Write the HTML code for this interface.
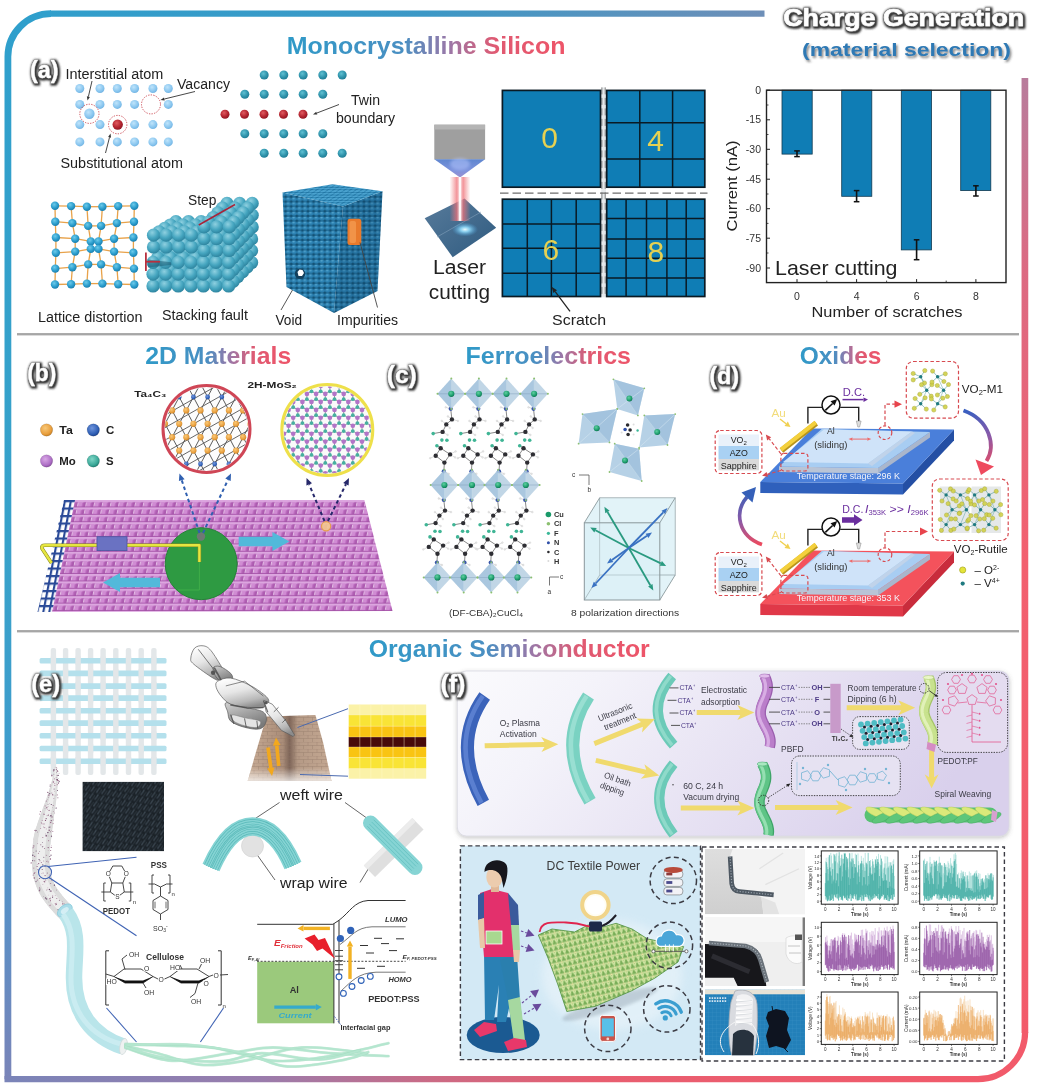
<!DOCTYPE html>
<html><head><meta charset="utf-8"><title>Charge Generation (material selection)</title>
<style>html,body{margin:0;padding:0;background:#fff}svg{display:block;filter:blur(0.7px)}text{font-family:"Liberation Sans",sans-serif}</style>
</head><body>
<svg width="1040" height="1087" viewBox="0 0 1040 1087">
<rect width="1040" height="1087" fill="#fff"/>
<!-- s_defs -->
<defs>
<filter id="lblsh" x="-30%" y="-30%" width="170%" height="170%"><feMorphology in="SourceAlpha" operator="dilate" radius="0.5" result="d"/><feGaussianBlur in="d" stdDeviation="1.2" result="b"/><feOffset in="b" dx="1.1" dy="0.9" result="o"/><feComponentTransfer in="o" result="o2"><feFuncA type="linear" slope="1.15"/></feComponentTransfer><feFlood flood-color="#3c3c3c"/><feComposite in2="o2" operator="in" result="sh"/><feMerge><feMergeNode in="sh"/><feMergeNode in="SourceGraphic"/></feMerge></filter>
<filter id="txtsh" x="-10%" y="-30%" width="130%" height="180%"><feDropShadow dx="1.5" dy="2" stdDeviation="1.2" flood-color="#333" flood-opacity="0.6"/></filter>
<filter id="soft"><feGaussianBlur stdDeviation="0.6"/></filter>
<filter id="soft2"><feGaussianBlur stdDeviation="1.5"/></filter>
<filter id="soft4"><feGaussianBlur stdDeviation="4"/></filter>
<filter id="boxsh" x="-5%" y="-5%" width="110%" height="115%"><feDropShadow dx="0" dy="1.5" stdDeviation="2" flood-color="#555" flood-opacity="0.35"/></filter>
<linearGradient id="gTitle" x1="0" y1="0" x2="1" y2="0"><stop offset="0" stop-color="#2f9ac8"/><stop offset="0.42" stop-color="#4a8fc2"/><stop offset="0.58" stop-color="#9a78a8"/><stop offset="0.75" stop-color="#e05a72"/><stop offset="1" stop-color="#ee5468"/></linearGradient>
<linearGradient id="gTop" gradientUnits="userSpaceOnUse" x1="8" y1="0" x2="765" y2="0"><stop offset="0" stop-color="#2f9fcc"/><stop offset="0.55" stop-color="#3c98c6"/><stop offset="1" stop-color="#6e8fb8"/></linearGradient>
<linearGradient id="gLeft" gradientUnits="userSpaceOnUse" x1="0" y1="13" x2="0" y2="1080"><stop offset="0" stop-color="#2f9fcc"/><stop offset="0.5" stop-color="#38a2ca"/><stop offset="0.7" stop-color="#3f9ccc"/><stop offset="0.85" stop-color="#5b8fc5"/><stop offset="1" stop-color="#7a84b8"/></linearGradient>
<linearGradient id="gBot" gradientUnits="userSpaceOnUse" x1="8" y1="0" x2="1026" y2="0"><stop offset="0" stop-color="#7a84b8"/><stop offset="0.25" stop-color="#9a7cac"/><stop offset="0.42" stop-color="#cc6a84"/><stop offset="0.58" stop-color="#e85e70"/><stop offset="1" stop-color="#f25a6a"/></linearGradient>
<linearGradient id="gRight" gradientUnits="userSpaceOnUse" x1="0" y1="78" x2="0" y2="1040"><stop offset="0" stop-color="#b87c9c"/><stop offset="0.2" stop-color="#dc6a82"/><stop offset="0.5" stop-color="#f2606f"/><stop offset="1" stop-color="#f25a6a"/></linearGradient>
<radialGradient id="gAtomLB" cx="0.4" cy="0.35" r="0.7"><stop offset="0" stop-color="#bfe4fb"/><stop offset="0.7" stop-color="#86c4ee"/><stop offset="1" stop-color="#6fb0e0"/></radialGradient>
<radialGradient id="gAtomTeal" cx="0.4" cy="0.35" r="0.7"><stop offset="0" stop-color="#5fc0d2"/><stop offset="0.6" stop-color="#2f93ab"/><stop offset="1" stop-color="#1f7a92"/></radialGradient>
<radialGradient id="gAtomRed" cx="0.4" cy="0.35" r="0.7"><stop offset="0" stop-color="#e05a60"/><stop offset="0.6" stop-color="#b42530"/><stop offset="1" stop-color="#8a1420"/></radialGradient>
<radialGradient id="gAtomB" cx="0.4" cy="0.35" r="0.7"><stop offset="0" stop-color="#6ccaea"/><stop offset="0.6" stop-color="#2a9ccc"/><stop offset="1" stop-color="#1a7aa8"/></radialGradient>
<radialGradient id="gAtomS" cx="0.4" cy="0.3" r="0.75"><stop offset="0" stop-color="#8ed0e0"/><stop offset="0.55" stop-color="#46a6c0"/><stop offset="1" stop-color="#2a7f9a"/></radialGradient>
</defs>
<!-- s_frame -->
<path d="M764.5,13.6 H50" fill="none" stroke="url(#gTop)" stroke-width="6.3" />
<path d="M51,13.6 A43.1,43.1 0 0 0 7.9,56.7 V1079.2" fill="none" stroke="url(#gLeft)" stroke-width="6.8" stroke-linejoin="round"/>
<path d="M4.5,1079.2 H978 A47.1,47.1 0 0 0 1025.1,1032.1" fill="none" stroke="url(#gBot)" stroke-width="6.2" />
<path d="M1024.9,78 V1033" fill="none" stroke="url(#gRight)" stroke-width="6.7" />
<line x1="17.0" y1="334.8" x2="1019.0" y2="334.8" stroke="#c4c4c4" stroke-width="2.4" opacity="0.6"/>
<line x1="17.0" y1="333.9" x2="1019.0" y2="333.9" stroke="#959595" stroke-width="1.5" />
<line x1="17.0" y1="631.8" x2="1019.0" y2="631.8" stroke="#c4c4c4" stroke-width="2.4" opacity="0.6"/>
<line x1="17.0" y1="630.9" x2="1019.0" y2="630.9" stroke="#959595" stroke-width="1.5" />
<text x="783.3" y="25.6" font-size="23.5" font-weight="bold" fill="#707070" textLength="240.8" lengthAdjust="spacingAndGlyphs" stroke="#707070" stroke-width="1.5" stroke-linejoin="round" filter="url(#lblsh)">Charge Generation</text>
<text x="783.3" y="25.6" font-size="23.5" font-weight="bold" fill="#fff" textLength="240.8" lengthAdjust="spacingAndGlyphs" stroke="#fff" stroke-width="0.6">Charge Generation</text>
<text x="802.0" y="56.4" font-size="19" font-weight="bold" fill="#2e79b4" textLength="209.0" lengthAdjust="spacingAndGlyphs" filter="url(#txtsh)">(material selection)</text>
<text x="286.7" y="54.0" font-size="24" font-weight="bold" fill="url(#gTitle)" textLength="278.7" lengthAdjust="spacingAndGlyphs">Monocrystalline Silicon</text>
<text x="145.2" y="363.6" font-size="24" font-weight="bold" fill="url(#gTitle)" textLength="146.0" lengthAdjust="spacingAndGlyphs">2D Materials</text>
<text x="465.5" y="363.6" font-size="24" font-weight="bold" fill="url(#gTitle)" textLength="165.5" lengthAdjust="spacingAndGlyphs">Ferroelectrics</text>
<text x="799.7" y="363.6" font-size="24" font-weight="bold" fill="url(#gTitle)" textLength="81.7" lengthAdjust="spacingAndGlyphs">Oxides</text>
<text x="368.7" y="656.6" font-size="23.5" font-weight="bold" fill="url(#gTitle)" textLength="281.0" lengthAdjust="spacingAndGlyphs">Organic Semiconductor</text>
<!-- s_a -->
<text x="30.0" y="78.0" font-size="23.5" font-weight="bold" fill="#777" textLength="28.5" lengthAdjust="spacingAndGlyphs" stroke="#777" stroke-width="1.1" stroke-linejoin="round" filter="url(#lblsh)">(a)</text><text x="30.0" y="78.0" font-size="23.5" font-weight="bold" fill="#fff" textLength="28.5" lengthAdjust="spacingAndGlyphs" stroke="#fff" stroke-width="0.3">(a)</text>
<circle cx="79.8" cy="88.5" r="4.5" fill="url(#gAtomLB)" />
<circle cx="100.0" cy="88.5" r="4.5" fill="url(#gAtomLB)" />
<circle cx="117.3" cy="88.5" r="4.5" fill="url(#gAtomLB)" />
<circle cx="134.6" cy="88.5" r="4.5" fill="url(#gAtomLB)" />
<circle cx="152.9" cy="88.5" r="4.5" fill="url(#gAtomLB)" />
<circle cx="168.3" cy="88.5" r="4.5" fill="url(#gAtomLB)" />
<circle cx="79.8" cy="104.4" r="4.5" fill="url(#gAtomLB)" />
<circle cx="100.0" cy="104.4" r="4.5" fill="url(#gAtomLB)" />
<circle cx="117.3" cy="104.4" r="4.5" fill="url(#gAtomLB)" />
<circle cx="134.6" cy="104.4" r="4.5" fill="url(#gAtomLB)" />
<circle cx="168.3" cy="104.4" r="4.5" fill="url(#gAtomLB)" />
<circle cx="79.8" cy="124.6" r="4.5" fill="url(#gAtomLB)" />
<circle cx="100.0" cy="124.6" r="4.5" fill="url(#gAtomLB)" />
<circle cx="134.6" cy="124.6" r="4.5" fill="url(#gAtomLB)" />
<circle cx="152.9" cy="124.6" r="4.5" fill="url(#gAtomLB)" />
<circle cx="168.3" cy="124.6" r="4.5" fill="url(#gAtomLB)" />
<circle cx="79.8" cy="141.9" r="4.5" fill="url(#gAtomLB)" />
<circle cx="100.0" cy="141.9" r="4.5" fill="url(#gAtomLB)" />
<circle cx="117.3" cy="141.9" r="4.5" fill="url(#gAtomLB)" />
<circle cx="134.6" cy="141.9" r="4.5" fill="url(#gAtomLB)" />
<circle cx="152.9" cy="141.9" r="4.5" fill="url(#gAtomLB)" />
<circle cx="168.3" cy="141.9" r="4.5" fill="url(#gAtomLB)" />
<circle cx="89.4" cy="113.8" r="5.2" fill="url(#gAtomLB)" />
<circle cx="89.4" cy="113.8" r="9.6" fill="none" stroke="#c8404a" stroke-width="0.9" stroke-dasharray="1.3 1.3"/>
<circle cx="151.0" cy="104.4" r="9.5" fill="none" stroke="#c8404a" stroke-width="0.9" stroke-dasharray="1.3 1.3"/>
<circle cx="117.7" cy="124.6" r="5.2" fill="url(#gAtomRed)" />
<circle cx="117.7" cy="124.6" r="9.2" fill="none" stroke="#c8404a" stroke-width="0.9" stroke-dasharray="1.3 1.3"/>
<text x="65.4" y="79.0" font-size="14" fill="#222" textLength="98.0" lengthAdjust="spacingAndGlyphs">Interstitial atom</text>
<text x="177.0" y="88.8" font-size="14" fill="#222" textLength="53.0" lengthAdjust="spacingAndGlyphs">Vacancy</text>
<text x="60.5" y="167.5" font-size="14" fill="#222" textLength="122.5" lengthAdjust="spacingAndGlyphs">Substitutional atom</text>
<line x1="92.0" y1="81.0" x2="88.4" y2="96.6" stroke="#333" stroke-width="0.9" /><polygon points="87.5,100.5 86.9,96.3 89.9,96.9" fill="#333"/>
<line x1="195.0" y1="91.5" x2="164.4" y2="99.0" stroke="#333" stroke-width="0.9" /><polygon points="160.5,100.0 164.0,97.6 164.7,100.5" fill="#333"/>
<line x1="105.5" y1="153.0" x2="109.5" y2="137.4" stroke="#333" stroke-width="0.9" /><polygon points="110.5,133.5 111.0,137.7 108.1,137.0" fill="#333"/>
<circle cx="264.2" cy="75.0" r="4.5" fill="url(#gAtomTeal)" />
<circle cx="283.8" cy="75.0" r="4.5" fill="url(#gAtomTeal)" />
<circle cx="303.2" cy="75.0" r="4.5" fill="url(#gAtomTeal)" />
<circle cx="322.8" cy="75.0" r="4.5" fill="url(#gAtomTeal)" />
<circle cx="342.2" cy="75.0" r="4.5" fill="url(#gAtomTeal)" />
<circle cx="244.8" cy="94.2" r="4.5" fill="url(#gAtomTeal)" />
<circle cx="264.2" cy="94.2" r="4.5" fill="url(#gAtomTeal)" />
<circle cx="283.8" cy="94.2" r="4.5" fill="url(#gAtomTeal)" />
<circle cx="303.2" cy="94.2" r="4.5" fill="url(#gAtomTeal)" />
<circle cx="322.8" cy="94.2" r="4.5" fill="url(#gAtomTeal)" />
<circle cx="225.0" cy="114.2" r="4.5" fill="url(#gAtomRed)" />
<circle cx="244.5" cy="114.2" r="4.5" fill="url(#gAtomRed)" />
<circle cx="264.0" cy="114.2" r="4.5" fill="url(#gAtomRed)" />
<circle cx="283.5" cy="114.2" r="4.5" fill="url(#gAtomRed)" />
<circle cx="303.0" cy="114.2" r="4.5" fill="url(#gAtomRed)" />
<circle cx="244.8" cy="133.8" r="4.5" fill="url(#gAtomTeal)" />
<circle cx="264.2" cy="133.8" r="4.5" fill="url(#gAtomTeal)" />
<circle cx="283.8" cy="133.8" r="4.5" fill="url(#gAtomTeal)" />
<circle cx="303.2" cy="133.8" r="4.5" fill="url(#gAtomTeal)" />
<circle cx="322.8" cy="133.8" r="4.5" fill="url(#gAtomTeal)" />
<circle cx="264.2" cy="153.2" r="4.5" fill="url(#gAtomTeal)" />
<circle cx="283.8" cy="153.2" r="4.5" fill="url(#gAtomTeal)" />
<circle cx="303.2" cy="153.2" r="4.5" fill="url(#gAtomTeal)" />
<circle cx="322.8" cy="153.2" r="4.5" fill="url(#gAtomTeal)" />
<circle cx="342.2" cy="153.2" r="4.5" fill="url(#gAtomTeal)" />
<text x="351.0" y="104.6" font-size="14" fill="#222" textLength="29.0" lengthAdjust="spacingAndGlyphs">Twin</text>
<text x="336.0" y="122.6" font-size="14" fill="#222" textLength="59.0" lengthAdjust="spacingAndGlyphs">boundary</text>
<line x1="339.0" y1="104.5" x2="316.7" y2="113.1" stroke="#333" stroke-width="0.9" /><polygon points="313.0,114.5 316.2,111.7 317.3,114.5" fill="#333"/>
<line x1="55.0" y1="205.8" x2="71.1" y2="206.1" stroke="#e8a24a" stroke-width="1.3" />
<line x1="55.0" y1="205.8" x2="55.3" y2="221.7" stroke="#e8a24a" stroke-width="1.3" />
<line x1="71.1" y1="206.1" x2="86.9" y2="206.7" stroke="#e8a24a" stroke-width="1.3" />
<line x1="71.1" y1="206.1" x2="72.4" y2="223.1" stroke="#e8a24a" stroke-width="1.3" />
<line x1="86.9" y1="206.7" x2="102.4" y2="206.7" stroke="#e8a24a" stroke-width="1.3" />
<line x1="86.9" y1="206.7" x2="88.2" y2="225.9" stroke="#e8a24a" stroke-width="1.3" />
<line x1="102.4" y1="206.7" x2="118.2" y2="206.1" stroke="#e8a24a" stroke-width="1.3" />
<line x1="102.4" y1="206.7" x2="101.1" y2="225.9" stroke="#e8a24a" stroke-width="1.3" />
<line x1="118.2" y1="206.1" x2="134.3" y2="205.8" stroke="#e8a24a" stroke-width="1.3" />
<line x1="118.2" y1="206.1" x2="116.9" y2="223.1" stroke="#e8a24a" stroke-width="1.3" />
<line x1="134.3" y1="205.8" x2="134.0" y2="221.7" stroke="#e8a24a" stroke-width="1.3" />
<line x1="55.3" y1="221.7" x2="72.4" y2="223.1" stroke="#e8a24a" stroke-width="1.3" />
<line x1="55.3" y1="221.7" x2="55.9" y2="237.5" stroke="#e8a24a" stroke-width="1.3" />
<line x1="72.4" y1="223.1" x2="88.2" y2="225.9" stroke="#e8a24a" stroke-width="1.3" />
<line x1="72.4" y1="223.1" x2="75.2" y2="238.7" stroke="#e8a24a" stroke-width="1.3" />
<line x1="88.2" y1="225.9" x2="101.1" y2="225.9" stroke="#e8a24a" stroke-width="1.3" />
<line x1="88.2" y1="225.9" x2="90.8" y2="241.4" stroke="#e8a24a" stroke-width="1.3" />
<line x1="101.1" y1="225.9" x2="116.9" y2="223.1" stroke="#e8a24a" stroke-width="1.3" />
<line x1="101.1" y1="225.9" x2="98.5" y2="241.4" stroke="#e8a24a" stroke-width="1.3" />
<line x1="116.9" y1="223.1" x2="134.0" y2="221.7" stroke="#e8a24a" stroke-width="1.3" />
<line x1="116.9" y1="223.1" x2="114.1" y2="238.7" stroke="#e8a24a" stroke-width="1.3" />
<line x1="134.0" y1="221.7" x2="133.4" y2="237.5" stroke="#e8a24a" stroke-width="1.3" />
<line x1="55.9" y1="237.5" x2="75.2" y2="238.7" stroke="#e8a24a" stroke-width="1.3" />
<line x1="55.9" y1="237.5" x2="55.9" y2="252.8" stroke="#e8a24a" stroke-width="1.3" />
<line x1="75.2" y1="238.7" x2="90.8" y2="241.4" stroke="#e8a24a" stroke-width="1.3" />
<line x1="75.2" y1="238.7" x2="75.2" y2="251.6" stroke="#e8a24a" stroke-width="1.3" />
<line x1="90.8" y1="241.4" x2="98.5" y2="241.4" stroke="#e8a24a" stroke-width="1.3" />
<line x1="90.8" y1="241.4" x2="90.8" y2="248.9" stroke="#e8a24a" stroke-width="1.3" />
<line x1="98.5" y1="241.4" x2="114.1" y2="238.7" stroke="#e8a24a" stroke-width="1.3" />
<line x1="98.5" y1="241.4" x2="98.5" y2="248.9" stroke="#e8a24a" stroke-width="1.3" />
<line x1="114.1" y1="238.7" x2="133.4" y2="237.5" stroke="#e8a24a" stroke-width="1.3" />
<line x1="114.1" y1="238.7" x2="114.1" y2="251.6" stroke="#e8a24a" stroke-width="1.3" />
<line x1="133.4" y1="237.5" x2="133.4" y2="252.8" stroke="#e8a24a" stroke-width="1.3" />
<line x1="55.9" y1="252.8" x2="75.2" y2="251.6" stroke="#e8a24a" stroke-width="1.3" />
<line x1="55.9" y1="252.8" x2="55.3" y2="268.6" stroke="#e8a24a" stroke-width="1.3" />
<line x1="75.2" y1="251.6" x2="90.8" y2="248.9" stroke="#e8a24a" stroke-width="1.3" />
<line x1="75.2" y1="251.6" x2="72.4" y2="267.2" stroke="#e8a24a" stroke-width="1.3" />
<line x1="90.8" y1="248.9" x2="98.5" y2="248.9" stroke="#e8a24a" stroke-width="1.3" />
<line x1="90.8" y1="248.9" x2="88.2" y2="264.4" stroke="#e8a24a" stroke-width="1.3" />
<line x1="98.5" y1="248.9" x2="114.1" y2="251.6" stroke="#e8a24a" stroke-width="1.3" />
<line x1="98.5" y1="248.9" x2="101.1" y2="264.4" stroke="#e8a24a" stroke-width="1.3" />
<line x1="114.1" y1="251.6" x2="133.4" y2="252.8" stroke="#e8a24a" stroke-width="1.3" />
<line x1="114.1" y1="251.6" x2="116.9" y2="267.2" stroke="#e8a24a" stroke-width="1.3" />
<line x1="133.4" y1="252.8" x2="134.0" y2="268.6" stroke="#e8a24a" stroke-width="1.3" />
<line x1="55.3" y1="268.6" x2="72.4" y2="267.2" stroke="#e8a24a" stroke-width="1.3" />
<line x1="55.3" y1="268.6" x2="55.0" y2="284.5" stroke="#e8a24a" stroke-width="1.3" />
<line x1="72.4" y1="267.2" x2="88.2" y2="264.4" stroke="#e8a24a" stroke-width="1.3" />
<line x1="72.4" y1="267.2" x2="71.1" y2="284.2" stroke="#e8a24a" stroke-width="1.3" />
<line x1="88.2" y1="264.4" x2="101.1" y2="264.4" stroke="#e8a24a" stroke-width="1.3" />
<line x1="88.2" y1="264.4" x2="86.9" y2="283.6" stroke="#e8a24a" stroke-width="1.3" />
<line x1="101.1" y1="264.4" x2="116.9" y2="267.2" stroke="#e8a24a" stroke-width="1.3" />
<line x1="101.1" y1="264.4" x2="102.4" y2="283.6" stroke="#e8a24a" stroke-width="1.3" />
<line x1="116.9" y1="267.2" x2="134.0" y2="268.6" stroke="#e8a24a" stroke-width="1.3" />
<line x1="116.9" y1="267.2" x2="118.2" y2="284.2" stroke="#e8a24a" stroke-width="1.3" />
<line x1="134.0" y1="268.6" x2="134.3" y2="284.5" stroke="#e8a24a" stroke-width="1.3" />
<line x1="55.0" y1="284.5" x2="71.1" y2="284.2" stroke="#e8a24a" stroke-width="1.3" />
<line x1="71.1" y1="284.2" x2="86.9" y2="283.6" stroke="#e8a24a" stroke-width="1.3" />
<line x1="86.9" y1="283.6" x2="102.4" y2="283.6" stroke="#e8a24a" stroke-width="1.3" />
<line x1="102.4" y1="283.6" x2="118.2" y2="284.2" stroke="#e8a24a" stroke-width="1.3" />
<line x1="118.2" y1="284.2" x2="134.3" y2="284.5" stroke="#e8a24a" stroke-width="1.3" />
<circle cx="55.0" cy="205.8" r="4.2" fill="url(#gAtomB)" />
<circle cx="71.1" cy="206.1" r="4.2" fill="url(#gAtomB)" />
<circle cx="86.9" cy="206.7" r="4.2" fill="url(#gAtomB)" />
<circle cx="102.4" cy="206.7" r="4.2" fill="url(#gAtomB)" />
<circle cx="118.2" cy="206.1" r="4.2" fill="url(#gAtomB)" />
<circle cx="134.3" cy="205.8" r="4.2" fill="url(#gAtomB)" />
<circle cx="55.3" cy="221.7" r="4.2" fill="url(#gAtomB)" />
<circle cx="72.4" cy="223.1" r="4.2" fill="url(#gAtomB)" />
<circle cx="88.2" cy="225.9" r="4.2" fill="url(#gAtomB)" />
<circle cx="101.1" cy="225.9" r="4.2" fill="url(#gAtomB)" />
<circle cx="116.9" cy="223.1" r="4.2" fill="url(#gAtomB)" />
<circle cx="134.0" cy="221.7" r="4.2" fill="url(#gAtomB)" />
<circle cx="55.9" cy="237.5" r="4.2" fill="url(#gAtomB)" />
<circle cx="75.2" cy="238.7" r="4.2" fill="url(#gAtomB)" />
<circle cx="90.8" cy="241.4" r="4.2" fill="url(#gAtomB)" />
<circle cx="98.5" cy="241.4" r="4.2" fill="url(#gAtomB)" />
<circle cx="114.1" cy="238.7" r="4.2" fill="url(#gAtomB)" />
<circle cx="133.4" cy="237.5" r="4.2" fill="url(#gAtomB)" />
<circle cx="55.9" cy="252.8" r="4.2" fill="url(#gAtomB)" />
<circle cx="75.2" cy="251.6" r="4.2" fill="url(#gAtomB)" />
<circle cx="90.8" cy="248.9" r="4.2" fill="url(#gAtomB)" />
<circle cx="98.5" cy="248.9" r="4.2" fill="url(#gAtomB)" />
<circle cx="114.1" cy="251.6" r="4.2" fill="url(#gAtomB)" />
<circle cx="133.4" cy="252.8" r="4.2" fill="url(#gAtomB)" />
<circle cx="55.3" cy="268.6" r="4.2" fill="url(#gAtomB)" />
<circle cx="72.4" cy="267.2" r="4.2" fill="url(#gAtomB)" />
<circle cx="88.2" cy="264.4" r="4.2" fill="url(#gAtomB)" />
<circle cx="101.1" cy="264.4" r="4.2" fill="url(#gAtomB)" />
<circle cx="116.9" cy="267.2" r="4.2" fill="url(#gAtomB)" />
<circle cx="134.0" cy="268.6" r="4.2" fill="url(#gAtomB)" />
<circle cx="55.0" cy="284.5" r="4.2" fill="url(#gAtomB)" />
<circle cx="71.1" cy="284.2" r="4.2" fill="url(#gAtomB)" />
<circle cx="86.9" cy="283.6" r="4.2" fill="url(#gAtomB)" />
<circle cx="102.4" cy="283.6" r="4.2" fill="url(#gAtomB)" />
<circle cx="118.2" cy="284.2" r="4.2" fill="url(#gAtomB)" />
<circle cx="134.3" cy="284.5" r="4.2" fill="url(#gAtomB)" />
<text x="38.0" y="322.0" font-size="14" fill="#222" textLength="104.5" lengthAdjust="spacingAndGlyphs">Lattice distortion</text>
<g><circle cx="176.0" cy="262.5" r="6.6" fill="url(#gAtomS)" /><circle cx="188.6" cy="262.5" r="6.6" fill="url(#gAtomS)" /><circle cx="201.2" cy="262.5" r="6.6" fill="url(#gAtomS)" /><circle cx="213.8" cy="262.5" r="6.6" fill="url(#gAtomS)" /><circle cx="226.4" cy="262.5" r="6.6" fill="url(#gAtomS)" /><circle cx="239.0" cy="262.5" r="6.6" fill="url(#gAtomS)" /><circle cx="251.6" cy="262.5" r="6.6" fill="url(#gAtomS)" /><circle cx="176.0" cy="250.7" r="6.6" fill="url(#gAtomS)" /><circle cx="188.6" cy="250.7" r="6.6" fill="url(#gAtomS)" /><circle cx="201.2" cy="250.7" r="6.6" fill="url(#gAtomS)" /><circle cx="213.8" cy="250.7" r="6.6" fill="url(#gAtomS)" /><circle cx="226.4" cy="250.7" r="6.6" fill="url(#gAtomS)" /><circle cx="239.0" cy="250.7" r="6.6" fill="url(#gAtomS)" /><circle cx="251.6" cy="250.7" r="6.6" fill="url(#gAtomS)" /><circle cx="176.0" cy="238.9" r="6.6" fill="url(#gAtomS)" /><circle cx="188.6" cy="238.9" r="6.6" fill="url(#gAtomS)" /><circle cx="201.2" cy="238.9" r="6.6" fill="url(#gAtomS)" /><circle cx="213.8" cy="238.9" r="6.6" fill="url(#gAtomS)" /><circle cx="226.4" cy="238.9" r="6.6" fill="url(#gAtomS)" /><circle cx="239.0" cy="238.9" r="6.6" fill="url(#gAtomS)" /><circle cx="251.6" cy="238.9" r="6.6" fill="url(#gAtomS)" /><circle cx="171.4" cy="267.2" r="6.6" fill="url(#gAtomS)" /><circle cx="184.0" cy="267.2" r="6.6" fill="url(#gAtomS)" /><circle cx="196.6" cy="267.2" r="6.6" fill="url(#gAtomS)" /><circle cx="209.2" cy="267.2" r="6.6" fill="url(#gAtomS)" /><circle cx="221.8" cy="267.2" r="6.6" fill="url(#gAtomS)" /><circle cx="234.4" cy="267.2" r="6.6" fill="url(#gAtomS)" /><circle cx="247.0" cy="267.2" r="6.6" fill="url(#gAtomS)" /><circle cx="171.4" cy="255.4" r="6.6" fill="url(#gAtomS)" /><circle cx="184.0" cy="255.4" r="6.6" fill="url(#gAtomS)" /><circle cx="196.6" cy="255.4" r="6.6" fill="url(#gAtomS)" /><circle cx="209.2" cy="255.4" r="6.6" fill="url(#gAtomS)" /><circle cx="221.8" cy="255.4" r="6.6" fill="url(#gAtomS)" /><circle cx="234.4" cy="255.4" r="6.6" fill="url(#gAtomS)" /><circle cx="247.0" cy="255.4" r="6.6" fill="url(#gAtomS)" /><circle cx="171.4" cy="243.6" r="6.6" fill="url(#gAtomS)" /><circle cx="184.0" cy="243.6" r="6.6" fill="url(#gAtomS)" /><circle cx="196.6" cy="243.6" r="6.6" fill="url(#gAtomS)" /><circle cx="209.2" cy="243.6" r="6.6" fill="url(#gAtomS)" /><circle cx="221.8" cy="243.6" r="6.6" fill="url(#gAtomS)" /><circle cx="234.4" cy="243.6" r="6.6" fill="url(#gAtomS)" /><circle cx="247.0" cy="243.6" r="6.6" fill="url(#gAtomS)" /><circle cx="166.8" cy="271.9" r="6.6" fill="url(#gAtomS)" /><circle cx="179.4" cy="271.9" r="6.6" fill="url(#gAtomS)" /><circle cx="192.0" cy="271.9" r="6.6" fill="url(#gAtomS)" /><circle cx="204.6" cy="271.9" r="6.6" fill="url(#gAtomS)" /><circle cx="217.2" cy="271.9" r="6.6" fill="url(#gAtomS)" /><circle cx="229.8" cy="271.9" r="6.6" fill="url(#gAtomS)" /><circle cx="242.4" cy="271.9" r="6.6" fill="url(#gAtomS)" /><circle cx="166.8" cy="260.1" r="6.6" fill="url(#gAtomS)" /><circle cx="179.4" cy="260.1" r="6.6" fill="url(#gAtomS)" /><circle cx="192.0" cy="260.1" r="6.6" fill="url(#gAtomS)" /><circle cx="204.6" cy="260.1" r="6.6" fill="url(#gAtomS)" /><circle cx="217.2" cy="260.1" r="6.6" fill="url(#gAtomS)" /><circle cx="229.8" cy="260.1" r="6.6" fill="url(#gAtomS)" /><circle cx="242.4" cy="260.1" r="6.6" fill="url(#gAtomS)" /><circle cx="166.8" cy="248.3" r="6.6" fill="url(#gAtomS)" /><circle cx="179.4" cy="248.3" r="6.6" fill="url(#gAtomS)" /><circle cx="192.0" cy="248.3" r="6.6" fill="url(#gAtomS)" /><circle cx="204.6" cy="248.3" r="6.6" fill="url(#gAtomS)" /><circle cx="217.2" cy="248.3" r="6.6" fill="url(#gAtomS)" /><circle cx="229.8" cy="248.3" r="6.6" fill="url(#gAtomS)" /><circle cx="242.4" cy="248.3" r="6.6" fill="url(#gAtomS)" /><circle cx="162.2" cy="276.6" r="6.6" fill="url(#gAtomS)" /><circle cx="174.8" cy="276.6" r="6.6" fill="url(#gAtomS)" /><circle cx="187.4" cy="276.6" r="6.6" fill="url(#gAtomS)" /><circle cx="200.0" cy="276.6" r="6.6" fill="url(#gAtomS)" /><circle cx="212.6" cy="276.6" r="6.6" fill="url(#gAtomS)" /><circle cx="225.2" cy="276.6" r="6.6" fill="url(#gAtomS)" /><circle cx="237.8" cy="276.6" r="6.6" fill="url(#gAtomS)" /><circle cx="162.2" cy="264.8" r="6.6" fill="url(#gAtomS)" /><circle cx="174.8" cy="264.8" r="6.6" fill="url(#gAtomS)" /><circle cx="187.4" cy="264.8" r="6.6" fill="url(#gAtomS)" /><circle cx="200.0" cy="264.8" r="6.6" fill="url(#gAtomS)" /><circle cx="212.6" cy="264.8" r="6.6" fill="url(#gAtomS)" /><circle cx="225.2" cy="264.8" r="6.6" fill="url(#gAtomS)" /><circle cx="237.8" cy="264.8" r="6.6" fill="url(#gAtomS)" /><circle cx="162.2" cy="253.0" r="6.6" fill="url(#gAtomS)" /><circle cx="174.8" cy="253.0" r="6.6" fill="url(#gAtomS)" /><circle cx="187.4" cy="253.0" r="6.6" fill="url(#gAtomS)" /><circle cx="200.0" cy="253.0" r="6.6" fill="url(#gAtomS)" /><circle cx="212.6" cy="253.0" r="6.6" fill="url(#gAtomS)" /><circle cx="225.2" cy="253.0" r="6.6" fill="url(#gAtomS)" /><circle cx="237.8" cy="253.0" r="6.6" fill="url(#gAtomS)" /><circle cx="157.6" cy="281.3" r="6.6" fill="url(#gAtomS)" /><circle cx="170.2" cy="281.3" r="6.6" fill="url(#gAtomS)" /><circle cx="182.8" cy="281.3" r="6.6" fill="url(#gAtomS)" /><circle cx="195.4" cy="281.3" r="6.6" fill="url(#gAtomS)" /><circle cx="208.0" cy="281.3" r="6.6" fill="url(#gAtomS)" /><circle cx="220.6" cy="281.3" r="6.6" fill="url(#gAtomS)" /><circle cx="233.2" cy="281.3" r="6.6" fill="url(#gAtomS)" /><circle cx="157.6" cy="269.5" r="6.6" fill="url(#gAtomS)" /><circle cx="170.2" cy="269.5" r="6.6" fill="url(#gAtomS)" /><circle cx="182.8" cy="269.5" r="6.6" fill="url(#gAtomS)" /><circle cx="195.4" cy="269.5" r="6.6" fill="url(#gAtomS)" /><circle cx="208.0" cy="269.5" r="6.6" fill="url(#gAtomS)" /><circle cx="220.6" cy="269.5" r="6.6" fill="url(#gAtomS)" /><circle cx="233.2" cy="269.5" r="6.6" fill="url(#gAtomS)" /><circle cx="157.6" cy="257.7" r="6.6" fill="url(#gAtomS)" /><circle cx="170.2" cy="257.7" r="6.6" fill="url(#gAtomS)" /><circle cx="182.8" cy="257.7" r="6.6" fill="url(#gAtomS)" /><circle cx="195.4" cy="257.7" r="6.6" fill="url(#gAtomS)" /><circle cx="208.0" cy="257.7" r="6.6" fill="url(#gAtomS)" /><circle cx="220.6" cy="257.7" r="6.6" fill="url(#gAtomS)" /><circle cx="233.2" cy="257.7" r="6.6" fill="url(#gAtomS)" /><circle cx="153.0" cy="286.0" r="6.6" fill="url(#gAtomS)" /><circle cx="165.6" cy="286.0" r="6.6" fill="url(#gAtomS)" /><circle cx="178.2" cy="286.0" r="6.6" fill="url(#gAtomS)" /><circle cx="190.8" cy="286.0" r="6.6" fill="url(#gAtomS)" /><circle cx="203.4" cy="286.0" r="6.6" fill="url(#gAtomS)" /><circle cx="216.0" cy="286.0" r="6.6" fill="url(#gAtomS)" /><circle cx="228.6" cy="286.0" r="6.6" fill="url(#gAtomS)" /><circle cx="153.0" cy="274.2" r="6.6" fill="url(#gAtomS)" /><circle cx="165.6" cy="274.2" r="6.6" fill="url(#gAtomS)" /><circle cx="178.2" cy="274.2" r="6.6" fill="url(#gAtomS)" /><circle cx="190.8" cy="274.2" r="6.6" fill="url(#gAtomS)" /><circle cx="203.4" cy="274.2" r="6.6" fill="url(#gAtomS)" /><circle cx="216.0" cy="274.2" r="6.6" fill="url(#gAtomS)" /><circle cx="228.6" cy="274.2" r="6.6" fill="url(#gAtomS)" /><circle cx="153.0" cy="262.4" r="6.6" fill="url(#gAtomS)" /><circle cx="165.6" cy="262.4" r="6.6" fill="url(#gAtomS)" /><circle cx="178.2" cy="262.4" r="6.6" fill="url(#gAtomS)" /><circle cx="190.8" cy="262.4" r="6.6" fill="url(#gAtomS)" /><circle cx="203.4" cy="262.4" r="6.6" fill="url(#gAtomS)" /><circle cx="216.0" cy="262.4" r="6.6" fill="url(#gAtomS)" /><circle cx="228.6" cy="262.4" r="6.6" fill="url(#gAtomS)" /><circle cx="175.9" cy="233.4" r="6.6" fill="url(#gAtomS)" /><circle cx="188.5" cy="233.4" r="6.6" fill="url(#gAtomS)" /><circle cx="201.1" cy="233.4" r="6.6" fill="url(#gAtomS)" /><circle cx="213.7" cy="233.4" r="6.6" fill="url(#gAtomS)" /><circle cx="175.9" cy="221.6" r="6.6" fill="url(#gAtomS)" /><circle cx="188.5" cy="221.6" r="6.6" fill="url(#gAtomS)" /><circle cx="201.1" cy="221.6" r="6.6" fill="url(#gAtomS)" /><circle cx="213.7" cy="221.6" r="6.6" fill="url(#gAtomS)" /><circle cx="170.3" cy="236.8" r="6.6" fill="url(#gAtomS)" /><circle cx="182.9" cy="236.8" r="6.6" fill="url(#gAtomS)" /><circle cx="195.5" cy="236.8" r="6.6" fill="url(#gAtomS)" /><circle cx="208.1" cy="236.8" r="6.6" fill="url(#gAtomS)" /><circle cx="170.3" cy="225.0" r="6.6" fill="url(#gAtomS)" /><circle cx="182.9" cy="225.0" r="6.6" fill="url(#gAtomS)" /><circle cx="195.5" cy="225.0" r="6.6" fill="url(#gAtomS)" /><circle cx="208.1" cy="225.0" r="6.6" fill="url(#gAtomS)" /><circle cx="164.7" cy="240.2" r="6.6" fill="url(#gAtomS)" /><circle cx="177.3" cy="240.2" r="6.6" fill="url(#gAtomS)" /><circle cx="189.9" cy="240.2" r="6.6" fill="url(#gAtomS)" /><circle cx="202.5" cy="240.2" r="6.6" fill="url(#gAtomS)" /><circle cx="164.7" cy="228.4" r="6.6" fill="url(#gAtomS)" /><circle cx="177.3" cy="228.4" r="6.6" fill="url(#gAtomS)" /><circle cx="189.9" cy="228.4" r="6.6" fill="url(#gAtomS)" /><circle cx="202.5" cy="228.4" r="6.6" fill="url(#gAtomS)" /><circle cx="159.1" cy="243.6" r="6.6" fill="url(#gAtomS)" /><circle cx="171.7" cy="243.6" r="6.6" fill="url(#gAtomS)" /><circle cx="184.3" cy="243.6" r="6.6" fill="url(#gAtomS)" /><circle cx="196.9" cy="243.6" r="6.6" fill="url(#gAtomS)" /><circle cx="159.1" cy="231.8" r="6.6" fill="url(#gAtomS)" /><circle cx="171.7" cy="231.8" r="6.6" fill="url(#gAtomS)" /><circle cx="184.3" cy="231.8" r="6.6" fill="url(#gAtomS)" /><circle cx="196.9" cy="231.8" r="6.6" fill="url(#gAtomS)" /><circle cx="153.5" cy="247.0" r="6.6" fill="url(#gAtomS)" /><circle cx="166.1" cy="247.0" r="6.6" fill="url(#gAtomS)" /><circle cx="178.7" cy="247.0" r="6.6" fill="url(#gAtomS)" /><circle cx="191.3" cy="247.0" r="6.6" fill="url(#gAtomS)" /><circle cx="153.5" cy="235.2" r="6.6" fill="url(#gAtomS)" /><circle cx="166.1" cy="235.2" r="6.6" fill="url(#gAtomS)" /><circle cx="178.7" cy="235.2" r="6.6" fill="url(#gAtomS)" /><circle cx="191.3" cy="235.2" r="6.6" fill="url(#gAtomS)" /><circle cx="227.0" cy="227.0" r="6.6" fill="url(#gAtomS)" /><circle cx="239.6" cy="227.0" r="6.6" fill="url(#gAtomS)" /><circle cx="252.2" cy="227.0" r="6.6" fill="url(#gAtomS)" /><circle cx="227.0" cy="215.2" r="6.6" fill="url(#gAtomS)" /><circle cx="239.6" cy="215.2" r="6.6" fill="url(#gAtomS)" /><circle cx="252.2" cy="215.2" r="6.6" fill="url(#gAtomS)" /><circle cx="227.0" cy="203.4" r="6.6" fill="url(#gAtomS)" /><circle cx="239.6" cy="203.4" r="6.6" fill="url(#gAtomS)" /><circle cx="252.2" cy="203.4" r="6.6" fill="url(#gAtomS)" /><circle cx="222.4" cy="231.7" r="6.6" fill="url(#gAtomS)" /><circle cx="235.0" cy="231.7" r="6.6" fill="url(#gAtomS)" /><circle cx="247.6" cy="231.7" r="6.6" fill="url(#gAtomS)" /><circle cx="222.4" cy="219.9" r="6.6" fill="url(#gAtomS)" /><circle cx="235.0" cy="219.9" r="6.6" fill="url(#gAtomS)" /><circle cx="247.6" cy="219.9" r="6.6" fill="url(#gAtomS)" /><circle cx="222.4" cy="208.1" r="6.6" fill="url(#gAtomS)" /><circle cx="235.0" cy="208.1" r="6.6" fill="url(#gAtomS)" /><circle cx="247.6" cy="208.1" r="6.6" fill="url(#gAtomS)" /><circle cx="217.8" cy="236.4" r="6.6" fill="url(#gAtomS)" /><circle cx="230.4" cy="236.4" r="6.6" fill="url(#gAtomS)" /><circle cx="243.0" cy="236.4" r="6.6" fill="url(#gAtomS)" /><circle cx="217.8" cy="224.6" r="6.6" fill="url(#gAtomS)" /><circle cx="230.4" cy="224.6" r="6.6" fill="url(#gAtomS)" /><circle cx="243.0" cy="224.6" r="6.6" fill="url(#gAtomS)" /><circle cx="217.8" cy="212.8" r="6.6" fill="url(#gAtomS)" /><circle cx="230.4" cy="212.8" r="6.6" fill="url(#gAtomS)" /><circle cx="243.0" cy="212.8" r="6.6" fill="url(#gAtomS)" /><circle cx="213.2" cy="241.1" r="6.6" fill="url(#gAtomS)" /><circle cx="225.8" cy="241.1" r="6.6" fill="url(#gAtomS)" /><circle cx="238.4" cy="241.1" r="6.6" fill="url(#gAtomS)" /><circle cx="213.2" cy="229.3" r="6.6" fill="url(#gAtomS)" /><circle cx="225.8" cy="229.3" r="6.6" fill="url(#gAtomS)" /><circle cx="238.4" cy="229.3" r="6.6" fill="url(#gAtomS)" /><circle cx="213.2" cy="217.5" r="6.6" fill="url(#gAtomS)" /><circle cx="225.8" cy="217.5" r="6.6" fill="url(#gAtomS)" /><circle cx="238.4" cy="217.5" r="6.6" fill="url(#gAtomS)" /><circle cx="208.6" cy="245.8" r="6.6" fill="url(#gAtomS)" /><circle cx="221.2" cy="245.8" r="6.6" fill="url(#gAtomS)" /><circle cx="233.8" cy="245.8" r="6.6" fill="url(#gAtomS)" /><circle cx="208.6" cy="234.0" r="6.6" fill="url(#gAtomS)" /><circle cx="221.2" cy="234.0" r="6.6" fill="url(#gAtomS)" /><circle cx="233.8" cy="234.0" r="6.6" fill="url(#gAtomS)" /><circle cx="208.6" cy="222.2" r="6.6" fill="url(#gAtomS)" /><circle cx="221.2" cy="222.2" r="6.6" fill="url(#gAtomS)" /><circle cx="233.8" cy="222.2" r="6.6" fill="url(#gAtomS)" /><circle cx="204.0" cy="250.5" r="6.6" fill="url(#gAtomS)" /><circle cx="216.6" cy="250.5" r="6.6" fill="url(#gAtomS)" /><circle cx="229.2" cy="250.5" r="6.6" fill="url(#gAtomS)" /><circle cx="204.0" cy="238.7" r="6.6" fill="url(#gAtomS)" /><circle cx="216.6" cy="238.7" r="6.6" fill="url(#gAtomS)" /><circle cx="229.2" cy="238.7" r="6.6" fill="url(#gAtomS)" /><circle cx="204.0" cy="226.9" r="6.6" fill="url(#gAtomS)" /><circle cx="216.6" cy="226.9" r="6.6" fill="url(#gAtomS)" /><circle cx="229.2" cy="226.9" r="6.6" fill="url(#gAtomS)" /></g>
<polygon points="148.0,259.5 171.0,262.3 171.0,265.0 148.0,267.5" fill="#174f66" opacity="0.45" filter="url(#soft)"/>
<line x1="198.8" y1="225.0" x2="235.0" y2="204.5" stroke="#a8243a" stroke-width="1.6" />
<line x1="145.9" y1="252.5" x2="145.9" y2="271.0" stroke="#b8303e" stroke-width="1.8" />
<line x1="146.0" y1="261.7" x2="160.0" y2="261.7" stroke="#b8303e" stroke-width="1.8" />
<text x="188.0" y="205.2" font-size="14" fill="#222" textLength="28.3" lengthAdjust="spacingAndGlyphs">Step</text>
<text x="162.0" y="320.4" font-size="14" fill="#222" textLength="86.0" lengthAdjust="spacingAndGlyphs">Stacking fault</text>
<pattern id="pSph" width="5.6" height="4.8" patternUnits="userSpaceOnUse"><rect width="5.6" height="4.8" fill="#124e70"/><ellipse cx="2.8" cy="2.4" rx="2.7" ry="2.1" fill="#2d83b4"/><ellipse cx="2.4" cy="1.7" rx="1.3" ry="0.8" fill="#58a8d0"/></pattern>
<pattern id="pSphT" width="5.6" height="2.6" patternUnits="userSpaceOnUse" patternTransform="skewX(-55)"><rect width="5.6" height="2.6" fill="#2277a6"/><ellipse cx="2.8" cy="1.3" rx="2.6" ry="1.1" fill="#4aa2cf"/></pattern>
<polygon points="282.5,192.5 343.0,206.5 334.0,313.0 286.5,287.0" fill="url(#pSph)" />
<polygon points="343.0,206.5 382.5,191.3 377.5,291.0 334.0,313.0" fill="url(#pSph)" />
<polygon points="343.0,206.5 382.5,191.3 377.5,291.0 334.0,313.0" fill="#0c3f63" opacity="0.22"/>
<polygon points="282.5,192.5 332.5,184.3 382.5,191.3 343.0,206.5" fill="url(#pSphT)" />
<rect x="347.5" y="218.8" width="13.8" height="26.2" fill="#e87a2c" rx="2.5"/>
<rect x="349.5" y="221.0" width="6.5" height="22.0" fill="#f39a50" rx="2" opacity="0.8"/>
<circle cx="300.0" cy="273.8" r="5.2" fill="#123f5c" />
<path d="M297.5,272 l2,-2.5 l3,0.5 l1.5,3 l-2,3 l-3.5,0 z" fill="#fff" />
<line x1="292.5" y1="290.0" x2="281.0" y2="310.0" stroke="#444" stroke-width="0.9" />
<line x1="360.0" y1="242.5" x2="377.5" y2="307.5" stroke="#444" stroke-width="0.9" />
<text x="275.5" y="325.0" font-size="14" fill="#222" textLength="26.5" lengthAdjust="spacingAndGlyphs">Void</text>
<text x="337.0" y="325.0" font-size="14" fill="#222" textLength="61.0" lengthAdjust="spacingAndGlyphs">Impurities</text>
<linearGradient id="gCone" x1="0" y1="0" x2="0" y2="1"><stop offset="0" stop-color="#5f86cf"/><stop offset="0.6" stop-color="#7e94dd"/><stop offset="1" stop-color="#9a8fd0"/></linearGradient>
<linearGradient id="gWafer" x1="0" y1="0" x2="1" y2="1"><stop offset="0" stop-color="#587b9b"/><stop offset="1" stop-color="#2f5b80"/></linearGradient>
<radialGradient id="gGlow"><stop offset="0" stop-color="#e8fbff"/><stop offset="0.35" stop-color="#8fd8f8" stop-opacity="0.9"/><stop offset="1" stop-color="#4aa0d8" stop-opacity="0"/></radialGradient>
<linearGradient id="gBeam" x1="0" y1="0" x2="1" y2="0"><stop offset="0" stop-color="#f08080" stop-opacity="0"/><stop offset="0.35" stop-color="#ee7078" stop-opacity="0.75"/><stop offset="0.5" stop-color="#fff"/><stop offset="0.65" stop-color="#ee7078" stop-opacity="0.75"/><stop offset="1" stop-color="#f08080" stop-opacity="0"/></linearGradient>
<polygon points="424.7,218.2 464.5,198.4 496.2,227.8 452.7,257.3" fill="url(#gWafer)" />
<line x1="437.0" y1="237.0" x2="481.0" y2="212.0" stroke="#7f9db8" stroke-width="0.8" opacity="0.8"/>
<ellipse cx="465" cy="229.5" rx="13" ry="7" fill="url(#gGlow)"/>
<rect x="434.3" y="124.7" width="50.8" height="34.8" fill="#9f9f9f" />
<rect x="434.3" y="124.7" width="50.8" height="4.8" fill="#b4b4b4" />
<polygon points="434.3,159.3 485.1,159.3 460.0,177.5" fill="url(#gCone)" />
<ellipse cx="460" cy="164" rx="10" ry="6" fill="#b8c8ff" opacity="0.5" filter="url(#soft2)"/>
<rect x="449.5" y="177.0" width="21.0" height="44.0" fill="url(#gBeam)" />
<line x1="460.0" y1="177.0" x2="460.0" y2="220.5" stroke="#fff" stroke-width="1.3" />
<text x="433.0" y="273.8" font-size="20" fill="#222" textLength="53.0" lengthAdjust="spacingAndGlyphs">Laser</text>
<text x="428.8" y="298.8" font-size="20" fill="#222" textLength="61.2" lengthAdjust="spacingAndGlyphs">cutting</text>
<rect x="601.2" y="87.4" width="4.8" height="209.9" fill="#e6e9eb" />
<line x1="601.9" y1="87.4" x2="601.9" y2="297.3" stroke="#7a7a7a" stroke-width="0.9" stroke-dasharray="7 3.5"/>
<line x1="605.2" y1="87.4" x2="605.2" y2="297.3" stroke="#7a7a7a" stroke-width="0.9" stroke-dasharray="7 3.5"/>
<line x1="500.0" y1="193.2" x2="707.5" y2="193.2" stroke="#6e6e6e" stroke-width="1.3" stroke-dasharray="8.5 4"/>
<rect x="502.4" y="90.4" width="98.1" height="96.8" fill="#0f7db5" stroke="#0a1a24" stroke-width="1.7" />
<rect x="606.7" y="90.4" width="98.1" height="96.8" fill="#0f7db5" stroke="#0a1a24" stroke-width="1.7" />
<rect x="502.4" y="199.2" width="98.1" height="97.3" fill="#0f7db5" stroke="#0a1a24" stroke-width="1.7" />
<rect x="606.7" y="199.2" width="98.1" height="97.3" fill="#0f7db5" stroke="#0a1a24" stroke-width="1.7" />
<line x1="639.8" y1="90.4" x2="639.8" y2="187.2" stroke="#0a1a24" stroke-width="1.5" />
<line x1="672.6" y1="90.4" x2="672.6" y2="187.2" stroke="#0a1a24" stroke-width="1.5" />
<line x1="606.7" y1="122.7" x2="704.8" y2="122.7" stroke="#0a1a24" stroke-width="1.5" />
<line x1="606.7" y1="158.9" x2="704.8" y2="158.9" stroke="#0a1a24" stroke-width="1.5" />
<line x1="527.3" y1="199.2" x2="527.3" y2="296.5" stroke="#0a1a24" stroke-width="1.5" />
<line x1="551.4" y1="199.2" x2="551.4" y2="296.5" stroke="#0a1a24" stroke-width="1.5" />
<line x1="576.2" y1="199.2" x2="576.2" y2="296.5" stroke="#0a1a24" stroke-width="1.5" />
<line x1="502.4" y1="224.0" x2="600.5" y2="224.0" stroke="#0a1a24" stroke-width="1.5" />
<line x1="502.4" y1="248.3" x2="600.5" y2="248.3" stroke="#0a1a24" stroke-width="1.5" />
<line x1="502.4" y1="273.2" x2="600.5" y2="273.2" stroke="#0a1a24" stroke-width="1.5" />
<line x1="626.1" y1="199.2" x2="626.1" y2="296.5" stroke="#0a1a24" stroke-width="1.5" />
<line x1="646.5" y1="199.2" x2="646.5" y2="296.5" stroke="#0a1a24" stroke-width="1.5" />
<line x1="666.9" y1="199.2" x2="666.9" y2="296.5" stroke="#0a1a24" stroke-width="1.5" />
<line x1="686.2" y1="199.2" x2="686.2" y2="296.5" stroke="#0a1a24" stroke-width="1.5" />
<line x1="606.7" y1="218.5" x2="704.8" y2="218.5" stroke="#0a1a24" stroke-width="1.5" />
<line x1="606.7" y1="238.9" x2="704.8" y2="238.9" stroke="#0a1a24" stroke-width="1.5" />
<line x1="606.7" y1="258.3" x2="704.8" y2="258.3" stroke="#0a1a24" stroke-width="1.5" />
<line x1="606.7" y1="278.1" x2="704.8" y2="278.1" stroke="#0a1a24" stroke-width="1.5" />
<text x="549.6" y="148.2" font-size="30" fill="#e6d152" text-anchor="middle">0</text>
<text x="655.7" y="151.4" font-size="30" fill="#e6d152" text-anchor="middle">4</text>
<text x="550.9" y="259.9" font-size="30" fill="#e6d152" text-anchor="middle">6</text>
<text x="655.9" y="261.9" font-size="30" fill="#e6d152" text-anchor="middle">8</text>
<line x1="570.0" y1="311.4" x2="555.2" y2="291.6" stroke="#222" stroke-width="1.2" /><polygon points="551.6,286.8 557.0,290.3 553.4,293.0" fill="#222"/>
<text x="552.1" y="325.3" font-size="15" fill="#222" textLength="54.0" lengthAdjust="spacingAndGlyphs">Scratch</text>
<rect x="782.0" y="90.2" width="30.2" height="63.9" fill="#0f7db5" stroke="#123a50" stroke-width="0.8" />
<line x1="797.0" y1="150.9" x2="797.0" y2="156.6" stroke="#111" stroke-width="1.6" />
<line x1="794.2" y1="150.9" x2="799.8" y2="150.9" stroke="#111" stroke-width="1.5" />
<line x1="794.2" y1="156.6" x2="799.8" y2="156.6" stroke="#111" stroke-width="1.5" />
<rect x="841.7" y="90.2" width="30.1" height="106.1" fill="#0f7db5" stroke="#123a50" stroke-width="0.8" />
<line x1="856.6" y1="190.6" x2="856.6" y2="201.7" stroke="#111" stroke-width="1.6" />
<line x1="853.8" y1="190.6" x2="859.4" y2="190.6" stroke="#111" stroke-width="1.5" />
<line x1="853.8" y1="201.7" x2="859.4" y2="201.7" stroke="#111" stroke-width="1.5" />
<rect x="901.3" y="90.2" width="30.2" height="159.7" fill="#0f7db5" stroke="#123a50" stroke-width="0.8" />
<line x1="916.6" y1="239.8" x2="916.6" y2="259.7" stroke="#111" stroke-width="1.6" />
<line x1="913.8" y1="239.8" x2="919.4" y2="239.8" stroke="#111" stroke-width="1.5" />
<line x1="913.8" y1="259.7" x2="919.4" y2="259.7" stroke="#111" stroke-width="1.5" />
<rect x="960.7" y="90.2" width="30.1" height="100.4" fill="#0f7db5" stroke="#123a50" stroke-width="0.8" />
<line x1="975.9" y1="185.8" x2="975.9" y2="196.0" stroke="#111" stroke-width="1.6" />
<line x1="973.1" y1="185.8" x2="978.7" y2="185.8" stroke="#111" stroke-width="1.5" />
<line x1="973.1" y1="196.0" x2="978.7" y2="196.0" stroke="#111" stroke-width="1.5" />
<rect x="766.5" y="90.2" width="239.5" height="192.4" fill="none" stroke="#222" stroke-width="1.4" />
<line x1="766.5" y1="90.2" x2="770.0" y2="90.2" stroke="#222" stroke-width="1" />
<text x="761.0" y="93.8" font-size="10.5" fill="#333" text-anchor="end">0</text>
<line x1="766.5" y1="119.8" x2="770.0" y2="119.8" stroke="#222" stroke-width="1" />
<text x="761.0" y="123.4" font-size="10.5" fill="#333" text-anchor="end">-15</text>
<line x1="766.5" y1="149.3" x2="770.0" y2="149.3" stroke="#222" stroke-width="1" />
<text x="761.0" y="152.9" font-size="10.5" fill="#333" text-anchor="end">-30</text>
<line x1="766.5" y1="179.2" x2="770.0" y2="179.2" stroke="#222" stroke-width="1" />
<text x="761.0" y="182.8" font-size="10.5" fill="#333" text-anchor="end">-45</text>
<line x1="766.5" y1="208.7" x2="770.0" y2="208.7" stroke="#222" stroke-width="1" />
<text x="761.0" y="212.3" font-size="10.5" fill="#333" text-anchor="end">-60</text>
<line x1="766.5" y1="238.2" x2="770.0" y2="238.2" stroke="#222" stroke-width="1" />
<text x="761.0" y="241.8" font-size="10.5" fill="#333" text-anchor="end">-75</text>
<line x1="766.5" y1="268.0" x2="770.0" y2="268.0" stroke="#222" stroke-width="1" />
<text x="761.0" y="271.6" font-size="10.5" fill="#333" text-anchor="end">-90</text>
<line x1="766.5" y1="105.0" x2="768.5" y2="105.0" stroke="#222" stroke-width="0.8" />
<line x1="766.5" y1="134.5" x2="768.5" y2="134.5" stroke="#222" stroke-width="0.8" />
<line x1="766.5" y1="164.2" x2="768.5" y2="164.2" stroke="#222" stroke-width="0.8" />
<line x1="766.5" y1="194.0" x2="768.5" y2="194.0" stroke="#222" stroke-width="0.8" />
<line x1="766.5" y1="223.4" x2="768.5" y2="223.4" stroke="#222" stroke-width="0.8" />
<line x1="766.5" y1="253.0" x2="768.5" y2="253.0" stroke="#222" stroke-width="0.8" />
<line x1="797.0" y1="282.6" x2="797.0" y2="279.1" stroke="#222" stroke-width="1" />
<text x="797.0" y="299.6" font-size="10.5" fill="#333" text-anchor="middle">0</text>
<line x1="856.6" y1="282.6" x2="856.6" y2="279.1" stroke="#222" stroke-width="1" />
<text x="856.6" y="299.6" font-size="10.5" fill="#333" text-anchor="middle">4</text>
<line x1="916.6" y1="282.6" x2="916.6" y2="279.1" stroke="#222" stroke-width="1" />
<text x="916.6" y="299.6" font-size="10.5" fill="#333" text-anchor="middle">6</text>
<line x1="975.9" y1="282.6" x2="975.9" y2="279.1" stroke="#222" stroke-width="1" />
<text x="975.9" y="299.6" font-size="10.5" fill="#333" text-anchor="middle">8</text>
<line x1="826.8" y1="282.6" x2="826.8" y2="280.6" stroke="#222" stroke-width="0.8" />
<line x1="886.6" y1="282.6" x2="886.6" y2="280.6" stroke="#222" stroke-width="0.8" />
<line x1="946.2" y1="282.6" x2="946.2" y2="280.6" stroke="#222" stroke-width="0.8" />
<text x="811.5" y="317.0" font-size="15" fill="#222" textLength="151.0" lengthAdjust="spacingAndGlyphs">Number of scratches</text>
<text transform="translate(736.5,231.5) rotate(-90)" font-size="15" fill="#222" textLength="91" lengthAdjust="spacingAndGlyphs">Current (nA)</text>
<text x="775.0" y="274.8" font-size="21" fill="#222" textLength="122.5" lengthAdjust="spacingAndGlyphs">Laser cutting</text>
<!-- s_b -->
<text x="27.3" y="381.0" font-size="23.5" font-weight="bold" fill="#777" textLength="29.0" lengthAdjust="spacingAndGlyphs" stroke="#777" stroke-width="1.1" stroke-linejoin="round" filter="url(#lblsh)">(b)</text><text x="27.3" y="381.0" font-size="23.5" font-weight="bold" fill="#fff" textLength="29.0" lengthAdjust="spacingAndGlyphs" stroke="#fff" stroke-width="0.3">(b)</text>
<radialGradient id="gTa" cx="0.4" cy="0.35" r="0.7"><stop offset="0" stop-color="#f8c878"/><stop offset="0.7" stop-color="#e89e3c"/><stop offset="1" stop-color="#c07a20"/></radialGradient>
<radialGradient id="gC" cx="0.4" cy="0.35" r="0.7"><stop offset="0" stop-color="#6f94dc"/><stop offset="0.7" stop-color="#2f5fb5"/><stop offset="1" stop-color="#1c3f88"/></radialGradient>
<radialGradient id="gMo" cx="0.4" cy="0.35" r="0.7"><stop offset="0" stop-color="#d9a8e6"/><stop offset="0.7" stop-color="#ae6fc6"/><stop offset="1" stop-color="#84489c"/></radialGradient>
<radialGradient id="gS" cx="0.4" cy="0.35" r="0.7"><stop offset="0" stop-color="#7fd6c6"/><stop offset="0.7" stop-color="#3aa898"/><stop offset="1" stop-color="#1e7a6c"/></radialGradient>
<circle cx="46.5" cy="430.0" r="6.2" fill="url(#gTa)" stroke="#00000033" stroke-width="0.5"/>
<text x="59.3" y="434.4" font-size="11.5" font-weight="bold" fill="#222" textLength="13.5" lengthAdjust="spacingAndGlyphs">Ta</text>
<circle cx="93.3" cy="430.0" r="6.2" fill="url(#gC)" stroke="#00000033" stroke-width="0.5"/>
<text x="106.1" y="434.4" font-size="11.5" font-weight="bold" fill="#222" textLength="8.3" lengthAdjust="spacingAndGlyphs">C</text>
<circle cx="46.5" cy="461.0" r="6.2" fill="url(#gMo)" stroke="#00000033" stroke-width="0.5"/>
<text x="59.3" y="465.4" font-size="11.5" font-weight="bold" fill="#222" textLength="16.5" lengthAdjust="spacingAndGlyphs">Mo</text>
<circle cx="93.3" cy="461.0" r="6.2" fill="url(#gS)" stroke="#00000033" stroke-width="0.5"/>
<text x="106.1" y="465.4" font-size="11.5" font-weight="bold" fill="#222" textLength="7.6" lengthAdjust="spacingAndGlyphs">S</text>
<pattern id="pMoS" width="8.2" height="7.4" patternUnits="userSpaceOnUse" patternTransform="translate(70,500) skewX(-11)"><rect width="8.2" height="7.4" fill="#c272c5"/><rect x="0" y="0" width="8.2" height="2.4" fill="#dca6df"/><rect x="1.6" y="2.4" width="3" height="4" fill="#d08cd3"/><rect x="5.8" y="2.2" width="2.4" height="5.2" fill="#ad5cb0"/><rect x="0" y="6.7" width="8.2" height="0.7" fill="#a352a6"/><rect x="0.2" y="2.8" width="1" height="3.4" fill="#ecd2ee"/></pattern>
<pattern id="pTaC" width="6" height="7.5" patternUnits="userSpaceOnUse" patternTransform="translate(70,500) skewX(-11)"><rect width="6" height="7.5" fill="#fff"/><rect x="0" y="0" width="6" height="2.2" fill="#2a4a98"/><rect x="0" y="0" width="2.2" height="7.5" fill="#2a4a98"/></pattern>
<polygon points="73.0,500.0 364.4,500.0 392.5,611.0 50.5,612.0" fill="url(#pMoS)" />
<polygon points="64.0,500.0 75.0,500.0 52.0,612.0 37.5,612.0" fill="url(#pTaC)" />
<circle cx="201.2" cy="563.7" r="36.0" fill="#2e9a42" />
<circle cx="201.2" cy="563.7" r="36.0" fill="none" stroke="#258238" stroke-width="1"/>
<path d="M199.4,562 V590 H178" fill="none" stroke="#3fae48" stroke-width="1" />
<path d="M51.5,563 L42,548.5 Q41,545.2 45,545.2 H199.4 V562" fill="none" stroke="#8a8a20" stroke-width="3.6" stroke-linejoin="round"/>
<path d="M51.5,563 L42,548.5 Q41,545.2 45,545.2 H199.4 V562" fill="none" stroke="#e6e640" stroke-width="2.4" stroke-linejoin="round"/>
<rect x="97.0" y="536.7" width="30.0" height="13.9" fill="#6a72c2" stroke="#4c54a0" stroke-width="0.8" />
<polygon points="238.7,536.8 272.4,536.8 272.4,532.0 289.4,541.5 272.4,551.0 272.4,546.2 238.7,546.2" fill="#52b9da" />
<polygon points="160.0,577.8 120.0,577.8 120.0,573.0 103.0,582.5 120.0,592.0 120.0,587.2 160.0,587.2" fill="#52b9da" />
<circle cx="206.5" cy="429.0" r="43.5" fill="#fdfdfd" stroke="#cf4656" stroke-width="3"/>
<circle cx="327.3" cy="430.0" r="45.5" fill="#fafafa" stroke="#eee04a" stroke-width="3"/>
<clipPath id="cpR"><circle cx="206.5" cy="429" r="41.6"/></clipPath><clipPath id="cpY"><circle cx="327.3" cy="430" r="43.6"/></clipPath>
<g clip-path="url(#cpR)"><line x1="129.5" y1="383.6" x2="136.6" y2="397.0" stroke="#4a4a4a" stroke-width="0.9" /><line x1="129.5" y1="383.6" x2="122.4" y2="397.0" stroke="#4a4a4a" stroke-width="0.9" /><line x1="143.7" y1="383.6" x2="150.8" y2="397.0" stroke="#4a4a4a" stroke-width="0.9" /><line x1="143.7" y1="383.6" x2="136.6" y2="397.0" stroke="#4a4a4a" stroke-width="0.9" /><line x1="157.9" y1="383.6" x2="165.0" y2="397.0" stroke="#4a4a4a" stroke-width="0.9" /><line x1="157.9" y1="383.6" x2="150.8" y2="397.0" stroke="#4a4a4a" stroke-width="0.9" /><line x1="172.1" y1="383.6" x2="179.2" y2="397.0" stroke="#4a4a4a" stroke-width="0.9" /><line x1="172.1" y1="383.6" x2="165.0" y2="397.0" stroke="#4a4a4a" stroke-width="0.9" /><line x1="186.3" y1="383.6" x2="193.4" y2="397.0" stroke="#4a4a4a" stroke-width="0.9" /><line x1="186.3" y1="383.6" x2="179.2" y2="397.0" stroke="#4a4a4a" stroke-width="0.9" /><line x1="200.5" y1="383.6" x2="207.6" y2="397.0" stroke="#4a4a4a" stroke-width="0.9" /><line x1="200.5" y1="383.6" x2="193.4" y2="397.0" stroke="#4a4a4a" stroke-width="0.9" /><line x1="214.7" y1="383.6" x2="221.8" y2="397.0" stroke="#4a4a4a" stroke-width="0.9" /><line x1="214.7" y1="383.6" x2="207.6" y2="397.0" stroke="#4a4a4a" stroke-width="0.9" /><line x1="228.9" y1="383.6" x2="236.0" y2="397.0" stroke="#4a4a4a" stroke-width="0.9" /><line x1="228.9" y1="383.6" x2="221.8" y2="397.0" stroke="#4a4a4a" stroke-width="0.9" /><line x1="243.1" y1="383.6" x2="250.2" y2="397.0" stroke="#4a4a4a" stroke-width="0.9" /><line x1="243.1" y1="383.6" x2="236.0" y2="397.0" stroke="#4a4a4a" stroke-width="0.9" /><line x1="257.3" y1="383.6" x2="264.4" y2="397.0" stroke="#4a4a4a" stroke-width="0.9" /><line x1="257.3" y1="383.6" x2="250.2" y2="397.0" stroke="#4a4a4a" stroke-width="0.9" /><line x1="271.5" y1="383.6" x2="278.6" y2="397.0" stroke="#4a4a4a" stroke-width="0.9" /><line x1="271.5" y1="383.6" x2="264.4" y2="397.0" stroke="#4a4a4a" stroke-width="0.9" /><line x1="285.7" y1="383.6" x2="292.8" y2="397.0" stroke="#4a4a4a" stroke-width="0.9" /><line x1="285.7" y1="383.6" x2="278.6" y2="397.0" stroke="#4a4a4a" stroke-width="0.9" /><line x1="122.4" y1="397.0" x2="129.5" y2="410.4" stroke="#4a4a4a" stroke-width="0.9" /><line x1="122.4" y1="397.0" x2="115.3" y2="410.4" stroke="#4a4a4a" stroke-width="0.9" /><line x1="136.6" y1="397.0" x2="143.7" y2="410.4" stroke="#4a4a4a" stroke-width="0.9" /><line x1="136.6" y1="397.0" x2="129.5" y2="410.4" stroke="#4a4a4a" stroke-width="0.9" /><line x1="150.8" y1="397.0" x2="157.9" y2="410.4" stroke="#4a4a4a" stroke-width="0.9" /><line x1="150.8" y1="397.0" x2="143.7" y2="410.4" stroke="#4a4a4a" stroke-width="0.9" /><line x1="165.0" y1="397.0" x2="172.1" y2="410.4" stroke="#4a4a4a" stroke-width="0.9" /><line x1="165.0" y1="397.0" x2="157.9" y2="410.4" stroke="#4a4a4a" stroke-width="0.9" /><line x1="179.2" y1="397.0" x2="186.3" y2="410.4" stroke="#4a4a4a" stroke-width="0.9" /><line x1="179.2" y1="397.0" x2="172.1" y2="410.4" stroke="#4a4a4a" stroke-width="0.9" /><line x1="193.4" y1="397.0" x2="200.5" y2="410.4" stroke="#4a4a4a" stroke-width="0.9" /><line x1="193.4" y1="397.0" x2="186.3" y2="410.4" stroke="#4a4a4a" stroke-width="0.9" /><line x1="207.6" y1="397.0" x2="214.7" y2="410.4" stroke="#4a4a4a" stroke-width="0.9" /><line x1="207.6" y1="397.0" x2="200.5" y2="410.4" stroke="#4a4a4a" stroke-width="0.9" /><line x1="221.8" y1="397.0" x2="228.9" y2="410.4" stroke="#4a4a4a" stroke-width="0.9" /><line x1="221.8" y1="397.0" x2="214.7" y2="410.4" stroke="#4a4a4a" stroke-width="0.9" /><line x1="236.0" y1="397.0" x2="243.1" y2="410.4" stroke="#4a4a4a" stroke-width="0.9" /><line x1="236.0" y1="397.0" x2="228.9" y2="410.4" stroke="#4a4a4a" stroke-width="0.9" /><line x1="250.2" y1="397.0" x2="257.3" y2="410.4" stroke="#4a4a4a" stroke-width="0.9" /><line x1="250.2" y1="397.0" x2="243.1" y2="410.4" stroke="#4a4a4a" stroke-width="0.9" /><line x1="264.4" y1="397.0" x2="271.5" y2="410.4" stroke="#4a4a4a" stroke-width="0.9" /><line x1="264.4" y1="397.0" x2="257.3" y2="410.4" stroke="#4a4a4a" stroke-width="0.9" /><line x1="278.6" y1="397.0" x2="285.7" y2="410.4" stroke="#4a4a4a" stroke-width="0.9" /><line x1="278.6" y1="397.0" x2="271.5" y2="410.4" stroke="#4a4a4a" stroke-width="0.9" /><line x1="129.5" y1="410.4" x2="136.6" y2="423.8" stroke="#4a4a4a" stroke-width="0.9" /><line x1="129.5" y1="410.4" x2="122.4" y2="423.8" stroke="#4a4a4a" stroke-width="0.9" /><line x1="143.7" y1="410.4" x2="150.8" y2="423.8" stroke="#4a4a4a" stroke-width="0.9" /><line x1="143.7" y1="410.4" x2="136.6" y2="423.8" stroke="#4a4a4a" stroke-width="0.9" /><line x1="157.9" y1="410.4" x2="165.0" y2="423.8" stroke="#4a4a4a" stroke-width="0.9" /><line x1="157.9" y1="410.4" x2="150.8" y2="423.8" stroke="#4a4a4a" stroke-width="0.9" /><line x1="172.1" y1="410.4" x2="179.2" y2="423.8" stroke="#4a4a4a" stroke-width="0.9" /><line x1="172.1" y1="410.4" x2="165.0" y2="423.8" stroke="#4a4a4a" stroke-width="0.9" /><line x1="186.3" y1="410.4" x2="193.4" y2="423.8" stroke="#4a4a4a" stroke-width="0.9" /><line x1="186.3" y1="410.4" x2="179.2" y2="423.8" stroke="#4a4a4a" stroke-width="0.9" /><line x1="200.5" y1="410.4" x2="207.6" y2="423.8" stroke="#4a4a4a" stroke-width="0.9" /><line x1="200.5" y1="410.4" x2="193.4" y2="423.8" stroke="#4a4a4a" stroke-width="0.9" /><line x1="214.7" y1="410.4" x2="221.8" y2="423.8" stroke="#4a4a4a" stroke-width="0.9" /><line x1="214.7" y1="410.4" x2="207.6" y2="423.8" stroke="#4a4a4a" stroke-width="0.9" /><line x1="228.9" y1="410.4" x2="236.0" y2="423.8" stroke="#4a4a4a" stroke-width="0.9" /><line x1="228.9" y1="410.4" x2="221.8" y2="423.8" stroke="#4a4a4a" stroke-width="0.9" /><line x1="243.1" y1="410.4" x2="250.2" y2="423.8" stroke="#4a4a4a" stroke-width="0.9" /><line x1="243.1" y1="410.4" x2="236.0" y2="423.8" stroke="#4a4a4a" stroke-width="0.9" /><line x1="257.3" y1="410.4" x2="264.4" y2="423.8" stroke="#4a4a4a" stroke-width="0.9" /><line x1="257.3" y1="410.4" x2="250.2" y2="423.8" stroke="#4a4a4a" stroke-width="0.9" /><line x1="271.5" y1="410.4" x2="278.6" y2="423.8" stroke="#4a4a4a" stroke-width="0.9" /><line x1="271.5" y1="410.4" x2="264.4" y2="423.8" stroke="#4a4a4a" stroke-width="0.9" /><line x1="285.7" y1="410.4" x2="292.8" y2="423.8" stroke="#4a4a4a" stroke-width="0.9" /><line x1="285.7" y1="410.4" x2="278.6" y2="423.8" stroke="#4a4a4a" stroke-width="0.9" /><line x1="122.4" y1="423.8" x2="129.5" y2="437.2" stroke="#4a4a4a" stroke-width="0.9" /><line x1="122.4" y1="423.8" x2="115.3" y2="437.2" stroke="#4a4a4a" stroke-width="0.9" /><line x1="136.6" y1="423.8" x2="143.7" y2="437.2" stroke="#4a4a4a" stroke-width="0.9" /><line x1="136.6" y1="423.8" x2="129.5" y2="437.2" stroke="#4a4a4a" stroke-width="0.9" /><line x1="150.8" y1="423.8" x2="157.9" y2="437.2" stroke="#4a4a4a" stroke-width="0.9" /><line x1="150.8" y1="423.8" x2="143.7" y2="437.2" stroke="#4a4a4a" stroke-width="0.9" /><line x1="165.0" y1="423.8" x2="172.1" y2="437.2" stroke="#4a4a4a" stroke-width="0.9" /><line x1="165.0" y1="423.8" x2="157.9" y2="437.2" stroke="#4a4a4a" stroke-width="0.9" /><line x1="179.2" y1="423.8" x2="186.3" y2="437.2" stroke="#4a4a4a" stroke-width="0.9" /><line x1="179.2" y1="423.8" x2="172.1" y2="437.2" stroke="#4a4a4a" stroke-width="0.9" /><line x1="193.4" y1="423.8" x2="200.5" y2="437.2" stroke="#4a4a4a" stroke-width="0.9" /><line x1="193.4" y1="423.8" x2="186.3" y2="437.2" stroke="#4a4a4a" stroke-width="0.9" /><line x1="207.6" y1="423.8" x2="214.7" y2="437.2" stroke="#4a4a4a" stroke-width="0.9" /><line x1="207.6" y1="423.8" x2="200.5" y2="437.2" stroke="#4a4a4a" stroke-width="0.9" /><line x1="221.8" y1="423.8" x2="228.9" y2="437.2" stroke="#4a4a4a" stroke-width="0.9" /><line x1="221.8" y1="423.8" x2="214.7" y2="437.2" stroke="#4a4a4a" stroke-width="0.9" /><line x1="236.0" y1="423.8" x2="243.1" y2="437.2" stroke="#4a4a4a" stroke-width="0.9" /><line x1="236.0" y1="423.8" x2="228.9" y2="437.2" stroke="#4a4a4a" stroke-width="0.9" /><line x1="250.2" y1="423.8" x2="257.3" y2="437.2" stroke="#4a4a4a" stroke-width="0.9" /><line x1="250.2" y1="423.8" x2="243.1" y2="437.2" stroke="#4a4a4a" stroke-width="0.9" /><line x1="264.4" y1="423.8" x2="271.5" y2="437.2" stroke="#4a4a4a" stroke-width="0.9" /><line x1="264.4" y1="423.8" x2="257.3" y2="437.2" stroke="#4a4a4a" stroke-width="0.9" /><line x1="278.6" y1="423.8" x2="285.7" y2="437.2" stroke="#4a4a4a" stroke-width="0.9" /><line x1="278.6" y1="423.8" x2="271.5" y2="437.2" stroke="#4a4a4a" stroke-width="0.9" /><line x1="129.5" y1="437.2" x2="136.6" y2="450.6" stroke="#4a4a4a" stroke-width="0.9" /><line x1="129.5" y1="437.2" x2="122.4" y2="450.6" stroke="#4a4a4a" stroke-width="0.9" /><line x1="143.7" y1="437.2" x2="150.8" y2="450.6" stroke="#4a4a4a" stroke-width="0.9" /><line x1="143.7" y1="437.2" x2="136.6" y2="450.6" stroke="#4a4a4a" stroke-width="0.9" /><line x1="157.9" y1="437.2" x2="165.0" y2="450.6" stroke="#4a4a4a" stroke-width="0.9" /><line x1="157.9" y1="437.2" x2="150.8" y2="450.6" stroke="#4a4a4a" stroke-width="0.9" /><line x1="172.1" y1="437.2" x2="179.2" y2="450.6" stroke="#4a4a4a" stroke-width="0.9" /><line x1="172.1" y1="437.2" x2="165.0" y2="450.6" stroke="#4a4a4a" stroke-width="0.9" /><line x1="186.3" y1="437.2" x2="193.4" y2="450.6" stroke="#4a4a4a" stroke-width="0.9" /><line x1="186.3" y1="437.2" x2="179.2" y2="450.6" stroke="#4a4a4a" stroke-width="0.9" /><line x1="200.5" y1="437.2" x2="207.6" y2="450.6" stroke="#4a4a4a" stroke-width="0.9" /><line x1="200.5" y1="437.2" x2="193.4" y2="450.6" stroke="#4a4a4a" stroke-width="0.9" /><line x1="214.7" y1="437.2" x2="221.8" y2="450.6" stroke="#4a4a4a" stroke-width="0.9" /><line x1="214.7" y1="437.2" x2="207.6" y2="450.6" stroke="#4a4a4a" stroke-width="0.9" /><line x1="228.9" y1="437.2" x2="236.0" y2="450.6" stroke="#4a4a4a" stroke-width="0.9" /><line x1="228.9" y1="437.2" x2="221.8" y2="450.6" stroke="#4a4a4a" stroke-width="0.9" /><line x1="243.1" y1="437.2" x2="250.2" y2="450.6" stroke="#4a4a4a" stroke-width="0.9" /><line x1="243.1" y1="437.2" x2="236.0" y2="450.6" stroke="#4a4a4a" stroke-width="0.9" /><line x1="257.3" y1="437.2" x2="264.4" y2="450.6" stroke="#4a4a4a" stroke-width="0.9" /><line x1="257.3" y1="437.2" x2="250.2" y2="450.6" stroke="#4a4a4a" stroke-width="0.9" /><line x1="271.5" y1="437.2" x2="278.6" y2="450.6" stroke="#4a4a4a" stroke-width="0.9" /><line x1="271.5" y1="437.2" x2="264.4" y2="450.6" stroke="#4a4a4a" stroke-width="0.9" /><line x1="285.7" y1="437.2" x2="292.8" y2="450.6" stroke="#4a4a4a" stroke-width="0.9" /><line x1="285.7" y1="437.2" x2="278.6" y2="450.6" stroke="#4a4a4a" stroke-width="0.9" /><line x1="122.4" y1="450.6" x2="129.5" y2="464.0" stroke="#4a4a4a" stroke-width="0.9" /><line x1="122.4" y1="450.6" x2="115.3" y2="464.0" stroke="#4a4a4a" stroke-width="0.9" /><line x1="136.6" y1="450.6" x2="143.7" y2="464.0" stroke="#4a4a4a" stroke-width="0.9" /><line x1="136.6" y1="450.6" x2="129.5" y2="464.0" stroke="#4a4a4a" stroke-width="0.9" /><line x1="150.8" y1="450.6" x2="157.9" y2="464.0" stroke="#4a4a4a" stroke-width="0.9" /><line x1="150.8" y1="450.6" x2="143.7" y2="464.0" stroke="#4a4a4a" stroke-width="0.9" /><line x1="165.0" y1="450.6" x2="172.1" y2="464.0" stroke="#4a4a4a" stroke-width="0.9" /><line x1="165.0" y1="450.6" x2="157.9" y2="464.0" stroke="#4a4a4a" stroke-width="0.9" /><line x1="179.2" y1="450.6" x2="186.3" y2="464.0" stroke="#4a4a4a" stroke-width="0.9" /><line x1="179.2" y1="450.6" x2="172.1" y2="464.0" stroke="#4a4a4a" stroke-width="0.9" /><line x1="193.4" y1="450.6" x2="200.5" y2="464.0" stroke="#4a4a4a" stroke-width="0.9" /><line x1="193.4" y1="450.6" x2="186.3" y2="464.0" stroke="#4a4a4a" stroke-width="0.9" /><line x1="207.6" y1="450.6" x2="214.7" y2="464.0" stroke="#4a4a4a" stroke-width="0.9" /><line x1="207.6" y1="450.6" x2="200.5" y2="464.0" stroke="#4a4a4a" stroke-width="0.9" /><line x1="221.8" y1="450.6" x2="228.9" y2="464.0" stroke="#4a4a4a" stroke-width="0.9" /><line x1="221.8" y1="450.6" x2="214.7" y2="464.0" stroke="#4a4a4a" stroke-width="0.9" /><line x1="236.0" y1="450.6" x2="243.1" y2="464.0" stroke="#4a4a4a" stroke-width="0.9" /><line x1="236.0" y1="450.6" x2="228.9" y2="464.0" stroke="#4a4a4a" stroke-width="0.9" /><line x1="250.2" y1="450.6" x2="257.3" y2="464.0" stroke="#4a4a4a" stroke-width="0.9" /><line x1="250.2" y1="450.6" x2="243.1" y2="464.0" stroke="#4a4a4a" stroke-width="0.9" /><line x1="264.4" y1="450.6" x2="271.5" y2="464.0" stroke="#4a4a4a" stroke-width="0.9" /><line x1="264.4" y1="450.6" x2="257.3" y2="464.0" stroke="#4a4a4a" stroke-width="0.9" /><line x1="278.6" y1="450.6" x2="285.7" y2="464.0" stroke="#4a4a4a" stroke-width="0.9" /><line x1="278.6" y1="450.6" x2="271.5" y2="464.0" stroke="#4a4a4a" stroke-width="0.9" /><line x1="129.5" y1="464.0" x2="136.6" y2="477.4" stroke="#4a4a4a" stroke-width="0.9" /><line x1="129.5" y1="464.0" x2="122.4" y2="477.4" stroke="#4a4a4a" stroke-width="0.9" /><line x1="143.7" y1="464.0" x2="150.8" y2="477.4" stroke="#4a4a4a" stroke-width="0.9" /><line x1="143.7" y1="464.0" x2="136.6" y2="477.4" stroke="#4a4a4a" stroke-width="0.9" /><line x1="157.9" y1="464.0" x2="165.0" y2="477.4" stroke="#4a4a4a" stroke-width="0.9" /><line x1="157.9" y1="464.0" x2="150.8" y2="477.4" stroke="#4a4a4a" stroke-width="0.9" /><line x1="172.1" y1="464.0" x2="179.2" y2="477.4" stroke="#4a4a4a" stroke-width="0.9" /><line x1="172.1" y1="464.0" x2="165.0" y2="477.4" stroke="#4a4a4a" stroke-width="0.9" /><line x1="186.3" y1="464.0" x2="193.4" y2="477.4" stroke="#4a4a4a" stroke-width="0.9" /><line x1="186.3" y1="464.0" x2="179.2" y2="477.4" stroke="#4a4a4a" stroke-width="0.9" /><line x1="200.5" y1="464.0" x2="207.6" y2="477.4" stroke="#4a4a4a" stroke-width="0.9" /><line x1="200.5" y1="464.0" x2="193.4" y2="477.4" stroke="#4a4a4a" stroke-width="0.9" /><line x1="214.7" y1="464.0" x2="221.8" y2="477.4" stroke="#4a4a4a" stroke-width="0.9" /><line x1="214.7" y1="464.0" x2="207.6" y2="477.4" stroke="#4a4a4a" stroke-width="0.9" /><line x1="228.9" y1="464.0" x2="236.0" y2="477.4" stroke="#4a4a4a" stroke-width="0.9" /><line x1="228.9" y1="464.0" x2="221.8" y2="477.4" stroke="#4a4a4a" stroke-width="0.9" /><line x1="243.1" y1="464.0" x2="250.2" y2="477.4" stroke="#4a4a4a" stroke-width="0.9" /><line x1="243.1" y1="464.0" x2="236.0" y2="477.4" stroke="#4a4a4a" stroke-width="0.9" /><line x1="257.3" y1="464.0" x2="264.4" y2="477.4" stroke="#4a4a4a" stroke-width="0.9" /><line x1="257.3" y1="464.0" x2="250.2" y2="477.4" stroke="#4a4a4a" stroke-width="0.9" /><line x1="271.5" y1="464.0" x2="278.6" y2="477.4" stroke="#4a4a4a" stroke-width="0.9" /><line x1="271.5" y1="464.0" x2="264.4" y2="477.4" stroke="#4a4a4a" stroke-width="0.9" /><line x1="285.7" y1="464.0" x2="292.8" y2="477.4" stroke="#4a4a4a" stroke-width="0.9" /><line x1="285.7" y1="464.0" x2="278.6" y2="477.4" stroke="#4a4a4a" stroke-width="0.9" /><line x1="160.0" y1="393.0" x2="255.0" y2="339.0" stroke="#555" stroke-width="0.9" /><line x1="160.0" y1="405.5" x2="255.0" y2="351.5" stroke="#555" stroke-width="0.9" /><line x1="160.0" y1="418.0" x2="255.0" y2="364.0" stroke="#555" stroke-width="0.9" /><line x1="160.0" y1="430.5" x2="255.0" y2="376.5" stroke="#555" stroke-width="0.9" /><line x1="160.0" y1="443.0" x2="255.0" y2="389.0" stroke="#555" stroke-width="0.9" /><line x1="160.0" y1="455.5" x2="255.0" y2="401.5" stroke="#555" stroke-width="0.9" /><line x1="160.0" y1="468.0" x2="255.0" y2="414.0" stroke="#555" stroke-width="0.9" /><line x1="160.0" y1="480.5" x2="255.0" y2="426.5" stroke="#555" stroke-width="0.9" /><line x1="160.0" y1="493.0" x2="255.0" y2="439.0" stroke="#555" stroke-width="0.9" /><line x1="160.0" y1="505.5" x2="255.0" y2="451.5" stroke="#555" stroke-width="0.9" /><line x1="160.0" y1="518.0" x2="255.0" y2="464.0" stroke="#555" stroke-width="0.9" /><circle cx="122.4" cy="397.0" r="2.4" fill="url(#gC)" /><circle cx="136.6" cy="397.0" r="2.4" fill="url(#gC)" /><circle cx="150.8" cy="397.0" r="2.4" fill="url(#gC)" /><circle cx="165.0" cy="397.0" r="2.4" fill="url(#gC)" /><circle cx="179.2" cy="397.0" r="2.4" fill="url(#gC)" /><circle cx="193.4" cy="397.0" r="2.4" fill="url(#gC)" /><circle cx="207.6" cy="397.0" r="2.4" fill="url(#gC)" /><circle cx="221.8" cy="397.0" r="2.4" fill="url(#gC)" /><circle cx="236.0" cy="397.0" r="2.4" fill="url(#gC)" /><circle cx="250.2" cy="397.0" r="2.4" fill="url(#gC)" /><circle cx="264.4" cy="397.0" r="2.4" fill="url(#gC)" /><circle cx="278.6" cy="397.0" r="2.4" fill="url(#gC)" /><circle cx="129.5" cy="410.4" r="3.1" fill="url(#gTa)" /><circle cx="143.7" cy="410.4" r="3.1" fill="url(#gTa)" /><circle cx="157.9" cy="410.4" r="3.1" fill="url(#gTa)" /><circle cx="172.1" cy="410.4" r="3.1" fill="url(#gTa)" /><circle cx="186.3" cy="410.4" r="3.1" fill="url(#gTa)" /><circle cx="200.5" cy="410.4" r="3.1" fill="url(#gTa)" /><circle cx="214.7" cy="410.4" r="3.1" fill="url(#gTa)" /><circle cx="228.9" cy="410.4" r="3.1" fill="url(#gTa)" /><circle cx="243.1" cy="410.4" r="3.1" fill="url(#gTa)" /><circle cx="257.3" cy="410.4" r="3.1" fill="url(#gTa)" /><circle cx="271.5" cy="410.4" r="3.1" fill="url(#gTa)" /><circle cx="285.7" cy="410.4" r="3.1" fill="url(#gTa)" /><circle cx="122.4" cy="423.8" r="3.1" fill="url(#gTa)" /><circle cx="136.6" cy="423.8" r="3.1" fill="url(#gTa)" /><circle cx="150.8" cy="423.8" r="3.1" fill="url(#gTa)" /><circle cx="165.0" cy="423.8" r="3.1" fill="url(#gTa)" /><circle cx="179.2" cy="423.8" r="3.1" fill="url(#gTa)" /><circle cx="193.4" cy="423.8" r="3.1" fill="url(#gTa)" /><circle cx="207.6" cy="423.8" r="3.1" fill="url(#gTa)" /><circle cx="221.8" cy="423.8" r="3.1" fill="url(#gTa)" /><circle cx="236.0" cy="423.8" r="3.1" fill="url(#gTa)" /><circle cx="250.2" cy="423.8" r="3.1" fill="url(#gTa)" /><circle cx="264.4" cy="423.8" r="3.1" fill="url(#gTa)" /><circle cx="278.6" cy="423.8" r="3.1" fill="url(#gTa)" /><circle cx="129.5" cy="437.2" r="3.1" fill="url(#gTa)" /><circle cx="143.7" cy="437.2" r="3.1" fill="url(#gTa)" /><circle cx="157.9" cy="437.2" r="3.1" fill="url(#gTa)" /><circle cx="172.1" cy="437.2" r="3.1" fill="url(#gTa)" /><circle cx="186.3" cy="437.2" r="3.1" fill="url(#gTa)" /><circle cx="200.5" cy="437.2" r="3.1" fill="url(#gTa)" /><circle cx="214.7" cy="437.2" r="3.1" fill="url(#gTa)" /><circle cx="228.9" cy="437.2" r="3.1" fill="url(#gTa)" /><circle cx="243.1" cy="437.2" r="3.1" fill="url(#gTa)" /><circle cx="257.3" cy="437.2" r="3.1" fill="url(#gTa)" /><circle cx="271.5" cy="437.2" r="3.1" fill="url(#gTa)" /><circle cx="285.7" cy="437.2" r="3.1" fill="url(#gTa)" /><circle cx="122.4" cy="450.6" r="3.1" fill="url(#gTa)" /><circle cx="136.6" cy="450.6" r="3.1" fill="url(#gTa)" /><circle cx="150.8" cy="450.6" r="3.1" fill="url(#gTa)" /><circle cx="165.0" cy="450.6" r="3.1" fill="url(#gTa)" /><circle cx="179.2" cy="450.6" r="3.1" fill="url(#gTa)" /><circle cx="193.4" cy="450.6" r="3.1" fill="url(#gTa)" /><circle cx="207.6" cy="450.6" r="3.1" fill="url(#gTa)" /><circle cx="221.8" cy="450.6" r="3.1" fill="url(#gTa)" /><circle cx="236.0" cy="450.6" r="3.1" fill="url(#gTa)" /><circle cx="250.2" cy="450.6" r="3.1" fill="url(#gTa)" /><circle cx="264.4" cy="450.6" r="3.1" fill="url(#gTa)" /><circle cx="278.6" cy="450.6" r="3.1" fill="url(#gTa)" /><circle cx="129.5" cy="464.0" r="2.4" fill="url(#gC)" /><circle cx="143.7" cy="464.0" r="2.4" fill="url(#gC)" /><circle cx="157.9" cy="464.0" r="2.4" fill="url(#gC)" /><circle cx="172.1" cy="464.0" r="2.4" fill="url(#gC)" /><circle cx="186.3" cy="464.0" r="2.4" fill="url(#gC)" /><circle cx="200.5" cy="464.0" r="2.4" fill="url(#gC)" /><circle cx="214.7" cy="464.0" r="2.4" fill="url(#gC)" /><circle cx="228.9" cy="464.0" r="2.4" fill="url(#gC)" /><circle cx="243.1" cy="464.0" r="2.4" fill="url(#gC)" /><circle cx="257.3" cy="464.0" r="2.4" fill="url(#gC)" /><circle cx="271.5" cy="464.0" r="2.4" fill="url(#gC)" /><circle cx="285.7" cy="464.0" r="2.4" fill="url(#gC)" /></g>
<g clip-path="url(#cpY)"><line x1="279.4" y1="378.1" x2="279.4" y2="383.4" stroke="#6a6a7a" stroke-width="0.7" /><line x1="279.4" y1="378.1" x2="274.8" y2="375.4" stroke="#6a6a7a" stroke-width="0.7" /><line x1="279.4" y1="378.1" x2="284.0" y2="375.4" stroke="#6a6a7a" stroke-width="0.7" /><line x1="288.6" y1="378.1" x2="288.6" y2="383.4" stroke="#6a6a7a" stroke-width="0.7" /><line x1="288.6" y1="378.1" x2="284.0" y2="375.4" stroke="#6a6a7a" stroke-width="0.7" /><line x1="288.6" y1="378.1" x2="293.2" y2="375.4" stroke="#6a6a7a" stroke-width="0.7" /><line x1="297.8" y1="378.1" x2="297.8" y2="383.4" stroke="#6a6a7a" stroke-width="0.7" /><line x1="297.8" y1="378.1" x2="293.2" y2="375.4" stroke="#6a6a7a" stroke-width="0.7" /><line x1="297.8" y1="378.1" x2="302.4" y2="375.4" stroke="#6a6a7a" stroke-width="0.7" /><line x1="306.9" y1="378.1" x2="306.9" y2="383.4" stroke="#6a6a7a" stroke-width="0.7" /><line x1="306.9" y1="378.1" x2="302.4" y2="375.4" stroke="#6a6a7a" stroke-width="0.7" /><line x1="306.9" y1="378.1" x2="311.5" y2="375.4" stroke="#6a6a7a" stroke-width="0.7" /><line x1="316.1" y1="378.1" x2="316.1" y2="383.4" stroke="#6a6a7a" stroke-width="0.7" /><line x1="316.1" y1="378.1" x2="311.5" y2="375.4" stroke="#6a6a7a" stroke-width="0.7" /><line x1="316.1" y1="378.1" x2="320.7" y2="375.4" stroke="#6a6a7a" stroke-width="0.7" /><line x1="325.3" y1="378.1" x2="325.3" y2="383.4" stroke="#6a6a7a" stroke-width="0.7" /><line x1="325.3" y1="378.1" x2="320.7" y2="375.4" stroke="#6a6a7a" stroke-width="0.7" /><line x1="325.3" y1="378.1" x2="329.9" y2="375.4" stroke="#6a6a7a" stroke-width="0.7" /><line x1="334.5" y1="378.1" x2="334.5" y2="383.4" stroke="#6a6a7a" stroke-width="0.7" /><line x1="334.5" y1="378.1" x2="329.9" y2="375.4" stroke="#6a6a7a" stroke-width="0.7" /><line x1="334.5" y1="378.1" x2="339.1" y2="375.4" stroke="#6a6a7a" stroke-width="0.7" /><line x1="343.7" y1="378.1" x2="343.7" y2="383.4" stroke="#6a6a7a" stroke-width="0.7" /><line x1="343.7" y1="378.1" x2="339.1" y2="375.4" stroke="#6a6a7a" stroke-width="0.7" /><line x1="343.7" y1="378.1" x2="348.3" y2="375.4" stroke="#6a6a7a" stroke-width="0.7" /><line x1="352.8" y1="378.1" x2="352.8" y2="383.4" stroke="#6a6a7a" stroke-width="0.7" /><line x1="352.8" y1="378.1" x2="348.3" y2="375.4" stroke="#6a6a7a" stroke-width="0.7" /><line x1="352.8" y1="378.1" x2="357.4" y2="375.4" stroke="#6a6a7a" stroke-width="0.7" /><line x1="362.0" y1="378.1" x2="362.0" y2="383.4" stroke="#6a6a7a" stroke-width="0.7" /><line x1="362.0" y1="378.1" x2="357.4" y2="375.4" stroke="#6a6a7a" stroke-width="0.7" /><line x1="362.0" y1="378.1" x2="366.6" y2="375.4" stroke="#6a6a7a" stroke-width="0.7" /><line x1="371.2" y1="378.1" x2="371.2" y2="383.4" stroke="#6a6a7a" stroke-width="0.7" /><line x1="371.2" y1="378.1" x2="366.6" y2="375.4" stroke="#6a6a7a" stroke-width="0.7" /><line x1="371.2" y1="378.1" x2="375.8" y2="375.4" stroke="#6a6a7a" stroke-width="0.7" /><line x1="380.4" y1="378.1" x2="380.4" y2="383.4" stroke="#6a6a7a" stroke-width="0.7" /><line x1="380.4" y1="378.1" x2="375.8" y2="375.4" stroke="#6a6a7a" stroke-width="0.7" /><line x1="380.4" y1="378.1" x2="385.0" y2="375.4" stroke="#6a6a7a" stroke-width="0.7" /><line x1="389.6" y1="378.1" x2="389.6" y2="383.4" stroke="#6a6a7a" stroke-width="0.7" /><line x1="389.6" y1="378.1" x2="385.0" y2="375.4" stroke="#6a6a7a" stroke-width="0.7" /><line x1="389.6" y1="378.1" x2="394.2" y2="375.4" stroke="#6a6a7a" stroke-width="0.7" /><line x1="274.8" y1="386.0" x2="274.8" y2="391.3" stroke="#6a6a7a" stroke-width="0.7" /><line x1="274.8" y1="386.0" x2="270.2" y2="383.4" stroke="#6a6a7a" stroke-width="0.7" /><line x1="274.8" y1="386.0" x2="279.4" y2="383.4" stroke="#6a6a7a" stroke-width="0.7" /><line x1="284.0" y1="386.0" x2="284.0" y2="391.3" stroke="#6a6a7a" stroke-width="0.7" /><line x1="284.0" y1="386.0" x2="279.4" y2="383.4" stroke="#6a6a7a" stroke-width="0.7" /><line x1="284.0" y1="386.0" x2="288.6" y2="383.4" stroke="#6a6a7a" stroke-width="0.7" /><line x1="293.2" y1="386.0" x2="293.2" y2="391.3" stroke="#6a6a7a" stroke-width="0.7" /><line x1="293.2" y1="386.0" x2="288.6" y2="383.4" stroke="#6a6a7a" stroke-width="0.7" /><line x1="293.2" y1="386.0" x2="297.8" y2="383.4" stroke="#6a6a7a" stroke-width="0.7" /><line x1="302.4" y1="386.0" x2="302.4" y2="391.3" stroke="#6a6a7a" stroke-width="0.7" /><line x1="302.4" y1="386.0" x2="297.8" y2="383.4" stroke="#6a6a7a" stroke-width="0.7" /><line x1="302.4" y1="386.0" x2="306.9" y2="383.4" stroke="#6a6a7a" stroke-width="0.7" /><line x1="311.5" y1="386.0" x2="311.5" y2="391.3" stroke="#6a6a7a" stroke-width="0.7" /><line x1="311.5" y1="386.0" x2="306.9" y2="383.4" stroke="#6a6a7a" stroke-width="0.7" /><line x1="311.5" y1="386.0" x2="316.1" y2="383.4" stroke="#6a6a7a" stroke-width="0.7" /><line x1="320.7" y1="386.0" x2="320.7" y2="391.3" stroke="#6a6a7a" stroke-width="0.7" /><line x1="320.7" y1="386.0" x2="316.1" y2="383.4" stroke="#6a6a7a" stroke-width="0.7" /><line x1="320.7" y1="386.0" x2="325.3" y2="383.4" stroke="#6a6a7a" stroke-width="0.7" /><line x1="329.9" y1="386.0" x2="329.9" y2="391.3" stroke="#6a6a7a" stroke-width="0.7" /><line x1="329.9" y1="386.0" x2="325.3" y2="383.4" stroke="#6a6a7a" stroke-width="0.7" /><line x1="329.9" y1="386.0" x2="334.5" y2="383.4" stroke="#6a6a7a" stroke-width="0.7" /><line x1="339.1" y1="386.0" x2="339.1" y2="391.3" stroke="#6a6a7a" stroke-width="0.7" /><line x1="339.1" y1="386.0" x2="334.5" y2="383.4" stroke="#6a6a7a" stroke-width="0.7" /><line x1="339.1" y1="386.0" x2="343.7" y2="383.4" stroke="#6a6a7a" stroke-width="0.7" /><line x1="348.3" y1="386.0" x2="348.3" y2="391.3" stroke="#6a6a7a" stroke-width="0.7" /><line x1="348.3" y1="386.0" x2="343.7" y2="383.4" stroke="#6a6a7a" stroke-width="0.7" /><line x1="348.3" y1="386.0" x2="352.8" y2="383.4" stroke="#6a6a7a" stroke-width="0.7" /><line x1="357.4" y1="386.0" x2="357.4" y2="391.3" stroke="#6a6a7a" stroke-width="0.7" /><line x1="357.4" y1="386.0" x2="352.8" y2="383.4" stroke="#6a6a7a" stroke-width="0.7" /><line x1="357.4" y1="386.0" x2="362.0" y2="383.4" stroke="#6a6a7a" stroke-width="0.7" /><line x1="366.6" y1="386.0" x2="366.6" y2="391.3" stroke="#6a6a7a" stroke-width="0.7" /><line x1="366.6" y1="386.0" x2="362.0" y2="383.4" stroke="#6a6a7a" stroke-width="0.7" /><line x1="366.6" y1="386.0" x2="371.2" y2="383.4" stroke="#6a6a7a" stroke-width="0.7" /><line x1="375.8" y1="386.0" x2="375.8" y2="391.3" stroke="#6a6a7a" stroke-width="0.7" /><line x1="375.8" y1="386.0" x2="371.2" y2="383.4" stroke="#6a6a7a" stroke-width="0.7" /><line x1="375.8" y1="386.0" x2="380.4" y2="383.4" stroke="#6a6a7a" stroke-width="0.7" /><line x1="385.0" y1="386.0" x2="385.0" y2="391.3" stroke="#6a6a7a" stroke-width="0.7" /><line x1="385.0" y1="386.0" x2="380.4" y2="383.4" stroke="#6a6a7a" stroke-width="0.7" /><line x1="385.0" y1="386.0" x2="389.6" y2="383.4" stroke="#6a6a7a" stroke-width="0.7" /><line x1="279.4" y1="393.9" x2="279.4" y2="399.2" stroke="#6a6a7a" stroke-width="0.7" /><line x1="279.4" y1="393.9" x2="274.8" y2="391.3" stroke="#6a6a7a" stroke-width="0.7" /><line x1="279.4" y1="393.9" x2="284.0" y2="391.3" stroke="#6a6a7a" stroke-width="0.7" /><line x1="288.6" y1="393.9" x2="288.6" y2="399.2" stroke="#6a6a7a" stroke-width="0.7" /><line x1="288.6" y1="393.9" x2="284.0" y2="391.3" stroke="#6a6a7a" stroke-width="0.7" /><line x1="288.6" y1="393.9" x2="293.2" y2="391.3" stroke="#6a6a7a" stroke-width="0.7" /><line x1="297.8" y1="393.9" x2="297.8" y2="399.2" stroke="#6a6a7a" stroke-width="0.7" /><line x1="297.8" y1="393.9" x2="293.2" y2="391.3" stroke="#6a6a7a" stroke-width="0.7" /><line x1="297.8" y1="393.9" x2="302.4" y2="391.3" stroke="#6a6a7a" stroke-width="0.7" /><line x1="306.9" y1="393.9" x2="306.9" y2="399.2" stroke="#6a6a7a" stroke-width="0.7" /><line x1="306.9" y1="393.9" x2="302.4" y2="391.3" stroke="#6a6a7a" stroke-width="0.7" /><line x1="306.9" y1="393.9" x2="311.5" y2="391.3" stroke="#6a6a7a" stroke-width="0.7" /><line x1="316.1" y1="393.9" x2="316.1" y2="399.2" stroke="#6a6a7a" stroke-width="0.7" /><line x1="316.1" y1="393.9" x2="311.5" y2="391.3" stroke="#6a6a7a" stroke-width="0.7" /><line x1="316.1" y1="393.9" x2="320.7" y2="391.3" stroke="#6a6a7a" stroke-width="0.7" /><line x1="325.3" y1="393.9" x2="325.3" y2="399.2" stroke="#6a6a7a" stroke-width="0.7" /><line x1="325.3" y1="393.9" x2="320.7" y2="391.3" stroke="#6a6a7a" stroke-width="0.7" /><line x1="325.3" y1="393.9" x2="329.9" y2="391.3" stroke="#6a6a7a" stroke-width="0.7" /><line x1="334.5" y1="393.9" x2="334.5" y2="399.2" stroke="#6a6a7a" stroke-width="0.7" /><line x1="334.5" y1="393.9" x2="329.9" y2="391.3" stroke="#6a6a7a" stroke-width="0.7" /><line x1="334.5" y1="393.9" x2="339.1" y2="391.3" stroke="#6a6a7a" stroke-width="0.7" /><line x1="343.7" y1="393.9" x2="343.7" y2="399.2" stroke="#6a6a7a" stroke-width="0.7" /><line x1="343.7" y1="393.9" x2="339.1" y2="391.3" stroke="#6a6a7a" stroke-width="0.7" /><line x1="343.7" y1="393.9" x2="348.3" y2="391.3" stroke="#6a6a7a" stroke-width="0.7" /><line x1="352.8" y1="393.9" x2="352.8" y2="399.2" stroke="#6a6a7a" stroke-width="0.7" /><line x1="352.8" y1="393.9" x2="348.3" y2="391.3" stroke="#6a6a7a" stroke-width="0.7" /><line x1="352.8" y1="393.9" x2="357.4" y2="391.3" stroke="#6a6a7a" stroke-width="0.7" /><line x1="362.0" y1="393.9" x2="362.0" y2="399.2" stroke="#6a6a7a" stroke-width="0.7" /><line x1="362.0" y1="393.9" x2="357.4" y2="391.3" stroke="#6a6a7a" stroke-width="0.7" /><line x1="362.0" y1="393.9" x2="366.6" y2="391.3" stroke="#6a6a7a" stroke-width="0.7" /><line x1="371.2" y1="393.9" x2="371.2" y2="399.2" stroke="#6a6a7a" stroke-width="0.7" /><line x1="371.2" y1="393.9" x2="366.6" y2="391.3" stroke="#6a6a7a" stroke-width="0.7" /><line x1="371.2" y1="393.9" x2="375.8" y2="391.3" stroke="#6a6a7a" stroke-width="0.7" /><line x1="380.4" y1="393.9" x2="380.4" y2="399.2" stroke="#6a6a7a" stroke-width="0.7" /><line x1="380.4" y1="393.9" x2="375.8" y2="391.3" stroke="#6a6a7a" stroke-width="0.7" /><line x1="380.4" y1="393.9" x2="385.0" y2="391.3" stroke="#6a6a7a" stroke-width="0.7" /><line x1="389.6" y1="393.9" x2="389.6" y2="399.2" stroke="#6a6a7a" stroke-width="0.7" /><line x1="389.6" y1="393.9" x2="385.0" y2="391.3" stroke="#6a6a7a" stroke-width="0.7" /><line x1="389.6" y1="393.9" x2="394.2" y2="391.3" stroke="#6a6a7a" stroke-width="0.7" /><line x1="274.8" y1="401.9" x2="274.8" y2="407.2" stroke="#6a6a7a" stroke-width="0.7" /><line x1="274.8" y1="401.9" x2="270.2" y2="399.2" stroke="#6a6a7a" stroke-width="0.7" /><line x1="274.8" y1="401.9" x2="279.4" y2="399.2" stroke="#6a6a7a" stroke-width="0.7" /><line x1="284.0" y1="401.9" x2="284.0" y2="407.2" stroke="#6a6a7a" stroke-width="0.7" /><line x1="284.0" y1="401.9" x2="279.4" y2="399.2" stroke="#6a6a7a" stroke-width="0.7" /><line x1="284.0" y1="401.9" x2="288.6" y2="399.2" stroke="#6a6a7a" stroke-width="0.7" /><line x1="293.2" y1="401.9" x2="293.2" y2="407.2" stroke="#6a6a7a" stroke-width="0.7" /><line x1="293.2" y1="401.9" x2="288.6" y2="399.2" stroke="#6a6a7a" stroke-width="0.7" /><line x1="293.2" y1="401.9" x2="297.8" y2="399.2" stroke="#6a6a7a" stroke-width="0.7" /><line x1="302.4" y1="401.9" x2="302.4" y2="407.2" stroke="#6a6a7a" stroke-width="0.7" /><line x1="302.4" y1="401.9" x2="297.8" y2="399.2" stroke="#6a6a7a" stroke-width="0.7" /><line x1="302.4" y1="401.9" x2="306.9" y2="399.2" stroke="#6a6a7a" stroke-width="0.7" /><line x1="311.5" y1="401.9" x2="311.5" y2="407.2" stroke="#6a6a7a" stroke-width="0.7" /><line x1="311.5" y1="401.9" x2="306.9" y2="399.2" stroke="#6a6a7a" stroke-width="0.7" /><line x1="311.5" y1="401.9" x2="316.1" y2="399.2" stroke="#6a6a7a" stroke-width="0.7" /><line x1="320.7" y1="401.9" x2="320.7" y2="407.2" stroke="#6a6a7a" stroke-width="0.7" /><line x1="320.7" y1="401.9" x2="316.1" y2="399.2" stroke="#6a6a7a" stroke-width="0.7" /><line x1="320.7" y1="401.9" x2="325.3" y2="399.2" stroke="#6a6a7a" stroke-width="0.7" /><line x1="329.9" y1="401.9" x2="329.9" y2="407.2" stroke="#6a6a7a" stroke-width="0.7" /><line x1="329.9" y1="401.9" x2="325.3" y2="399.2" stroke="#6a6a7a" stroke-width="0.7" /><line x1="329.9" y1="401.9" x2="334.5" y2="399.2" stroke="#6a6a7a" stroke-width="0.7" /><line x1="339.1" y1="401.9" x2="339.1" y2="407.2" stroke="#6a6a7a" stroke-width="0.7" /><line x1="339.1" y1="401.9" x2="334.5" y2="399.2" stroke="#6a6a7a" stroke-width="0.7" /><line x1="339.1" y1="401.9" x2="343.7" y2="399.2" stroke="#6a6a7a" stroke-width="0.7" /><line x1="348.3" y1="401.9" x2="348.3" y2="407.2" stroke="#6a6a7a" stroke-width="0.7" /><line x1="348.3" y1="401.9" x2="343.7" y2="399.2" stroke="#6a6a7a" stroke-width="0.7" /><line x1="348.3" y1="401.9" x2="352.8" y2="399.2" stroke="#6a6a7a" stroke-width="0.7" /><line x1="357.4" y1="401.9" x2="357.4" y2="407.2" stroke="#6a6a7a" stroke-width="0.7" /><line x1="357.4" y1="401.9" x2="352.8" y2="399.2" stroke="#6a6a7a" stroke-width="0.7" /><line x1="357.4" y1="401.9" x2="362.0" y2="399.2" stroke="#6a6a7a" stroke-width="0.7" /><line x1="366.6" y1="401.9" x2="366.6" y2="407.2" stroke="#6a6a7a" stroke-width="0.7" /><line x1="366.6" y1="401.9" x2="362.0" y2="399.2" stroke="#6a6a7a" stroke-width="0.7" /><line x1="366.6" y1="401.9" x2="371.2" y2="399.2" stroke="#6a6a7a" stroke-width="0.7" /><line x1="375.8" y1="401.9" x2="375.8" y2="407.2" stroke="#6a6a7a" stroke-width="0.7" /><line x1="375.8" y1="401.9" x2="371.2" y2="399.2" stroke="#6a6a7a" stroke-width="0.7" /><line x1="375.8" y1="401.9" x2="380.4" y2="399.2" stroke="#6a6a7a" stroke-width="0.7" /><line x1="385.0" y1="401.9" x2="385.0" y2="407.2" stroke="#6a6a7a" stroke-width="0.7" /><line x1="385.0" y1="401.9" x2="380.4" y2="399.2" stroke="#6a6a7a" stroke-width="0.7" /><line x1="385.0" y1="401.9" x2="389.6" y2="399.2" stroke="#6a6a7a" stroke-width="0.7" /><line x1="279.4" y1="409.9" x2="279.4" y2="415.2" stroke="#6a6a7a" stroke-width="0.7" /><line x1="279.4" y1="409.9" x2="274.8" y2="407.2" stroke="#6a6a7a" stroke-width="0.7" /><line x1="279.4" y1="409.9" x2="284.0" y2="407.2" stroke="#6a6a7a" stroke-width="0.7" /><line x1="288.6" y1="409.9" x2="288.6" y2="415.2" stroke="#6a6a7a" stroke-width="0.7" /><line x1="288.6" y1="409.9" x2="284.0" y2="407.2" stroke="#6a6a7a" stroke-width="0.7" /><line x1="288.6" y1="409.9" x2="293.2" y2="407.2" stroke="#6a6a7a" stroke-width="0.7" /><line x1="297.8" y1="409.9" x2="297.8" y2="415.2" stroke="#6a6a7a" stroke-width="0.7" /><line x1="297.8" y1="409.9" x2="293.2" y2="407.2" stroke="#6a6a7a" stroke-width="0.7" /><line x1="297.8" y1="409.9" x2="302.4" y2="407.2" stroke="#6a6a7a" stroke-width="0.7" /><line x1="306.9" y1="409.9" x2="306.9" y2="415.2" stroke="#6a6a7a" stroke-width="0.7" /><line x1="306.9" y1="409.9" x2="302.4" y2="407.2" stroke="#6a6a7a" stroke-width="0.7" /><line x1="306.9" y1="409.9" x2="311.5" y2="407.2" stroke="#6a6a7a" stroke-width="0.7" /><line x1="316.1" y1="409.9" x2="316.1" y2="415.2" stroke="#6a6a7a" stroke-width="0.7" /><line x1="316.1" y1="409.9" x2="311.5" y2="407.2" stroke="#6a6a7a" stroke-width="0.7" /><line x1="316.1" y1="409.9" x2="320.7" y2="407.2" stroke="#6a6a7a" stroke-width="0.7" /><line x1="325.3" y1="409.9" x2="325.3" y2="415.2" stroke="#6a6a7a" stroke-width="0.7" /><line x1="325.3" y1="409.9" x2="320.7" y2="407.2" stroke="#6a6a7a" stroke-width="0.7" /><line x1="325.3" y1="409.9" x2="329.9" y2="407.2" stroke="#6a6a7a" stroke-width="0.7" /><line x1="334.5" y1="409.9" x2="334.5" y2="415.2" stroke="#6a6a7a" stroke-width="0.7" /><line x1="334.5" y1="409.9" x2="329.9" y2="407.2" stroke="#6a6a7a" stroke-width="0.7" /><line x1="334.5" y1="409.9" x2="339.1" y2="407.2" stroke="#6a6a7a" stroke-width="0.7" /><line x1="343.7" y1="409.9" x2="343.7" y2="415.2" stroke="#6a6a7a" stroke-width="0.7" /><line x1="343.7" y1="409.9" x2="339.1" y2="407.2" stroke="#6a6a7a" stroke-width="0.7" /><line x1="343.7" y1="409.9" x2="348.3" y2="407.2" stroke="#6a6a7a" stroke-width="0.7" /><line x1="352.8" y1="409.9" x2="352.8" y2="415.2" stroke="#6a6a7a" stroke-width="0.7" /><line x1="352.8" y1="409.9" x2="348.3" y2="407.2" stroke="#6a6a7a" stroke-width="0.7" /><line x1="352.8" y1="409.9" x2="357.4" y2="407.2" stroke="#6a6a7a" stroke-width="0.7" /><line x1="362.0" y1="409.9" x2="362.0" y2="415.2" stroke="#6a6a7a" stroke-width="0.7" /><line x1="362.0" y1="409.9" x2="357.4" y2="407.2" stroke="#6a6a7a" stroke-width="0.7" /><line x1="362.0" y1="409.9" x2="366.6" y2="407.2" stroke="#6a6a7a" stroke-width="0.7" /><line x1="371.2" y1="409.9" x2="371.2" y2="415.2" stroke="#6a6a7a" stroke-width="0.7" /><line x1="371.2" y1="409.9" x2="366.6" y2="407.2" stroke="#6a6a7a" stroke-width="0.7" /><line x1="371.2" y1="409.9" x2="375.8" y2="407.2" stroke="#6a6a7a" stroke-width="0.7" /><line x1="380.4" y1="409.9" x2="380.4" y2="415.2" stroke="#6a6a7a" stroke-width="0.7" /><line x1="380.4" y1="409.9" x2="375.8" y2="407.2" stroke="#6a6a7a" stroke-width="0.7" /><line x1="380.4" y1="409.9" x2="385.0" y2="407.2" stroke="#6a6a7a" stroke-width="0.7" /><line x1="389.6" y1="409.9" x2="389.6" y2="415.2" stroke="#6a6a7a" stroke-width="0.7" /><line x1="389.6" y1="409.9" x2="385.0" y2="407.2" stroke="#6a6a7a" stroke-width="0.7" /><line x1="389.6" y1="409.9" x2="394.2" y2="407.2" stroke="#6a6a7a" stroke-width="0.7" /><line x1="274.8" y1="417.8" x2="274.8" y2="423.1" stroke="#6a6a7a" stroke-width="0.7" /><line x1="274.8" y1="417.8" x2="270.2" y2="415.2" stroke="#6a6a7a" stroke-width="0.7" /><line x1="274.8" y1="417.8" x2="279.4" y2="415.2" stroke="#6a6a7a" stroke-width="0.7" /><line x1="284.0" y1="417.8" x2="284.0" y2="423.1" stroke="#6a6a7a" stroke-width="0.7" /><line x1="284.0" y1="417.8" x2="279.4" y2="415.2" stroke="#6a6a7a" stroke-width="0.7" /><line x1="284.0" y1="417.8" x2="288.6" y2="415.2" stroke="#6a6a7a" stroke-width="0.7" /><line x1="293.2" y1="417.8" x2="293.2" y2="423.1" stroke="#6a6a7a" stroke-width="0.7" /><line x1="293.2" y1="417.8" x2="288.6" y2="415.2" stroke="#6a6a7a" stroke-width="0.7" /><line x1="293.2" y1="417.8" x2="297.8" y2="415.2" stroke="#6a6a7a" stroke-width="0.7" /><line x1="302.4" y1="417.8" x2="302.4" y2="423.1" stroke="#6a6a7a" stroke-width="0.7" /><line x1="302.4" y1="417.8" x2="297.8" y2="415.2" stroke="#6a6a7a" stroke-width="0.7" /><line x1="302.4" y1="417.8" x2="306.9" y2="415.2" stroke="#6a6a7a" stroke-width="0.7" /><line x1="311.5" y1="417.8" x2="311.5" y2="423.1" stroke="#6a6a7a" stroke-width="0.7" /><line x1="311.5" y1="417.8" x2="306.9" y2="415.2" stroke="#6a6a7a" stroke-width="0.7" /><line x1="311.5" y1="417.8" x2="316.1" y2="415.2" stroke="#6a6a7a" stroke-width="0.7" /><line x1="320.7" y1="417.8" x2="320.7" y2="423.1" stroke="#6a6a7a" stroke-width="0.7" /><line x1="320.7" y1="417.8" x2="316.1" y2="415.2" stroke="#6a6a7a" stroke-width="0.7" /><line x1="320.7" y1="417.8" x2="325.3" y2="415.2" stroke="#6a6a7a" stroke-width="0.7" /><line x1="329.9" y1="417.8" x2="329.9" y2="423.1" stroke="#6a6a7a" stroke-width="0.7" /><line x1="329.9" y1="417.8" x2="325.3" y2="415.2" stroke="#6a6a7a" stroke-width="0.7" /><line x1="329.9" y1="417.8" x2="334.5" y2="415.2" stroke="#6a6a7a" stroke-width="0.7" /><line x1="339.1" y1="417.8" x2="339.1" y2="423.1" stroke="#6a6a7a" stroke-width="0.7" /><line x1="339.1" y1="417.8" x2="334.5" y2="415.2" stroke="#6a6a7a" stroke-width="0.7" /><line x1="339.1" y1="417.8" x2="343.7" y2="415.2" stroke="#6a6a7a" stroke-width="0.7" /><line x1="348.3" y1="417.8" x2="348.3" y2="423.1" stroke="#6a6a7a" stroke-width="0.7" /><line x1="348.3" y1="417.8" x2="343.7" y2="415.2" stroke="#6a6a7a" stroke-width="0.7" /><line x1="348.3" y1="417.8" x2="352.8" y2="415.2" stroke="#6a6a7a" stroke-width="0.7" /><line x1="357.4" y1="417.8" x2="357.4" y2="423.1" stroke="#6a6a7a" stroke-width="0.7" /><line x1="357.4" y1="417.8" x2="352.8" y2="415.2" stroke="#6a6a7a" stroke-width="0.7" /><line x1="357.4" y1="417.8" x2="362.0" y2="415.2" stroke="#6a6a7a" stroke-width="0.7" /><line x1="366.6" y1="417.8" x2="366.6" y2="423.1" stroke="#6a6a7a" stroke-width="0.7" /><line x1="366.6" y1="417.8" x2="362.0" y2="415.2" stroke="#6a6a7a" stroke-width="0.7" /><line x1="366.6" y1="417.8" x2="371.2" y2="415.2" stroke="#6a6a7a" stroke-width="0.7" /><line x1="375.8" y1="417.8" x2="375.8" y2="423.1" stroke="#6a6a7a" stroke-width="0.7" /><line x1="375.8" y1="417.8" x2="371.2" y2="415.2" stroke="#6a6a7a" stroke-width="0.7" /><line x1="375.8" y1="417.8" x2="380.4" y2="415.2" stroke="#6a6a7a" stroke-width="0.7" /><line x1="385.0" y1="417.8" x2="385.0" y2="423.1" stroke="#6a6a7a" stroke-width="0.7" /><line x1="385.0" y1="417.8" x2="380.4" y2="415.2" stroke="#6a6a7a" stroke-width="0.7" /><line x1="385.0" y1="417.8" x2="389.6" y2="415.2" stroke="#6a6a7a" stroke-width="0.7" /><line x1="279.4" y1="425.8" x2="279.4" y2="431.1" stroke="#6a6a7a" stroke-width="0.7" /><line x1="279.4" y1="425.8" x2="274.8" y2="423.1" stroke="#6a6a7a" stroke-width="0.7" /><line x1="279.4" y1="425.8" x2="284.0" y2="423.1" stroke="#6a6a7a" stroke-width="0.7" /><line x1="288.6" y1="425.8" x2="288.6" y2="431.1" stroke="#6a6a7a" stroke-width="0.7" /><line x1="288.6" y1="425.8" x2="284.0" y2="423.1" stroke="#6a6a7a" stroke-width="0.7" /><line x1="288.6" y1="425.8" x2="293.2" y2="423.1" stroke="#6a6a7a" stroke-width="0.7" /><line x1="297.8" y1="425.8" x2="297.8" y2="431.1" stroke="#6a6a7a" stroke-width="0.7" /><line x1="297.8" y1="425.8" x2="293.2" y2="423.1" stroke="#6a6a7a" stroke-width="0.7" /><line x1="297.8" y1="425.8" x2="302.4" y2="423.1" stroke="#6a6a7a" stroke-width="0.7" /><line x1="306.9" y1="425.8" x2="306.9" y2="431.1" stroke="#6a6a7a" stroke-width="0.7" /><line x1="306.9" y1="425.8" x2="302.4" y2="423.1" stroke="#6a6a7a" stroke-width="0.7" /><line x1="306.9" y1="425.8" x2="311.5" y2="423.1" stroke="#6a6a7a" stroke-width="0.7" /><line x1="316.1" y1="425.8" x2="316.1" y2="431.1" stroke="#6a6a7a" stroke-width="0.7" /><line x1="316.1" y1="425.8" x2="311.5" y2="423.1" stroke="#6a6a7a" stroke-width="0.7" /><line x1="316.1" y1="425.8" x2="320.7" y2="423.1" stroke="#6a6a7a" stroke-width="0.7" /><line x1="325.3" y1="425.8" x2="325.3" y2="431.1" stroke="#6a6a7a" stroke-width="0.7" /><line x1="325.3" y1="425.8" x2="320.7" y2="423.1" stroke="#6a6a7a" stroke-width="0.7" /><line x1="325.3" y1="425.8" x2="329.9" y2="423.1" stroke="#6a6a7a" stroke-width="0.7" /><line x1="334.5" y1="425.8" x2="334.5" y2="431.1" stroke="#6a6a7a" stroke-width="0.7" /><line x1="334.5" y1="425.8" x2="329.9" y2="423.1" stroke="#6a6a7a" stroke-width="0.7" /><line x1="334.5" y1="425.8" x2="339.1" y2="423.1" stroke="#6a6a7a" stroke-width="0.7" /><line x1="343.7" y1="425.8" x2="343.7" y2="431.1" stroke="#6a6a7a" stroke-width="0.7" /><line x1="343.7" y1="425.8" x2="339.1" y2="423.1" stroke="#6a6a7a" stroke-width="0.7" /><line x1="343.7" y1="425.8" x2="348.3" y2="423.1" stroke="#6a6a7a" stroke-width="0.7" /><line x1="352.8" y1="425.8" x2="352.8" y2="431.1" stroke="#6a6a7a" stroke-width="0.7" /><line x1="352.8" y1="425.8" x2="348.3" y2="423.1" stroke="#6a6a7a" stroke-width="0.7" /><line x1="352.8" y1="425.8" x2="357.4" y2="423.1" stroke="#6a6a7a" stroke-width="0.7" /><line x1="362.0" y1="425.8" x2="362.0" y2="431.1" stroke="#6a6a7a" stroke-width="0.7" /><line x1="362.0" y1="425.8" x2="357.4" y2="423.1" stroke="#6a6a7a" stroke-width="0.7" /><line x1="362.0" y1="425.8" x2="366.6" y2="423.1" stroke="#6a6a7a" stroke-width="0.7" /><line x1="371.2" y1="425.8" x2="371.2" y2="431.1" stroke="#6a6a7a" stroke-width="0.7" /><line x1="371.2" y1="425.8" x2="366.6" y2="423.1" stroke="#6a6a7a" stroke-width="0.7" /><line x1="371.2" y1="425.8" x2="375.8" y2="423.1" stroke="#6a6a7a" stroke-width="0.7" /><line x1="380.4" y1="425.8" x2="380.4" y2="431.1" stroke="#6a6a7a" stroke-width="0.7" /><line x1="380.4" y1="425.8" x2="375.8" y2="423.1" stroke="#6a6a7a" stroke-width="0.7" /><line x1="380.4" y1="425.8" x2="385.0" y2="423.1" stroke="#6a6a7a" stroke-width="0.7" /><line x1="389.6" y1="425.8" x2="389.6" y2="431.1" stroke="#6a6a7a" stroke-width="0.7" /><line x1="389.6" y1="425.8" x2="385.0" y2="423.1" stroke="#6a6a7a" stroke-width="0.7" /><line x1="389.6" y1="425.8" x2="394.2" y2="423.1" stroke="#6a6a7a" stroke-width="0.7" /><line x1="274.8" y1="433.7" x2="274.8" y2="439.0" stroke="#6a6a7a" stroke-width="0.7" /><line x1="274.8" y1="433.7" x2="270.2" y2="431.1" stroke="#6a6a7a" stroke-width="0.7" /><line x1="274.8" y1="433.7" x2="279.4" y2="431.1" stroke="#6a6a7a" stroke-width="0.7" /><line x1="284.0" y1="433.7" x2="284.0" y2="439.0" stroke="#6a6a7a" stroke-width="0.7" /><line x1="284.0" y1="433.7" x2="279.4" y2="431.1" stroke="#6a6a7a" stroke-width="0.7" /><line x1="284.0" y1="433.7" x2="288.6" y2="431.1" stroke="#6a6a7a" stroke-width="0.7" /><line x1="293.2" y1="433.7" x2="293.2" y2="439.0" stroke="#6a6a7a" stroke-width="0.7" /><line x1="293.2" y1="433.7" x2="288.6" y2="431.1" stroke="#6a6a7a" stroke-width="0.7" /><line x1="293.2" y1="433.7" x2="297.8" y2="431.1" stroke="#6a6a7a" stroke-width="0.7" /><line x1="302.4" y1="433.7" x2="302.4" y2="439.0" stroke="#6a6a7a" stroke-width="0.7" /><line x1="302.4" y1="433.7" x2="297.8" y2="431.1" stroke="#6a6a7a" stroke-width="0.7" /><line x1="302.4" y1="433.7" x2="306.9" y2="431.1" stroke="#6a6a7a" stroke-width="0.7" /><line x1="311.5" y1="433.7" x2="311.5" y2="439.0" stroke="#6a6a7a" stroke-width="0.7" /><line x1="311.5" y1="433.7" x2="306.9" y2="431.1" stroke="#6a6a7a" stroke-width="0.7" /><line x1="311.5" y1="433.7" x2="316.1" y2="431.1" stroke="#6a6a7a" stroke-width="0.7" /><line x1="320.7" y1="433.7" x2="320.7" y2="439.0" stroke="#6a6a7a" stroke-width="0.7" /><line x1="320.7" y1="433.7" x2="316.1" y2="431.1" stroke="#6a6a7a" stroke-width="0.7" /><line x1="320.7" y1="433.7" x2="325.3" y2="431.1" stroke="#6a6a7a" stroke-width="0.7" /><line x1="329.9" y1="433.7" x2="329.9" y2="439.0" stroke="#6a6a7a" stroke-width="0.7" /><line x1="329.9" y1="433.7" x2="325.3" y2="431.1" stroke="#6a6a7a" stroke-width="0.7" /><line x1="329.9" y1="433.7" x2="334.5" y2="431.1" stroke="#6a6a7a" stroke-width="0.7" /><line x1="339.1" y1="433.7" x2="339.1" y2="439.0" stroke="#6a6a7a" stroke-width="0.7" /><line x1="339.1" y1="433.7" x2="334.5" y2="431.1" stroke="#6a6a7a" stroke-width="0.7" /><line x1="339.1" y1="433.7" x2="343.7" y2="431.1" stroke="#6a6a7a" stroke-width="0.7" /><line x1="348.3" y1="433.7" x2="348.3" y2="439.0" stroke="#6a6a7a" stroke-width="0.7" /><line x1="348.3" y1="433.7" x2="343.7" y2="431.1" stroke="#6a6a7a" stroke-width="0.7" /><line x1="348.3" y1="433.7" x2="352.8" y2="431.1" stroke="#6a6a7a" stroke-width="0.7" /><line x1="357.4" y1="433.7" x2="357.4" y2="439.0" stroke="#6a6a7a" stroke-width="0.7" /><line x1="357.4" y1="433.7" x2="352.8" y2="431.1" stroke="#6a6a7a" stroke-width="0.7" /><line x1="357.4" y1="433.7" x2="362.0" y2="431.1" stroke="#6a6a7a" stroke-width="0.7" /><line x1="366.6" y1="433.7" x2="366.6" y2="439.0" stroke="#6a6a7a" stroke-width="0.7" /><line x1="366.6" y1="433.7" x2="362.0" y2="431.1" stroke="#6a6a7a" stroke-width="0.7" /><line x1="366.6" y1="433.7" x2="371.2" y2="431.1" stroke="#6a6a7a" stroke-width="0.7" /><line x1="375.8" y1="433.7" x2="375.8" y2="439.0" stroke="#6a6a7a" stroke-width="0.7" /><line x1="375.8" y1="433.7" x2="371.2" y2="431.1" stroke="#6a6a7a" stroke-width="0.7" /><line x1="375.8" y1="433.7" x2="380.4" y2="431.1" stroke="#6a6a7a" stroke-width="0.7" /><line x1="385.0" y1="433.7" x2="385.0" y2="439.0" stroke="#6a6a7a" stroke-width="0.7" /><line x1="385.0" y1="433.7" x2="380.4" y2="431.1" stroke="#6a6a7a" stroke-width="0.7" /><line x1="385.0" y1="433.7" x2="389.6" y2="431.1" stroke="#6a6a7a" stroke-width="0.7" /><line x1="279.4" y1="441.6" x2="279.4" y2="446.9" stroke="#6a6a7a" stroke-width="0.7" /><line x1="279.4" y1="441.6" x2="274.8" y2="439.0" stroke="#6a6a7a" stroke-width="0.7" /><line x1="279.4" y1="441.6" x2="284.0" y2="439.0" stroke="#6a6a7a" stroke-width="0.7" /><line x1="288.6" y1="441.6" x2="288.6" y2="446.9" stroke="#6a6a7a" stroke-width="0.7" /><line x1="288.6" y1="441.6" x2="284.0" y2="439.0" stroke="#6a6a7a" stroke-width="0.7" /><line x1="288.6" y1="441.6" x2="293.2" y2="439.0" stroke="#6a6a7a" stroke-width="0.7" /><line x1="297.8" y1="441.6" x2="297.8" y2="446.9" stroke="#6a6a7a" stroke-width="0.7" /><line x1="297.8" y1="441.6" x2="293.2" y2="439.0" stroke="#6a6a7a" stroke-width="0.7" /><line x1="297.8" y1="441.6" x2="302.4" y2="439.0" stroke="#6a6a7a" stroke-width="0.7" /><line x1="306.9" y1="441.6" x2="306.9" y2="446.9" stroke="#6a6a7a" stroke-width="0.7" /><line x1="306.9" y1="441.6" x2="302.4" y2="439.0" stroke="#6a6a7a" stroke-width="0.7" /><line x1="306.9" y1="441.6" x2="311.5" y2="439.0" stroke="#6a6a7a" stroke-width="0.7" /><line x1="316.1" y1="441.6" x2="316.1" y2="446.9" stroke="#6a6a7a" stroke-width="0.7" /><line x1="316.1" y1="441.6" x2="311.5" y2="439.0" stroke="#6a6a7a" stroke-width="0.7" /><line x1="316.1" y1="441.6" x2="320.7" y2="439.0" stroke="#6a6a7a" stroke-width="0.7" /><line x1="325.3" y1="441.6" x2="325.3" y2="446.9" stroke="#6a6a7a" stroke-width="0.7" /><line x1="325.3" y1="441.6" x2="320.7" y2="439.0" stroke="#6a6a7a" stroke-width="0.7" /><line x1="325.3" y1="441.6" x2="329.9" y2="439.0" stroke="#6a6a7a" stroke-width="0.7" /><line x1="334.5" y1="441.6" x2="334.5" y2="446.9" stroke="#6a6a7a" stroke-width="0.7" /><line x1="334.5" y1="441.6" x2="329.9" y2="439.0" stroke="#6a6a7a" stroke-width="0.7" /><line x1="334.5" y1="441.6" x2="339.1" y2="439.0" stroke="#6a6a7a" stroke-width="0.7" /><line x1="343.7" y1="441.6" x2="343.7" y2="446.9" stroke="#6a6a7a" stroke-width="0.7" /><line x1="343.7" y1="441.6" x2="339.1" y2="439.0" stroke="#6a6a7a" stroke-width="0.7" /><line x1="343.7" y1="441.6" x2="348.3" y2="439.0" stroke="#6a6a7a" stroke-width="0.7" /><line x1="352.8" y1="441.6" x2="352.8" y2="446.9" stroke="#6a6a7a" stroke-width="0.7" /><line x1="352.8" y1="441.6" x2="348.3" y2="439.0" stroke="#6a6a7a" stroke-width="0.7" /><line x1="352.8" y1="441.6" x2="357.4" y2="439.0" stroke="#6a6a7a" stroke-width="0.7" /><line x1="362.0" y1="441.6" x2="362.0" y2="446.9" stroke="#6a6a7a" stroke-width="0.7" /><line x1="362.0" y1="441.6" x2="357.4" y2="439.0" stroke="#6a6a7a" stroke-width="0.7" /><line x1="362.0" y1="441.6" x2="366.6" y2="439.0" stroke="#6a6a7a" stroke-width="0.7" /><line x1="371.2" y1="441.6" x2="371.2" y2="446.9" stroke="#6a6a7a" stroke-width="0.7" /><line x1="371.2" y1="441.6" x2="366.6" y2="439.0" stroke="#6a6a7a" stroke-width="0.7" /><line x1="371.2" y1="441.6" x2="375.8" y2="439.0" stroke="#6a6a7a" stroke-width="0.7" /><line x1="380.4" y1="441.6" x2="380.4" y2="446.9" stroke="#6a6a7a" stroke-width="0.7" /><line x1="380.4" y1="441.6" x2="375.8" y2="439.0" stroke="#6a6a7a" stroke-width="0.7" /><line x1="380.4" y1="441.6" x2="385.0" y2="439.0" stroke="#6a6a7a" stroke-width="0.7" /><line x1="389.6" y1="441.6" x2="389.6" y2="446.9" stroke="#6a6a7a" stroke-width="0.7" /><line x1="389.6" y1="441.6" x2="385.0" y2="439.0" stroke="#6a6a7a" stroke-width="0.7" /><line x1="389.6" y1="441.6" x2="394.2" y2="439.0" stroke="#6a6a7a" stroke-width="0.7" /><line x1="274.8" y1="449.6" x2="274.8" y2="454.9" stroke="#6a6a7a" stroke-width="0.7" /><line x1="274.8" y1="449.6" x2="270.2" y2="447.0" stroke="#6a6a7a" stroke-width="0.7" /><line x1="274.8" y1="449.6" x2="279.4" y2="447.0" stroke="#6a6a7a" stroke-width="0.7" /><line x1="284.0" y1="449.6" x2="284.0" y2="454.9" stroke="#6a6a7a" stroke-width="0.7" /><line x1="284.0" y1="449.6" x2="279.4" y2="447.0" stroke="#6a6a7a" stroke-width="0.7" /><line x1="284.0" y1="449.6" x2="288.6" y2="447.0" stroke="#6a6a7a" stroke-width="0.7" /><line x1="293.2" y1="449.6" x2="293.2" y2="454.9" stroke="#6a6a7a" stroke-width="0.7" /><line x1="293.2" y1="449.6" x2="288.6" y2="447.0" stroke="#6a6a7a" stroke-width="0.7" /><line x1="293.2" y1="449.6" x2="297.8" y2="447.0" stroke="#6a6a7a" stroke-width="0.7" /><line x1="302.4" y1="449.6" x2="302.4" y2="454.9" stroke="#6a6a7a" stroke-width="0.7" /><line x1="302.4" y1="449.6" x2="297.8" y2="447.0" stroke="#6a6a7a" stroke-width="0.7" /><line x1="302.4" y1="449.6" x2="306.9" y2="447.0" stroke="#6a6a7a" stroke-width="0.7" /><line x1="311.5" y1="449.6" x2="311.5" y2="454.9" stroke="#6a6a7a" stroke-width="0.7" /><line x1="311.5" y1="449.6" x2="306.9" y2="447.0" stroke="#6a6a7a" stroke-width="0.7" /><line x1="311.5" y1="449.6" x2="316.1" y2="447.0" stroke="#6a6a7a" stroke-width="0.7" /><line x1="320.7" y1="449.6" x2="320.7" y2="454.9" stroke="#6a6a7a" stroke-width="0.7" /><line x1="320.7" y1="449.6" x2="316.1" y2="447.0" stroke="#6a6a7a" stroke-width="0.7" /><line x1="320.7" y1="449.6" x2="325.3" y2="447.0" stroke="#6a6a7a" stroke-width="0.7" /><line x1="329.9" y1="449.6" x2="329.9" y2="454.9" stroke="#6a6a7a" stroke-width="0.7" /><line x1="329.9" y1="449.6" x2="325.3" y2="447.0" stroke="#6a6a7a" stroke-width="0.7" /><line x1="329.9" y1="449.6" x2="334.5" y2="447.0" stroke="#6a6a7a" stroke-width="0.7" /><line x1="339.1" y1="449.6" x2="339.1" y2="454.9" stroke="#6a6a7a" stroke-width="0.7" /><line x1="339.1" y1="449.6" x2="334.5" y2="447.0" stroke="#6a6a7a" stroke-width="0.7" /><line x1="339.1" y1="449.6" x2="343.7" y2="447.0" stroke="#6a6a7a" stroke-width="0.7" /><line x1="348.3" y1="449.6" x2="348.3" y2="454.9" stroke="#6a6a7a" stroke-width="0.7" /><line x1="348.3" y1="449.6" x2="343.7" y2="447.0" stroke="#6a6a7a" stroke-width="0.7" /><line x1="348.3" y1="449.6" x2="352.8" y2="447.0" stroke="#6a6a7a" stroke-width="0.7" /><line x1="357.4" y1="449.6" x2="357.4" y2="454.9" stroke="#6a6a7a" stroke-width="0.7" /><line x1="357.4" y1="449.6" x2="352.8" y2="447.0" stroke="#6a6a7a" stroke-width="0.7" /><line x1="357.4" y1="449.6" x2="362.0" y2="447.0" stroke="#6a6a7a" stroke-width="0.7" /><line x1="366.6" y1="449.6" x2="366.6" y2="454.9" stroke="#6a6a7a" stroke-width="0.7" /><line x1="366.6" y1="449.6" x2="362.0" y2="447.0" stroke="#6a6a7a" stroke-width="0.7" /><line x1="366.6" y1="449.6" x2="371.2" y2="447.0" stroke="#6a6a7a" stroke-width="0.7" /><line x1="375.8" y1="449.6" x2="375.8" y2="454.9" stroke="#6a6a7a" stroke-width="0.7" /><line x1="375.8" y1="449.6" x2="371.2" y2="447.0" stroke="#6a6a7a" stroke-width="0.7" /><line x1="375.8" y1="449.6" x2="380.4" y2="447.0" stroke="#6a6a7a" stroke-width="0.7" /><line x1="385.0" y1="449.6" x2="385.0" y2="454.9" stroke="#6a6a7a" stroke-width="0.7" /><line x1="385.0" y1="449.6" x2="380.4" y2="447.0" stroke="#6a6a7a" stroke-width="0.7" /><line x1="385.0" y1="449.6" x2="389.6" y2="447.0" stroke="#6a6a7a" stroke-width="0.7" /><line x1="279.4" y1="457.6" x2="279.4" y2="462.9" stroke="#6a6a7a" stroke-width="0.7" /><line x1="279.4" y1="457.6" x2="274.8" y2="454.9" stroke="#6a6a7a" stroke-width="0.7" /><line x1="279.4" y1="457.6" x2="284.0" y2="454.9" stroke="#6a6a7a" stroke-width="0.7" /><line x1="288.6" y1="457.6" x2="288.6" y2="462.9" stroke="#6a6a7a" stroke-width="0.7" /><line x1="288.6" y1="457.6" x2="284.0" y2="454.9" stroke="#6a6a7a" stroke-width="0.7" /><line x1="288.6" y1="457.6" x2="293.2" y2="454.9" stroke="#6a6a7a" stroke-width="0.7" /><line x1="297.8" y1="457.6" x2="297.8" y2="462.9" stroke="#6a6a7a" stroke-width="0.7" /><line x1="297.8" y1="457.6" x2="293.2" y2="454.9" stroke="#6a6a7a" stroke-width="0.7" /><line x1="297.8" y1="457.6" x2="302.4" y2="454.9" stroke="#6a6a7a" stroke-width="0.7" /><line x1="306.9" y1="457.6" x2="306.9" y2="462.9" stroke="#6a6a7a" stroke-width="0.7" /><line x1="306.9" y1="457.6" x2="302.4" y2="454.9" stroke="#6a6a7a" stroke-width="0.7" /><line x1="306.9" y1="457.6" x2="311.5" y2="454.9" stroke="#6a6a7a" stroke-width="0.7" /><line x1="316.1" y1="457.6" x2="316.1" y2="462.9" stroke="#6a6a7a" stroke-width="0.7" /><line x1="316.1" y1="457.6" x2="311.5" y2="454.9" stroke="#6a6a7a" stroke-width="0.7" /><line x1="316.1" y1="457.6" x2="320.7" y2="454.9" stroke="#6a6a7a" stroke-width="0.7" /><line x1="325.3" y1="457.6" x2="325.3" y2="462.9" stroke="#6a6a7a" stroke-width="0.7" /><line x1="325.3" y1="457.6" x2="320.7" y2="454.9" stroke="#6a6a7a" stroke-width="0.7" /><line x1="325.3" y1="457.6" x2="329.9" y2="454.9" stroke="#6a6a7a" stroke-width="0.7" /><line x1="334.5" y1="457.6" x2="334.5" y2="462.9" stroke="#6a6a7a" stroke-width="0.7" /><line x1="334.5" y1="457.6" x2="329.9" y2="454.9" stroke="#6a6a7a" stroke-width="0.7" /><line x1="334.5" y1="457.6" x2="339.1" y2="454.9" stroke="#6a6a7a" stroke-width="0.7" /><line x1="343.7" y1="457.6" x2="343.7" y2="462.9" stroke="#6a6a7a" stroke-width="0.7" /><line x1="343.7" y1="457.6" x2="339.1" y2="454.9" stroke="#6a6a7a" stroke-width="0.7" /><line x1="343.7" y1="457.6" x2="348.3" y2="454.9" stroke="#6a6a7a" stroke-width="0.7" /><line x1="352.8" y1="457.6" x2="352.8" y2="462.9" stroke="#6a6a7a" stroke-width="0.7" /><line x1="352.8" y1="457.6" x2="348.3" y2="454.9" stroke="#6a6a7a" stroke-width="0.7" /><line x1="352.8" y1="457.6" x2="357.4" y2="454.9" stroke="#6a6a7a" stroke-width="0.7" /><line x1="362.0" y1="457.6" x2="362.0" y2="462.9" stroke="#6a6a7a" stroke-width="0.7" /><line x1="362.0" y1="457.6" x2="357.4" y2="454.9" stroke="#6a6a7a" stroke-width="0.7" /><line x1="362.0" y1="457.6" x2="366.6" y2="454.9" stroke="#6a6a7a" stroke-width="0.7" /><line x1="371.2" y1="457.6" x2="371.2" y2="462.9" stroke="#6a6a7a" stroke-width="0.7" /><line x1="371.2" y1="457.6" x2="366.6" y2="454.9" stroke="#6a6a7a" stroke-width="0.7" /><line x1="371.2" y1="457.6" x2="375.8" y2="454.9" stroke="#6a6a7a" stroke-width="0.7" /><line x1="380.4" y1="457.6" x2="380.4" y2="462.9" stroke="#6a6a7a" stroke-width="0.7" /><line x1="380.4" y1="457.6" x2="375.8" y2="454.9" stroke="#6a6a7a" stroke-width="0.7" /><line x1="380.4" y1="457.6" x2="385.0" y2="454.9" stroke="#6a6a7a" stroke-width="0.7" /><line x1="389.6" y1="457.6" x2="389.6" y2="462.9" stroke="#6a6a7a" stroke-width="0.7" /><line x1="389.6" y1="457.6" x2="385.0" y2="454.9" stroke="#6a6a7a" stroke-width="0.7" /><line x1="389.6" y1="457.6" x2="394.2" y2="454.9" stroke="#6a6a7a" stroke-width="0.7" /><line x1="274.8" y1="465.5" x2="274.8" y2="470.8" stroke="#6a6a7a" stroke-width="0.7" /><line x1="274.8" y1="465.5" x2="270.2" y2="462.9" stroke="#6a6a7a" stroke-width="0.7" /><line x1="274.8" y1="465.5" x2="279.4" y2="462.9" stroke="#6a6a7a" stroke-width="0.7" /><line x1="284.0" y1="465.5" x2="284.0" y2="470.8" stroke="#6a6a7a" stroke-width="0.7" /><line x1="284.0" y1="465.5" x2="279.4" y2="462.9" stroke="#6a6a7a" stroke-width="0.7" /><line x1="284.0" y1="465.5" x2="288.6" y2="462.9" stroke="#6a6a7a" stroke-width="0.7" /><line x1="293.2" y1="465.5" x2="293.2" y2="470.8" stroke="#6a6a7a" stroke-width="0.7" /><line x1="293.2" y1="465.5" x2="288.6" y2="462.9" stroke="#6a6a7a" stroke-width="0.7" /><line x1="293.2" y1="465.5" x2="297.8" y2="462.9" stroke="#6a6a7a" stroke-width="0.7" /><line x1="302.4" y1="465.5" x2="302.4" y2="470.8" stroke="#6a6a7a" stroke-width="0.7" /><line x1="302.4" y1="465.5" x2="297.8" y2="462.9" stroke="#6a6a7a" stroke-width="0.7" /><line x1="302.4" y1="465.5" x2="306.9" y2="462.9" stroke="#6a6a7a" stroke-width="0.7" /><line x1="311.5" y1="465.5" x2="311.5" y2="470.8" stroke="#6a6a7a" stroke-width="0.7" /><line x1="311.5" y1="465.5" x2="306.9" y2="462.9" stroke="#6a6a7a" stroke-width="0.7" /><line x1="311.5" y1="465.5" x2="316.1" y2="462.9" stroke="#6a6a7a" stroke-width="0.7" /><line x1="320.7" y1="465.5" x2="320.7" y2="470.8" stroke="#6a6a7a" stroke-width="0.7" /><line x1="320.7" y1="465.5" x2="316.1" y2="462.9" stroke="#6a6a7a" stroke-width="0.7" /><line x1="320.7" y1="465.5" x2="325.3" y2="462.9" stroke="#6a6a7a" stroke-width="0.7" /><line x1="329.9" y1="465.5" x2="329.9" y2="470.8" stroke="#6a6a7a" stroke-width="0.7" /><line x1="329.9" y1="465.5" x2="325.3" y2="462.9" stroke="#6a6a7a" stroke-width="0.7" /><line x1="329.9" y1="465.5" x2="334.5" y2="462.9" stroke="#6a6a7a" stroke-width="0.7" /><line x1="339.1" y1="465.5" x2="339.1" y2="470.8" stroke="#6a6a7a" stroke-width="0.7" /><line x1="339.1" y1="465.5" x2="334.5" y2="462.9" stroke="#6a6a7a" stroke-width="0.7" /><line x1="339.1" y1="465.5" x2="343.7" y2="462.9" stroke="#6a6a7a" stroke-width="0.7" /><line x1="348.3" y1="465.5" x2="348.3" y2="470.8" stroke="#6a6a7a" stroke-width="0.7" /><line x1="348.3" y1="465.5" x2="343.7" y2="462.9" stroke="#6a6a7a" stroke-width="0.7" /><line x1="348.3" y1="465.5" x2="352.8" y2="462.9" stroke="#6a6a7a" stroke-width="0.7" /><line x1="357.4" y1="465.5" x2="357.4" y2="470.8" stroke="#6a6a7a" stroke-width="0.7" /><line x1="357.4" y1="465.5" x2="352.8" y2="462.9" stroke="#6a6a7a" stroke-width="0.7" /><line x1="357.4" y1="465.5" x2="362.0" y2="462.9" stroke="#6a6a7a" stroke-width="0.7" /><line x1="366.6" y1="465.5" x2="366.6" y2="470.8" stroke="#6a6a7a" stroke-width="0.7" /><line x1="366.6" y1="465.5" x2="362.0" y2="462.9" stroke="#6a6a7a" stroke-width="0.7" /><line x1="366.6" y1="465.5" x2="371.2" y2="462.9" stroke="#6a6a7a" stroke-width="0.7" /><line x1="375.8" y1="465.5" x2="375.8" y2="470.8" stroke="#6a6a7a" stroke-width="0.7" /><line x1="375.8" y1="465.5" x2="371.2" y2="462.9" stroke="#6a6a7a" stroke-width="0.7" /><line x1="375.8" y1="465.5" x2="380.4" y2="462.9" stroke="#6a6a7a" stroke-width="0.7" /><line x1="385.0" y1="465.5" x2="385.0" y2="470.8" stroke="#6a6a7a" stroke-width="0.7" /><line x1="385.0" y1="465.5" x2="380.4" y2="462.9" stroke="#6a6a7a" stroke-width="0.7" /><line x1="385.0" y1="465.5" x2="389.6" y2="462.9" stroke="#6a6a7a" stroke-width="0.7" /><line x1="279.4" y1="473.4" x2="279.4" y2="478.8" stroke="#6a6a7a" stroke-width="0.7" /><line x1="279.4" y1="473.4" x2="274.8" y2="470.8" stroke="#6a6a7a" stroke-width="0.7" /><line x1="279.4" y1="473.4" x2="284.0" y2="470.8" stroke="#6a6a7a" stroke-width="0.7" /><line x1="288.6" y1="473.4" x2="288.6" y2="478.8" stroke="#6a6a7a" stroke-width="0.7" /><line x1="288.6" y1="473.4" x2="284.0" y2="470.8" stroke="#6a6a7a" stroke-width="0.7" /><line x1="288.6" y1="473.4" x2="293.2" y2="470.8" stroke="#6a6a7a" stroke-width="0.7" /><line x1="297.8" y1="473.4" x2="297.8" y2="478.8" stroke="#6a6a7a" stroke-width="0.7" /><line x1="297.8" y1="473.4" x2="293.2" y2="470.8" stroke="#6a6a7a" stroke-width="0.7" /><line x1="297.8" y1="473.4" x2="302.4" y2="470.8" stroke="#6a6a7a" stroke-width="0.7" /><line x1="306.9" y1="473.4" x2="306.9" y2="478.8" stroke="#6a6a7a" stroke-width="0.7" /><line x1="306.9" y1="473.4" x2="302.4" y2="470.8" stroke="#6a6a7a" stroke-width="0.7" /><line x1="306.9" y1="473.4" x2="311.5" y2="470.8" stroke="#6a6a7a" stroke-width="0.7" /><line x1="316.1" y1="473.4" x2="316.1" y2="478.8" stroke="#6a6a7a" stroke-width="0.7" /><line x1="316.1" y1="473.4" x2="311.5" y2="470.8" stroke="#6a6a7a" stroke-width="0.7" /><line x1="316.1" y1="473.4" x2="320.7" y2="470.8" stroke="#6a6a7a" stroke-width="0.7" /><line x1="325.3" y1="473.4" x2="325.3" y2="478.8" stroke="#6a6a7a" stroke-width="0.7" /><line x1="325.3" y1="473.4" x2="320.7" y2="470.8" stroke="#6a6a7a" stroke-width="0.7" /><line x1="325.3" y1="473.4" x2="329.9" y2="470.8" stroke="#6a6a7a" stroke-width="0.7" /><line x1="334.5" y1="473.4" x2="334.5" y2="478.8" stroke="#6a6a7a" stroke-width="0.7" /><line x1="334.5" y1="473.4" x2="329.9" y2="470.8" stroke="#6a6a7a" stroke-width="0.7" /><line x1="334.5" y1="473.4" x2="339.1" y2="470.8" stroke="#6a6a7a" stroke-width="0.7" /><line x1="343.7" y1="473.4" x2="343.7" y2="478.8" stroke="#6a6a7a" stroke-width="0.7" /><line x1="343.7" y1="473.4" x2="339.1" y2="470.8" stroke="#6a6a7a" stroke-width="0.7" /><line x1="343.7" y1="473.4" x2="348.3" y2="470.8" stroke="#6a6a7a" stroke-width="0.7" /><line x1="352.8" y1="473.4" x2="352.8" y2="478.8" stroke="#6a6a7a" stroke-width="0.7" /><line x1="352.8" y1="473.4" x2="348.3" y2="470.8" stroke="#6a6a7a" stroke-width="0.7" /><line x1="352.8" y1="473.4" x2="357.4" y2="470.8" stroke="#6a6a7a" stroke-width="0.7" /><line x1="362.0" y1="473.4" x2="362.0" y2="478.8" stroke="#6a6a7a" stroke-width="0.7" /><line x1="362.0" y1="473.4" x2="357.4" y2="470.8" stroke="#6a6a7a" stroke-width="0.7" /><line x1="362.0" y1="473.4" x2="366.6" y2="470.8" stroke="#6a6a7a" stroke-width="0.7" /><line x1="371.2" y1="473.4" x2="371.2" y2="478.8" stroke="#6a6a7a" stroke-width="0.7" /><line x1="371.2" y1="473.4" x2="366.6" y2="470.8" stroke="#6a6a7a" stroke-width="0.7" /><line x1="371.2" y1="473.4" x2="375.8" y2="470.8" stroke="#6a6a7a" stroke-width="0.7" /><line x1="380.4" y1="473.4" x2="380.4" y2="478.8" stroke="#6a6a7a" stroke-width="0.7" /><line x1="380.4" y1="473.4" x2="375.8" y2="470.8" stroke="#6a6a7a" stroke-width="0.7" /><line x1="380.4" y1="473.4" x2="385.0" y2="470.8" stroke="#6a6a7a" stroke-width="0.7" /><line x1="389.6" y1="473.4" x2="389.6" y2="478.8" stroke="#6a6a7a" stroke-width="0.7" /><line x1="389.6" y1="473.4" x2="385.0" y2="470.8" stroke="#6a6a7a" stroke-width="0.7" /><line x1="389.6" y1="473.4" x2="394.2" y2="470.8" stroke="#6a6a7a" stroke-width="0.7" /><circle cx="279.4" cy="378.1" r="2.3" fill="#b274c8" /><circle cx="279.4" cy="383.4" r="1.9" fill="#46b0a0" /><circle cx="288.6" cy="378.1" r="2.3" fill="#b274c8" /><circle cx="288.6" cy="383.4" r="1.9" fill="#46b0a0" /><circle cx="297.8" cy="378.1" r="2.3" fill="#b274c8" /><circle cx="297.8" cy="383.4" r="1.9" fill="#46b0a0" /><circle cx="306.9" cy="378.1" r="2.3" fill="#b274c8" /><circle cx="306.9" cy="383.4" r="1.9" fill="#46b0a0" /><circle cx="316.1" cy="378.1" r="2.3" fill="#b274c8" /><circle cx="316.1" cy="383.4" r="1.9" fill="#46b0a0" /><circle cx="325.3" cy="378.1" r="2.3" fill="#b274c8" /><circle cx="325.3" cy="383.4" r="1.9" fill="#46b0a0" /><circle cx="334.5" cy="378.1" r="2.3" fill="#b274c8" /><circle cx="334.5" cy="383.4" r="1.9" fill="#46b0a0" /><circle cx="343.7" cy="378.1" r="2.3" fill="#b274c8" /><circle cx="343.7" cy="383.4" r="1.9" fill="#46b0a0" /><circle cx="352.8" cy="378.1" r="2.3" fill="#b274c8" /><circle cx="352.8" cy="383.4" r="1.9" fill="#46b0a0" /><circle cx="362.0" cy="378.1" r="2.3" fill="#b274c8" /><circle cx="362.0" cy="383.4" r="1.9" fill="#46b0a0" /><circle cx="371.2" cy="378.1" r="2.3" fill="#b274c8" /><circle cx="371.2" cy="383.4" r="1.9" fill="#46b0a0" /><circle cx="380.4" cy="378.1" r="2.3" fill="#b274c8" /><circle cx="380.4" cy="383.4" r="1.9" fill="#46b0a0" /><circle cx="389.6" cy="378.1" r="2.3" fill="#b274c8" /><circle cx="389.6" cy="383.4" r="1.9" fill="#46b0a0" /><circle cx="274.8" cy="386.0" r="2.3" fill="#b274c8" /><circle cx="274.8" cy="391.3" r="1.9" fill="#46b0a0" /><circle cx="284.0" cy="386.0" r="2.3" fill="#b274c8" /><circle cx="284.0" cy="391.3" r="1.9" fill="#46b0a0" /><circle cx="293.2" cy="386.0" r="2.3" fill="#b274c8" /><circle cx="293.2" cy="391.3" r="1.9" fill="#46b0a0" /><circle cx="302.4" cy="386.0" r="2.3" fill="#b274c8" /><circle cx="302.4" cy="391.3" r="1.9" fill="#46b0a0" /><circle cx="311.5" cy="386.0" r="2.3" fill="#b274c8" /><circle cx="311.5" cy="391.3" r="1.9" fill="#46b0a0" /><circle cx="320.7" cy="386.0" r="2.3" fill="#b274c8" /><circle cx="320.7" cy="391.3" r="1.9" fill="#46b0a0" /><circle cx="329.9" cy="386.0" r="2.3" fill="#b274c8" /><circle cx="329.9" cy="391.3" r="1.9" fill="#46b0a0" /><circle cx="339.1" cy="386.0" r="2.3" fill="#b274c8" /><circle cx="339.1" cy="391.3" r="1.9" fill="#46b0a0" /><circle cx="348.3" cy="386.0" r="2.3" fill="#b274c8" /><circle cx="348.3" cy="391.3" r="1.9" fill="#46b0a0" /><circle cx="357.4" cy="386.0" r="2.3" fill="#b274c8" /><circle cx="357.4" cy="391.3" r="1.9" fill="#46b0a0" /><circle cx="366.6" cy="386.0" r="2.3" fill="#b274c8" /><circle cx="366.6" cy="391.3" r="1.9" fill="#46b0a0" /><circle cx="375.8" cy="386.0" r="2.3" fill="#b274c8" /><circle cx="375.8" cy="391.3" r="1.9" fill="#46b0a0" /><circle cx="385.0" cy="386.0" r="2.3" fill="#b274c8" /><circle cx="385.0" cy="391.3" r="1.9" fill="#46b0a0" /><circle cx="279.4" cy="393.9" r="2.3" fill="#b274c8" /><circle cx="279.4" cy="399.2" r="1.9" fill="#46b0a0" /><circle cx="288.6" cy="393.9" r="2.3" fill="#b274c8" /><circle cx="288.6" cy="399.2" r="1.9" fill="#46b0a0" /><circle cx="297.8" cy="393.9" r="2.3" fill="#b274c8" /><circle cx="297.8" cy="399.2" r="1.9" fill="#46b0a0" /><circle cx="306.9" cy="393.9" r="2.3" fill="#b274c8" /><circle cx="306.9" cy="399.2" r="1.9" fill="#46b0a0" /><circle cx="316.1" cy="393.9" r="2.3" fill="#b274c8" /><circle cx="316.1" cy="399.2" r="1.9" fill="#46b0a0" /><circle cx="325.3" cy="393.9" r="2.3" fill="#b274c8" /><circle cx="325.3" cy="399.2" r="1.9" fill="#46b0a0" /><circle cx="334.5" cy="393.9" r="2.3" fill="#b274c8" /><circle cx="334.5" cy="399.2" r="1.9" fill="#46b0a0" /><circle cx="343.7" cy="393.9" r="2.3" fill="#b274c8" /><circle cx="343.7" cy="399.2" r="1.9" fill="#46b0a0" /><circle cx="352.8" cy="393.9" r="2.3" fill="#b274c8" /><circle cx="352.8" cy="399.2" r="1.9" fill="#46b0a0" /><circle cx="362.0" cy="393.9" r="2.3" fill="#b274c8" /><circle cx="362.0" cy="399.2" r="1.9" fill="#46b0a0" /><circle cx="371.2" cy="393.9" r="2.3" fill="#b274c8" /><circle cx="371.2" cy="399.2" r="1.9" fill="#46b0a0" /><circle cx="380.4" cy="393.9" r="2.3" fill="#b274c8" /><circle cx="380.4" cy="399.2" r="1.9" fill="#46b0a0" /><circle cx="389.6" cy="393.9" r="2.3" fill="#b274c8" /><circle cx="389.6" cy="399.2" r="1.9" fill="#46b0a0" /><circle cx="274.8" cy="401.9" r="2.3" fill="#b274c8" /><circle cx="274.8" cy="407.2" r="1.9" fill="#46b0a0" /><circle cx="284.0" cy="401.9" r="2.3" fill="#b274c8" /><circle cx="284.0" cy="407.2" r="1.9" fill="#46b0a0" /><circle cx="293.2" cy="401.9" r="2.3" fill="#b274c8" /><circle cx="293.2" cy="407.2" r="1.9" fill="#46b0a0" /><circle cx="302.4" cy="401.9" r="2.3" fill="#b274c8" /><circle cx="302.4" cy="407.2" r="1.9" fill="#46b0a0" /><circle cx="311.5" cy="401.9" r="2.3" fill="#b274c8" /><circle cx="311.5" cy="407.2" r="1.9" fill="#46b0a0" /><circle cx="320.7" cy="401.9" r="2.3" fill="#b274c8" /><circle cx="320.7" cy="407.2" r="1.9" fill="#46b0a0" /><circle cx="329.9" cy="401.9" r="2.3" fill="#b274c8" /><circle cx="329.9" cy="407.2" r="1.9" fill="#46b0a0" /><circle cx="339.1" cy="401.9" r="2.3" fill="#b274c8" /><circle cx="339.1" cy="407.2" r="1.9" fill="#46b0a0" /><circle cx="348.3" cy="401.9" r="2.3" fill="#b274c8" /><circle cx="348.3" cy="407.2" r="1.9" fill="#46b0a0" /><circle cx="357.4" cy="401.9" r="2.3" fill="#b274c8" /><circle cx="357.4" cy="407.2" r="1.9" fill="#46b0a0" /><circle cx="366.6" cy="401.9" r="2.3" fill="#b274c8" /><circle cx="366.6" cy="407.2" r="1.9" fill="#46b0a0" /><circle cx="375.8" cy="401.9" r="2.3" fill="#b274c8" /><circle cx="375.8" cy="407.2" r="1.9" fill="#46b0a0" /><circle cx="385.0" cy="401.9" r="2.3" fill="#b274c8" /><circle cx="385.0" cy="407.2" r="1.9" fill="#46b0a0" /><circle cx="279.4" cy="409.9" r="2.3" fill="#b274c8" /><circle cx="279.4" cy="415.2" r="1.9" fill="#46b0a0" /><circle cx="288.6" cy="409.9" r="2.3" fill="#b274c8" /><circle cx="288.6" cy="415.2" r="1.9" fill="#46b0a0" /><circle cx="297.8" cy="409.9" r="2.3" fill="#b274c8" /><circle cx="297.8" cy="415.2" r="1.9" fill="#46b0a0" /><circle cx="306.9" cy="409.9" r="2.3" fill="#b274c8" /><circle cx="306.9" cy="415.2" r="1.9" fill="#46b0a0" /><circle cx="316.1" cy="409.9" r="2.3" fill="#b274c8" /><circle cx="316.1" cy="415.2" r="1.9" fill="#46b0a0" /><circle cx="325.3" cy="409.9" r="2.3" fill="#b274c8" /><circle cx="325.3" cy="415.2" r="1.9" fill="#46b0a0" /><circle cx="334.5" cy="409.9" r="2.3" fill="#b274c8" /><circle cx="334.5" cy="415.2" r="1.9" fill="#46b0a0" /><circle cx="343.7" cy="409.9" r="2.3" fill="#b274c8" /><circle cx="343.7" cy="415.2" r="1.9" fill="#46b0a0" /><circle cx="352.8" cy="409.9" r="2.3" fill="#b274c8" /><circle cx="352.8" cy="415.2" r="1.9" fill="#46b0a0" /><circle cx="362.0" cy="409.9" r="2.3" fill="#b274c8" /><circle cx="362.0" cy="415.2" r="1.9" fill="#46b0a0" /><circle cx="371.2" cy="409.9" r="2.3" fill="#b274c8" /><circle cx="371.2" cy="415.2" r="1.9" fill="#46b0a0" /><circle cx="380.4" cy="409.9" r="2.3" fill="#b274c8" /><circle cx="380.4" cy="415.2" r="1.9" fill="#46b0a0" /><circle cx="389.6" cy="409.9" r="2.3" fill="#b274c8" /><circle cx="389.6" cy="415.2" r="1.9" fill="#46b0a0" /><circle cx="274.8" cy="417.8" r="2.3" fill="#b274c8" /><circle cx="274.8" cy="423.1" r="1.9" fill="#46b0a0" /><circle cx="284.0" cy="417.8" r="2.3" fill="#b274c8" /><circle cx="284.0" cy="423.1" r="1.9" fill="#46b0a0" /><circle cx="293.2" cy="417.8" r="2.3" fill="#b274c8" /><circle cx="293.2" cy="423.1" r="1.9" fill="#46b0a0" /><circle cx="302.4" cy="417.8" r="2.3" fill="#b274c8" /><circle cx="302.4" cy="423.1" r="1.9" fill="#46b0a0" /><circle cx="311.5" cy="417.8" r="2.3" fill="#b274c8" /><circle cx="311.5" cy="423.1" r="1.9" fill="#46b0a0" /><circle cx="320.7" cy="417.8" r="2.3" fill="#b274c8" /><circle cx="320.7" cy="423.1" r="1.9" fill="#46b0a0" /><circle cx="329.9" cy="417.8" r="2.3" fill="#b274c8" /><circle cx="329.9" cy="423.1" r="1.9" fill="#46b0a0" /><circle cx="339.1" cy="417.8" r="2.3" fill="#b274c8" /><circle cx="339.1" cy="423.1" r="1.9" fill="#46b0a0" /><circle cx="348.3" cy="417.8" r="2.3" fill="#b274c8" /><circle cx="348.3" cy="423.1" r="1.9" fill="#46b0a0" /><circle cx="357.4" cy="417.8" r="2.3" fill="#b274c8" /><circle cx="357.4" cy="423.1" r="1.9" fill="#46b0a0" /><circle cx="366.6" cy="417.8" r="2.3" fill="#b274c8" /><circle cx="366.6" cy="423.1" r="1.9" fill="#46b0a0" /><circle cx="375.8" cy="417.8" r="2.3" fill="#b274c8" /><circle cx="375.8" cy="423.1" r="1.9" fill="#46b0a0" /><circle cx="385.0" cy="417.8" r="2.3" fill="#b274c8" /><circle cx="385.0" cy="423.1" r="1.9" fill="#46b0a0" /><circle cx="279.4" cy="425.8" r="2.3" fill="#b274c8" /><circle cx="279.4" cy="431.1" r="1.9" fill="#46b0a0" /><circle cx="288.6" cy="425.8" r="2.3" fill="#b274c8" /><circle cx="288.6" cy="431.1" r="1.9" fill="#46b0a0" /><circle cx="297.8" cy="425.8" r="2.3" fill="#b274c8" /><circle cx="297.8" cy="431.1" r="1.9" fill="#46b0a0" /><circle cx="306.9" cy="425.8" r="2.3" fill="#b274c8" /><circle cx="306.9" cy="431.1" r="1.9" fill="#46b0a0" /><circle cx="316.1" cy="425.8" r="2.3" fill="#b274c8" /><circle cx="316.1" cy="431.1" r="1.9" fill="#46b0a0" /><circle cx="325.3" cy="425.8" r="2.3" fill="#b274c8" /><circle cx="325.3" cy="431.1" r="1.9" fill="#46b0a0" /><circle cx="334.5" cy="425.8" r="2.3" fill="#b274c8" /><circle cx="334.5" cy="431.1" r="1.9" fill="#46b0a0" /><circle cx="343.7" cy="425.8" r="2.3" fill="#b274c8" /><circle cx="343.7" cy="431.1" r="1.9" fill="#46b0a0" /><circle cx="352.8" cy="425.8" r="2.3" fill="#b274c8" /><circle cx="352.8" cy="431.1" r="1.9" fill="#46b0a0" /><circle cx="362.0" cy="425.8" r="2.3" fill="#b274c8" /><circle cx="362.0" cy="431.1" r="1.9" fill="#46b0a0" /><circle cx="371.2" cy="425.8" r="2.3" fill="#b274c8" /><circle cx="371.2" cy="431.1" r="1.9" fill="#46b0a0" /><circle cx="380.4" cy="425.8" r="2.3" fill="#b274c8" /><circle cx="380.4" cy="431.1" r="1.9" fill="#46b0a0" /><circle cx="389.6" cy="425.8" r="2.3" fill="#b274c8" /><circle cx="389.6" cy="431.1" r="1.9" fill="#46b0a0" /><circle cx="274.8" cy="433.7" r="2.3" fill="#b274c8" /><circle cx="274.8" cy="439.0" r="1.9" fill="#46b0a0" /><circle cx="284.0" cy="433.7" r="2.3" fill="#b274c8" /><circle cx="284.0" cy="439.0" r="1.9" fill="#46b0a0" /><circle cx="293.2" cy="433.7" r="2.3" fill="#b274c8" /><circle cx="293.2" cy="439.0" r="1.9" fill="#46b0a0" /><circle cx="302.4" cy="433.7" r="2.3" fill="#b274c8" /><circle cx="302.4" cy="439.0" r="1.9" fill="#46b0a0" /><circle cx="311.5" cy="433.7" r="2.3" fill="#b274c8" /><circle cx="311.5" cy="439.0" r="1.9" fill="#46b0a0" /><circle cx="320.7" cy="433.7" r="2.3" fill="#b274c8" /><circle cx="320.7" cy="439.0" r="1.9" fill="#46b0a0" /><circle cx="329.9" cy="433.7" r="2.3" fill="#b274c8" /><circle cx="329.9" cy="439.0" r="1.9" fill="#46b0a0" /><circle cx="339.1" cy="433.7" r="2.3" fill="#b274c8" /><circle cx="339.1" cy="439.0" r="1.9" fill="#46b0a0" /><circle cx="348.3" cy="433.7" r="2.3" fill="#b274c8" /><circle cx="348.3" cy="439.0" r="1.9" fill="#46b0a0" /><circle cx="357.4" cy="433.7" r="2.3" fill="#b274c8" /><circle cx="357.4" cy="439.0" r="1.9" fill="#46b0a0" /><circle cx="366.6" cy="433.7" r="2.3" fill="#b274c8" /><circle cx="366.6" cy="439.0" r="1.9" fill="#46b0a0" /><circle cx="375.8" cy="433.7" r="2.3" fill="#b274c8" /><circle cx="375.8" cy="439.0" r="1.9" fill="#46b0a0" /><circle cx="385.0" cy="433.7" r="2.3" fill="#b274c8" /><circle cx="385.0" cy="439.0" r="1.9" fill="#46b0a0" /><circle cx="279.4" cy="441.6" r="2.3" fill="#b274c8" /><circle cx="279.4" cy="446.9" r="1.9" fill="#46b0a0" /><circle cx="288.6" cy="441.6" r="2.3" fill="#b274c8" /><circle cx="288.6" cy="446.9" r="1.9" fill="#46b0a0" /><circle cx="297.8" cy="441.6" r="2.3" fill="#b274c8" /><circle cx="297.8" cy="446.9" r="1.9" fill="#46b0a0" /><circle cx="306.9" cy="441.6" r="2.3" fill="#b274c8" /><circle cx="306.9" cy="446.9" r="1.9" fill="#46b0a0" /><circle cx="316.1" cy="441.6" r="2.3" fill="#b274c8" /><circle cx="316.1" cy="446.9" r="1.9" fill="#46b0a0" /><circle cx="325.3" cy="441.6" r="2.3" fill="#b274c8" /><circle cx="325.3" cy="446.9" r="1.9" fill="#46b0a0" /><circle cx="334.5" cy="441.6" r="2.3" fill="#b274c8" /><circle cx="334.5" cy="446.9" r="1.9" fill="#46b0a0" /><circle cx="343.7" cy="441.6" r="2.3" fill="#b274c8" /><circle cx="343.7" cy="446.9" r="1.9" fill="#46b0a0" /><circle cx="352.8" cy="441.6" r="2.3" fill="#b274c8" /><circle cx="352.8" cy="446.9" r="1.9" fill="#46b0a0" /><circle cx="362.0" cy="441.6" r="2.3" fill="#b274c8" /><circle cx="362.0" cy="446.9" r="1.9" fill="#46b0a0" /><circle cx="371.2" cy="441.6" r="2.3" fill="#b274c8" /><circle cx="371.2" cy="446.9" r="1.9" fill="#46b0a0" /><circle cx="380.4" cy="441.6" r="2.3" fill="#b274c8" /><circle cx="380.4" cy="446.9" r="1.9" fill="#46b0a0" /><circle cx="389.6" cy="441.6" r="2.3" fill="#b274c8" /><circle cx="389.6" cy="446.9" r="1.9" fill="#46b0a0" /><circle cx="274.8" cy="449.6" r="2.3" fill="#b274c8" /><circle cx="274.8" cy="454.9" r="1.9" fill="#46b0a0" /><circle cx="284.0" cy="449.6" r="2.3" fill="#b274c8" /><circle cx="284.0" cy="454.9" r="1.9" fill="#46b0a0" /><circle cx="293.2" cy="449.6" r="2.3" fill="#b274c8" /><circle cx="293.2" cy="454.9" r="1.9" fill="#46b0a0" /><circle cx="302.4" cy="449.6" r="2.3" fill="#b274c8" /><circle cx="302.4" cy="454.9" r="1.9" fill="#46b0a0" /><circle cx="311.5" cy="449.6" r="2.3" fill="#b274c8" /><circle cx="311.5" cy="454.9" r="1.9" fill="#46b0a0" /><circle cx="320.7" cy="449.6" r="2.3" fill="#b274c8" /><circle cx="320.7" cy="454.9" r="1.9" fill="#46b0a0" /><circle cx="329.9" cy="449.6" r="2.3" fill="#b274c8" /><circle cx="329.9" cy="454.9" r="1.9" fill="#46b0a0" /><circle cx="339.1" cy="449.6" r="2.3" fill="#b274c8" /><circle cx="339.1" cy="454.9" r="1.9" fill="#46b0a0" /><circle cx="348.3" cy="449.6" r="2.3" fill="#b274c8" /><circle cx="348.3" cy="454.9" r="1.9" fill="#46b0a0" /><circle cx="357.4" cy="449.6" r="2.3" fill="#b274c8" /><circle cx="357.4" cy="454.9" r="1.9" fill="#46b0a0" /><circle cx="366.6" cy="449.6" r="2.3" fill="#b274c8" /><circle cx="366.6" cy="454.9" r="1.9" fill="#46b0a0" /><circle cx="375.8" cy="449.6" r="2.3" fill="#b274c8" /><circle cx="375.8" cy="454.9" r="1.9" fill="#46b0a0" /><circle cx="385.0" cy="449.6" r="2.3" fill="#b274c8" /><circle cx="385.0" cy="454.9" r="1.9" fill="#46b0a0" /><circle cx="279.4" cy="457.6" r="2.3" fill="#b274c8" /><circle cx="279.4" cy="462.9" r="1.9" fill="#46b0a0" /><circle cx="288.6" cy="457.6" r="2.3" fill="#b274c8" /><circle cx="288.6" cy="462.9" r="1.9" fill="#46b0a0" /><circle cx="297.8" cy="457.6" r="2.3" fill="#b274c8" /><circle cx="297.8" cy="462.9" r="1.9" fill="#46b0a0" /><circle cx="306.9" cy="457.6" r="2.3" fill="#b274c8" /><circle cx="306.9" cy="462.9" r="1.9" fill="#46b0a0" /><circle cx="316.1" cy="457.6" r="2.3" fill="#b274c8" /><circle cx="316.1" cy="462.9" r="1.9" fill="#46b0a0" /><circle cx="325.3" cy="457.6" r="2.3" fill="#b274c8" /><circle cx="325.3" cy="462.9" r="1.9" fill="#46b0a0" /><circle cx="334.5" cy="457.6" r="2.3" fill="#b274c8" /><circle cx="334.5" cy="462.9" r="1.9" fill="#46b0a0" /><circle cx="343.7" cy="457.6" r="2.3" fill="#b274c8" /><circle cx="343.7" cy="462.9" r="1.9" fill="#46b0a0" /><circle cx="352.8" cy="457.6" r="2.3" fill="#b274c8" /><circle cx="352.8" cy="462.9" r="1.9" fill="#46b0a0" /><circle cx="362.0" cy="457.6" r="2.3" fill="#b274c8" /><circle cx="362.0" cy="462.9" r="1.9" fill="#46b0a0" /><circle cx="371.2" cy="457.6" r="2.3" fill="#b274c8" /><circle cx="371.2" cy="462.9" r="1.9" fill="#46b0a0" /><circle cx="380.4" cy="457.6" r="2.3" fill="#b274c8" /><circle cx="380.4" cy="462.9" r="1.9" fill="#46b0a0" /><circle cx="389.6" cy="457.6" r="2.3" fill="#b274c8" /><circle cx="389.6" cy="462.9" r="1.9" fill="#46b0a0" /><circle cx="274.8" cy="465.5" r="2.3" fill="#b274c8" /><circle cx="274.8" cy="470.8" r="1.9" fill="#46b0a0" /><circle cx="284.0" cy="465.5" r="2.3" fill="#b274c8" /><circle cx="284.0" cy="470.8" r="1.9" fill="#46b0a0" /><circle cx="293.2" cy="465.5" r="2.3" fill="#b274c8" /><circle cx="293.2" cy="470.8" r="1.9" fill="#46b0a0" /><circle cx="302.4" cy="465.5" r="2.3" fill="#b274c8" /><circle cx="302.4" cy="470.8" r="1.9" fill="#46b0a0" /><circle cx="311.5" cy="465.5" r="2.3" fill="#b274c8" /><circle cx="311.5" cy="470.8" r="1.9" fill="#46b0a0" /><circle cx="320.7" cy="465.5" r="2.3" fill="#b274c8" /><circle cx="320.7" cy="470.8" r="1.9" fill="#46b0a0" /><circle cx="329.9" cy="465.5" r="2.3" fill="#b274c8" /><circle cx="329.9" cy="470.8" r="1.9" fill="#46b0a0" /><circle cx="339.1" cy="465.5" r="2.3" fill="#b274c8" /><circle cx="339.1" cy="470.8" r="1.9" fill="#46b0a0" /><circle cx="348.3" cy="465.5" r="2.3" fill="#b274c8" /><circle cx="348.3" cy="470.8" r="1.9" fill="#46b0a0" /><circle cx="357.4" cy="465.5" r="2.3" fill="#b274c8" /><circle cx="357.4" cy="470.8" r="1.9" fill="#46b0a0" /><circle cx="366.6" cy="465.5" r="2.3" fill="#b274c8" /><circle cx="366.6" cy="470.8" r="1.9" fill="#46b0a0" /><circle cx="375.8" cy="465.5" r="2.3" fill="#b274c8" /><circle cx="375.8" cy="470.8" r="1.9" fill="#46b0a0" /><circle cx="385.0" cy="465.5" r="2.3" fill="#b274c8" /><circle cx="385.0" cy="470.8" r="1.9" fill="#46b0a0" /><circle cx="279.4" cy="473.4" r="2.3" fill="#b274c8" /><circle cx="279.4" cy="478.8" r="1.9" fill="#46b0a0" /><circle cx="288.6" cy="473.4" r="2.3" fill="#b274c8" /><circle cx="288.6" cy="478.8" r="1.9" fill="#46b0a0" /><circle cx="297.8" cy="473.4" r="2.3" fill="#b274c8" /><circle cx="297.8" cy="478.8" r="1.9" fill="#46b0a0" /><circle cx="306.9" cy="473.4" r="2.3" fill="#b274c8" /><circle cx="306.9" cy="478.8" r="1.9" fill="#46b0a0" /><circle cx="316.1" cy="473.4" r="2.3" fill="#b274c8" /><circle cx="316.1" cy="478.8" r="1.9" fill="#46b0a0" /><circle cx="325.3" cy="473.4" r="2.3" fill="#b274c8" /><circle cx="325.3" cy="478.8" r="1.9" fill="#46b0a0" /><circle cx="334.5" cy="473.4" r="2.3" fill="#b274c8" /><circle cx="334.5" cy="478.8" r="1.9" fill="#46b0a0" /><circle cx="343.7" cy="473.4" r="2.3" fill="#b274c8" /><circle cx="343.7" cy="478.8" r="1.9" fill="#46b0a0" /><circle cx="352.8" cy="473.4" r="2.3" fill="#b274c8" /><circle cx="352.8" cy="478.8" r="1.9" fill="#46b0a0" /><circle cx="362.0" cy="473.4" r="2.3" fill="#b274c8" /><circle cx="362.0" cy="478.8" r="1.9" fill="#46b0a0" /><circle cx="371.2" cy="473.4" r="2.3" fill="#b274c8" /><circle cx="371.2" cy="478.8" r="1.9" fill="#46b0a0" /><circle cx="380.4" cy="473.4" r="2.3" fill="#b274c8" /><circle cx="380.4" cy="478.8" r="1.9" fill="#46b0a0" /><circle cx="389.6" cy="473.4" r="2.3" fill="#b274c8" /><circle cx="389.6" cy="478.8" r="1.9" fill="#46b0a0" /></g>
<text x="134.2" y="396.6" font-size="9.5" font-weight="bold" fill="#222" textLength="32.2" lengthAdjust="spacingAndGlyphs">Ta₄C₃</text>
<text x="247.5" y="388.2" font-size="9.5" font-weight="bold" fill="#222" textLength="49.3" lengthAdjust="spacingAndGlyphs">2H-MoS₂</text>
<circle cx="201.0" cy="536.5" r="4.2" fill="#8a6a8a" opacity="0.7"/>
<line x1="199.5" y1="533.0" x2="181.7" y2="480.1" stroke="#3060b0" stroke-width="2" stroke-dasharray="3.5 3"/><polygon points="179.5,473.5 184.6,479.2 178.9,481.1" fill="#3060b0"/>
<line x1="203.0" y1="533.0" x2="228.0" y2="479.8" stroke="#3060b0" stroke-width="2" stroke-dasharray="3.5 3"/><polygon points="231.0,473.5 230.7,481.1 225.3,478.6" fill="#3060b0"/>
<circle cx="326.1" cy="526.2" r="4.6" fill="#f4c890" stroke="#e8a040" stroke-width="1.2" opacity="0.9"/>
<line x1="324.5" y1="521.0" x2="309.2" y2="484.5" stroke="#26286a" stroke-width="2" stroke-dasharray="3.5 3"/><polygon points="306.5,478.0 312.0,483.3 306.4,485.6" fill="#26286a"/>
<line x1="328.0" y1="521.0" x2="345.9" y2="484.3" stroke="#26286a" stroke-width="2" stroke-dasharray="3.5 3"/><polygon points="349.0,478.0 348.6,485.6 343.2,483.0" fill="#26286a"/>
<!-- s_c -->
<text x="386.8" y="382.6" font-size="23.5" font-weight="bold" fill="#777" textLength="30.0" lengthAdjust="spacingAndGlyphs" stroke="#777" stroke-width="1.1" stroke-linejoin="round" filter="url(#lblsh)">(c)</text><text x="386.8" y="382.6" font-size="23.5" font-weight="bold" fill="#fff" textLength="30.0" lengthAdjust="spacingAndGlyphs" stroke="#fff" stroke-width="0.3">(c)</text>
<radialGradient id="gCu" cx="0.4" cy="0.35" r="0.7"><stop offset="0" stop-color="#5fd0a0"/><stop offset="0.7" stop-color="#1a9a6a"/><stop offset="1" stop-color="#0c6a48"/></radialGradient>
<line x1="450.7" y1="408.8" x2="451.9" y2="419.4" stroke="#6a6a6a" stroke-width="0.8" /><line x1="451.9" y1="419.4" x2="446.3" y2="424.4" stroke="#6a6a6a" stroke-width="0.8" /><line x1="446.3" y1="424.4" x2="442.6" y2="431.9" stroke="#6a6a6a" stroke-width="0.8" /><line x1="442.6" y1="431.9" x2="433.2" y2="433.6" stroke="#6a6a6a" stroke-width="0.8" /><line x1="440.7" y1="448.2" x2="436.9" y2="445.7" stroke="#6a6a6a" stroke-width="0.8" /><line x1="440.7" y1="448.2" x2="450.1" y2="454.4" stroke="#6a6a6a" stroke-width="0.8" /><line x1="450.1" y1="454.4" x2="444.4" y2="462.6" stroke="#6a6a6a" stroke-width="0.8" /><line x1="444.4" y1="462.6" x2="435.7" y2="455.7" stroke="#6a6a6a" stroke-width="0.8" /><line x1="435.7" y1="455.7" x2="440.7" y2="448.2" stroke="#6a6a6a" stroke-width="0.8" /><line x1="444.4" y1="462.6" x2="443.8" y2="471.3" stroke="#6a6a6a" stroke-width="0.8" /><line x1="450.7" y1="408.8" x2="445.7" y2="407.3" stroke="#bbb" stroke-width="0.5" /><circle cx="445.7" cy="407.3" r="0.9" fill="#e6e6e6" stroke="#c4c4c4" stroke-width="0.3"/><line x1="451.9" y1="419.4" x2="457.9" y2="420.9" stroke="#bbb" stroke-width="0.5" /><circle cx="457.9" cy="420.9" r="0.9" fill="#e6e6e6" stroke="#c4c4c4" stroke-width="0.3"/><line x1="446.3" y1="424.4" x2="441.8" y2="420.9" stroke="#bbb" stroke-width="0.5" /><circle cx="441.8" cy="420.9" r="0.9" fill="#e6e6e6" stroke="#c4c4c4" stroke-width="0.3"/><line x1="446.3" y1="424.4" x2="449.8" y2="427.9" stroke="#bbb" stroke-width="0.5" /><circle cx="449.8" cy="427.9" r="0.9" fill="#e6e6e6" stroke="#c4c4c4" stroke-width="0.3"/><line x1="442.6" y1="431.9" x2="447.6" y2="434.9" stroke="#bbb" stroke-width="0.5" /><circle cx="447.6" cy="434.9" r="0.9" fill="#e6e6e6" stroke="#c4c4c4" stroke-width="0.3"/><line x1="450.1" y1="454.4" x2="455.6" y2="451.4" stroke="#bbb" stroke-width="0.5" /><circle cx="455.6" cy="451.4" r="0.9" fill="#e6e6e6" stroke="#c4c4c4" stroke-width="0.3"/><line x1="435.7" y1="455.7" x2="430.2" y2="458.2" stroke="#bbb" stroke-width="0.5" /><circle cx="430.2" cy="458.2" r="0.9" fill="#e6e6e6" stroke="#c4c4c4" stroke-width="0.3"/><line x1="450.1" y1="454.4" x2="455.1" y2="457.4" stroke="#bbb" stroke-width="0.5" /><circle cx="455.1" cy="457.4" r="0.9" fill="#e6e6e6" stroke="#c4c4c4" stroke-width="0.3"/><line x1="443.8" y1="471.3" x2="448.8" y2="473.8" stroke="#bbb" stroke-width="0.5" /><circle cx="448.8" cy="473.8" r="0.9" fill="#e6e6e6" stroke="#c4c4c4" stroke-width="0.3"/><line x1="451.9" y1="419.4" x2="447.9" y2="416.4" stroke="#bbb" stroke-width="0.5" /><circle cx="447.9" cy="416.4" r="0.9" fill="#e6e6e6" stroke="#c4c4c4" stroke-width="0.3"/><circle cx="450.7" cy="408.8" r="2.1" fill="#3a56a8" /><circle cx="451.9" cy="419.4" r="2.2" fill="#2e2e33" /><circle cx="446.3" cy="424.4" r="2.2" fill="#2e2e33" /><circle cx="442.6" cy="431.9" r="2.2" fill="#2e2e33" /><circle cx="433.2" cy="433.6" r="1.8" fill="#3fb595" /><circle cx="441.9" cy="440.1" r="1.8" fill="#3fb595" /><circle cx="446.9" cy="440.3" r="1.8" fill="#3fb595" /><circle cx="436.9" cy="445.7" r="1.8" fill="#3fb595" /><circle cx="440.7" cy="448.2" r="2.2" fill="#2e2e33" /><circle cx="450.1" cy="454.4" r="2.2" fill="#2e2e33" /><circle cx="444.4" cy="462.6" r="2.2" fill="#2e2e33" /><circle cx="435.7" cy="455.7" r="2.2" fill="#2e2e33" /><circle cx="443.8" cy="471.3" r="2.1" fill="#3a56a8" />
<line x1="478.3" y1="408.8" x2="479.5" y2="419.4" stroke="#6a6a6a" stroke-width="0.8" /><line x1="479.5" y1="419.4" x2="473.9" y2="424.4" stroke="#6a6a6a" stroke-width="0.8" /><line x1="473.9" y1="424.4" x2="470.1" y2="431.9" stroke="#6a6a6a" stroke-width="0.8" /><line x1="470.1" y1="431.9" x2="460.8" y2="433.6" stroke="#6a6a6a" stroke-width="0.8" /><line x1="468.3" y1="448.2" x2="464.5" y2="445.7" stroke="#6a6a6a" stroke-width="0.8" /><line x1="468.3" y1="448.2" x2="477.6" y2="454.4" stroke="#6a6a6a" stroke-width="0.8" /><line x1="477.6" y1="454.4" x2="472.0" y2="462.6" stroke="#6a6a6a" stroke-width="0.8" /><line x1="472.0" y1="462.6" x2="463.3" y2="455.7" stroke="#6a6a6a" stroke-width="0.8" /><line x1="463.3" y1="455.7" x2="468.3" y2="448.2" stroke="#6a6a6a" stroke-width="0.8" /><line x1="472.0" y1="462.6" x2="471.4" y2="471.3" stroke="#6a6a6a" stroke-width="0.8" /><line x1="478.3" y1="408.8" x2="473.3" y2="407.3" stroke="#bbb" stroke-width="0.5" /><circle cx="473.3" cy="407.3" r="0.9" fill="#e6e6e6" stroke="#c4c4c4" stroke-width="0.3"/><line x1="479.5" y1="419.4" x2="485.5" y2="420.9" stroke="#bbb" stroke-width="0.5" /><circle cx="485.5" cy="420.9" r="0.9" fill="#e6e6e6" stroke="#c4c4c4" stroke-width="0.3"/><line x1="473.9" y1="424.4" x2="469.4" y2="420.9" stroke="#bbb" stroke-width="0.5" /><circle cx="469.4" cy="420.9" r="0.9" fill="#e6e6e6" stroke="#c4c4c4" stroke-width="0.3"/><line x1="473.9" y1="424.4" x2="477.4" y2="427.9" stroke="#bbb" stroke-width="0.5" /><circle cx="477.4" cy="427.9" r="0.9" fill="#e6e6e6" stroke="#c4c4c4" stroke-width="0.3"/><line x1="470.1" y1="431.9" x2="475.1" y2="434.9" stroke="#bbb" stroke-width="0.5" /><circle cx="475.1" cy="434.9" r="0.9" fill="#e6e6e6" stroke="#c4c4c4" stroke-width="0.3"/><line x1="477.6" y1="454.4" x2="483.1" y2="451.4" stroke="#bbb" stroke-width="0.5" /><circle cx="483.1" cy="451.4" r="0.9" fill="#e6e6e6" stroke="#c4c4c4" stroke-width="0.3"/><line x1="463.3" y1="455.7" x2="457.8" y2="458.2" stroke="#bbb" stroke-width="0.5" /><circle cx="457.8" cy="458.2" r="0.9" fill="#e6e6e6" stroke="#c4c4c4" stroke-width="0.3"/><line x1="477.6" y1="454.4" x2="482.6" y2="457.4" stroke="#bbb" stroke-width="0.5" /><circle cx="482.6" cy="457.4" r="0.9" fill="#e6e6e6" stroke="#c4c4c4" stroke-width="0.3"/><line x1="471.4" y1="471.3" x2="476.4" y2="473.8" stroke="#bbb" stroke-width="0.5" /><circle cx="476.4" cy="473.8" r="0.9" fill="#e6e6e6" stroke="#c4c4c4" stroke-width="0.3"/><line x1="479.5" y1="419.4" x2="475.5" y2="416.4" stroke="#bbb" stroke-width="0.5" /><circle cx="475.5" cy="416.4" r="0.9" fill="#e6e6e6" stroke="#c4c4c4" stroke-width="0.3"/><circle cx="478.3" cy="408.8" r="2.1" fill="#3a56a8" /><circle cx="479.5" cy="419.4" r="2.2" fill="#2e2e33" /><circle cx="473.9" cy="424.4" r="2.2" fill="#2e2e33" /><circle cx="470.1" cy="431.9" r="2.2" fill="#2e2e33" /><circle cx="460.8" cy="433.6" r="1.8" fill="#3fb595" /><circle cx="469.5" cy="440.1" r="1.8" fill="#3fb595" /><circle cx="474.5" cy="440.3" r="1.8" fill="#3fb595" /><circle cx="464.5" cy="445.7" r="1.8" fill="#3fb595" /><circle cx="468.3" cy="448.2" r="2.2" fill="#2e2e33" /><circle cx="477.6" cy="454.4" r="2.2" fill="#2e2e33" /><circle cx="472.0" cy="462.6" r="2.2" fill="#2e2e33" /><circle cx="463.3" cy="455.7" r="2.2" fill="#2e2e33" /><circle cx="471.4" cy="471.3" r="2.1" fill="#3a56a8" />
<line x1="505.9" y1="408.8" x2="507.1" y2="419.4" stroke="#6a6a6a" stroke-width="0.8" /><line x1="507.1" y1="419.4" x2="501.5" y2="424.4" stroke="#6a6a6a" stroke-width="0.8" /><line x1="501.5" y1="424.4" x2="497.8" y2="431.9" stroke="#6a6a6a" stroke-width="0.8" /><line x1="497.8" y1="431.9" x2="488.4" y2="433.6" stroke="#6a6a6a" stroke-width="0.8" /><line x1="495.9" y1="448.2" x2="492.1" y2="445.7" stroke="#6a6a6a" stroke-width="0.8" /><line x1="495.9" y1="448.2" x2="505.2" y2="454.4" stroke="#6a6a6a" stroke-width="0.8" /><line x1="505.2" y1="454.4" x2="499.6" y2="462.6" stroke="#6a6a6a" stroke-width="0.8" /><line x1="499.6" y1="462.6" x2="490.9" y2="455.7" stroke="#6a6a6a" stroke-width="0.8" /><line x1="490.9" y1="455.7" x2="495.9" y2="448.2" stroke="#6a6a6a" stroke-width="0.8" /><line x1="499.6" y1="462.6" x2="499.0" y2="471.3" stroke="#6a6a6a" stroke-width="0.8" /><line x1="505.9" y1="408.8" x2="500.9" y2="407.3" stroke="#bbb" stroke-width="0.5" /><circle cx="500.9" cy="407.3" r="0.9" fill="#e6e6e6" stroke="#c4c4c4" stroke-width="0.3"/><line x1="507.1" y1="419.4" x2="513.1" y2="420.9" stroke="#bbb" stroke-width="0.5" /><circle cx="513.1" cy="420.9" r="0.9" fill="#e6e6e6" stroke="#c4c4c4" stroke-width="0.3"/><line x1="501.5" y1="424.4" x2="497.0" y2="420.9" stroke="#bbb" stroke-width="0.5" /><circle cx="497.0" cy="420.9" r="0.9" fill="#e6e6e6" stroke="#c4c4c4" stroke-width="0.3"/><line x1="501.5" y1="424.4" x2="505.0" y2="427.9" stroke="#bbb" stroke-width="0.5" /><circle cx="505.0" cy="427.9" r="0.9" fill="#e6e6e6" stroke="#c4c4c4" stroke-width="0.3"/><line x1="497.8" y1="431.9" x2="502.8" y2="434.9" stroke="#bbb" stroke-width="0.5" /><circle cx="502.8" cy="434.9" r="0.9" fill="#e6e6e6" stroke="#c4c4c4" stroke-width="0.3"/><line x1="505.2" y1="454.4" x2="510.8" y2="451.4" stroke="#bbb" stroke-width="0.5" /><circle cx="510.8" cy="451.4" r="0.9" fill="#e6e6e6" stroke="#c4c4c4" stroke-width="0.3"/><line x1="490.9" y1="455.7" x2="485.4" y2="458.2" stroke="#bbb" stroke-width="0.5" /><circle cx="485.4" cy="458.2" r="0.9" fill="#e6e6e6" stroke="#c4c4c4" stroke-width="0.3"/><line x1="505.2" y1="454.4" x2="510.2" y2="457.4" stroke="#bbb" stroke-width="0.5" /><circle cx="510.2" cy="457.4" r="0.9" fill="#e6e6e6" stroke="#c4c4c4" stroke-width="0.3"/><line x1="499.0" y1="471.3" x2="504.0" y2="473.8" stroke="#bbb" stroke-width="0.5" /><circle cx="504.0" cy="473.8" r="0.9" fill="#e6e6e6" stroke="#c4c4c4" stroke-width="0.3"/><line x1="507.1" y1="419.4" x2="503.1" y2="416.4" stroke="#bbb" stroke-width="0.5" /><circle cx="503.1" cy="416.4" r="0.9" fill="#e6e6e6" stroke="#c4c4c4" stroke-width="0.3"/><circle cx="505.9" cy="408.8" r="2.1" fill="#3a56a8" /><circle cx="507.1" cy="419.4" r="2.2" fill="#2e2e33" /><circle cx="501.5" cy="424.4" r="2.2" fill="#2e2e33" /><circle cx="497.8" cy="431.9" r="2.2" fill="#2e2e33" /><circle cx="488.4" cy="433.6" r="1.8" fill="#3fb595" /><circle cx="497.1" cy="440.1" r="1.8" fill="#3fb595" /><circle cx="502.1" cy="440.3" r="1.8" fill="#3fb595" /><circle cx="492.1" cy="445.7" r="1.8" fill="#3fb595" /><circle cx="495.9" cy="448.2" r="2.2" fill="#2e2e33" /><circle cx="505.2" cy="454.4" r="2.2" fill="#2e2e33" /><circle cx="499.6" cy="462.6" r="2.2" fill="#2e2e33" /><circle cx="490.9" cy="455.7" r="2.2" fill="#2e2e33" /><circle cx="499.0" cy="471.3" r="2.1" fill="#3a56a8" />
<line x1="533.5" y1="408.8" x2="534.7" y2="419.4" stroke="#6a6a6a" stroke-width="0.8" /><line x1="534.7" y1="419.4" x2="529.1" y2="424.4" stroke="#6a6a6a" stroke-width="0.8" /><line x1="529.1" y1="424.4" x2="525.4" y2="431.9" stroke="#6a6a6a" stroke-width="0.8" /><line x1="525.4" y1="431.9" x2="516.0" y2="433.6" stroke="#6a6a6a" stroke-width="0.8" /><line x1="523.5" y1="448.2" x2="519.7" y2="445.7" stroke="#6a6a6a" stroke-width="0.8" /><line x1="523.5" y1="448.2" x2="532.9" y2="454.4" stroke="#6a6a6a" stroke-width="0.8" /><line x1="532.9" y1="454.4" x2="527.2" y2="462.6" stroke="#6a6a6a" stroke-width="0.8" /><line x1="527.2" y1="462.6" x2="518.5" y2="455.7" stroke="#6a6a6a" stroke-width="0.8" /><line x1="518.5" y1="455.7" x2="523.5" y2="448.2" stroke="#6a6a6a" stroke-width="0.8" /><line x1="527.2" y1="462.6" x2="526.6" y2="471.3" stroke="#6a6a6a" stroke-width="0.8" /><line x1="533.5" y1="408.8" x2="528.5" y2="407.3" stroke="#bbb" stroke-width="0.5" /><circle cx="528.5" cy="407.3" r="0.9" fill="#e6e6e6" stroke="#c4c4c4" stroke-width="0.3"/><line x1="534.7" y1="419.4" x2="540.7" y2="420.9" stroke="#bbb" stroke-width="0.5" /><circle cx="540.7" cy="420.9" r="0.9" fill="#e6e6e6" stroke="#c4c4c4" stroke-width="0.3"/><line x1="529.1" y1="424.4" x2="524.6" y2="420.9" stroke="#bbb" stroke-width="0.5" /><circle cx="524.6" cy="420.9" r="0.9" fill="#e6e6e6" stroke="#c4c4c4" stroke-width="0.3"/><line x1="529.1" y1="424.4" x2="532.6" y2="427.9" stroke="#bbb" stroke-width="0.5" /><circle cx="532.6" cy="427.9" r="0.9" fill="#e6e6e6" stroke="#c4c4c4" stroke-width="0.3"/><line x1="525.4" y1="431.9" x2="530.4" y2="434.9" stroke="#bbb" stroke-width="0.5" /><circle cx="530.4" cy="434.9" r="0.9" fill="#e6e6e6" stroke="#c4c4c4" stroke-width="0.3"/><line x1="532.9" y1="454.4" x2="538.4" y2="451.4" stroke="#bbb" stroke-width="0.5" /><circle cx="538.4" cy="451.4" r="0.9" fill="#e6e6e6" stroke="#c4c4c4" stroke-width="0.3"/><line x1="518.5" y1="455.7" x2="513.0" y2="458.2" stroke="#bbb" stroke-width="0.5" /><circle cx="513.0" cy="458.2" r="0.9" fill="#e6e6e6" stroke="#c4c4c4" stroke-width="0.3"/><line x1="532.9" y1="454.4" x2="537.9" y2="457.4" stroke="#bbb" stroke-width="0.5" /><circle cx="537.9" cy="457.4" r="0.9" fill="#e6e6e6" stroke="#c4c4c4" stroke-width="0.3"/><line x1="526.6" y1="471.3" x2="531.6" y2="473.8" stroke="#bbb" stroke-width="0.5" /><circle cx="531.6" cy="473.8" r="0.9" fill="#e6e6e6" stroke="#c4c4c4" stroke-width="0.3"/><line x1="534.7" y1="419.4" x2="530.7" y2="416.4" stroke="#bbb" stroke-width="0.5" /><circle cx="530.7" cy="416.4" r="0.9" fill="#e6e6e6" stroke="#c4c4c4" stroke-width="0.3"/><circle cx="533.5" cy="408.8" r="2.1" fill="#3a56a8" /><circle cx="534.7" cy="419.4" r="2.2" fill="#2e2e33" /><circle cx="529.1" cy="424.4" r="2.2" fill="#2e2e33" /><circle cx="525.4" cy="431.9" r="2.2" fill="#2e2e33" /><circle cx="516.0" cy="433.6" r="1.8" fill="#3fb595" /><circle cx="524.7" cy="440.1" r="1.8" fill="#3fb595" /><circle cx="529.7" cy="440.3" r="1.8" fill="#3fb595" /><circle cx="519.7" cy="445.7" r="1.8" fill="#3fb595" /><circle cx="523.5" cy="448.2" r="2.2" fill="#2e2e33" /><circle cx="532.9" cy="454.4" r="2.2" fill="#2e2e33" /><circle cx="527.2" cy="462.6" r="2.2" fill="#2e2e33" /><circle cx="518.5" cy="455.7" r="2.2" fill="#2e2e33" /><circle cx="526.6" cy="471.3" r="2.1" fill="#3a56a8" />
<line x1="443.8" y1="500.0" x2="445.0" y2="510.6" stroke="#6a6a6a" stroke-width="0.8" /><line x1="445.0" y1="510.6" x2="439.4" y2="515.6" stroke="#6a6a6a" stroke-width="0.8" /><line x1="439.4" y1="515.6" x2="435.6" y2="523.1" stroke="#6a6a6a" stroke-width="0.8" /><line x1="435.6" y1="523.1" x2="426.3" y2="524.8" stroke="#6a6a6a" stroke-width="0.8" /><line x1="433.8" y1="539.4" x2="430.0" y2="536.9" stroke="#6a6a6a" stroke-width="0.8" /><line x1="433.8" y1="539.4" x2="443.1" y2="545.6" stroke="#6a6a6a" stroke-width="0.8" /><line x1="443.1" y1="545.6" x2="437.5" y2="553.8" stroke="#6a6a6a" stroke-width="0.8" /><line x1="437.5" y1="553.8" x2="428.8" y2="546.9" stroke="#6a6a6a" stroke-width="0.8" /><line x1="428.8" y1="546.9" x2="433.8" y2="539.4" stroke="#6a6a6a" stroke-width="0.8" /><line x1="437.5" y1="553.8" x2="436.9" y2="562.5" stroke="#6a6a6a" stroke-width="0.8" /><line x1="443.8" y1="500.0" x2="438.8" y2="498.5" stroke="#bbb" stroke-width="0.5" /><circle cx="438.8" cy="498.5" r="0.9" fill="#e6e6e6" stroke="#c4c4c4" stroke-width="0.3"/><line x1="445.0" y1="510.6" x2="451.0" y2="512.1" stroke="#bbb" stroke-width="0.5" /><circle cx="451.0" cy="512.1" r="0.9" fill="#e6e6e6" stroke="#c4c4c4" stroke-width="0.3"/><line x1="439.4" y1="515.6" x2="434.9" y2="512.1" stroke="#bbb" stroke-width="0.5" /><circle cx="434.9" cy="512.1" r="0.9" fill="#e6e6e6" stroke="#c4c4c4" stroke-width="0.3"/><line x1="439.4" y1="515.6" x2="442.9" y2="519.1" stroke="#bbb" stroke-width="0.5" /><circle cx="442.9" cy="519.1" r="0.9" fill="#e6e6e6" stroke="#c4c4c4" stroke-width="0.3"/><line x1="435.6" y1="523.1" x2="440.6" y2="526.1" stroke="#bbb" stroke-width="0.5" /><circle cx="440.6" cy="526.1" r="0.9" fill="#e6e6e6" stroke="#c4c4c4" stroke-width="0.3"/><line x1="443.1" y1="545.6" x2="448.6" y2="542.6" stroke="#bbb" stroke-width="0.5" /><circle cx="448.6" cy="542.6" r="0.9" fill="#e6e6e6" stroke="#c4c4c4" stroke-width="0.3"/><line x1="428.8" y1="546.9" x2="423.3" y2="549.4" stroke="#bbb" stroke-width="0.5" /><circle cx="423.3" cy="549.4" r="0.9" fill="#e6e6e6" stroke="#c4c4c4" stroke-width="0.3"/><line x1="443.1" y1="545.6" x2="448.1" y2="548.6" stroke="#bbb" stroke-width="0.5" /><circle cx="448.1" cy="548.6" r="0.9" fill="#e6e6e6" stroke="#c4c4c4" stroke-width="0.3"/><line x1="436.9" y1="562.5" x2="441.9" y2="565.0" stroke="#bbb" stroke-width="0.5" /><circle cx="441.9" cy="565.0" r="0.9" fill="#e6e6e6" stroke="#c4c4c4" stroke-width="0.3"/><line x1="445.0" y1="510.6" x2="441.0" y2="507.6" stroke="#bbb" stroke-width="0.5" /><circle cx="441.0" cy="507.6" r="0.9" fill="#e6e6e6" stroke="#c4c4c4" stroke-width="0.3"/><circle cx="443.8" cy="500.0" r="2.1" fill="#3a56a8" /><circle cx="445.0" cy="510.6" r="2.2" fill="#2e2e33" /><circle cx="439.4" cy="515.6" r="2.2" fill="#2e2e33" /><circle cx="435.6" cy="523.1" r="2.2" fill="#2e2e33" /><circle cx="426.3" cy="524.8" r="1.8" fill="#3fb595" /><circle cx="435.0" cy="531.2" r="1.8" fill="#3fb595" /><circle cx="440.0" cy="531.5" r="1.8" fill="#3fb595" /><circle cx="430.0" cy="536.9" r="1.8" fill="#3fb595" /><circle cx="433.8" cy="539.4" r="2.2" fill="#2e2e33" /><circle cx="443.1" cy="545.6" r="2.2" fill="#2e2e33" /><circle cx="437.5" cy="553.8" r="2.2" fill="#2e2e33" /><circle cx="428.8" cy="546.9" r="2.2" fill="#2e2e33" /><circle cx="436.9" cy="562.5" r="2.1" fill="#3a56a8" />
<line x1="471.4" y1="500.0" x2="472.6" y2="510.6" stroke="#6a6a6a" stroke-width="0.8" /><line x1="472.6" y1="510.6" x2="467.0" y2="515.6" stroke="#6a6a6a" stroke-width="0.8" /><line x1="467.0" y1="515.6" x2="463.2" y2="523.1" stroke="#6a6a6a" stroke-width="0.8" /><line x1="463.2" y1="523.1" x2="453.9" y2="524.8" stroke="#6a6a6a" stroke-width="0.8" /><line x1="461.4" y1="539.4" x2="457.6" y2="536.9" stroke="#6a6a6a" stroke-width="0.8" /><line x1="461.4" y1="539.4" x2="470.8" y2="545.6" stroke="#6a6a6a" stroke-width="0.8" /><line x1="470.8" y1="545.6" x2="465.1" y2="553.8" stroke="#6a6a6a" stroke-width="0.8" /><line x1="465.1" y1="553.8" x2="456.4" y2="546.9" stroke="#6a6a6a" stroke-width="0.8" /><line x1="456.4" y1="546.9" x2="461.4" y2="539.4" stroke="#6a6a6a" stroke-width="0.8" /><line x1="465.1" y1="553.8" x2="464.5" y2="562.5" stroke="#6a6a6a" stroke-width="0.8" /><line x1="471.4" y1="500.0" x2="466.4" y2="498.5" stroke="#bbb" stroke-width="0.5" /><circle cx="466.4" cy="498.5" r="0.9" fill="#e6e6e6" stroke="#c4c4c4" stroke-width="0.3"/><line x1="472.6" y1="510.6" x2="478.6" y2="512.1" stroke="#bbb" stroke-width="0.5" /><circle cx="478.6" cy="512.1" r="0.9" fill="#e6e6e6" stroke="#c4c4c4" stroke-width="0.3"/><line x1="467.0" y1="515.6" x2="462.5" y2="512.1" stroke="#bbb" stroke-width="0.5" /><circle cx="462.5" cy="512.1" r="0.9" fill="#e6e6e6" stroke="#c4c4c4" stroke-width="0.3"/><line x1="467.0" y1="515.6" x2="470.5" y2="519.1" stroke="#bbb" stroke-width="0.5" /><circle cx="470.5" cy="519.1" r="0.9" fill="#e6e6e6" stroke="#c4c4c4" stroke-width="0.3"/><line x1="463.2" y1="523.1" x2="468.2" y2="526.1" stroke="#bbb" stroke-width="0.5" /><circle cx="468.2" cy="526.1" r="0.9" fill="#e6e6e6" stroke="#c4c4c4" stroke-width="0.3"/><line x1="470.8" y1="545.6" x2="476.2" y2="542.6" stroke="#bbb" stroke-width="0.5" /><circle cx="476.2" cy="542.6" r="0.9" fill="#e6e6e6" stroke="#c4c4c4" stroke-width="0.3"/><line x1="456.4" y1="546.9" x2="450.9" y2="549.4" stroke="#bbb" stroke-width="0.5" /><circle cx="450.9" cy="549.4" r="0.9" fill="#e6e6e6" stroke="#c4c4c4" stroke-width="0.3"/><line x1="470.8" y1="545.6" x2="475.8" y2="548.6" stroke="#bbb" stroke-width="0.5" /><circle cx="475.8" cy="548.6" r="0.9" fill="#e6e6e6" stroke="#c4c4c4" stroke-width="0.3"/><line x1="464.5" y1="562.5" x2="469.5" y2="565.0" stroke="#bbb" stroke-width="0.5" /><circle cx="469.5" cy="565.0" r="0.9" fill="#e6e6e6" stroke="#c4c4c4" stroke-width="0.3"/><line x1="472.6" y1="510.6" x2="468.6" y2="507.6" stroke="#bbb" stroke-width="0.5" /><circle cx="468.6" cy="507.6" r="0.9" fill="#e6e6e6" stroke="#c4c4c4" stroke-width="0.3"/><circle cx="471.4" cy="500.0" r="2.1" fill="#3a56a8" /><circle cx="472.6" cy="510.6" r="2.2" fill="#2e2e33" /><circle cx="467.0" cy="515.6" r="2.2" fill="#2e2e33" /><circle cx="463.2" cy="523.1" r="2.2" fill="#2e2e33" /><circle cx="453.9" cy="524.8" r="1.8" fill="#3fb595" /><circle cx="462.6" cy="531.2" r="1.8" fill="#3fb595" /><circle cx="467.6" cy="531.5" r="1.8" fill="#3fb595" /><circle cx="457.6" cy="536.9" r="1.8" fill="#3fb595" /><circle cx="461.4" cy="539.4" r="2.2" fill="#2e2e33" /><circle cx="470.8" cy="545.6" r="2.2" fill="#2e2e33" /><circle cx="465.1" cy="553.8" r="2.2" fill="#2e2e33" /><circle cx="456.4" cy="546.9" r="2.2" fill="#2e2e33" /><circle cx="464.5" cy="562.5" r="2.1" fill="#3a56a8" />
<line x1="497.6" y1="500.0" x2="498.8" y2="510.6" stroke="#6a6a6a" stroke-width="0.8" /><line x1="498.8" y1="510.6" x2="493.2" y2="515.6" stroke="#6a6a6a" stroke-width="0.8" /><line x1="493.2" y1="515.6" x2="489.4" y2="523.1" stroke="#6a6a6a" stroke-width="0.8" /><line x1="489.4" y1="523.1" x2="480.1" y2="524.8" stroke="#6a6a6a" stroke-width="0.8" /><line x1="487.6" y1="539.4" x2="483.8" y2="536.9" stroke="#6a6a6a" stroke-width="0.8" /><line x1="487.6" y1="539.4" x2="496.9" y2="545.6" stroke="#6a6a6a" stroke-width="0.8" /><line x1="496.9" y1="545.6" x2="491.3" y2="553.8" stroke="#6a6a6a" stroke-width="0.8" /><line x1="491.3" y1="553.8" x2="482.6" y2="546.9" stroke="#6a6a6a" stroke-width="0.8" /><line x1="482.6" y1="546.9" x2="487.6" y2="539.4" stroke="#6a6a6a" stroke-width="0.8" /><line x1="491.3" y1="553.8" x2="490.7" y2="562.5" stroke="#6a6a6a" stroke-width="0.8" /><line x1="497.6" y1="500.0" x2="492.6" y2="498.5" stroke="#bbb" stroke-width="0.5" /><circle cx="492.6" cy="498.5" r="0.9" fill="#e6e6e6" stroke="#c4c4c4" stroke-width="0.3"/><line x1="498.8" y1="510.6" x2="504.8" y2="512.1" stroke="#bbb" stroke-width="0.5" /><circle cx="504.8" cy="512.1" r="0.9" fill="#e6e6e6" stroke="#c4c4c4" stroke-width="0.3"/><line x1="493.2" y1="515.6" x2="488.7" y2="512.1" stroke="#bbb" stroke-width="0.5" /><circle cx="488.7" cy="512.1" r="0.9" fill="#e6e6e6" stroke="#c4c4c4" stroke-width="0.3"/><line x1="493.2" y1="515.6" x2="496.7" y2="519.1" stroke="#bbb" stroke-width="0.5" /><circle cx="496.7" cy="519.1" r="0.9" fill="#e6e6e6" stroke="#c4c4c4" stroke-width="0.3"/><line x1="489.4" y1="523.1" x2="494.4" y2="526.1" stroke="#bbb" stroke-width="0.5" /><circle cx="494.4" cy="526.1" r="0.9" fill="#e6e6e6" stroke="#c4c4c4" stroke-width="0.3"/><line x1="496.9" y1="545.6" x2="502.4" y2="542.6" stroke="#bbb" stroke-width="0.5" /><circle cx="502.4" cy="542.6" r="0.9" fill="#e6e6e6" stroke="#c4c4c4" stroke-width="0.3"/><line x1="482.6" y1="546.9" x2="477.1" y2="549.4" stroke="#bbb" stroke-width="0.5" /><circle cx="477.1" cy="549.4" r="0.9" fill="#e6e6e6" stroke="#c4c4c4" stroke-width="0.3"/><line x1="496.9" y1="545.6" x2="501.9" y2="548.6" stroke="#bbb" stroke-width="0.5" /><circle cx="501.9" cy="548.6" r="0.9" fill="#e6e6e6" stroke="#c4c4c4" stroke-width="0.3"/><line x1="490.7" y1="562.5" x2="495.7" y2="565.0" stroke="#bbb" stroke-width="0.5" /><circle cx="495.7" cy="565.0" r="0.9" fill="#e6e6e6" stroke="#c4c4c4" stroke-width="0.3"/><line x1="498.8" y1="510.6" x2="494.8" y2="507.6" stroke="#bbb" stroke-width="0.5" /><circle cx="494.8" cy="507.6" r="0.9" fill="#e6e6e6" stroke="#c4c4c4" stroke-width="0.3"/><circle cx="497.6" cy="500.0" r="2.1" fill="#3a56a8" /><circle cx="498.8" cy="510.6" r="2.2" fill="#2e2e33" /><circle cx="493.2" cy="515.6" r="2.2" fill="#2e2e33" /><circle cx="489.4" cy="523.1" r="2.2" fill="#2e2e33" /><circle cx="480.1" cy="524.8" r="1.8" fill="#3fb595" /><circle cx="488.8" cy="531.2" r="1.8" fill="#3fb595" /><circle cx="493.8" cy="531.5" r="1.8" fill="#3fb595" /><circle cx="483.8" cy="536.9" r="1.8" fill="#3fb595" /><circle cx="487.6" cy="539.4" r="2.2" fill="#2e2e33" /><circle cx="496.9" cy="545.6" r="2.2" fill="#2e2e33" /><circle cx="491.3" cy="553.8" r="2.2" fill="#2e2e33" /><circle cx="482.6" cy="546.9" r="2.2" fill="#2e2e33" /><circle cx="490.7" cy="562.5" r="2.1" fill="#3a56a8" />
<line x1="525.2" y1="500.0" x2="526.4" y2="510.6" stroke="#6a6a6a" stroke-width="0.8" /><line x1="526.4" y1="510.6" x2="520.8" y2="515.6" stroke="#6a6a6a" stroke-width="0.8" /><line x1="520.8" y1="515.6" x2="517.0" y2="523.1" stroke="#6a6a6a" stroke-width="0.8" /><line x1="517.0" y1="523.1" x2="507.7" y2="524.8" stroke="#6a6a6a" stroke-width="0.8" /><line x1="515.2" y1="539.4" x2="511.4" y2="536.9" stroke="#6a6a6a" stroke-width="0.8" /><line x1="515.2" y1="539.4" x2="524.5" y2="545.6" stroke="#6a6a6a" stroke-width="0.8" /><line x1="524.5" y1="545.6" x2="518.9" y2="553.8" stroke="#6a6a6a" stroke-width="0.8" /><line x1="518.9" y1="553.8" x2="510.2" y2="546.9" stroke="#6a6a6a" stroke-width="0.8" /><line x1="510.2" y1="546.9" x2="515.2" y2="539.4" stroke="#6a6a6a" stroke-width="0.8" /><line x1="518.9" y1="553.8" x2="518.3" y2="562.5" stroke="#6a6a6a" stroke-width="0.8" /><line x1="525.2" y1="500.0" x2="520.2" y2="498.5" stroke="#bbb" stroke-width="0.5" /><circle cx="520.2" cy="498.5" r="0.9" fill="#e6e6e6" stroke="#c4c4c4" stroke-width="0.3"/><line x1="526.4" y1="510.6" x2="532.4" y2="512.1" stroke="#bbb" stroke-width="0.5" /><circle cx="532.4" cy="512.1" r="0.9" fill="#e6e6e6" stroke="#c4c4c4" stroke-width="0.3"/><line x1="520.8" y1="515.6" x2="516.3" y2="512.1" stroke="#bbb" stroke-width="0.5" /><circle cx="516.3" cy="512.1" r="0.9" fill="#e6e6e6" stroke="#c4c4c4" stroke-width="0.3"/><line x1="520.8" y1="515.6" x2="524.3" y2="519.1" stroke="#bbb" stroke-width="0.5" /><circle cx="524.3" cy="519.1" r="0.9" fill="#e6e6e6" stroke="#c4c4c4" stroke-width="0.3"/><line x1="517.0" y1="523.1" x2="522.0" y2="526.1" stroke="#bbb" stroke-width="0.5" /><circle cx="522.0" cy="526.1" r="0.9" fill="#e6e6e6" stroke="#c4c4c4" stroke-width="0.3"/><line x1="524.5" y1="545.6" x2="530.0" y2="542.6" stroke="#bbb" stroke-width="0.5" /><circle cx="530.0" cy="542.6" r="0.9" fill="#e6e6e6" stroke="#c4c4c4" stroke-width="0.3"/><line x1="510.2" y1="546.9" x2="504.7" y2="549.4" stroke="#bbb" stroke-width="0.5" /><circle cx="504.7" cy="549.4" r="0.9" fill="#e6e6e6" stroke="#c4c4c4" stroke-width="0.3"/><line x1="524.5" y1="545.6" x2="529.5" y2="548.6" stroke="#bbb" stroke-width="0.5" /><circle cx="529.5" cy="548.6" r="0.9" fill="#e6e6e6" stroke="#c4c4c4" stroke-width="0.3"/><line x1="518.3" y1="562.5" x2="523.3" y2="565.0" stroke="#bbb" stroke-width="0.5" /><circle cx="523.3" cy="565.0" r="0.9" fill="#e6e6e6" stroke="#c4c4c4" stroke-width="0.3"/><line x1="526.4" y1="510.6" x2="522.4" y2="507.6" stroke="#bbb" stroke-width="0.5" /><circle cx="522.4" cy="507.6" r="0.9" fill="#e6e6e6" stroke="#c4c4c4" stroke-width="0.3"/><circle cx="525.2" cy="500.0" r="2.1" fill="#3a56a8" /><circle cx="526.4" cy="510.6" r="2.2" fill="#2e2e33" /><circle cx="520.8" cy="515.6" r="2.2" fill="#2e2e33" /><circle cx="517.0" cy="523.1" r="2.2" fill="#2e2e33" /><circle cx="507.7" cy="524.8" r="1.8" fill="#3fb595" /><circle cx="516.4" cy="531.2" r="1.8" fill="#3fb595" /><circle cx="521.4" cy="531.5" r="1.8" fill="#3fb595" /><circle cx="511.4" cy="536.9" r="1.8" fill="#3fb595" /><circle cx="515.2" cy="539.4" r="2.2" fill="#2e2e33" /><circle cx="524.5" cy="545.6" r="2.2" fill="#2e2e33" /><circle cx="518.9" cy="553.8" r="2.2" fill="#2e2e33" /><circle cx="510.2" cy="546.9" r="2.2" fill="#2e2e33" /><circle cx="518.3" cy="562.5" r="2.1" fill="#3a56a8" />
<polygon points="437.5,393.8 451.3,378.6 465.1,393.8 451.3,409.0" fill="#b2cce0" opacity="0.8"/><polygon points="437.5,393.8 451.3,378.6 451.3,409.0" fill="#8fb6d6" opacity="0.45"/><line x1="437.5" y1="393.8" x2="465.1" y2="393.8" stroke="#7f9fb8" stroke-width="0.6" opacity="0.8"/><line x1="451.3" y1="378.6" x2="451.3" y2="409.0" stroke="#c8dcea" stroke-width="0.5" opacity="0.8"/><circle cx="437.5" cy="393.8" r="1.0" fill="#8cc070" /><circle cx="451.3" cy="378.6" r="1.0" fill="#8cc070" /><circle cx="465.1" cy="393.8" r="1.0" fill="#8cc070" /><circle cx="451.3" cy="409.0" r="1.0" fill="#8cc070" /><circle cx="451.3" cy="393.8" r="3.1" fill="url(#gCu)" />
<polygon points="465.1,393.8 478.9,378.6 492.7,393.8 478.9,409.0" fill="#b2cce0" opacity="0.8"/><polygon points="465.1,393.8 478.9,378.6 478.9,409.0" fill="#8fb6d6" opacity="0.45"/><line x1="465.1" y1="393.8" x2="492.7" y2="393.8" stroke="#7f9fb8" stroke-width="0.6" opacity="0.8"/><line x1="478.9" y1="378.6" x2="478.9" y2="409.0" stroke="#c8dcea" stroke-width="0.5" opacity="0.8"/><circle cx="465.1" cy="393.8" r="1.0" fill="#8cc070" /><circle cx="478.9" cy="378.6" r="1.0" fill="#8cc070" /><circle cx="492.7" cy="393.8" r="1.0" fill="#8cc070" /><circle cx="478.9" cy="409.0" r="1.0" fill="#8cc070" /><circle cx="478.9" cy="393.8" r="3.1" fill="url(#gCu)" />
<polygon points="492.7,393.8 506.5,378.6 520.3,393.8 506.5,409.0" fill="#b2cce0" opacity="0.8"/><polygon points="492.7,393.8 506.5,378.6 506.5,409.0" fill="#8fb6d6" opacity="0.45"/><line x1="492.7" y1="393.8" x2="520.3" y2="393.8" stroke="#7f9fb8" stroke-width="0.6" opacity="0.8"/><line x1="506.5" y1="378.6" x2="506.5" y2="409.0" stroke="#c8dcea" stroke-width="0.5" opacity="0.8"/><circle cx="492.7" cy="393.8" r="1.0" fill="#8cc070" /><circle cx="506.5" cy="378.6" r="1.0" fill="#8cc070" /><circle cx="520.3" cy="393.8" r="1.0" fill="#8cc070" /><circle cx="506.5" cy="409.0" r="1.0" fill="#8cc070" /><circle cx="506.5" cy="393.8" r="3.1" fill="url(#gCu)" />
<polygon points="520.3,393.8 534.1,378.6 547.9,393.8 534.1,409.0" fill="#b2cce0" opacity="0.8"/><polygon points="520.3,393.8 534.1,378.6 534.1,409.0" fill="#8fb6d6" opacity="0.45"/><line x1="520.3" y1="393.8" x2="547.9" y2="393.8" stroke="#7f9fb8" stroke-width="0.6" opacity="0.8"/><line x1="534.1" y1="378.6" x2="534.1" y2="409.0" stroke="#c8dcea" stroke-width="0.5" opacity="0.8"/><circle cx="520.3" cy="393.8" r="1.0" fill="#8cc070" /><circle cx="534.1" cy="378.6" r="1.0" fill="#8cc070" /><circle cx="547.9" cy="393.8" r="1.0" fill="#8cc070" /><circle cx="534.1" cy="409.0" r="1.0" fill="#8cc070" /><circle cx="534.1" cy="393.8" r="3.1" fill="url(#gCu)" />
<polygon points="430.6,485.0 444.4,469.8 458.2,485.0 444.4,500.2" fill="#b2cce0" opacity="0.8"/><polygon points="430.6,485.0 444.4,469.8 444.4,500.2" fill="#8fb6d6" opacity="0.45"/><line x1="430.6" y1="485.0" x2="458.2" y2="485.0" stroke="#7f9fb8" stroke-width="0.6" opacity="0.8"/><line x1="444.4" y1="469.8" x2="444.4" y2="500.2" stroke="#c8dcea" stroke-width="0.5" opacity="0.8"/><circle cx="430.6" cy="485.0" r="1.0" fill="#8cc070" /><circle cx="444.4" cy="469.8" r="1.0" fill="#8cc070" /><circle cx="458.2" cy="485.0" r="1.0" fill="#8cc070" /><circle cx="444.4" cy="500.2" r="1.0" fill="#8cc070" /><circle cx="444.4" cy="485.0" r="3.1" fill="url(#gCu)" />
<polygon points="458.2,485.0 472.0,469.8 485.8,485.0 472.0,500.2" fill="#b2cce0" opacity="0.8"/><polygon points="458.2,485.0 472.0,469.8 472.0,500.2" fill="#8fb6d6" opacity="0.45"/><line x1="458.2" y1="485.0" x2="485.8" y2="485.0" stroke="#7f9fb8" stroke-width="0.6" opacity="0.8"/><line x1="472.0" y1="469.8" x2="472.0" y2="500.2" stroke="#c8dcea" stroke-width="0.5" opacity="0.8"/><circle cx="458.2" cy="485.0" r="1.0" fill="#8cc070" /><circle cx="472.0" cy="469.8" r="1.0" fill="#8cc070" /><circle cx="485.8" cy="485.0" r="1.0" fill="#8cc070" /><circle cx="472.0" cy="500.2" r="1.0" fill="#8cc070" /><circle cx="472.0" cy="485.0" r="3.1" fill="url(#gCu)" />
<polygon points="484.4,485.0 498.2,469.8 512.0,485.0 498.2,500.2" fill="#b2cce0" opacity="0.8"/><polygon points="484.4,485.0 498.2,469.8 498.2,500.2" fill="#8fb6d6" opacity="0.45"/><line x1="484.4" y1="485.0" x2="512.0" y2="485.0" stroke="#7f9fb8" stroke-width="0.6" opacity="0.8"/><line x1="498.2" y1="469.8" x2="498.2" y2="500.2" stroke="#c8dcea" stroke-width="0.5" opacity="0.8"/><circle cx="484.4" cy="485.0" r="1.0" fill="#8cc070" /><circle cx="498.2" cy="469.8" r="1.0" fill="#8cc070" /><circle cx="512.0" cy="485.0" r="1.0" fill="#8cc070" /><circle cx="498.2" cy="500.2" r="1.0" fill="#8cc070" /><circle cx="498.2" cy="485.0" r="3.1" fill="url(#gCu)" />
<polygon points="512.0,485.0 525.8,469.8 539.6,485.0 525.8,500.2" fill="#b2cce0" opacity="0.8"/><polygon points="512.0,485.0 525.8,469.8 525.8,500.2" fill="#8fb6d6" opacity="0.45"/><line x1="512.0" y1="485.0" x2="539.6" y2="485.0" stroke="#7f9fb8" stroke-width="0.6" opacity="0.8"/><line x1="525.8" y1="469.8" x2="525.8" y2="500.2" stroke="#c8dcea" stroke-width="0.5" opacity="0.8"/><circle cx="512.0" cy="485.0" r="1.0" fill="#8cc070" /><circle cx="525.8" cy="469.8" r="1.0" fill="#8cc070" /><circle cx="539.6" cy="485.0" r="1.0" fill="#8cc070" /><circle cx="525.8" cy="500.2" r="1.0" fill="#8cc070" /><circle cx="525.8" cy="485.0" r="3.1" fill="url(#gCu)" />
<polygon points="423.7,577.4 437.5,562.2 451.3,577.4 437.5,592.6" fill="#b2cce0" opacity="0.8"/><polygon points="423.7,577.4 437.5,562.2 437.5,592.6" fill="#8fb6d6" opacity="0.45"/><line x1="423.7" y1="577.4" x2="451.3" y2="577.4" stroke="#7f9fb8" stroke-width="0.6" opacity="0.8"/><line x1="437.5" y1="562.2" x2="437.5" y2="592.6" stroke="#c8dcea" stroke-width="0.5" opacity="0.8"/><circle cx="423.7" cy="577.4" r="1.0" fill="#8cc070" /><circle cx="437.5" cy="562.2" r="1.0" fill="#8cc070" /><circle cx="451.3" cy="577.4" r="1.0" fill="#8cc070" /><circle cx="437.5" cy="592.6" r="1.0" fill="#8cc070" /><circle cx="437.5" cy="577.4" r="3.1" fill="url(#gCu)" />
<polygon points="449.9,577.4 463.7,562.2 477.5,577.4 463.7,592.6" fill="#b2cce0" opacity="0.8"/><polygon points="449.9,577.4 463.7,562.2 463.7,592.6" fill="#8fb6d6" opacity="0.45"/><line x1="449.9" y1="577.4" x2="477.5" y2="577.4" stroke="#7f9fb8" stroke-width="0.6" opacity="0.8"/><line x1="463.7" y1="562.2" x2="463.7" y2="592.6" stroke="#c8dcea" stroke-width="0.5" opacity="0.8"/><circle cx="449.9" cy="577.4" r="1.0" fill="#8cc070" /><circle cx="463.7" cy="562.2" r="1.0" fill="#8cc070" /><circle cx="477.5" cy="577.4" r="1.0" fill="#8cc070" /><circle cx="463.7" cy="592.6" r="1.0" fill="#8cc070" /><circle cx="463.7" cy="577.4" r="3.1" fill="url(#gCu)" />
<polygon points="477.5,577.4 491.3,562.2 505.1,577.4 491.3,592.6" fill="#b2cce0" opacity="0.8"/><polygon points="477.5,577.4 491.3,562.2 491.3,592.6" fill="#8fb6d6" opacity="0.45"/><line x1="477.5" y1="577.4" x2="505.1" y2="577.4" stroke="#7f9fb8" stroke-width="0.6" opacity="0.8"/><line x1="491.3" y1="562.2" x2="491.3" y2="592.6" stroke="#c8dcea" stroke-width="0.5" opacity="0.8"/><circle cx="477.5" cy="577.4" r="1.0" fill="#8cc070" /><circle cx="491.3" cy="562.2" r="1.0" fill="#8cc070" /><circle cx="505.1" cy="577.4" r="1.0" fill="#8cc070" /><circle cx="491.3" cy="592.6" r="1.0" fill="#8cc070" /><circle cx="491.3" cy="577.4" r="3.1" fill="url(#gCu)" />
<polygon points="503.7,577.4 517.5,562.2 531.3,577.4 517.5,592.6" fill="#b2cce0" opacity="0.8"/><polygon points="503.7,577.4 517.5,562.2 517.5,592.6" fill="#8fb6d6" opacity="0.45"/><line x1="503.7" y1="577.4" x2="531.3" y2="577.4" stroke="#7f9fb8" stroke-width="0.6" opacity="0.8"/><line x1="517.5" y1="562.2" x2="517.5" y2="592.6" stroke="#c8dcea" stroke-width="0.5" opacity="0.8"/><circle cx="503.7" cy="577.4" r="1.0" fill="#8cc070" /><circle cx="517.5" cy="562.2" r="1.0" fill="#8cc070" /><circle cx="531.3" cy="577.4" r="1.0" fill="#8cc070" /><circle cx="517.5" cy="592.6" r="1.0" fill="#8cc070" /><circle cx="517.5" cy="577.4" r="3.1" fill="url(#gCu)" />
<text x="449.0" y="616.0" font-size="9.3" fill="#333" textLength="74.0" lengthAdjust="spacingAndGlyphs">(DF-CBA)₂CuCl₄</text>
<circle cx="548.4" cy="514.5" r="2.8" fill="#1a9a6a" />
<text x="554.0" y="517.1" font-size="7.4" font-weight="bold" fill="#333">Cu</text>
<circle cx="548.4" cy="523.8" r="1.8" fill="#8cc070" />
<text x="554.0" y="526.4" font-size="7.4" font-weight="bold" fill="#333">Cl</text>
<circle cx="548.4" cy="533.3" r="1.6" fill="#3ab898" />
<text x="554.0" y="535.9" font-size="7.4" font-weight="bold" fill="#333">F</text>
<circle cx="548.4" cy="542.8" r="1.5" fill="#2f4fa8" />
<text x="554.0" y="545.4" font-size="7.4" font-weight="bold" fill="#333">N</text>
<circle cx="548.4" cy="552.0" r="1.3" fill="#2a2a2e" />
<text x="554.0" y="554.6" font-size="7.4" font-weight="bold" fill="#333">C</text>
<circle cx="548.4" cy="560.9" r="1.0" fill="#d8d8d8" />
<text x="554.0" y="563.5" font-size="7.4" font-weight="bold" fill="#333">H</text>
<path d="M549.5,585.5 V577 H559" fill="none" stroke="#555" stroke-width="0.8" />
<text x="560.0" y="579.0" font-size="6.5" fill="#333">c</text>
<text x="547.5" y="593.5" font-size="6.5" fill="#333">a</text>
<polygon points="613.4,379.3 644.3,388.3 637.9,415.4 617.3,408.9" fill="#a9c9e2" opacity="0.85"/>
<polygon points="613.4,379.3 644.3,388.3 637.9,415.4" fill="#8fb6d6" opacity="0.5"/>
<line x1="613.4" y1="379.3" x2="637.9" y2="415.4" stroke="#c8dcea" stroke-width="0.5" />
<line x1="644.3" y1="388.3" x2="617.3" y2="408.9" stroke="#d8e8f2" stroke-width="0.5" />
<circle cx="613.4" cy="379.3" r="0.9" fill="#8cc070" />
<circle cx="644.3" cy="388.3" r="0.9" fill="#8cc070" />
<circle cx="637.9" cy="415.4" r="0.9" fill="#8cc070" />
<circle cx="617.3" cy="408.9" r="0.9" fill="#8cc070" />
<circle cx="629.4" cy="398.6" r="3.0" fill="url(#gCu)" />
<polygon points="582.5,414.1 617.3,408.9 609.5,442.4 578.6,443.7" fill="#a9c9e2" opacity="0.85"/>
<polygon points="582.5,414.1 617.3,408.9 609.5,442.4" fill="#8fb6d6" opacity="0.5"/>
<line x1="582.5" y1="414.1" x2="609.5" y2="442.4" stroke="#c8dcea" stroke-width="0.5" />
<line x1="617.3" y1="408.9" x2="578.6" y2="443.7" stroke="#d8e8f2" stroke-width="0.5" />
<circle cx="582.5" cy="414.1" r="0.9" fill="#8cc070" />
<circle cx="617.3" cy="408.9" r="0.9" fill="#8cc070" />
<circle cx="609.5" cy="442.4" r="0.9" fill="#8cc070" />
<circle cx="578.6" cy="443.7" r="0.9" fill="#8cc070" />
<circle cx="596.7" cy="428.2" r="3.0" fill="url(#gCu)" />
<polygon points="644.3,415.4 675.2,414.1 667.5,445.0 639.1,447.6" fill="#a9c9e2" opacity="0.85"/>
<polygon points="644.3,415.4 675.2,414.1 667.5,445.0" fill="#8fb6d6" opacity="0.5"/>
<line x1="644.3" y1="415.4" x2="667.5" y2="445.0" stroke="#c8dcea" stroke-width="0.5" />
<line x1="675.2" y1="414.1" x2="639.1" y2="447.6" stroke="#d8e8f2" stroke-width="0.5" />
<circle cx="644.3" cy="415.4" r="0.9" fill="#8cc070" />
<circle cx="675.2" cy="414.1" r="0.9" fill="#8cc070" />
<circle cx="667.5" cy="445.0" r="0.9" fill="#8cc070" />
<circle cx="639.1" cy="447.6" r="0.9" fill="#8cc070" />
<circle cx="657.2" cy="432.1" r="3.0" fill="url(#gCu)" />
<polygon points="614.7,443.7 639.1,448.8 641.7,481.0 609.5,472.0" fill="#a9c9e2" opacity="0.85"/>
<polygon points="614.7,443.7 639.1,448.8 641.7,481.0" fill="#8fb6d6" opacity="0.5"/>
<line x1="614.7" y1="443.7" x2="641.7" y2="481.0" stroke="#c8dcea" stroke-width="0.5" />
<line x1="639.1" y1="448.8" x2="609.5" y2="472.0" stroke="#d8e8f2" stroke-width="0.5" />
<circle cx="614.7" cy="443.7" r="0.9" fill="#8cc070" />
<circle cx="639.1" cy="448.8" r="0.9" fill="#8cc070" />
<circle cx="641.7" cy="481.0" r="0.9" fill="#8cc070" />
<circle cx="609.5" cy="472.0" r="0.9" fill="#8cc070" />
<circle cx="625.0" cy="460.4" r="3.0" fill="url(#gCu)" />
<circle cx="627.6" cy="425.0" r="1.8" fill="#2a2a2e" />
<circle cx="630.1" cy="430.0" r="1.8" fill="#2a2a2e" />
<circle cx="625.1" cy="429.5" r="1.8" fill="#2f4fa8" />
<circle cx="628.1" cy="434.5" r="1.8" fill="#2a2a2e" />
<circle cx="633.6" cy="424.5" r="1.0" fill="#ddd" />
<circle cx="621.6" cy="432.5" r="1.0" fill="#ddd" />
<circle cx="633.6" cy="434.5" r="1.0" fill="#ddd" />
<circle cx="637.6" cy="430.5" r="1.2" fill="#3ab898" />
<path d="M579,475 H589 V485" fill="none" stroke="#555" stroke-width="0.8" />
<text x="572.0" y="477.0" font-size="6.5" fill="#333">c</text>
<text x="587.5" y="492.0" font-size="6.5" fill="#333">b</text>
<polygon points="584.3,522.8 599.7,497.8 675.2,497.8 675.2,575.0 659.8,600.0 584.3,600.0" fill="#e2f3f8" />
<rect x="599.7" y="497.8" width="75.5" height="77.2" fill="none" stroke="#9aa8ac" stroke-width="0.8" />
<line x1="584.3" y1="522.8" x2="599.7" y2="497.8" stroke="#8a989c" stroke-width="0.9" />
<line x1="659.8" y1="522.8" x2="675.2" y2="497.8" stroke="#8a989c" stroke-width="0.9" />
<line x1="584.3" y1="600.0" x2="599.7" y2="575.0" stroke="#8a989c" stroke-width="0.9" />
<line x1="659.8" y1="600.0" x2="675.2" y2="575.0" stroke="#8a989c" stroke-width="0.9" />
<rect x="584.3" y="522.8" width="75.5" height="77.2" fill="#d6edf4" stroke="#8a979b" stroke-width="1" fill-opacity="0.4"/>
<line x1="628.8" y1="548.0" x2="607.5" y2="512.0" stroke="#2a9a80" stroke-width="1.8" /><polygon points="604.4,506.8 609.6,510.7 605.3,513.2" fill="#2a9a80"/>
<line x1="628.8" y1="548.0" x2="595.5" y2="530.2" stroke="#2a9a80" stroke-width="1.8" /><polygon points="590.2,527.4 596.7,528.0 594.3,532.4" fill="#2a9a80"/>
<line x1="628.8" y1="548.0" x2="660.8" y2="563.4" stroke="#2a9a80" stroke-width="1.8" /><polygon points="666.2,566.0 659.7,565.7 661.9,561.1" fill="#2a9a80"/>
<line x1="628.8" y1="548.0" x2="650.3" y2="585.3" stroke="#2a9a80" stroke-width="1.8" /><polygon points="653.3,590.5 648.1,586.6 652.5,584.1" fill="#2a9a80"/>
<line x1="628.8" y1="548.0" x2="663.3" y2="512.4" stroke="#3a72c2" stroke-width="1.8" /><polygon points="667.5,508.1 665.1,514.1 661.5,510.7" fill="#3a72c2"/>
<line x1="628.8" y1="548.0" x2="647.0" y2="535.8" stroke="#3a72c2" stroke-width="1.8" /><polygon points="652.0,532.5 648.4,537.9 645.6,533.8" fill="#3a72c2"/>
<line x1="628.8" y1="548.0" x2="611.9" y2="560.0" stroke="#3a72c2" stroke-width="1.8" /><polygon points="607.0,563.5 610.4,558.0 613.3,562.1" fill="#3a72c2"/>
<line x1="628.8" y1="548.0" x2="595.6" y2="583.5" stroke="#3a72c2" stroke-width="1.8" /><polygon points="591.5,587.9 593.8,581.8 597.4,585.2" fill="#3a72c2"/>
<text x="570.9" y="616.2" font-size="9.8" fill="#333" textLength="108.2" lengthAdjust="spacingAndGlyphs">8 polarization directions</text>
<!-- s_d -->
<text x="709.2" y="384.1" font-size="23.5" font-weight="bold" fill="#777" textLength="30.0" lengthAdjust="spacingAndGlyphs" stroke="#777" stroke-width="1.1" stroke-linejoin="round" filter="url(#lblsh)">(d)</text><text x="709.2" y="384.1" font-size="23.5" font-weight="bold" fill="#fff" textLength="30.0" lengthAdjust="spacingAndGlyphs" stroke="#fff" stroke-width="0.3">(d)</text>
<linearGradient id="gArcR" gradientUnits="userSpaceOnUse" x1="965" y1="412" x2="985" y2="470"><stop offset="0" stop-color="#3a5fc0"/><stop offset="0.5" stop-color="#8a5aa8"/><stop offset="1" stop-color="#ee4a5e"/></linearGradient>
<linearGradient id="gArcL" gradientUnits="userSpaceOnUse" x1="760" y1="545" x2="748" y2="490"><stop offset="0" stop-color="#ee4a5e"/><stop offset="0.5" stop-color="#8a5aa8"/><stop offset="1" stop-color="#3560b8"/></linearGradient>
<polygon points="760.3,604.0 903.0,605.5 903.0,616.5 760.3,615.0" fill="#e03848" />
<polygon points="903.0,605.5 954.0,551.6 954.0,562.6 903.0,616.5" fill="#c92c3c" />
<polygon points="812.0,550.6 954.0,551.6 903.0,605.5 760.3,604.0" fill="#f4525c" />
<polygon points="779.0,588.5 878.0,590.0 878.0,595.5 779.0,594.0" fill="#b9c4d6" />
<polygon points="878.0,590.0 930.0,554.0 930.0,559.5 878.0,595.5" fill="#a9b6cc" />
<polygon points="822.0,550.8 930.0,554.0 878.0,590.0 779.0,588.5" fill="#a8cdf2" />
<polygon points="824.0,551.5 912.0,553.5 868.0,585.5 783.0,584.0" fill="#d3e6fa" opacity="0.9"/>
<polygon points="868.0,585.5 912.0,553.5 915.0,555.0 872.0,588.0" fill="#c0d3ea" />
<line x1="781.5" y1="572.5" x2="816.3" y2="545.3" stroke="#b8941c" stroke-width="5.6" stroke-linecap="butt"/>
<line x1="781.0" y1="571.6" x2="815.8" y2="544.4" stroke="#f4d03c" stroke-width="4.2" />
<text x="771.4" y="539.0" font-size="10.5" fill="#f2dc7a" textLength="14.3" lengthAdjust="spacingAndGlyphs">Au</text>
<line x1="780.0" y1="541.0" x2="786.1" y2="545.7" stroke="#f0d050" stroke-width="1.4" /><polygon points="790.5,549.0 784.5,547.9 787.8,543.5" fill="#f0d050"/>
<path d="M807.9,545.5 V529.4 H822 M840.2,529.4 H858.7 V543" fill="none" stroke="#222" stroke-width="1.4" />
<circle cx="831.0" cy="527.0" r="9.0" fill="#fff" stroke="#111" stroke-width="1.5"/>
<line x1="825.3" y1="532.3" x2="832.6" y2="525.5" stroke="#111" stroke-width="1.6" /><polygon points="837.3,521.0 834.6,527.6 830.5,523.3" fill="#111"/>
<polygon points="856.3,543.0 861.1,543.0 859.6,549.0 857.8,549.0" fill="#ddd" stroke="#888" stroke-width="0.5" />
<text x="830.9" y="556.3" font-size="8.8" fill="#333" text-anchor="middle">Al</text>
<text x="814.2" y="569.6" font-size="8.8" fill="#333" textLength="33.3" lengthAdjust="spacingAndGlyphs">(sliding)</text>
<text x="796.8" y="600.9" font-size="9.6" fill="#f4f4fa" textLength="103.2" lengthAdjust="spacingAndGlyphs">Temperature stage: 353 K</text>
<line x1="860.0" y1="561.1" x2="852.5" y2="561.1" stroke="#ee6a6a" stroke-width="1" /><polygon points="848.5,561.1 852.5,559.4 852.5,562.8" fill="#ee6a6a"/>
<line x1="860.0" y1="561.1" x2="867.3" y2="561.1" stroke="#ee6a6a" stroke-width="1" /><polygon points="871.3,561.1 867.3,562.8 867.3,559.4" fill="#ee6a6a"/>
<circle cx="885.0" cy="554.7" r="6.8" fill="none" stroke="#d84a50" stroke-width="1.2" stroke-dasharray="3 2"/>
<rect x="780.9" y="575.4" width="27.0" height="17.6" fill="none" stroke="#d84a50" stroke-width="1.2" stroke-dasharray="3.5 2.2" rx="3"/>
<line x1="781.0" y1="576.0" x2="769.2" y2="560.8" stroke="#d84a50" stroke-width="1.2" stroke-dasharray="3.5 2.2"/><polygon points="765.8,556.5 771.2,559.3 767.2,562.4" fill="#d84a50"/>
<line x1="781.0" y1="592.5" x2="767.3" y2="596.3" stroke="#d84a50" stroke-width="1.2" stroke-dasharray="3.5 2.2"/><polygon points="762.0,597.8 766.6,593.9 768.0,598.7" fill="#d84a50"/>
<rect x="718.5" y="556.5" width="40.5" height="11.5" fill="#e9f1fa" />
<rect x="718.5" y="568.0" width="40.5" height="13.0" fill="#a9d1f3" />
<rect x="718.5" y="581.0" width="40.5" height="11.3" fill="#dadada" />
<rect x="715.2" y="552.5" width="46.7" height="43.0" fill="none" stroke="#d84a50" stroke-width="1.2" stroke-dasharray="3.5 2.2" rx="5"/>
<text x="738.7" y="565.1" font-size="8.8" fill="#222" text-anchor="middle">VO<tspan font-size="6" dy="1.8">2</tspan></text>
<text x="738.7" y="578.1" font-size="8.8" fill="#222" text-anchor="middle">AZO</text>
<text x="738.7" y="590.9" font-size="8.8" fill="#222" text-anchor="middle" textLength="36.0" lengthAdjust="spacingAndGlyphs">Sapphire</text>
<polygon points="760.3,482.0 903.0,483.5 903.0,494.5 760.3,493.0" fill="#2f60bc" />
<polygon points="903.0,483.5 954.0,429.6 954.0,440.6 903.0,494.5" fill="#244fa4" />
<polygon points="812.0,428.6 954.0,429.6 903.0,483.5 760.3,482.0" fill="#4a7fda" />
<polygon points="779.0,466.5 878.0,468.0 878.0,473.5 779.0,472.0" fill="#b9c4d6" />
<polygon points="878.0,468.0 930.0,432.0 930.0,437.5 878.0,473.5" fill="#a9b6cc" />
<polygon points="822.0,428.8 930.0,432.0 878.0,468.0 779.0,466.5" fill="#a8cdf2" />
<polygon points="824.0,429.5 912.0,431.5 868.0,463.5 783.0,462.0" fill="#d3e6fa" opacity="0.9"/>
<polygon points="868.0,463.5 912.0,431.5 915.0,433.0 872.0,466.0" fill="#c0d3ea" />
<line x1="781.5" y1="450.5" x2="816.3" y2="423.3" stroke="#b8941c" stroke-width="5.6" stroke-linecap="butt"/>
<line x1="781.0" y1="449.6" x2="815.8" y2="422.4" stroke="#f4d03c" stroke-width="4.2" />
<text x="771.4" y="417.0" font-size="10.5" fill="#f2dc7a" textLength="14.3" lengthAdjust="spacingAndGlyphs">Au</text>
<line x1="780.0" y1="419.0" x2="786.1" y2="423.7" stroke="#f0d050" stroke-width="1.4" /><polygon points="790.5,427.0 784.5,425.9 787.8,421.5" fill="#f0d050"/>
<path d="M807.9,423.5 V407.4 H822 M840.2,407.4 H858.7 V421" fill="none" stroke="#222" stroke-width="1.4" />
<circle cx="831.0" cy="405.0" r="9.0" fill="#fff" stroke="#111" stroke-width="1.5"/>
<line x1="825.3" y1="410.3" x2="832.6" y2="403.5" stroke="#111" stroke-width="1.6" /><polygon points="837.3,399.0 834.6,405.6 830.5,401.3" fill="#111"/>
<polygon points="856.3,421.0 861.1,421.0 859.6,427.0 857.8,427.0" fill="#ddd" stroke="#888" stroke-width="0.5" />
<text x="830.9" y="434.3" font-size="8.8" fill="#333" text-anchor="middle">Al</text>
<text x="814.2" y="447.6" font-size="8.8" fill="#333" textLength="33.3" lengthAdjust="spacingAndGlyphs">(sliding)</text>
<text x="796.8" y="478.9" font-size="9.6" fill="#f4f4fa" textLength="103.2" lengthAdjust="spacingAndGlyphs">Temperature stage: 296 K</text>
<line x1="860.0" y1="439.1" x2="852.5" y2="439.1" stroke="#ee6a6a" stroke-width="1" /><polygon points="848.5,439.1 852.5,437.4 852.5,440.8" fill="#ee6a6a"/>
<line x1="860.0" y1="439.1" x2="867.3" y2="439.1" stroke="#ee6a6a" stroke-width="1" /><polygon points="871.3,439.1 867.3,440.8 867.3,437.4" fill="#ee6a6a"/>
<circle cx="885.0" cy="432.7" r="6.8" fill="none" stroke="#d84a50" stroke-width="1.2" stroke-dasharray="3 2"/>
<rect x="780.9" y="453.4" width="27.0" height="17.6" fill="none" stroke="#d84a50" stroke-width="1.2" stroke-dasharray="3.5 2.2" rx="3"/>
<line x1="781.0" y1="454.0" x2="769.2" y2="438.8" stroke="#d84a50" stroke-width="1.2" stroke-dasharray="3.5 2.2"/><polygon points="765.8,434.5 771.2,437.3 767.2,440.4" fill="#d84a50"/>
<line x1="781.0" y1="470.5" x2="767.3" y2="474.3" stroke="#d84a50" stroke-width="1.2" stroke-dasharray="3.5 2.2"/><polygon points="762.0,475.8 766.6,471.9 768.0,476.7" fill="#d84a50"/>
<rect x="718.5" y="434.5" width="40.5" height="11.5" fill="#e9f1fa" />
<rect x="718.5" y="446.0" width="40.5" height="13.0" fill="#a9d1f3" />
<rect x="718.5" y="459.0" width="40.5" height="11.3" fill="#dadada" />
<rect x="715.2" y="430.5" width="46.7" height="43.0" fill="none" stroke="#d84a50" stroke-width="1.2" stroke-dasharray="3.5 2.2" rx="5"/>
<text x="738.7" y="443.1" font-size="8.8" fill="#222" text-anchor="middle">VO<tspan font-size="6" dy="1.8">2</tspan></text>
<text x="738.7" y="456.1" font-size="8.8" fill="#222" text-anchor="middle">AZO</text>
<text x="738.7" y="468.9" font-size="8.8" fill="#222" text-anchor="middle" textLength="36.0" lengthAdjust="spacingAndGlyphs">Sapphire</text>
<text x="842.8" y="396.3" font-size="10.5" fill="#6a2e9e" textLength="22.2" lengthAdjust="spacingAndGlyphs">D.C.</text>
<line x1="842.5" y1="399.6" x2="863.5" y2="399.6" stroke="#6a2e9e" stroke-width="1.5" /><polygon points="868.0,399.6 863.5,401.9 863.5,397.4" fill="#6a2e9e"/>
<text x="842.2" y="512.8" font-size="10.5" fill="#6a2e9e" textLength="21.2" lengthAdjust="spacingAndGlyphs">D.C.</text>
<text x="865.0" y="512.8" font-size="10.5" fill="#6a2e9e" textLength="63.5" lengthAdjust="spacingAndGlyphs"><tspan font-style="italic">I</tspan><tspan font-size="6.5" dy="2">353K</tspan><tspan dy="-2"> &gt;&gt; </tspan><tspan font-style="italic">I</tspan><tspan font-size="6.5" dy="2">296K</tspan></text>
<polygon points="842.0,517.3 854.0,517.3 854.0,514.3 862.5,520.0 854.0,525.7 854.0,522.7 842.0,522.7" fill="#6a2e9e" />
<path d="M885,425.5 V404.2 H895" fill="none" stroke="#d84a50" stroke-width="1.2" stroke-dasharray="3.5 2.2"/>
<polygon points="902.0,404.2 894.5,400.6 894.5,407.8" fill="#e8444c" />
<path d="M885,547.5 V531.5 H920" fill="none" stroke="#d84a50" stroke-width="1.2" stroke-dasharray="3.5 2.2"/>
<polygon points="928.0,531.5 920.0,527.6 920.0,535.4" fill="#e8444c" />
<line x1="920.7" y1="376.8" x2="926.7" y2="390.2" stroke="#5aa0a0" stroke-width="0.7" opacity="0.7"/><line x1="926.7" y1="390.2" x2="920.7" y2="403.8" stroke="#5aa0a0" stroke-width="0.7" opacity="0.7"/><line x1="937.6" y1="376.8" x2="943.6" y2="390.2" stroke="#5aa0a0" stroke-width="0.7" opacity="0.7"/><line x1="943.6" y1="390.2" x2="937.6" y2="403.8" stroke="#5aa0a0" stroke-width="0.7" opacity="0.7"/><line x1="920.7" y1="376.8" x2="924.5" y2="383.0" stroke="#4a9494" stroke-width="0.7" opacity="0.8"/><line x1="920.7" y1="376.8" x2="913.2" y2="379.9" stroke="#4a9494" stroke-width="0.7" opacity="0.8"/><line x1="920.7" y1="376.8" x2="913.2" y2="373.5" stroke="#4a9494" stroke-width="0.7" opacity="0.8"/><line x1="920.7" y1="376.8" x2="924.8" y2="370.6" stroke="#4a9494" stroke-width="0.7" opacity="0.8"/><line x1="926.7" y1="390.2" x2="931.2" y2="396.2" stroke="#4a9494" stroke-width="0.7" opacity="0.8"/><line x1="926.7" y1="390.2" x2="919.8" y2="394.3" stroke="#4a9494" stroke-width="0.7" opacity="0.8"/><line x1="926.7" y1="390.2" x2="921.5" y2="384.7" stroke="#4a9494" stroke-width="0.7" opacity="0.8"/><line x1="926.7" y1="390.2" x2="931.9" y2="384.7" stroke="#4a9494" stroke-width="0.7" opacity="0.8"/><line x1="920.7" y1="403.8" x2="926.3" y2="409.1" stroke="#4a9494" stroke-width="0.7" opacity="0.8"/><line x1="920.7" y1="403.8" x2="914.3" y2="408.3" stroke="#4a9494" stroke-width="0.7" opacity="0.8"/><line x1="920.7" y1="403.8" x2="915.1" y2="398.5" stroke="#4a9494" stroke-width="0.7" opacity="0.8"/><line x1="920.7" y1="403.8" x2="925.1" y2="397.8" stroke="#4a9494" stroke-width="0.7" opacity="0.8"/><line x1="937.6" y1="376.8" x2="943.9" y2="381.5" stroke="#4a9494" stroke-width="0.7" opacity="0.8"/><line x1="937.6" y1="376.8" x2="932.0" y2="382.1" stroke="#4a9494" stroke-width="0.7" opacity="0.8"/><line x1="937.6" y1="376.8" x2="932.6" y2="371.1" stroke="#4a9494" stroke-width="0.7" opacity="0.8"/><line x1="937.6" y1="376.8" x2="945.3" y2="373.8" stroke="#4a9494" stroke-width="0.7" opacity="0.8"/><line x1="943.6" y1="390.2" x2="947.4" y2="396.5" stroke="#4a9494" stroke-width="0.7" opacity="0.8"/><line x1="943.6" y1="390.2" x2="937.4" y2="395.0" stroke="#4a9494" stroke-width="0.7" opacity="0.8"/><line x1="943.6" y1="390.2" x2="937.3" y2="385.5" stroke="#4a9494" stroke-width="0.7" opacity="0.8"/><line x1="943.6" y1="390.2" x2="948.5" y2="384.6" stroke="#4a9494" stroke-width="0.7" opacity="0.8"/><line x1="937.6" y1="403.8" x2="945.2" y2="406.9" stroke="#4a9494" stroke-width="0.7" opacity="0.8"/><line x1="937.6" y1="403.8" x2="933.8" y2="410.0" stroke="#4a9494" stroke-width="0.7" opacity="0.8"/><line x1="937.6" y1="403.8" x2="931.4" y2="398.9" stroke="#4a9494" stroke-width="0.7" opacity="0.8"/><line x1="937.6" y1="403.8" x2="942.8" y2="398.2" stroke="#4a9494" stroke-width="0.7" opacity="0.8"/><circle cx="924.5" cy="383.0" r="2.1" fill="#d2d24c" stroke="#a6a630" stroke-width="0.5" opacity="0.92"/><circle cx="913.2" cy="379.9" r="2.1" fill="#d2d24c" stroke="#a6a630" stroke-width="0.5" opacity="0.92"/><circle cx="913.2" cy="373.5" r="2.1" fill="#d2d24c" stroke="#a6a630" stroke-width="0.5" opacity="0.92"/><circle cx="924.8" cy="370.6" r="2.1" fill="#d2d24c" stroke="#a6a630" stroke-width="0.5" opacity="0.92"/><circle cx="931.2" cy="396.2" r="2.1" fill="#d2d24c" stroke="#a6a630" stroke-width="0.5" opacity="0.92"/><circle cx="919.8" cy="394.3" r="2.1" fill="#d2d24c" stroke="#a6a630" stroke-width="0.5" opacity="0.92"/><circle cx="921.5" cy="384.7" r="2.1" fill="#d2d24c" stroke="#a6a630" stroke-width="0.5" opacity="0.92"/><circle cx="931.9" cy="384.7" r="2.1" fill="#d2d24c" stroke="#a6a630" stroke-width="0.5" opacity="0.92"/><circle cx="926.3" cy="409.1" r="2.1" fill="#d2d24c" stroke="#a6a630" stroke-width="0.5" opacity="0.92"/><circle cx="914.3" cy="408.3" r="2.1" fill="#d2d24c" stroke="#a6a630" stroke-width="0.5" opacity="0.92"/><circle cx="915.1" cy="398.5" r="2.1" fill="#d2d24c" stroke="#a6a630" stroke-width="0.5" opacity="0.92"/><circle cx="925.1" cy="397.8" r="2.1" fill="#d2d24c" stroke="#a6a630" stroke-width="0.5" opacity="0.92"/><circle cx="943.9" cy="381.5" r="2.1" fill="#d2d24c" stroke="#a6a630" stroke-width="0.5" opacity="0.92"/><circle cx="932.0" cy="382.1" r="2.1" fill="#d2d24c" stroke="#a6a630" stroke-width="0.5" opacity="0.92"/><circle cx="932.6" cy="371.1" r="2.1" fill="#d2d24c" stroke="#a6a630" stroke-width="0.5" opacity="0.92"/><circle cx="945.3" cy="373.8" r="2.1" fill="#d2d24c" stroke="#a6a630" stroke-width="0.5" opacity="0.92"/><circle cx="947.4" cy="396.5" r="2.1" fill="#d2d24c" stroke="#a6a630" stroke-width="0.5" opacity="0.92"/><circle cx="937.4" cy="395.0" r="2.1" fill="#d2d24c" stroke="#a6a630" stroke-width="0.5" opacity="0.92"/><circle cx="937.3" cy="385.5" r="2.1" fill="#d2d24c" stroke="#a6a630" stroke-width="0.5" opacity="0.92"/><circle cx="948.5" cy="384.6" r="2.1" fill="#d2d24c" stroke="#a6a630" stroke-width="0.5" opacity="0.92"/><circle cx="945.2" cy="406.9" r="2.1" fill="#d2d24c" stroke="#a6a630" stroke-width="0.5" opacity="0.92"/><circle cx="933.8" cy="410.0" r="2.1" fill="#d2d24c" stroke="#a6a630" stroke-width="0.5" opacity="0.92"/><circle cx="931.4" cy="398.9" r="2.1" fill="#d2d24c" stroke="#a6a630" stroke-width="0.5" opacity="0.92"/><circle cx="942.8" cy="398.2" r="2.1" fill="#d2d24c" stroke="#a6a630" stroke-width="0.5" opacity="0.92"/><circle cx="920.7" cy="376.8" r="1.7" fill="#1f7a80" /><circle cx="926.7" cy="390.2" r="1.7" fill="#1f7a80" /><circle cx="920.7" cy="403.8" r="1.7" fill="#1f7a80" /><circle cx="937.6" cy="376.8" r="1.7" fill="#1f7a80" /><circle cx="943.6" cy="390.2" r="1.7" fill="#1f7a80" /><circle cx="937.6" cy="403.8" r="1.7" fill="#1f7a80" />
<rect x="906.3" y="361.5" width="52.2" height="56.7" fill="none" stroke="#d84a50" stroke-width="1.2" stroke-dasharray="3.5 2.2" rx="7"/>
<rect x="940.0" y="486.5" width="29.5" height="46.5" fill="#dfe2e4" opacity="0.8"/><rect x="971.5" y="486.5" width="29.5" height="46.5" fill="#dfe2e4" opacity="0.8"/><line x1="946.1" y1="494.9" x2="952.1" y2="509.8" stroke="#5aa0a0" stroke-width="0.7" opacity="0.7"/><line x1="952.1" y1="509.8" x2="946.1" y2="524.6" stroke="#5aa0a0" stroke-width="0.7" opacity="0.7"/><line x1="960.4" y1="494.9" x2="966.4" y2="509.8" stroke="#5aa0a0" stroke-width="0.7" opacity="0.7"/><line x1="966.4" y1="509.8" x2="960.4" y2="524.6" stroke="#5aa0a0" stroke-width="0.7" opacity="0.7"/><line x1="974.6" y1="494.9" x2="980.6" y2="509.8" stroke="#5aa0a0" stroke-width="0.7" opacity="0.7"/><line x1="980.6" y1="509.8" x2="974.6" y2="524.6" stroke="#5aa0a0" stroke-width="0.7" opacity="0.7"/><line x1="988.9" y1="494.9" x2="994.9" y2="509.8" stroke="#5aa0a0" stroke-width="0.7" opacity="0.7"/><line x1="994.9" y1="509.8" x2="988.9" y2="524.6" stroke="#5aa0a0" stroke-width="0.7" opacity="0.7"/><line x1="946.1" y1="494.9" x2="953.1" y2="498.9" stroke="#4a9494" stroke-width="0.7" opacity="0.8"/><line x1="946.1" y1="494.9" x2="942.0" y2="501.0" stroke="#4a9494" stroke-width="0.7" opacity="0.8"/><line x1="946.1" y1="494.9" x2="939.7" y2="490.3" stroke="#4a9494" stroke-width="0.7" opacity="0.8"/><line x1="946.1" y1="494.9" x2="950.5" y2="488.9" stroke="#4a9494" stroke-width="0.7" opacity="0.8"/><line x1="952.1" y1="509.8" x2="959.7" y2="513.0" stroke="#4a9494" stroke-width="0.7" opacity="0.8"/><line x1="952.1" y1="509.8" x2="946.5" y2="515.0" stroke="#4a9494" stroke-width="0.7" opacity="0.8"/><line x1="952.1" y1="509.8" x2="948.1" y2="503.6" stroke="#4a9494" stroke-width="0.7" opacity="0.8"/><line x1="952.1" y1="509.8" x2="959.3" y2="505.9" stroke="#4a9494" stroke-width="0.7" opacity="0.8"/><line x1="946.1" y1="524.6" x2="950.9" y2="530.4" stroke="#4a9494" stroke-width="0.7" opacity="0.8"/><line x1="946.1" y1="524.6" x2="941.4" y2="530.4" stroke="#4a9494" stroke-width="0.7" opacity="0.8"/><line x1="946.1" y1="524.6" x2="940.3" y2="519.5" stroke="#4a9494" stroke-width="0.7" opacity="0.8"/><line x1="946.1" y1="524.6" x2="951.1" y2="518.9" stroke="#4a9494" stroke-width="0.7" opacity="0.8"/><line x1="960.4" y1="494.9" x2="967.6" y2="498.6" stroke="#4a9494" stroke-width="0.7" opacity="0.8"/><line x1="960.4" y1="494.9" x2="956.2" y2="501.0" stroke="#4a9494" stroke-width="0.7" opacity="0.8"/><line x1="960.4" y1="494.9" x2="953.3" y2="491.0" stroke="#4a9494" stroke-width="0.7" opacity="0.8"/><line x1="960.4" y1="494.9" x2="967.9" y2="491.6" stroke="#4a9494" stroke-width="0.7" opacity="0.8"/><line x1="966.4" y1="509.8" x2="970.9" y2="515.7" stroke="#4a9494" stroke-width="0.7" opacity="0.8"/><line x1="966.4" y1="509.8" x2="959.2" y2="513.5" stroke="#4a9494" stroke-width="0.7" opacity="0.8"/><line x1="966.4" y1="509.8" x2="961.8" y2="503.9" stroke="#4a9494" stroke-width="0.7" opacity="0.8"/><line x1="966.4" y1="509.8" x2="971.0" y2="503.9" stroke="#4a9494" stroke-width="0.7" opacity="0.8"/><line x1="960.4" y1="524.6" x2="967.1" y2="528.8" stroke="#4a9494" stroke-width="0.7" opacity="0.8"/><line x1="960.4" y1="524.6" x2="953.9" y2="529.1" stroke="#4a9494" stroke-width="0.7" opacity="0.8"/><line x1="960.4" y1="524.6" x2="955.4" y2="518.9" stroke="#4a9494" stroke-width="0.7" opacity="0.8"/><line x1="960.4" y1="524.6" x2="967.7" y2="521.0" stroke="#4a9494" stroke-width="0.7" opacity="0.8"/><line x1="974.6" y1="494.9" x2="978.8" y2="501.0" stroke="#4a9494" stroke-width="0.7" opacity="0.8"/><line x1="974.6" y1="494.9" x2="970.6" y2="501.1" stroke="#4a9494" stroke-width="0.7" opacity="0.8"/><line x1="974.6" y1="494.9" x2="969.1" y2="489.6" stroke="#4a9494" stroke-width="0.7" opacity="0.8"/><line x1="974.6" y1="494.9" x2="981.3" y2="490.6" stroke="#4a9494" stroke-width="0.7" opacity="0.8"/><line x1="980.6" y1="509.8" x2="986.6" y2="514.7" stroke="#4a9494" stroke-width="0.7" opacity="0.8"/><line x1="980.6" y1="509.8" x2="976.1" y2="515.7" stroke="#4a9494" stroke-width="0.7" opacity="0.8"/><line x1="980.6" y1="509.8" x2="974.5" y2="504.9" stroke="#4a9494" stroke-width="0.7" opacity="0.8"/><line x1="980.6" y1="509.8" x2="984.7" y2="503.6" stroke="#4a9494" stroke-width="0.7" opacity="0.8"/><line x1="974.6" y1="524.6" x2="978.6" y2="530.8" stroke="#4a9494" stroke-width="0.7" opacity="0.8"/><line x1="974.6" y1="524.6" x2="967.3" y2="528.1" stroke="#4a9494" stroke-width="0.7" opacity="0.8"/><line x1="974.6" y1="524.6" x2="968.8" y2="519.5" stroke="#4a9494" stroke-width="0.7" opacity="0.8"/><line x1="974.6" y1="524.6" x2="979.7" y2="519.0" stroke="#4a9494" stroke-width="0.7" opacity="0.8"/><line x1="988.9" y1="494.9" x2="992.9" y2="501.1" stroke="#4a9494" stroke-width="0.7" opacity="0.8"/><line x1="988.9" y1="494.9" x2="982.6" y2="499.6" stroke="#4a9494" stroke-width="0.7" opacity="0.8"/><line x1="988.9" y1="494.9" x2="984.7" y2="488.8" stroke="#4a9494" stroke-width="0.7" opacity="0.8"/><line x1="988.9" y1="494.9" x2="996.2" y2="491.3" stroke="#4a9494" stroke-width="0.7" opacity="0.8"/><line x1="994.9" y1="509.8" x2="1000.9" y2="514.7" stroke="#4a9494" stroke-width="0.7" opacity="0.8"/><line x1="994.9" y1="509.8" x2="989.2" y2="515.0" stroke="#4a9494" stroke-width="0.7" opacity="0.8"/><line x1="994.9" y1="509.8" x2="989.3" y2="504.5" stroke="#4a9494" stroke-width="0.7" opacity="0.8"/><line x1="994.9" y1="509.8" x2="1000.6" y2="504.6" stroke="#4a9494" stroke-width="0.7" opacity="0.8"/><line x1="988.9" y1="524.6" x2="996.1" y2="528.2" stroke="#4a9494" stroke-width="0.7" opacity="0.8"/><line x1="988.9" y1="524.6" x2="983.7" y2="530.2" stroke="#4a9494" stroke-width="0.7" opacity="0.8"/><line x1="988.9" y1="524.6" x2="984.3" y2="518.7" stroke="#4a9494" stroke-width="0.7" opacity="0.8"/><line x1="988.9" y1="524.6" x2="992.7" y2="518.3" stroke="#4a9494" stroke-width="0.7" opacity="0.8"/><circle cx="953.1" cy="498.9" r="2.1" fill="#d2d24c" stroke="#a6a630" stroke-width="0.5" opacity="0.92"/><circle cx="942.0" cy="501.0" r="2.1" fill="#d2d24c" stroke="#a6a630" stroke-width="0.5" opacity="0.92"/><circle cx="939.7" cy="490.3" r="2.1" fill="#d2d24c" stroke="#a6a630" stroke-width="0.5" opacity="0.92"/><circle cx="950.5" cy="488.9" r="2.1" fill="#d2d24c" stroke="#a6a630" stroke-width="0.5" opacity="0.92"/><circle cx="959.7" cy="513.0" r="2.1" fill="#d2d24c" stroke="#a6a630" stroke-width="0.5" opacity="0.92"/><circle cx="946.5" cy="515.0" r="2.1" fill="#d2d24c" stroke="#a6a630" stroke-width="0.5" opacity="0.92"/><circle cx="948.1" cy="503.6" r="2.1" fill="#d2d24c" stroke="#a6a630" stroke-width="0.5" opacity="0.92"/><circle cx="959.3" cy="505.9" r="2.1" fill="#d2d24c" stroke="#a6a630" stroke-width="0.5" opacity="0.92"/><circle cx="950.9" cy="530.4" r="2.1" fill="#d2d24c" stroke="#a6a630" stroke-width="0.5" opacity="0.92"/><circle cx="941.4" cy="530.4" r="2.1" fill="#d2d24c" stroke="#a6a630" stroke-width="0.5" opacity="0.92"/><circle cx="940.3" cy="519.5" r="2.1" fill="#d2d24c" stroke="#a6a630" stroke-width="0.5" opacity="0.92"/><circle cx="951.1" cy="518.9" r="2.1" fill="#d2d24c" stroke="#a6a630" stroke-width="0.5" opacity="0.92"/><circle cx="967.6" cy="498.6" r="2.1" fill="#d2d24c" stroke="#a6a630" stroke-width="0.5" opacity="0.92"/><circle cx="956.2" cy="501.0" r="2.1" fill="#d2d24c" stroke="#a6a630" stroke-width="0.5" opacity="0.92"/><circle cx="953.3" cy="491.0" r="2.1" fill="#d2d24c" stroke="#a6a630" stroke-width="0.5" opacity="0.92"/><circle cx="967.9" cy="491.6" r="2.1" fill="#d2d24c" stroke="#a6a630" stroke-width="0.5" opacity="0.92"/><circle cx="970.9" cy="515.7" r="2.1" fill="#d2d24c" stroke="#a6a630" stroke-width="0.5" opacity="0.92"/><circle cx="959.2" cy="513.5" r="2.1" fill="#d2d24c" stroke="#a6a630" stroke-width="0.5" opacity="0.92"/><circle cx="961.8" cy="503.9" r="2.1" fill="#d2d24c" stroke="#a6a630" stroke-width="0.5" opacity="0.92"/><circle cx="971.0" cy="503.9" r="2.1" fill="#d2d24c" stroke="#a6a630" stroke-width="0.5" opacity="0.92"/><circle cx="967.1" cy="528.8" r="2.1" fill="#d2d24c" stroke="#a6a630" stroke-width="0.5" opacity="0.92"/><circle cx="953.9" cy="529.1" r="2.1" fill="#d2d24c" stroke="#a6a630" stroke-width="0.5" opacity="0.92"/><circle cx="955.4" cy="518.9" r="2.1" fill="#d2d24c" stroke="#a6a630" stroke-width="0.5" opacity="0.92"/><circle cx="967.7" cy="521.0" r="2.1" fill="#d2d24c" stroke="#a6a630" stroke-width="0.5" opacity="0.92"/><circle cx="978.8" cy="501.0" r="2.1" fill="#d2d24c" stroke="#a6a630" stroke-width="0.5" opacity="0.92"/><circle cx="970.6" cy="501.1" r="2.1" fill="#d2d24c" stroke="#a6a630" stroke-width="0.5" opacity="0.92"/><circle cx="969.1" cy="489.6" r="2.1" fill="#d2d24c" stroke="#a6a630" stroke-width="0.5" opacity="0.92"/><circle cx="981.3" cy="490.6" r="2.1" fill="#d2d24c" stroke="#a6a630" stroke-width="0.5" opacity="0.92"/><circle cx="986.6" cy="514.7" r="2.1" fill="#d2d24c" stroke="#a6a630" stroke-width="0.5" opacity="0.92"/><circle cx="976.1" cy="515.7" r="2.1" fill="#d2d24c" stroke="#a6a630" stroke-width="0.5" opacity="0.92"/><circle cx="974.5" cy="504.9" r="2.1" fill="#d2d24c" stroke="#a6a630" stroke-width="0.5" opacity="0.92"/><circle cx="984.7" cy="503.6" r="2.1" fill="#d2d24c" stroke="#a6a630" stroke-width="0.5" opacity="0.92"/><circle cx="978.6" cy="530.8" r="2.1" fill="#d2d24c" stroke="#a6a630" stroke-width="0.5" opacity="0.92"/><circle cx="967.3" cy="528.1" r="2.1" fill="#d2d24c" stroke="#a6a630" stroke-width="0.5" opacity="0.92"/><circle cx="968.8" cy="519.5" r="2.1" fill="#d2d24c" stroke="#a6a630" stroke-width="0.5" opacity="0.92"/><circle cx="979.7" cy="519.0" r="2.1" fill="#d2d24c" stroke="#a6a630" stroke-width="0.5" opacity="0.92"/><circle cx="992.9" cy="501.1" r="2.1" fill="#d2d24c" stroke="#a6a630" stroke-width="0.5" opacity="0.92"/><circle cx="982.6" cy="499.6" r="2.1" fill="#d2d24c" stroke="#a6a630" stroke-width="0.5" opacity="0.92"/><circle cx="984.7" cy="488.8" r="2.1" fill="#d2d24c" stroke="#a6a630" stroke-width="0.5" opacity="0.92"/><circle cx="996.2" cy="491.3" r="2.1" fill="#d2d24c" stroke="#a6a630" stroke-width="0.5" opacity="0.92"/><circle cx="1000.9" cy="514.7" r="2.1" fill="#d2d24c" stroke="#a6a630" stroke-width="0.5" opacity="0.92"/><circle cx="989.2" cy="515.0" r="2.1" fill="#d2d24c" stroke="#a6a630" stroke-width="0.5" opacity="0.92"/><circle cx="989.3" cy="504.5" r="2.1" fill="#d2d24c" stroke="#a6a630" stroke-width="0.5" opacity="0.92"/><circle cx="1000.6" cy="504.6" r="2.1" fill="#d2d24c" stroke="#a6a630" stroke-width="0.5" opacity="0.92"/><circle cx="996.1" cy="528.2" r="2.1" fill="#d2d24c" stroke="#a6a630" stroke-width="0.5" opacity="0.92"/><circle cx="983.7" cy="530.2" r="2.1" fill="#d2d24c" stroke="#a6a630" stroke-width="0.5" opacity="0.92"/><circle cx="984.3" cy="518.7" r="2.1" fill="#d2d24c" stroke="#a6a630" stroke-width="0.5" opacity="0.92"/><circle cx="992.7" cy="518.3" r="2.1" fill="#d2d24c" stroke="#a6a630" stroke-width="0.5" opacity="0.92"/><circle cx="946.1" cy="494.9" r="1.7" fill="#1f7a80" /><circle cx="952.1" cy="509.8" r="1.7" fill="#1f7a80" /><circle cx="946.1" cy="524.6" r="1.7" fill="#1f7a80" /><circle cx="960.4" cy="494.9" r="1.7" fill="#1f7a80" /><circle cx="966.4" cy="509.8" r="1.7" fill="#1f7a80" /><circle cx="960.4" cy="524.6" r="1.7" fill="#1f7a80" /><circle cx="974.6" cy="494.9" r="1.7" fill="#1f7a80" /><circle cx="980.6" cy="509.8" r="1.7" fill="#1f7a80" /><circle cx="974.6" cy="524.6" r="1.7" fill="#1f7a80" /><circle cx="988.9" cy="494.9" r="1.7" fill="#1f7a80" /><circle cx="994.9" cy="509.8" r="1.7" fill="#1f7a80" /><circle cx="988.9" cy="524.6" r="1.7" fill="#1f7a80" />
<rect x="932.3" y="479.0" width="75.9" height="61.5" fill="none" stroke="#d84a50" stroke-width="1.2" stroke-dasharray="3.5 2.2" rx="7"/>
<text x="961.8" y="392.6" font-size="11" fill="#222" textLength="41.2" lengthAdjust="spacingAndGlyphs">VO<tspan font-size="7" dy="2">2</tspan><tspan dy="-2">-M1</tspan></text>
<text x="953.8" y="552.6" font-size="11.5" fill="#222" textLength="54.0" lengthAdjust="spacingAndGlyphs">VO<tspan font-size="7" dy="2">2</tspan><tspan dy="-2">-Rutile</tspan></text>
<circle cx="962.7" cy="570.0" r="3.1" fill="#e4e43a" stroke="#a8a820" stroke-width="0.7"/>
<circle cx="962.7" cy="583.6" r="2.1" fill="#1f7a80" />
<text x="974.5" y="573.6" font-size="11.5" fill="#222">– O<tspan font-size="7" dy="-4">2-</tspan></text>
<text x="974.5" y="587.4" font-size="11.5" fill="#222">– V<tspan font-size="7" dy="-4">4+</tspan></text>
<path d="M963.5,410.5 C990,420 996,446 986.5,461" fill="none" stroke="url(#gArcR)" stroke-width="3.8" />
<polygon points="981.0,475.0 975.5,459.5 994.0,466.5" fill="#ee4a5e" />
<path d="M762,544.5 C738,536 734,512 747,497" fill="none" stroke="url(#gArcL)" stroke-width="3.6" />
<polygon points="756.0,487.0 741.5,492.5 752.5,502.5" fill="#3560b8" />
<!-- s_e -->
<rect x="50.7" y="648.0" width="5.4" height="127.0" fill="#e3e7e9" rx="2"/>
<rect x="62.9" y="648.0" width="5.4" height="127.0" fill="#e3e7e9" rx="2"/>
<rect x="75.4" y="648.0" width="5.4" height="127.0" fill="#e3e7e9" rx="2"/>
<rect x="87.9" y="648.0" width="5.4" height="127.0" fill="#e3e7e9" rx="2"/>
<rect x="100.4" y="648.0" width="5.4" height="127.0" fill="#e3e7e9" rx="2"/>
<rect x="113.1" y="648.0" width="5.4" height="127.0" fill="#e3e7e9" rx="2"/>
<rect x="125.8" y="648.0" width="5.4" height="127.0" fill="#e3e7e9" rx="2"/>
<rect x="138.5" y="648.0" width="5.4" height="127.0" fill="#e3e7e9" rx="2"/>
<rect x="151.2" y="648.0" width="5.4" height="127.0" fill="#e3e7e9" rx="2"/>
<rect x="39.6" y="657.9" width="126.9" height="5.6" fill="#b4e0ec" rx="1.5"/>
<rect x="39.6" y="670.6" width="126.9" height="5.6" fill="#b4e0ec" rx="1.5"/>
<rect x="39.6" y="683.3" width="126.9" height="5.6" fill="#b4e0ec" rx="1.5"/>
<rect x="39.6" y="695.3" width="126.9" height="5.6" fill="#b4e0ec" rx="1.5"/>
<rect x="39.6" y="708.0" width="126.9" height="5.6" fill="#b4e0ec" rx="1.5"/>
<rect x="39.6" y="720.3" width="126.9" height="5.6" fill="#b4e0ec" rx="1.5"/>
<rect x="39.6" y="733.0" width="126.9" height="5.6" fill="#b4e0ec" rx="1.5"/>
<rect x="39.6" y="745.7" width="126.9" height="5.6" fill="#b4e0ec" rx="1.5"/>
<rect x="39.6" y="758.4" width="126.9" height="5.6" fill="#b4e0ec" rx="1.5"/>
<rect x="50.7" y="656.5" width="5.4" height="8.4" fill="#e3e7e9" />
<rect x="75.4" y="656.5" width="5.4" height="8.4" fill="#e3e7e9" />
<rect x="100.4" y="656.5" width="5.4" height="8.4" fill="#e3e7e9" />
<rect x="125.8" y="656.5" width="5.4" height="8.4" fill="#e3e7e9" />
<rect x="151.2" y="656.5" width="5.4" height="8.4" fill="#e3e7e9" />
<rect x="62.9" y="669.2" width="5.4" height="8.4" fill="#e3e7e9" />
<rect x="87.9" y="669.2" width="5.4" height="8.4" fill="#e3e7e9" />
<rect x="113.1" y="669.2" width="5.4" height="8.4" fill="#e3e7e9" />
<rect x="138.5" y="669.2" width="5.4" height="8.4" fill="#e3e7e9" />
<rect x="50.7" y="681.9" width="5.4" height="8.4" fill="#e3e7e9" />
<rect x="75.4" y="681.9" width="5.4" height="8.4" fill="#e3e7e9" />
<rect x="100.4" y="681.9" width="5.4" height="8.4" fill="#e3e7e9" />
<rect x="125.8" y="681.9" width="5.4" height="8.4" fill="#e3e7e9" />
<rect x="151.2" y="681.9" width="5.4" height="8.4" fill="#e3e7e9" />
<rect x="62.9" y="693.9" width="5.4" height="8.4" fill="#e3e7e9" />
<rect x="87.9" y="693.9" width="5.4" height="8.4" fill="#e3e7e9" />
<rect x="113.1" y="693.9" width="5.4" height="8.4" fill="#e3e7e9" />
<rect x="138.5" y="693.9" width="5.4" height="8.4" fill="#e3e7e9" />
<rect x="50.7" y="706.6" width="5.4" height="8.4" fill="#e3e7e9" />
<rect x="75.4" y="706.6" width="5.4" height="8.4" fill="#e3e7e9" />
<rect x="100.4" y="706.6" width="5.4" height="8.4" fill="#e3e7e9" />
<rect x="125.8" y="706.6" width="5.4" height="8.4" fill="#e3e7e9" />
<rect x="151.2" y="706.6" width="5.4" height="8.4" fill="#e3e7e9" />
<rect x="62.9" y="718.9" width="5.4" height="8.4" fill="#e3e7e9" />
<rect x="87.9" y="718.9" width="5.4" height="8.4" fill="#e3e7e9" />
<rect x="113.1" y="718.9" width="5.4" height="8.4" fill="#e3e7e9" />
<rect x="138.5" y="718.9" width="5.4" height="8.4" fill="#e3e7e9" />
<rect x="50.7" y="731.6" width="5.4" height="8.4" fill="#e3e7e9" />
<rect x="75.4" y="731.6" width="5.4" height="8.4" fill="#e3e7e9" />
<rect x="100.4" y="731.6" width="5.4" height="8.4" fill="#e3e7e9" />
<rect x="125.8" y="731.6" width="5.4" height="8.4" fill="#e3e7e9" />
<rect x="151.2" y="731.6" width="5.4" height="8.4" fill="#e3e7e9" />
<rect x="62.9" y="744.3" width="5.4" height="8.4" fill="#e3e7e9" />
<rect x="87.9" y="744.3" width="5.4" height="8.4" fill="#e3e7e9" />
<rect x="113.1" y="744.3" width="5.4" height="8.4" fill="#e3e7e9" />
<rect x="138.5" y="744.3" width="5.4" height="8.4" fill="#e3e7e9" />
<rect x="50.7" y="757.0" width="5.4" height="8.4" fill="#e3e7e9" />
<rect x="75.4" y="757.0" width="5.4" height="8.4" fill="#e3e7e9" />
<rect x="100.4" y="757.0" width="5.4" height="8.4" fill="#e3e7e9" />
<rect x="125.8" y="757.0" width="5.4" height="8.4" fill="#e3e7e9" />
<rect x="151.2" y="757.0" width="5.4" height="8.4" fill="#e3e7e9" />
<text x="31.2" y="692.3" font-size="23.5" font-weight="bold" fill="#777" textLength="28.8" lengthAdjust="spacingAndGlyphs" stroke="#777" stroke-width="1.1" stroke-linejoin="round" filter="url(#lblsh)">(e)</text><text x="31.2" y="692.3" font-size="23.5" font-weight="bold" fill="#fff" textLength="28.8" lengthAdjust="spacingAndGlyphs" stroke="#fff" stroke-width="0.3">(e)</text>
<linearGradient id="gFib" x1="0" y1="0" x2="1" y2="0"><stop offset="0" stop-color="#d2d2d2"/><stop offset="0.5" stop-color="#ececec"/><stop offset="1" stop-color="#cfcfcf"/></linearGradient>
<line x1="55.5" y1="768.0" x2="55.5" y2="771.2" stroke="#dcdcdc" stroke-width="3.0" stroke-linecap="round"/>
<line x1="55.5" y1="771.2" x2="55.4" y2="774.4" stroke="#dcdcdc" stroke-width="3.7" stroke-linecap="round"/>
<line x1="55.4" y1="774.4" x2="55.1" y2="777.6" stroke="#dcdcdc" stroke-width="4.4" stroke-linecap="round"/>
<line x1="55.1" y1="777.6" x2="54.8" y2="780.7" stroke="#dcdcdc" stroke-width="5.1" stroke-linecap="round"/>
<line x1="54.8" y1="780.7" x2="54.4" y2="783.9" stroke="#dcdcdc" stroke-width="5.8" stroke-linecap="round"/>
<line x1="54.4" y1="783.9" x2="53.9" y2="787.0" stroke="#dcdcdc" stroke-width="6.5" stroke-linecap="round"/>
<line x1="53.9" y1="787.0" x2="53.3" y2="790.2" stroke="#dcdcdc" stroke-width="7.3" stroke-linecap="round"/>
<line x1="53.3" y1="790.2" x2="52.7" y2="793.4" stroke="#dcdcdc" stroke-width="8.0" stroke-linecap="round"/>
<line x1="52.7" y1="793.4" x2="52.0" y2="796.5" stroke="#dcdcdc" stroke-width="8.7" stroke-linecap="round"/>
<line x1="52.0" y1="796.5" x2="51.3" y2="799.7" stroke="#dcdcdc" stroke-width="9.4" stroke-linecap="round"/>
<line x1="51.3" y1="799.7" x2="50.5" y2="802.9" stroke="#dcdcdc" stroke-width="10.1" stroke-linecap="round"/>
<line x1="50.5" y1="802.9" x2="49.7" y2="806.1" stroke="#dcdcdc" stroke-width="10.8" stroke-linecap="round"/>
<line x1="49.7" y1="806.1" x2="48.9" y2="809.3" stroke="#dcdcdc" stroke-width="11.5" stroke-linecap="round"/>
<line x1="48.9" y1="809.3" x2="48.1" y2="812.5" stroke="#dcdcdc" stroke-width="12.2" stroke-linecap="round"/>
<line x1="48.1" y1="812.5" x2="47.3" y2="815.8" stroke="#dcdcdc" stroke-width="12.9" stroke-linecap="round"/>
<line x1="47.3" y1="815.8" x2="46.5" y2="819.0" stroke="#dcdcdc" stroke-width="13.6" stroke-linecap="round"/>
<line x1="46.5" y1="819.0" x2="45.7" y2="822.3" stroke="#dcdcdc" stroke-width="14.3" stroke-linecap="round"/>
<line x1="45.7" y1="822.3" x2="45.0" y2="825.6" stroke="#dcdcdc" stroke-width="15.1" stroke-linecap="round"/>
<line x1="45.0" y1="825.6" x2="44.2" y2="828.9" stroke="#dcdcdc" stroke-width="15.8" stroke-linecap="round"/>
<line x1="44.2" y1="828.9" x2="43.5" y2="832.3" stroke="#dcdcdc" stroke-width="16.5" stroke-linecap="round"/>
<line x1="43.5" y1="832.3" x2="42.9" y2="835.7" stroke="#dcdcdc" stroke-width="17.2" stroke-linecap="round"/>
<line x1="42.9" y1="835.7" x2="42.3" y2="839.1" stroke="#dcdcdc" stroke-width="17.5" stroke-linecap="round"/>
<line x1="42.3" y1="839.1" x2="41.8" y2="842.6" stroke="#dcdcdc" stroke-width="17.5" stroke-linecap="round"/>
<line x1="41.8" y1="842.6" x2="41.4" y2="846.1" stroke="#dcdcdc" stroke-width="17.5" stroke-linecap="round"/>
<line x1="41.4" y1="846.1" x2="41.1" y2="849.6" stroke="#dcdcdc" stroke-width="17.5" stroke-linecap="round"/>
<line x1="41.1" y1="849.6" x2="40.8" y2="853.2" stroke="#dcdcdc" stroke-width="17.5" stroke-linecap="round"/>
<line x1="40.8" y1="853.2" x2="40.7" y2="856.8" stroke="#dcdcdc" stroke-width="17.5" stroke-linecap="round"/>
<line x1="40.7" y1="856.8" x2="40.7" y2="860.5" stroke="#dcdcdc" stroke-width="17.5" stroke-linecap="round"/>
<line x1="40.7" y1="860.5" x2="40.8" y2="864.2" stroke="#dcdcdc" stroke-width="17.5" stroke-linecap="round"/>
<line x1="40.8" y1="864.2" x2="41.0" y2="868.0" stroke="#dcdcdc" stroke-width="17.5" stroke-linecap="round"/>
<line x1="41.0" y1="868.0" x2="41.5" y2="872.2" stroke="#dcdcdc" stroke-width="17.5" stroke-linecap="round"/>
<line x1="41.5" y1="872.2" x2="42.3" y2="876.2" stroke="#dcdcdc" stroke-width="17.5" stroke-linecap="round"/>
<line x1="42.3" y1="876.2" x2="43.3" y2="879.9" stroke="#dcdcdc" stroke-width="17.5" stroke-linecap="round"/>
<line x1="43.3" y1="879.9" x2="44.5" y2="883.3" stroke="#dcdcdc" stroke-width="17.5" stroke-linecap="round"/>
<line x1="44.5" y1="883.3" x2="45.9" y2="886.5" stroke="#dcdcdc" stroke-width="17.5" stroke-linecap="round"/>
<line x1="45.9" y1="886.5" x2="47.4" y2="889.5" stroke="#dcdcdc" stroke-width="17.5" stroke-linecap="round"/>
<line x1="47.4" y1="889.5" x2="49.0" y2="892.3" stroke="#dcdcdc" stroke-width="17.5" stroke-linecap="round"/>
<line x1="49.0" y1="892.3" x2="50.8" y2="894.9" stroke="#dcdcdc" stroke-width="17.5" stroke-linecap="round"/>
<line x1="50.8" y1="894.9" x2="52.6" y2="897.4" stroke="#dcdcdc" stroke-width="17.5" stroke-linecap="round"/>
<line x1="52.6" y1="897.4" x2="54.5" y2="899.9" stroke="#dcdcdc" stroke-width="17.5" stroke-linecap="round"/>
<line x1="54.5" y1="899.9" x2="56.4" y2="902.2" stroke="#dcdcdc" stroke-width="17.5" stroke-linecap="round"/>
<line x1="56.4" y1="902.2" x2="58.3" y2="904.4" stroke="#dcdcdc" stroke-width="17.5" stroke-linecap="round"/>
<line x1="58.3" y1="904.4" x2="60.3" y2="906.6" stroke="#dcdcdc" stroke-width="17.5" stroke-linecap="round"/>
<line x1="60.3" y1="906.6" x2="62.2" y2="908.8" stroke="#dcdcdc" stroke-width="17.5" stroke-linecap="round"/>
<line x1="62.2" y1="908.8" x2="64.0" y2="911.0" stroke="#dcdcdc" stroke-width="17.5" stroke-linecap="round"/>
<line x1="55.5" y1="768.0" x2="55.5" y2="771.2" stroke="#eeeeee" stroke-width="1.4" stroke-linecap="round"/>
<line x1="55.5" y1="771.2" x2="55.4" y2="774.4" stroke="#eeeeee" stroke-width="1.7" stroke-linecap="round"/>
<line x1="55.4" y1="774.4" x2="55.1" y2="777.6" stroke="#eeeeee" stroke-width="2.0" stroke-linecap="round"/>
<line x1="55.1" y1="777.6" x2="54.8" y2="780.7" stroke="#eeeeee" stroke-width="2.3" stroke-linecap="round"/>
<line x1="54.8" y1="780.7" x2="54.4" y2="783.9" stroke="#eeeeee" stroke-width="2.6" stroke-linecap="round"/>
<line x1="54.4" y1="783.9" x2="53.9" y2="787.0" stroke="#eeeeee" stroke-width="2.9" stroke-linecap="round"/>
<line x1="53.9" y1="787.0" x2="53.3" y2="790.2" stroke="#eeeeee" stroke-width="3.3" stroke-linecap="round"/>
<line x1="53.3" y1="790.2" x2="52.7" y2="793.4" stroke="#eeeeee" stroke-width="3.6" stroke-linecap="round"/>
<line x1="52.7" y1="793.4" x2="52.0" y2="796.5" stroke="#eeeeee" stroke-width="3.9" stroke-linecap="round"/>
<line x1="52.0" y1="796.5" x2="51.3" y2="799.7" stroke="#eeeeee" stroke-width="4.2" stroke-linecap="round"/>
<line x1="51.3" y1="799.7" x2="50.5" y2="802.9" stroke="#eeeeee" stroke-width="4.5" stroke-linecap="round"/>
<line x1="50.5" y1="802.9" x2="49.7" y2="806.1" stroke="#eeeeee" stroke-width="4.9" stroke-linecap="round"/>
<line x1="49.7" y1="806.1" x2="48.9" y2="809.3" stroke="#eeeeee" stroke-width="5.2" stroke-linecap="round"/>
<line x1="48.9" y1="809.3" x2="48.1" y2="812.5" stroke="#eeeeee" stroke-width="5.5" stroke-linecap="round"/>
<line x1="48.1" y1="812.5" x2="47.3" y2="815.8" stroke="#eeeeee" stroke-width="5.8" stroke-linecap="round"/>
<line x1="47.3" y1="815.8" x2="46.5" y2="819.0" stroke="#eeeeee" stroke-width="6.1" stroke-linecap="round"/>
<line x1="46.5" y1="819.0" x2="45.7" y2="822.3" stroke="#eeeeee" stroke-width="6.5" stroke-linecap="round"/>
<line x1="45.7" y1="822.3" x2="45.0" y2="825.6" stroke="#eeeeee" stroke-width="6.8" stroke-linecap="round"/>
<line x1="45.0" y1="825.6" x2="44.2" y2="828.9" stroke="#eeeeee" stroke-width="7.1" stroke-linecap="round"/>
<line x1="44.2" y1="828.9" x2="43.5" y2="832.3" stroke="#eeeeee" stroke-width="7.4" stroke-linecap="round"/>
<line x1="43.5" y1="832.3" x2="42.9" y2="835.7" stroke="#eeeeee" stroke-width="7.7" stroke-linecap="round"/>
<line x1="42.9" y1="835.7" x2="42.3" y2="839.1" stroke="#eeeeee" stroke-width="7.9" stroke-linecap="round"/>
<line x1="42.3" y1="839.1" x2="41.8" y2="842.6" stroke="#eeeeee" stroke-width="7.9" stroke-linecap="round"/>
<line x1="41.8" y1="842.6" x2="41.4" y2="846.1" stroke="#eeeeee" stroke-width="7.9" stroke-linecap="round"/>
<line x1="41.4" y1="846.1" x2="41.1" y2="849.6" stroke="#eeeeee" stroke-width="7.9" stroke-linecap="round"/>
<line x1="41.1" y1="849.6" x2="40.8" y2="853.2" stroke="#eeeeee" stroke-width="7.9" stroke-linecap="round"/>
<line x1="40.8" y1="853.2" x2="40.7" y2="856.8" stroke="#eeeeee" stroke-width="7.9" stroke-linecap="round"/>
<line x1="40.7" y1="856.8" x2="40.7" y2="860.5" stroke="#eeeeee" stroke-width="7.9" stroke-linecap="round"/>
<line x1="40.7" y1="860.5" x2="40.8" y2="864.2" stroke="#eeeeee" stroke-width="7.9" stroke-linecap="round"/>
<line x1="40.8" y1="864.2" x2="41.0" y2="868.0" stroke="#eeeeee" stroke-width="7.9" stroke-linecap="round"/>
<line x1="41.0" y1="868.0" x2="41.5" y2="872.2" stroke="#eeeeee" stroke-width="7.9" stroke-linecap="round"/>
<line x1="41.5" y1="872.2" x2="42.3" y2="876.2" stroke="#eeeeee" stroke-width="7.9" stroke-linecap="round"/>
<line x1="42.3" y1="876.2" x2="43.3" y2="879.9" stroke="#eeeeee" stroke-width="7.9" stroke-linecap="round"/>
<line x1="43.3" y1="879.9" x2="44.5" y2="883.3" stroke="#eeeeee" stroke-width="7.9" stroke-linecap="round"/>
<line x1="44.5" y1="883.3" x2="45.9" y2="886.5" stroke="#eeeeee" stroke-width="7.9" stroke-linecap="round"/>
<line x1="45.9" y1="886.5" x2="47.4" y2="889.5" stroke="#eeeeee" stroke-width="7.9" stroke-linecap="round"/>
<line x1="47.4" y1="889.5" x2="49.0" y2="892.3" stroke="#eeeeee" stroke-width="7.9" stroke-linecap="round"/>
<line x1="49.0" y1="892.3" x2="50.8" y2="894.9" stroke="#eeeeee" stroke-width="7.9" stroke-linecap="round"/>
<line x1="50.8" y1="894.9" x2="52.6" y2="897.4" stroke="#eeeeee" stroke-width="7.9" stroke-linecap="round"/>
<line x1="52.6" y1="897.4" x2="54.5" y2="899.9" stroke="#eeeeee" stroke-width="7.9" stroke-linecap="round"/>
<line x1="54.5" y1="899.9" x2="56.4" y2="902.2" stroke="#eeeeee" stroke-width="7.9" stroke-linecap="round"/>
<line x1="56.4" y1="902.2" x2="58.3" y2="904.4" stroke="#eeeeee" stroke-width="7.9" stroke-linecap="round"/>
<line x1="58.3" y1="904.4" x2="60.3" y2="906.6" stroke="#eeeeee" stroke-width="7.9" stroke-linecap="round"/>
<line x1="60.3" y1="906.6" x2="62.2" y2="908.8" stroke="#eeeeee" stroke-width="7.9" stroke-linecap="round"/>
<line x1="62.2" y1="908.8" x2="64.0" y2="911.0" stroke="#eeeeee" stroke-width="7.9" stroke-linecap="round"/>
<circle cx="48.2" cy="861.9" r="0.6" fill="#b08aa0" /><circle cx="49.6" cy="875.0" r="0.6" fill="#b08aa0" /><circle cx="56.8" cy="898.6" r="0.5" fill="#9a6a8a" /><circle cx="54.8" cy="785.4" r="0.6" fill="#b08aa0" /><circle cx="43.8" cy="861.0" r="0.4" fill="#8a5a7a" /><circle cx="34.3" cy="878.0" r="0.7" fill="#8a5a7a" /><circle cx="37.2" cy="864.6" r="0.4" fill="#9a6a8a" /><circle cx="50.3" cy="897.9" r="0.3" fill="#6a4a6a" /><circle cx="51.0" cy="855.2" r="0.6" fill="#6a4a6a" /><circle cx="48.7" cy="832.3" r="0.3" fill="#8a5a7a" /><circle cx="33.0" cy="848.8" r="0.3" fill="#8a5a7a" /><circle cx="50.0" cy="905.5" r="0.7" fill="#b08aa0" /><circle cx="51.3" cy="845.7" r="0.3" fill="#9a6a8a" /><circle cx="55.6" cy="905.0" r="0.4" fill="#b08aa0" /><circle cx="49.3" cy="791.0" r="0.3" fill="#b08aa0" /><circle cx="34.9" cy="872.5" r="0.5" fill="#9a6a8a" /><circle cx="51.8" cy="792.9" r="0.5" fill="#9a6a8a" /><circle cx="54.1" cy="769.9" r="0.6" fill="#6a4a6a" /><circle cx="53.5" cy="770.8" r="0.6" fill="#8a5a7a" /><circle cx="59.0" cy="773.2" r="0.4" fill="#6a4a6a" /><circle cx="42.8" cy="823.9" r="0.4" fill="#9a6a8a" /><circle cx="56.1" cy="767.5" r="0.5" fill="#b08aa0" /><circle cx="39.9" cy="889.0" r="0.6" fill="#6a4a6a" /><circle cx="53.2" cy="811.5" r="0.4" fill="#9a6a8a" /><circle cx="69.5" cy="908.2" r="0.5" fill="#b08aa0" /><circle cx="51.9" cy="775.7" r="0.7" fill="#9a6a8a" /><circle cx="36.1" cy="850.9" r="0.5" fill="#6a4a6a" /><circle cx="36.6" cy="880.7" r="0.3" fill="#9a6a8a" /><circle cx="42.2" cy="869.4" r="0.5" fill="#6a4a6a" /><circle cx="55.3" cy="808.1" r="0.3" fill="#6a4a6a" /><circle cx="39.7" cy="851.4" r="0.4" fill="#6a4a6a" /><circle cx="44.8" cy="878.4" r="0.4" fill="#b08aa0" /><circle cx="46.1" cy="836.5" r="0.5" fill="#9a6a8a" /><circle cx="39.5" cy="890.4" r="0.7" fill="#6a4a6a" /><circle cx="51.8" cy="774.9" r="0.5" fill="#6a4a6a" /><circle cx="36.2" cy="830.6" r="0.5" fill="#6a4a6a" /><circle cx="58.3" cy="775.3" r="0.6" fill="#6a4a6a" /><circle cx="33.8" cy="839.0" r="0.3" fill="#b08aa0" /><circle cx="57.9" cy="771.5" r="0.5" fill="#b08aa0" /><circle cx="43.1" cy="846.5" r="0.3" fill="#8a5a7a" /><circle cx="53.1" cy="819.9" r="0.5" fill="#b08aa0" /><circle cx="39.9" cy="860.7" r="0.5" fill="#8a5a7a" /><circle cx="46.2" cy="828.9" r="0.4" fill="#8a5a7a" /><circle cx="47.3" cy="872.9" r="0.5" fill="#8a5a7a" /><circle cx="37.7" cy="843.3" r="0.4" fill="#9a6a8a" /><circle cx="46.2" cy="835.5" r="0.7" fill="#6a4a6a" /><circle cx="44.5" cy="848.4" r="0.5" fill="#9a6a8a" /><circle cx="47.2" cy="809.6" r="0.4" fill="#9a6a8a" /><circle cx="52.7" cy="794.7" r="0.6" fill="#8a5a7a" /><circle cx="51.5" cy="820.7" r="0.5" fill="#9a6a8a" /><circle cx="38.4" cy="853.3" r="0.6" fill="#b08aa0" /><circle cx="35.0" cy="830.4" r="0.6" fill="#8a5a7a" /><circle cx="64.5" cy="906.9" r="0.4" fill="#8a5a7a" /><circle cx="48.9" cy="902.0" r="0.3" fill="#6a4a6a" /><circle cx="52.0" cy="816.9" r="0.7" fill="#8a5a7a" /><circle cx="32.7" cy="860.6" r="0.6" fill="#6a4a6a" /><circle cx="56.4" cy="779.5" r="0.5" fill="#9a6a8a" /><circle cx="57.0" cy="768.1" r="0.3" fill="#9a6a8a" /><circle cx="50.7" cy="822.5" r="0.7" fill="#9a6a8a" /><circle cx="48.2" cy="850.4" r="0.4" fill="#b08aa0" /><circle cx="33.8" cy="845.9" r="0.6" fill="#8a5a7a" /><circle cx="42.4" cy="846.7" r="0.5" fill="#6a4a6a" /><circle cx="37.2" cy="866.2" r="0.3" fill="#8a5a7a" /><circle cx="45.0" cy="808.8" r="0.3" fill="#6a4a6a" /><circle cx="54.3" cy="885.0" r="0.4" fill="#8a5a7a" /><circle cx="42.4" cy="837.3" r="0.4" fill="#b08aa0" /><circle cx="45.5" cy="820.4" r="0.6" fill="#8a5a7a" /><circle cx="46.8" cy="855.5" r="0.4" fill="#9a6a8a" /><circle cx="33.8" cy="868.1" r="0.6" fill="#b08aa0" /><circle cx="43.1" cy="873.0" r="0.6" fill="#b08aa0" /><circle cx="44.5" cy="881.2" r="0.5" fill="#9a6a8a" /><circle cx="43.6" cy="881.5" r="0.4" fill="#b08aa0" /><circle cx="46.6" cy="898.9" r="0.7" fill="#6a4a6a" /><circle cx="47.3" cy="889.1" r="0.3" fill="#8a5a7a" /><circle cx="48.2" cy="895.1" r="0.3" fill="#b08aa0" /><circle cx="50.7" cy="883.5" r="0.5" fill="#9a6a8a" /><circle cx="58.6" cy="780.6" r="0.7" fill="#b08aa0" /><circle cx="41.1" cy="822.3" r="0.4" fill="#b08aa0" /><circle cx="39.5" cy="878.6" r="0.5" fill="#6a4a6a" /><circle cx="55.1" cy="795.3" r="0.3" fill="#9a6a8a" /><circle cx="40.4" cy="811.6" r="0.6" fill="#9a6a8a" /><circle cx="52.6" cy="897.4" r="0.5" fill="#6a4a6a" /><circle cx="52.7" cy="807.6" r="0.3" fill="#b08aa0" /><circle cx="45.7" cy="880.0" r="0.6" fill="#9a6a8a" /><circle cx="37.5" cy="880.0" r="0.5" fill="#9a6a8a" /><circle cx="54.7" cy="813.0" r="0.4" fill="#9a6a8a" /><circle cx="45.6" cy="833.9" r="0.4" fill="#9a6a8a" /><circle cx="50.1" cy="786.0" r="0.6" fill="#6a4a6a" /><circle cx="33.1" cy="847.4" r="0.5" fill="#9a6a8a" /><circle cx="48.3" cy="806.8" r="0.3" fill="#9a6a8a" /><circle cx="51.1" cy="891.1" r="0.7" fill="#8a5a7a" /><circle cx="45.1" cy="875.6" r="0.7" fill="#9a6a8a" /><circle cx="54.6" cy="778.8" r="0.6" fill="#b08aa0" /><circle cx="48.2" cy="795.0" r="0.4" fill="#9a6a8a" /><circle cx="53.0" cy="824.0" r="0.3" fill="#b08aa0" /><circle cx="57.1" cy="780.0" r="0.5" fill="#6a4a6a" /><circle cx="34.7" cy="856.3" r="0.6" fill="#8a5a7a" /><circle cx="45.1" cy="805.9" r="0.6" fill="#b08aa0" /><circle cx="51.3" cy="804.5" r="0.6" fill="#6a4a6a" /><circle cx="57.3" cy="784.7" r="0.6" fill="#b08aa0" /><circle cx="49.4" cy="889.5" r="0.7" fill="#6a4a6a" /><circle cx="53.1" cy="823.3" r="0.6" fill="#b08aa0" /><circle cx="57.3" cy="794.9" r="0.6" fill="#b08aa0" /><circle cx="49.2" cy="803.8" r="0.3" fill="#6a4a6a" /><circle cx="43.6" cy="827.0" r="0.4" fill="#8a5a7a" /><circle cx="44.5" cy="814.4" r="0.4" fill="#9a6a8a" /><circle cx="56.4" cy="903.1" r="0.3" fill="#b08aa0" /><circle cx="50.5" cy="900.6" r="0.5" fill="#8a5a7a" /><circle cx="54.6" cy="791.2" r="0.4" fill="#b08aa0" /><circle cx="33.1" cy="875.0" r="0.5" fill="#8a5a7a" /><circle cx="42.2" cy="820.6" r="0.5" fill="#b08aa0" /><circle cx="44.7" cy="881.8" r="0.6" fill="#8a5a7a" /><circle cx="47.9" cy="887.5" r="0.3" fill="#9a6a8a" /><circle cx="40.8" cy="844.8" r="0.5" fill="#8a5a7a" /><circle cx="49.8" cy="856.5" r="0.5" fill="#6a4a6a" /><circle cx="42.5" cy="842.5" r="0.4" fill="#6a4a6a" /><circle cx="62.8" cy="903.6" r="0.3" fill="#9a6a8a" /><circle cx="39.6" cy="890.9" r="0.6" fill="#b08aa0" /><circle cx="58.4" cy="778.5" r="0.3" fill="#6a4a6a" /><circle cx="57.4" cy="779.6" r="0.6" fill="#6a4a6a" /><circle cx="39.8" cy="814.1" r="0.6" fill="#b08aa0" /><circle cx="57.9" cy="797.8" r="0.5" fill="#8a5a7a" /><circle cx="56.1" cy="777.4" r="0.4" fill="#8a5a7a" /><circle cx="42.9" cy="837.6" r="0.5" fill="#b08aa0" /><circle cx="42.8" cy="864.8" r="0.6" fill="#6a4a6a" /><circle cx="49.8" cy="878.4" r="0.4" fill="#9a6a8a" /><circle cx="47.0" cy="815.8" r="0.4" fill="#6a4a6a" /><circle cx="41.6" cy="823.0" r="0.5" fill="#9a6a8a" /><circle cx="49.9" cy="898.8" r="0.7" fill="#9a6a8a" /><circle cx="50.8" cy="904.9" r="0.4" fill="#b08aa0" /><circle cx="56.3" cy="769.6" r="0.5" fill="#8a5a7a" /><circle cx="58.3" cy="782.5" r="0.4" fill="#6a4a6a" /><circle cx="40.6" cy="866.8" r="0.4" fill="#9a6a8a" /><circle cx="57.5" cy="780.5" r="0.6" fill="#9a6a8a" /><circle cx="39.1" cy="859.5" r="0.6" fill="#6a4a6a" /><circle cx="53.9" cy="798.5" r="0.4" fill="#9a6a8a" /><circle cx="43.8" cy="857.2" r="0.5" fill="#6a4a6a" /><circle cx="54.8" cy="783.6" r="0.5" fill="#b08aa0" /><circle cx="50.5" cy="827.0" r="0.4" fill="#8a5a7a" /><circle cx="58.1" cy="909.7" r="0.6" fill="#6a4a6a" /><circle cx="48.5" cy="797.2" r="0.4" fill="#8a5a7a" /><circle cx="47.8" cy="832.6" r="0.7" fill="#6a4a6a" /><circle cx="41.3" cy="862.5" r="0.5" fill="#9a6a8a" /><circle cx="50.7" cy="850.5" r="0.5" fill="#8a5a7a" /><circle cx="48.6" cy="840.7" r="0.6" fill="#b08aa0" /><circle cx="53.2" cy="805.6" r="0.5" fill="#9a6a8a" /><circle cx="50.3" cy="891.0" r="0.6" fill="#6a4a6a" /><circle cx="53.6" cy="769.4" r="0.4" fill="#6a4a6a" /><circle cx="56.5" cy="772.4" r="0.3" fill="#6a4a6a" /><circle cx="36.0" cy="881.6" r="0.6" fill="#6a4a6a" /><circle cx="49.9" cy="784.5" r="0.3" fill="#b08aa0" /><circle cx="50.8" cy="815.7" r="0.7" fill="#6a4a6a" /><circle cx="38.6" cy="863.6" r="0.7" fill="#9a6a8a" /><circle cx="41.3" cy="873.5" r="0.3" fill="#8a5a7a" /><circle cx="46.1" cy="855.1" r="0.4" fill="#8a5a7a" /><circle cx="48.2" cy="847.6" r="0.7" fill="#8a5a7a" /><circle cx="40.5" cy="877.9" r="0.3" fill="#b08aa0" /><circle cx="48.9" cy="795.2" r="0.6" fill="#9a6a8a" /><circle cx="37.6" cy="832.0" r="0.4" fill="#8a5a7a" /><circle cx="37.1" cy="866.5" r="0.6" fill="#9a6a8a" /><circle cx="57.2" cy="775.6" r="0.5" fill="#8a5a7a" /><circle cx="35.6" cy="831.0" r="0.4" fill="#9a6a8a" /><circle cx="55.2" cy="895.3" r="0.4" fill="#9a6a8a" /><circle cx="44.0" cy="823.9" r="0.7" fill="#b08aa0" /><circle cx="46.2" cy="818.6" r="0.7" fill="#8a5a7a" /><circle cx="48.4" cy="867.6" r="0.4" fill="#9a6a8a" /><circle cx="51.2" cy="847.3" r="0.6" fill="#8a5a7a" /><circle cx="67.0" cy="906.0" r="0.6" fill="#6a4a6a" /><circle cx="46.8" cy="861.4" r="0.5" fill="#9a6a8a" /><circle cx="33.8" cy="852.5" r="0.4" fill="#9a6a8a" /><circle cx="59.4" cy="900.3" r="0.5" fill="#8a5a7a" /><circle cx="52.9" cy="795.2" r="0.4" fill="#9a6a8a" /><circle cx="47.8" cy="792.4" r="0.6" fill="#8a5a7a" /><circle cx="45.0" cy="866.3" r="0.6" fill="#6a4a6a" /><circle cx="57.4" cy="770.9" r="0.7" fill="#8a5a7a" /><circle cx="34.7" cy="860.7" r="0.5" fill="#9a6a8a" /><circle cx="40.6" cy="828.6" r="0.5" fill="#b08aa0" /><circle cx="62.8" cy="903.9" r="0.6" fill="#8a5a7a" /><circle cx="56.2" cy="904.3" r="0.7" fill="#8a5a7a" /><circle cx="55.3" cy="903.6" r="0.6" fill="#b08aa0" /><circle cx="43.9" cy="814.2" r="0.6" fill="#9a6a8a" /><circle cx="45.5" cy="898.0" r="0.7" fill="#6a4a6a" /><circle cx="48.1" cy="835.9" r="0.3" fill="#9a6a8a" /><circle cx="48.0" cy="804.5" r="0.4" fill="#6a4a6a" /><circle cx="46.7" cy="890.0" r="0.5" fill="#b08aa0" /><circle cx="50.6" cy="784.4" r="0.4" fill="#9a6a8a" /><circle cx="46.3" cy="801.0" r="0.5" fill="#8a5a7a" /><circle cx="51.1" cy="785.7" r="0.3" fill="#b08aa0" /><circle cx="53.4" cy="782.0" r="0.7" fill="#9a6a8a" /><circle cx="50.4" cy="900.8" r="0.6" fill="#b08aa0" /><circle cx="51.5" cy="836.2" r="0.6" fill="#6a4a6a" /><circle cx="50.0" cy="816.2" r="0.3" fill="#6a4a6a" /><circle cx="47.5" cy="806.7" r="0.3" fill="#b08aa0" /><circle cx="49.1" cy="810.4" r="0.6" fill="#9a6a8a" /><circle cx="51.1" cy="820.6" r="0.5" fill="#6a4a6a" /><circle cx="52.6" cy="896.0" r="0.6" fill="#9a6a8a" /><circle cx="56.5" cy="890.0" r="0.4" fill="#8a5a7a" /><circle cx="49.7" cy="793.7" r="0.6" fill="#6a4a6a" /><circle cx="58.5" cy="783.3" r="0.5" fill="#8a5a7a" /><circle cx="50.4" cy="859.0" r="0.7" fill="#8a5a7a" /><circle cx="54.4" cy="885.2" r="0.6" fill="#6a4a6a" /><circle cx="43.5" cy="896.7" r="0.3" fill="#6a4a6a" /><circle cx="51.6" cy="815.2" r="0.4" fill="#8a5a7a" /><circle cx="31.2" cy="862.9" r="0.7" fill="#9a6a8a" /><circle cx="49.2" cy="830.3" r="0.7" fill="#8a5a7a" /><circle cx="47.4" cy="799.6" r="0.4" fill="#b08aa0" /><circle cx="54.1" cy="788.9" r="0.5" fill="#6a4a6a" /><circle cx="48.4" cy="815.1" r="0.6" fill="#8a5a7a" /><circle cx="64.2" cy="904.0" r="0.5" fill="#8a5a7a" /><circle cx="37.8" cy="869.6" r="0.7" fill="#b08aa0" /><circle cx="44.7" cy="827.6" r="0.6" fill="#b08aa0" /><circle cx="32.8" cy="855.3" r="0.7" fill="#6a4a6a" /><circle cx="43.7" cy="879.5" r="0.3" fill="#8a5a7a" /><circle cx="49.2" cy="827.2" r="0.6" fill="#6a4a6a" /><circle cx="51.7" cy="830.4" r="0.4" fill="#b08aa0" /><circle cx="47.4" cy="815.3" r="0.3" fill="#8a5a7a" /><circle cx="51.7" cy="880.0" r="0.6" fill="#9a6a8a" /><circle cx="59.2" cy="781.6" r="0.6" fill="#6a4a6a" /><circle cx="42.9" cy="884.5" r="0.4" fill="#b08aa0" /><circle cx="39.6" cy="887.8" r="0.5" fill="#9a6a8a" /><circle cx="57.5" cy="790.5" r="0.5" fill="#6a4a6a" /><circle cx="51.1" cy="813.8" r="0.4" fill="#b08aa0" /><circle cx="47.1" cy="860.1" r="0.4" fill="#9a6a8a" /><circle cx="53.9" cy="774.2" r="0.4" fill="#6a4a6a" /><circle cx="34.2" cy="873.4" r="0.6" fill="#9a6a8a" /><circle cx="46.8" cy="807.8" r="0.7" fill="#9a6a8a" /><circle cx="50.4" cy="831.7" r="0.5" fill="#9a6a8a" /><circle cx="62.3" cy="901.8" r="0.4" fill="#9a6a8a" /><circle cx="56.3" cy="808.0" r="0.6" fill="#6a4a6a" /><circle cx="52.8" cy="831.4" r="0.5" fill="#9a6a8a" />
<ellipse cx="64.8" cy="910.6" rx="8.5" ry="5.2" transform="rotate(-38 64.8 910.6)" fill="#a9dce8" stroke="#8ccbdc" stroke-width="0.8"/>
<ellipse cx="64.8" cy="910.6" rx="4.5" ry="2.6" transform="rotate(-38 64.8 910.6)" fill="#d4eef4"/>
<path d="M66,913 C80,932 74,955 74,978 C74,1012 92,1036 123,1046.5" fill="none" stroke="#b9e5ea" stroke-width="16.5" stroke-linecap="butt"/>
<path d="M63,914 C77,933 71,956 71,979 C71,1011 90,1036 121,1044" fill="none" stroke="#d2f0f3" stroke-width="5" opacity="0.7"/>
<ellipse cx="123.5" cy="1046.5" rx="3.6" ry="8.2" transform="rotate(12 123.5 1046.5)" fill="#eef1f1" stroke="#cfd8d8" stroke-width="0.7"/>
<path d="M125.4,1044.0 C133.2,1044.3 157.1,1045.1 172.1,1045.8 C187.1,1046.4 198.5,1045.6 215.4,1048.1 C232.2,1050.6 253.8,1059.4 273.1,1060.8 C292.3,1062.1 311.5,1059.1 330.7,1056.1 C350.0,1053.2 378.8,1045.3 388.4,1043.2" fill="none" stroke="#9ed8bc" stroke-width="2.9" stroke-linecap="round" opacity="0.55"/>
<path d="M125.4,1044.0 C133.2,1044.3 157.1,1045.1 172.1,1045.8 C187.1,1046.4 198.5,1045.6 215.4,1048.1 C232.2,1050.6 253.8,1059.4 273.1,1060.8 C292.3,1062.1 311.5,1059.1 330.7,1056.1 C350.0,1053.2 378.8,1045.3 388.4,1043.2" fill="none" stroke="#b4e6cf" stroke-width="2.0" stroke-linecap="round"/>
<path d="M125.4,1046.1 C130.8,1047.3 145.1,1050.1 157.7,1053.3 C170.3,1056.4 186.5,1063.6 201.0,1064.8 C215.4,1066.1 227.4,1063.6 244.2,1060.8 C261.0,1057.9 281.5,1048.7 301.9,1047.5 C322.3,1046.2 356.0,1052.3 366.8,1053.3" fill="none" stroke="#9ed8bc" stroke-width="2.9" stroke-linecap="round" opacity="0.55"/>
<path d="M125.4,1046.1 C130.8,1047.3 145.1,1050.1 157.7,1053.3 C170.3,1056.4 186.5,1063.6 201.0,1064.8 C215.4,1066.1 227.4,1063.6 244.2,1060.8 C261.0,1057.9 281.5,1048.7 301.9,1047.5 C322.3,1046.2 356.0,1052.3 366.8,1053.3" fill="none" stroke="#b4e6cf" stroke-width="2.0" stroke-linecap="round"/>
<path d="M125.4,1047.8 C133.2,1049.9 154.7,1059.9 172.1,1060.8 C189.5,1061.7 213.0,1055.5 229.8,1053.3 C246.6,1051.1 256.2,1047.5 273.1,1047.5 C289.9,1047.5 311.5,1051.8 330.7,1053.3 C350.0,1054.7 378.8,1055.7 388.4,1056.1" fill="none" stroke="#9ed8bc" stroke-width="2.9" stroke-linecap="round" opacity="0.55"/>
<path d="M125.4,1047.8 C133.2,1049.9 154.7,1059.9 172.1,1060.8 C189.5,1061.7 213.0,1055.5 229.8,1053.3 C246.6,1051.1 256.2,1047.5 273.1,1047.5 C289.9,1047.5 311.5,1051.8 330.7,1053.3 C350.0,1054.7 378.8,1055.7 388.4,1056.1" fill="none" stroke="#b4e6cf" stroke-width="2.0" stroke-linecap="round"/>
<path d="M125.4,1045.2 C135.6,1045.1 166.7,1043.3 186.5,1044.6 C206.3,1046.0 227.4,1049.6 244.2,1053.3 C261.0,1056.9 270.7,1065.5 287.5,1066.5 C304.3,1067.6 331.7,1062.0 345.2,1059.6 C358.6,1057.2 364.4,1053.4 368.2,1052.1" fill="none" stroke="#9ed8bc" stroke-width="2.9" stroke-linecap="round" opacity="0.55"/>
<path d="M125.4,1045.2 C135.6,1045.1 166.7,1043.3 186.5,1044.6 C206.3,1046.0 227.4,1049.6 244.2,1053.3 C261.0,1056.9 270.7,1065.5 287.5,1066.5 C304.3,1067.6 331.7,1062.0 345.2,1059.6 C358.6,1057.2 364.4,1053.4 368.2,1052.1" fill="none" stroke="#b4e6cf" stroke-width="2.0" stroke-linecap="round"/>
<path d="M125.4,1046.9 C131.7,1048.7 147.5,1055.2 163.5,1057.6 C179.4,1060.0 204.8,1062.1 221.1,1061.3 C237.5,1060.6 245.2,1053.6 261.5,1053.3 C277.9,1053.0 302.9,1060.1 319.2,1059.6 C335.6,1059.1 352.9,1051.9 359.6,1050.4" fill="none" stroke="#9ed8bc" stroke-width="2.9" stroke-linecap="round" opacity="0.55"/>
<path d="M125.4,1046.9 C131.7,1048.7 147.5,1055.2 163.5,1057.6 C179.4,1060.0 204.8,1062.1 221.1,1061.3 C237.5,1060.6 245.2,1053.6 261.5,1053.3 C277.9,1053.0 302.9,1060.1 319.2,1059.6 C335.6,1059.1 352.9,1051.9 359.6,1050.4" fill="none" stroke="#b4e6cf" stroke-width="2.0" stroke-linecap="round"/>
<circle cx="45.0" cy="872.3" r="6.5" fill="none" stroke="#3f63b4" stroke-width="1.1"/>
<line x1="48.0" y1="866.5" x2="136.5" y2="857.3" stroke="#3f63b4" stroke-width="1.1" />
<line x1="49.0" y1="877.5" x2="136.5" y2="935.8" stroke="#3f63b4" stroke-width="1.1" />
<line x1="106.5" y1="1008.0" x2="136.5" y2="1042.0" stroke="#3f63b4" stroke-width="1.1" />
<line x1="223.5" y1="1008.0" x2="200.4" y2="1042.0" stroke="#3f63b4" stroke-width="1.1" />
<pattern id="pFab" width="5.5" height="7" patternUnits="userSpaceOnUse" patternTransform="rotate(12)"><rect width="5.5" height="7" fill="#1b2228"/><path d="M0.5,6.5 L3,0.5" stroke="#3b4650" stroke-width="1.3"/><path d="M3.2,7 L5.4,2" stroke="#2c353d" stroke-width="1"/></pattern>
<rect x="82.6" y="781.9" width="81.4" height="69.2" fill="url(#pFab)" />
<path d="M110.3,892 L111.8,883 L122.8,883 L124.3,892 L117.3,897 Z" fill="none" stroke="#333" stroke-width="0.9" />
<path d="M111.8,883 L108.3,874 L112.8,866 L121.8,866 L126.3,874 L122.8,883" fill="none" stroke="#333" stroke-width="0.9" />
<rect x="105.8" y="871.2" width="5.0" height="5.6" fill="#fff" />
<rect x="123.8" y="871.2" width="5.0" height="5.6" fill="#fff" />
<text x="108.3" y="876.4" font-size="6.5" fill="#333" text-anchor="middle">O</text>
<text x="126.3" y="876.4" font-size="6.5" fill="#333" text-anchor="middle">O</text>
<rect x="114.8" y="893.5" width="5.0" height="6.0" fill="#fff" />
<text x="117.3" y="899.0" font-size="6.5" fill="#333" text-anchor="middle">S</text>
<line x1="110.3" y1="892.0" x2="101.3" y2="892.0" stroke="#333" stroke-width="0.9" />
<line x1="124.3" y1="892.0" x2="133.3" y2="892.0" stroke="#333" stroke-width="0.9" />
<path d="M105.8,883 H103.8 V901 H105.8" fill="none" stroke="#333" stroke-width="0.9" />
<path d="M128.8,883 H130.8 V901 H128.8" fill="none" stroke="#333" stroke-width="0.9" />
<text x="132.8" y="904.0" font-size="6" fill="#333">n</text>
<text x="102.8" y="914.4" font-size="8.6" font-weight="bold" fill="#333" textLength="27.2" lengthAdjust="spacingAndGlyphs">PEDOT</text>
<text x="150.8" y="867.8" font-size="8.6" font-weight="bold" fill="#333" textLength="16.2" lengthAdjust="spacingAndGlyphs">PSS</text>
<path d="M148.5,884 H154.5 L160.5,887 L166.5,884 H172.5" fill="none" stroke="#333" stroke-width="0.9" />
<path d="M154.0,875 H152.0 V893 H154.0" fill="none" stroke="#333" stroke-width="0.9" />
<path d="M168.0,875 H170.0 V893 H168.0" fill="none" stroke="#333" stroke-width="0.9" />
<text x="171.5" y="896.0" font-size="6" fill="#333">n</text>
<line x1="160.5" y1="887.0" x2="160.5" y2="896.0" stroke="#333" stroke-width="0.9" />
<polygon points="160.5,896.0 168.0,900.5 168.0,909.5 160.5,914.0 153.0,909.5 153.0,900.5" fill="none" stroke="#333" stroke-width="0.9" />
<line x1="166.0" y1="901.7" x2="166.0" y2="908.3" stroke="#333" stroke-width="0.7200000000000001" />
<line x1="155.0" y1="901.7" x2="155.0" y2="908.3" stroke="#333" stroke-width="0.7200000000000001" />
<line x1="160.5" y1="914.0" x2="160.5" y2="920.0" stroke="#333" stroke-width="0.9" />
<text x="153.0" y="930.6" font-size="7" fill="#333">SO<tspan font-size="5" dy="1.5">3</tspan><tspan font-size="5" dy="-4">-</tspan></text>
<path d="M109,950.8 H105.8 V1005 H109" fill="none" stroke="#333" stroke-width="1" />
<path d="M218,950.8 H221.2 V1005 H218" fill="none" stroke="#333" stroke-width="1" />
<text x="222.5" y="1008.0" font-size="6" fill="#333">n</text>
<text x="146.0" y="959.6" font-size="9.2" font-weight="bold" fill="#333" textLength="38.0" lengthAdjust="spacingAndGlyphs">Cellulose</text>
<polygon points="114.0,976.5 124.0,969.0 141.0,969.0 153.0,976.5 143.0,983.0 125.0,983.0" fill="none" stroke="#333" stroke-width="0.9" /><polygon points="114.0,976.5 125.0,983.0 143.0,983.0 153.0,976.5 143.0,980.6 125.0,980.6" fill="#111" />
<polygon points="170.0,976.5 180.0,969.0 197.0,969.0 209.0,976.5 199.0,983.0 181.0,983.0" fill="none" stroke="#333" stroke-width="0.9" /><polygon points="170.0,976.5 181.0,983.0 199.0,983.0 209.0,976.5 199.0,980.6 181.0,980.6" fill="#111" />
<line x1="105.8" y1="974.0" x2="114.0" y2="976.5" stroke="#333" stroke-width="0.9" />
<line x1="153.0" y1="976.5" x2="158.0" y2="979.0" stroke="#333" stroke-width="0.9" />
<line x1="164.5" y1="979.0" x2="170.0" y2="976.5" stroke="#333" stroke-width="0.9" />
<line x1="209.0" y1="976.5" x2="213.0" y2="975.0" stroke="#333" stroke-width="0.9" />
<line x1="220.0" y1="975.0" x2="228.0" y2="974.5" stroke="#333" stroke-width="0.9" />
<line x1="125.0" y1="969.5" x2="122.0" y2="959.0" stroke="#333" stroke-width="0.9" />
<line x1="122.0" y1="959.0" x2="127.0" y2="955.0" stroke="#333" stroke-width="0.9" />
<line x1="198.0" y1="983.0" x2="195.0" y2="993.5" stroke="#333" stroke-width="0.9" />
<line x1="195.0" y1="993.5" x2="190.0" y2="997.5" stroke="#333" stroke-width="0.9" />
<line x1="143.0" y1="983.0" x2="146.0" y2="988.0" stroke="#333" stroke-width="0.9" />
<line x1="182.0" y1="969.0" x2="180.0" y2="965.0" stroke="#333" stroke-width="0.9" />
<line x1="199.0" y1="969.0" x2="202.0" y2="963.0" stroke="#333" stroke-width="0.9" />
<rect x="128.5" y="951.4" width="10.0" height="6.6" fill="#fff" />
<text x="129.0" y="957.0" font-size="6.8" fill="#333">OH</text>
<rect x="106.0" y="978.4" width="10.0" height="6.6" fill="#fff" />
<text x="106.5" y="984.0" font-size="6.8" fill="#333">HO</text>
<rect x="143.5" y="964.9" width="5.5" height="6.6" fill="#fff" />
<text x="144.0" y="970.5" font-size="6.8" fill="#333">O</text>
<rect x="158.0" y="975.9" width="5.5" height="6.6" fill="#fff" />
<text x="158.5" y="981.5" font-size="6.8" fill="#333">O</text>
<rect x="143.5" y="988.9" width="10.0" height="6.6" fill="#fff" />
<text x="144.0" y="994.5" font-size="6.8" fill="#333">OH</text>
<rect x="169.5" y="964.4" width="10.0" height="6.6" fill="#fff" />
<text x="170.0" y="970.0" font-size="6.8" fill="#333">HO</text>
<rect x="199.5" y="957.4" width="10.0" height="6.6" fill="#fff" />
<text x="200.0" y="963.0" font-size="6.8" fill="#333">OH</text>
<rect x="203.0" y="980.4" width="5.5" height="6.6" fill="#fff" />
<text x="203.5" y="986.0" font-size="6.8" fill="#333">O</text>
<rect x="213.0" y="971.9" width="5.5" height="6.6" fill="#fff" />
<text x="213.5" y="977.5" font-size="6.8" fill="#333">O</text>
<rect x="190.5" y="998.4" width="10.0" height="6.6" fill="#fff" />
<text x="191.0" y="1004.0" font-size="6.8" fill="#333">OH</text>
<linearGradient id="gCloth" x1="0" y1="0" x2="1" y2="0"><stop offset="0" stop-color="#c9ad96"/><stop offset="0.42" stop-color="#a98c78"/><stop offset="0.5" stop-color="#7e6558"/><stop offset="0.6" stop-color="#b59a86"/><stop offset="1" stop-color="#c4a892"/></linearGradient>
<pattern id="pBrick" width="9" height="7" patternUnits="userSpaceOnUse"><path d="M0,0 H9 M0,3.5 H9 M2,0 V3.5 M6.5,3.5 V7" stroke="#8a7262" stroke-width="0.5" fill="none" opacity="0.6"/></pattern>
<linearGradient id="gFade" x1="0" y1="0" x2="0" y2="1"><stop offset="0" stop-color="#fff" stop-opacity="0"/><stop offset="0.8" stop-color="#fff" stop-opacity="0"/><stop offset="1" stop-color="#fff" stop-opacity="0.7"/></linearGradient>
<linearGradient id="gMetal" x1="0" y1="0" x2="1" y2="1"><stop offset="0" stop-color="#f2f2f2"/><stop offset="0.45" stop-color="#b9b9b9"/><stop offset="0.7" stop-color="#8a8a8a"/><stop offset="1" stop-color="#d8d8d8"/></linearGradient>
<polygon points="266.5,716.5 315.4,715.0 323.0,742.0 331.5,781.0 247.7,781.0 256.0,752.0" fill="url(#gCloth)" />
<polygon points="266.5,716.5 315.4,715.0 323.0,742.0 331.5,781.0 247.7,781.0 256.0,752.0" fill="url(#pBrick)" />
<polygon points="266.5,716.5 315.4,715.0 323.0,742.0 331.5,781.0 247.7,781.0 256.0,752.0" fill="url(#gFade)" />
<line x1="278.7" y1="766.0" x2="276.8" y2="745.5" stroke="#f2a81e" stroke-width="3.6" /><polygon points="276.0,737.5 280.5,745.1 273.0,745.8" fill="#f2a81e"/>
<line x1="268.0" y1="747.5" x2="270.9" y2="768.1" stroke="#f2a81e" stroke-width="3.6" /><polygon points="272.0,776.0 267.2,768.6 274.6,767.6" fill="#f2a81e"/>
<linearGradient id="gMet2" x1="0.2" y1="0" x2="0.6" y2="1"><stop offset="0" stop-color="#ffffff"/><stop offset="0.45" stop-color="#e6e6e6"/><stop offset="0.8" stop-color="#b8b8b8"/><stop offset="1" stop-color="#8c8c8c"/></linearGradient><linearGradient id="gMet3" x1="0" y1="0" x2="0.5" y2="1"><stop offset="0" stop-color="#d2d2d2"/><stop offset="0.5" stop-color="#a4a4a4"/><stop offset="1" stop-color="#7a7a7a"/></linearGradient>
<path d="M226.2,702.7 C229.0,701.9 238.5,705.8 244.6,707.3 C250.8,708.8 259.5,709.6 263.1,711.9 C266.7,714.2 266.7,718.3 266.2,721.2 C265.6,724.0 263.6,727.8 260.0,728.8 C256.4,729.9 249.5,728.6 244.6,727.3 C239.7,726.0 233.6,723.7 230.8,721.2 C227.9,718.6 228.5,715.0 227.7,711.9 C226.9,708.8 223.3,703.5 226.2,702.7Z" fill="url(#gMet3)" stroke="#5a5a5a" stroke-width="0.7" />
<path d="M232.3,715.0 C234.4,714.5 241.5,717.1 246.2,718.1 C250.8,719.1 258.2,719.6 260.0,721.2 C261.8,722.7 259.5,726.5 256.9,727.3 C254.4,728.1 248.5,726.8 244.6,725.8 C240.8,724.7 235.9,722.9 233.8,721.2 C231.8,719.4 230.3,715.5 232.3,715.0Z" fill="#e4e4e4" stroke="#777" stroke-width="0.5" />
<path d="M194.6,648.1 C196.7,646.0 200.4,645.4 203.1,645.8 C205.8,646.2 207.6,646.7 210.8,650.4 C214.0,654.1 220.0,664.2 222.3,668.1 C224.6,671.9 225.1,671.5 224.6,673.5 C224.1,675.4 221.2,678.8 219.2,679.6 C217.3,680.4 217.3,680.6 213.1,678.1 C208.8,675.5 197.6,667.6 193.8,664.2 C190.1,660.9 190.6,660.8 190.8,658.1 C190.9,655.4 192.6,650.1 194.6,648.1Z" fill="url(#gMet2)" stroke="#5a5a5a" stroke-width="0.7" />
<path d="M213.1,668.1 C213.6,666.2 217.1,665.6 220.0,666.5 C222.9,667.4 228.7,671.3 230.8,673.5 C232.8,675.6 233.1,678.1 232.3,679.6 C231.5,681.2 228.7,682.9 226.2,682.7 C223.6,682.4 219.1,680.5 216.9,678.1 C214.7,675.6 212.6,670.0 213.1,668.1Z" fill="url(#gMet3)" stroke="#5a5a5a" stroke-width="0.7" />
<path d="M217.7,681.2 C220.1,679.6 225.3,677.3 230.8,678.1 C236.3,678.8 244.9,682.7 250.8,685.8 C256.7,688.8 263.2,693.7 266.2,696.5 C269.1,699.4 269.0,700.9 268.5,702.7 C267.9,704.5 266.5,706.5 263.1,707.3 C259.6,708.1 253.1,707.8 247.7,707.3 C242.3,706.8 235.1,706.0 230.8,704.2 C226.4,702.4 224.0,699.4 221.5,696.5 C219.1,693.7 216.8,689.9 216.2,687.3 C215.5,684.7 215.3,682.7 217.7,681.2Z" fill="url(#gMet2)" stroke="#5a5a5a" stroke-width="0.7" />
<polygon points="263.8,700.4 272.3,704.2 286.2,721.2 294.6,735.0 293.1,736.5 281.5,730.4 266.2,711.9" fill="url(#gMet2)" stroke="#5a5a5a" stroke-width="0.7" />
<path d="M214.6,668.1 L220.8,679.6" fill="none" stroke="#4a4a4a" stroke-width="1.6" stroke-linecap="round" stroke-linejoin="round" opacity="0.8"/>
<path d="M230.8,705.0 L247.7,708.1 L263.1,707.6" fill="none" stroke="#4a4a4a" stroke-width="1.4" stroke-linecap="round" stroke-linejoin="round" opacity="0.8"/>
<path d="M226.2,685.8 L244.6,681.2 L263.1,695.8" fill="none" stroke="#4a4a4a" stroke-width="0.8" stroke-linecap="round" stroke-linejoin="round" opacity="0.8"/>
<path d="M198.5,649.6 L216.9,673.5" fill="none" stroke="#4a4a4a" stroke-width="0.9" stroke-linecap="round" stroke-linejoin="round" opacity="0.8"/>
<path d="M230.8,715.0 L233.8,723.5" fill="none" stroke="#4a4a4a" stroke-width="1.2" stroke-linecap="round" stroke-linejoin="round" opacity="0.8"/>
<path d="M244.6,718.8 L246.2,727.0" fill="none" stroke="#4a4a4a" stroke-width="1.0" stroke-linecap="round" stroke-linejoin="round" opacity="0.8"/>
<path d="M256.9,721.2 L257.7,728.1" fill="none" stroke="#4a4a4a" stroke-width="1.0" stroke-linecap="round" stroke-linejoin="round" opacity="0.8"/>
<path d="M263.8,701.2 L267.7,711.9" fill="none" stroke="#4a4a4a" stroke-width="1.2" stroke-linecap="round" stroke-linejoin="round" opacity="0.8"/>
<circle cx="213.1" cy="672.7" r="2.2" fill="#555" />
<circle cx="266.2" cy="702.7" r="1.6" fill="#555" />
<line x1="273.8" y1="711.9" x2="278.5" y2="707.3" stroke="#555" stroke-width="0.8" />
<line x1="282.3" y1="722.7" x2="286.2" y2="718.8" stroke="#555" stroke-width="0.8" />
<rect x="348.7" y="704.5" width="77.5" height="10.5" fill="#fbf2a8" />
<rect x="348.7" y="715.0" width="77.5" height="11.2" fill="#f9e436" />
<rect x="348.7" y="726.2" width="77.5" height="10.8" fill="#f9c412" />
<rect x="348.7" y="737.0" width="77.5" height="10.0" fill="#470a0a" />
<rect x="348.7" y="747.0" width="77.5" height="10.5" fill="#f9c412" />
<rect x="348.7" y="757.5" width="77.5" height="11.2" fill="#f9e436" />
<rect x="348.7" y="768.7" width="77.5" height="10.0" fill="#fbf2a8" />
<line x1="359.8" y1="704.5" x2="359.8" y2="778.7" stroke="#fff6c8" stroke-width="0.6" opacity="0.7"/>
<line x1="370.8" y1="704.5" x2="370.8" y2="778.7" stroke="#fff6c8" stroke-width="0.6" opacity="0.7"/>
<line x1="381.9" y1="704.5" x2="381.9" y2="778.7" stroke="#fff6c8" stroke-width="0.6" opacity="0.7"/>
<line x1="393.0" y1="704.5" x2="393.0" y2="778.7" stroke="#fff6c8" stroke-width="0.6" opacity="0.7"/>
<line x1="404.1" y1="704.5" x2="404.1" y2="778.7" stroke="#fff6c8" stroke-width="0.6" opacity="0.7"/>
<line x1="415.1" y1="704.5" x2="415.1" y2="778.7" stroke="#fff6c8" stroke-width="0.6" opacity="0.7"/>
<line x1="348.7" y1="715.0" x2="426.2" y2="715.0" stroke="#fff6c8" stroke-width="0.5" opacity="0.6"/>
<line x1="348.7" y1="726.2" x2="426.2" y2="726.2" stroke="#fff6c8" stroke-width="0.5" opacity="0.6"/>
<line x1="348.7" y1="737.0" x2="426.2" y2="737.0" stroke="#fff6c8" stroke-width="0.5" opacity="0.6"/>
<line x1="348.7" y1="747.0" x2="426.2" y2="747.0" stroke="#fff6c8" stroke-width="0.5" opacity="0.6"/>
<line x1="348.7" y1="757.5" x2="426.2" y2="757.5" stroke="#fff6c8" stroke-width="0.5" opacity="0.6"/>
<line x1="348.7" y1="768.7" x2="426.2" y2="768.7" stroke="#fff6c8" stroke-width="0.5" opacity="0.6"/>
<line x1="297.5" y1="727.5" x2="348.0" y2="708.7" stroke="#4a6ab0" stroke-width="1" />
<line x1="300.0" y1="774.5" x2="348.0" y2="776.2" stroke="#4a6ab0" stroke-width="1" />
<text x="280.0" y="799.6" font-size="15.5" fill="#222" textLength="63.0" lengthAdjust="spacingAndGlyphs">weft wire</text>
<text x="280.0" y="888.0" font-size="15.5" fill="#222" textLength="67.5" lengthAdjust="spacingAndGlyphs">wrap wire</text>
<line x1="279.5" y1="802.5" x2="255.0" y2="818.7" stroke="#555" stroke-width="0.9" />
<line x1="345.0" y1="802.5" x2="366.0" y2="817.5" stroke="#555" stroke-width="0.9" />
<line x1="255.5" y1="852.5" x2="275.0" y2="880.0" stroke="#555" stroke-width="0.9" />
<line x1="360.0" y1="882.5" x2="373.7" y2="860.0" stroke="#555" stroke-width="0.9" />
<circle cx="252.5" cy="846.0" r="11.0" fill="#e2e2e2" stroke="#d0d0d0" stroke-width="0.6"/>
<path d="M211,867.5 C225,836 240,826.5 252.5,826.5 C266,826.5 280,836 293,865.5" fill="none" stroke="#86d4d4" stroke-width="18.5" />
<path d="M211,867.5 C225,836 240,826.5 252.5,826.5 C266,826.5 280,836 293,865.5" fill="none" stroke="#58b8b8" stroke-width="14.899999999999999" />
<path d="M211,867.5 C225,836 240,826.5 252.5,826.5 C266,826.5 280,836 293,865.5" fill="none" stroke="#86d4d4" stroke-width="13.7" />
<path d="M211,867.5 C225,836 240,826.5 252.5,826.5 C266,826.5 280,836 293,865.5" fill="none" stroke="#58b8b8" stroke-width="10.299999999999999" />
<path d="M211,867.5 C225,836 240,826.5 252.5,826.5 C266,826.5 280,836 293,865.5" fill="none" stroke="#86d4d4" stroke-width="9.1" />
<path d="M211,867.5 C225,836 240,826.5 252.5,826.5 C266,826.5 280,836 293,865.5" fill="none" stroke="#58b8b8" stroke-width="5.7" />
<path d="M211,867.5 C225,836 240,826.5 252.5,826.5 C266,826.5 280,836 293,865.5" fill="none" stroke="#86d4d4" stroke-width="4.5" />
<path d="M211,867.5 C225,836 240,826.5 252.5,826.5 C266,826.5 280,836 293,865.5" fill="none" stroke="#58b8b8" stroke-width="1.9" />
<path d="M211,867.5 C225,836 240,826.5 252.5,826.5 C266,826.5 280,836 293,865.5" fill="none" stroke="#86d4d4" stroke-width="0.7" />
<g transform="rotate(-44.5 393.7 847.5)"><rect x="359.7" y="839.5" width="68" height="16" fill="#dfdfdf"/><rect x="359.7" y="839.5" width="68" height="5" fill="#ececec"/></g>
<line x1="370.5" y1="823.0" x2="415.0" y2="867.5" stroke="#86d4d4" stroke-width="15" stroke-linecap="round"/>
<line x1="367.3" y1="826.2" x2="411.8" y2="870.7" stroke="#58b8b8" stroke-width="0.6" />
<line x1="369.4" y1="824.1" x2="413.9" y2="868.6" stroke="#58b8b8" stroke-width="0.6" />
<line x1="371.6" y1="821.9" x2="416.1" y2="866.4" stroke="#58b8b8" stroke-width="0.6" />
<line x1="373.7" y1="819.8" x2="418.2" y2="864.3" stroke="#58b8b8" stroke-width="0.6" />
<rect x="257.2" y="961.7" width="76.7" height="61.6" fill="#9bc97c" />
<path d="M257.2,924.3 H332.9 L339,920.3" fill="none" stroke="#333" stroke-width="1" />
<line x1="333.9" y1="923.7" x2="333.9" y2="1023.3" stroke="#333" stroke-width="1" />
<line x1="339.0" y1="920.3" x2="339.0" y2="1023.3" stroke="#333" stroke-width="1" />
<path d="M339,920.3 C350,912 354,901.5 368,900.5 H405.6" fill="none" stroke="#333" stroke-width="1" />
<path d="M340,944.5 C352,936 356,927.4 372,926.8 H405.6" fill="none" stroke="#555" stroke-width="0.8" />
<path d="M341,991 C352,981 358,973 376,972.2 H405.6" fill="none" stroke="#555" stroke-width="0.8" />
<line x1="257.0" y1="961.3" x2="405.6" y2="961.3" stroke="#333" stroke-width="0.9" stroke-dasharray="2 1.6"/>
<text x="385.0" y="922.4" font-size="7.2" font-weight="bold" font-style="italic" fill="#333" textLength="22.6" lengthAdjust="spacingAndGlyphs">LUMO</text>
<text x="388.4" y="982.0" font-size="7.2" font-weight="bold" font-style="italic" fill="#333" textLength="23.2" lengthAdjust="spacingAndGlyphs">HOMO</text>
<text x="368.2" y="1002.0" font-size="9.2" font-weight="bold" fill="#333" textLength="51.5" lengthAdjust="spacingAndGlyphs">PEDOT:PSS</text>
<text x="294.3" y="993.0" font-size="9.2" font-weight="bold" fill="#333" text-anchor="middle">Al</text>
<text x="278.4" y="1017.6" font-size="8" font-weight="bold" font-style="italic" fill="#35aacc" textLength="33.3" lengthAdjust="spacingAndGlyphs">Current</text>
<line x1="274.3" y1="1007.1" x2="315.8" y2="1007.1" stroke="#35aacc" stroke-width="3.4" /><polygon points="321.8,1007.1 315.8,1010.4 315.8,1003.9" fill="#35aacc"/>
<text x="274.0" y="946.0" font-size="9.2" font-weight="bold" font-style="italic" fill="#e0303a" textLength="28.6" lengthAdjust="spacingAndGlyphs">E<tspan font-size="5.5" dy="1.5">Friction</tspan></text>
<polygon points="304.6,938.5 314.5,934.5 318.5,940.0 325.0,938.0 335.0,958.7 322.5,948.5 317.0,951.0 312.5,944.5" fill="#e8202c" />
<line x1="329.9" y1="928.4" x2="303.5" y2="928.4" stroke="#f2b224" stroke-width="3.4" /><polygon points="297.5,928.4 303.5,925.1 303.5,931.6" fill="#f2b224"/>
<line x1="350.0" y1="978.9" x2="350.0" y2="946.5" stroke="#f2b224" stroke-width="3.4" /><polygon points="350.0,940.5 353.2,946.5 346.8,946.5" fill="#f2b224"/>
<circle cx="340.4" cy="938.5" r="3.6" fill="#2f62b8" />
<circle cx="350.7" cy="930.4" r="3.6" fill="#2f62b8" />
<circle cx="339.0" cy="976.8" r="2.9" fill="#fff" stroke="#2f62b8" stroke-width="1.1"/>
<circle cx="343.4" cy="993.4" r="2.9" fill="#fff" stroke="#2f62b8" stroke-width="1.1"/>
<circle cx="352.0" cy="986.5" r="2.9" fill="#fff" stroke="#2f62b8" stroke-width="1.1"/>
<circle cx="361.2" cy="980.5" r="2.9" fill="#fff" stroke="#2f62b8" stroke-width="1.1"/>
<circle cx="370.3" cy="976.4" r="2.9" fill="#fff" stroke="#2f62b8" stroke-width="1.1"/>
<line x1="374.0" y1="938.3" x2="382.0" y2="938.3" stroke="#333" stroke-width="1" />
<line x1="396.0" y1="938.8" x2="404.0" y2="938.8" stroke="#333" stroke-width="1" />
<line x1="381.0" y1="943.6" x2="389.0" y2="943.6" stroke="#333" stroke-width="1" />
<line x1="360.0" y1="945.5" x2="368.0" y2="945.5" stroke="#333" stroke-width="1" />
<line x1="389.0" y1="950.6" x2="397.0" y2="950.6" stroke="#333" stroke-width="1" />
<line x1="366.0" y1="953.0" x2="374.0" y2="953.0" stroke="#333" stroke-width="1" />
<line x1="377.0" y1="966.3" x2="385.0" y2="966.3" stroke="#333" stroke-width="1" />
<line x1="357.0" y1="968.3" x2="365.0" y2="968.3" stroke="#333" stroke-width="1" />
<line x1="335.0" y1="950.5" x2="343.0" y2="950.5" stroke="#333" stroke-width="0.9" />
<line x1="335.0" y1="956.2" x2="343.0" y2="956.2" stroke="#333" stroke-width="0.9" />
<line x1="335.0" y1="960.7" x2="343.0" y2="960.7" stroke="#333" stroke-width="0.9" />
<line x1="335.0" y1="964.7" x2="343.0" y2="964.7" stroke="#333" stroke-width="0.9" />
<line x1="335.0" y1="969.8" x2="343.0" y2="969.8" stroke="#333" stroke-width="0.9" />
<text x="248.0" y="959.8" font-size="5.6" font-weight="bold" font-style="italic" fill="#333">E<tspan font-size="3.8" dy="1">F, Al</tspan></text>
<text x="402.6" y="958.8" font-size="5.6" font-weight="bold" font-style="italic" fill="#333" textLength="34.0" lengthAdjust="spacingAndGlyphs">E<tspan font-size="3.8" dy="1">F, PEDOT:PSS</tspan></text>
<text x="340.4" y="1029.8" font-size="7.6" font-weight="bold" fill="#333" textLength="50.0" lengthAdjust="spacingAndGlyphs">Interfacial gap</text>
<line x1="334.5" y1="1016.5" x2="340.5" y2="1024.5" stroke="#3f63b4" stroke-width="0.9" stroke-dasharray="1.6 1.2"/>
<!-- s_f -->
<linearGradient id="gPanelF" x1="0" y1="0" x2="1" y2="0.25"><stop offset="0" stop-color="#fbfbfd"/><stop offset="0.25" stop-color="#f4f3fa"/><stop offset="0.6" stop-color="#e7e2f3"/><stop offset="1" stop-color="#d9d0ec"/></linearGradient>
<rect x="457.3" y="671.0" width="551.7" height="165.0" fill="url(#gPanelF)" stroke="#d9d9e2" stroke-width="0.8" rx="9" filter="url(#boxsh)"/>
<text x="440.4" y="692.0" font-size="23.5" font-weight="bold" fill="#777" textLength="25.0" lengthAdjust="spacingAndGlyphs" stroke="#777" stroke-width="1.1" stroke-linejoin="round" filter="url(#lblsh)">(f)</text><text x="440.4" y="692.0" font-size="23.5" font-weight="bold" fill="#fff" textLength="25.0" lengthAdjust="spacingAndGlyphs" stroke="#fff" stroke-width="0.3">(f)</text>
<path d="M484.7,696.0 Q450.8,743.6 483.3,802.8" fill="none" stroke="#3b63ba" stroke-width="13" /><path d="M484.7,696.0 Q450.8,743.6 483.3,802.8" fill="none" stroke="#6f93e0" stroke-width="4.55" transform="translate(-1.9,0)" opacity="0.6"/>
<path d="M588.5,696.0 Q556.2,744.4 590.0,801.3" fill="none" stroke="#7ad2c2" stroke-width="13" /><path d="M588.5,696.0 Q556.2,744.4 590.0,801.3" fill="none" stroke="#aee8dc" stroke-width="4.55" transform="translate(-1.9,0)" opacity="0.6"/>
<path d="M672.2,675.9 Q642.7,710.5 673.6,745.1" fill="none" stroke="#6ccab8" stroke-width="10" /><path d="M672.2,675.9 Q642.7,710.5 673.6,745.1" fill="none" stroke="#a6e4d6" stroke-width="3.5" transform="translate(-1.5,0)" opacity="0.6"/>
<path d="M673.6,763.8 Q644.8,797.6 673.6,834.5" fill="none" stroke="#6ccab8" stroke-width="10" /><path d="M673.6,763.8 Q644.8,797.6 673.6,834.5" fill="none" stroke="#a6e4d6" stroke-width="3.5" transform="translate(-1.5,0)" opacity="0.6"/>
<polygon points="484.8,748.2 544.4,747.0 541.5,752.0 558.3,744.2 541.2,737.0 544.3,742.0 484.6,743.2" fill="#f0da6e" />
<polygon points="595.2,745.9 642.9,726.7 642.0,732.4 654.9,719.1 636.3,718.5 641.0,722.0 593.4,741.3" fill="#f0da6e" />
<polygon points="595.2,762.8 645.0,774.6 640.9,778.8 659.2,775.4 644.4,764.2 646.2,769.7 596.4,758.0" fill="#f0da6e" />
<polygon points="696.7,715.0 740.3,715.0 737.3,720.0 754.3,712.5 737.3,705.0 740.3,710.0 696.7,710.0" fill="#f0da6e" />
<polygon points="680.8,810.5 740.3,810.5 737.3,815.5 754.3,808.0 737.3,800.5 740.3,805.5 680.8,805.5" fill="#f0da6e" />
<polygon points="846.7,710.2 901.2,710.2 898.2,715.2 915.2,707.7 898.2,700.2 901.2,705.2 846.7,705.2" fill="#f0da6e" />
<polygon points="775.0,810.0 838.6,810.0 835.6,815.0 852.6,807.5 835.6,800.0 838.6,805.0 775.0,805.0" fill="#f0da6e" />
<polygon points="929.1,749.4 929.1,777.2 924.6,774.2 931.6,788.2 938.6,774.2 934.1,777.2 934.1,749.4" fill="#f0da6e" />
<text x="499.7" y="725.8" font-size="8.8" fill="#3a3a44" textLength="40.3" lengthAdjust="spacingAndGlyphs">O₂ Plasma</text>
<text x="499.7" y="736.5" font-size="8.8" fill="#3a3a44" textLength="37.0" lengthAdjust="spacingAndGlyphs">Activation</text>
<g transform="translate(617,716.5) rotate(-22)"><text x="0" y="-2" font-size="8.6" fill="#3a3a44" text-anchor="middle" textLength="36" lengthAdjust="spacingAndGlyphs">Ultrasonic</text><text x="1" y="8.6" font-size="8.6" fill="#3a3a44" text-anchor="middle" textLength="34" lengthAdjust="spacingAndGlyphs">treatment</text></g>
<g transform="translate(616,784) rotate(19)"><text x="0" y="-2" font-size="8.6" fill="#3a3a44" text-anchor="middle" textLength="28" lengthAdjust="spacingAndGlyphs">Oil bath</text><text x="-2" y="8.6" font-size="8.6" fill="#3a3a44" text-anchor="middle" textLength="25" lengthAdjust="spacingAndGlyphs">dipping</text></g>
<line x1="669.5" y1="687.9" x2="678.5" y2="687.9" stroke="#444" stroke-width="0.9" />
<text x="679.4" y="690.3" font-size="7.4" fill="#4c3a86" textLength="16.0" lengthAdjust="spacingAndGlyphs">CTA⁺</text>
<line x1="667.5" y1="700.3" x2="676.5" y2="700.3" stroke="#444" stroke-width="0.9" />
<text x="677.4" y="702.7" font-size="7.4" fill="#4c3a86" textLength="16.0" lengthAdjust="spacingAndGlyphs">CTA⁺</text>
<line x1="669.5" y1="713.0" x2="678.5" y2="713.0" stroke="#444" stroke-width="0.9" />
<text x="679.4" y="715.4" font-size="7.4" fill="#4c3a86" textLength="16.0" lengthAdjust="spacingAndGlyphs">CTA⁺</text>
<line x1="671.0" y1="725.4" x2="680.0" y2="725.4" stroke="#444" stroke-width="0.9" />
<text x="680.9" y="727.8" font-size="7.4" fill="#4c3a86" textLength="16.0" lengthAdjust="spacingAndGlyphs">CTA⁺</text>
<text x="701.0" y="693.3" font-size="8.8" fill="#3a3a44" textLength="46.0" lengthAdjust="spacingAndGlyphs">Electrostatic</text>
<text x="701.0" y="704.8" font-size="8.8" fill="#3a3a44" textLength="39.0" lengthAdjust="spacingAndGlyphs">adsorption</text>
<text x="683.2" y="789.3" font-size="8.8" fill="#3a3a44" textLength="40.0" lengthAdjust="spacingAndGlyphs">60 C, 24 h</text>
<text x="683.2" y="800.0" font-size="8.8" fill="#3a3a44" textLength="56.0" lengthAdjust="spacingAndGlyphs">Vacuum drying</text>
<circle cx="673.0" cy="784.8" r="0.7" fill="#333" />
<path d="M764.6,676.0 L765.5,677.8 L766.2,679.5 L766.8,681.3 L767.3,683.1 L767.6,684.9 L767.7,686.6 L767.7,688.4 L767.5,690.2 L767.1,692.0 L766.6,693.8 L766.0,695.5 L765.3,697.3 L764.5,699.1 L763.8,700.9 L763.0,702.6 L762.3,704.4 L761.7,706.2 L761.2,708.0 L760.9,709.7 L760.7,711.5 L760.7,713.3 L760.8,715.0 L761.1,716.8 L761.6,718.6 L762.3,720.4 L763.0,722.1 L763.9,723.9 L764.8,725.7 L765.7,727.5 L766.7,729.2 L767.6,731.0 L768.4,732.8 L769.1,734.6 L769.7,736.4 L770.1,738.1 L770.4,739.9 L770.5,741.7 L770.4,743.5 L770.1,745.2 L769.7,747.0" fill="none" stroke="#9a5eae" stroke-width="10.5" stroke-linejoin="round"/><path d="M764.6,676.0 L765.5,677.8 L766.2,679.5 L766.8,681.3 L767.3,683.1 L767.6,684.9 L767.7,686.6 L767.7,688.4 L767.5,690.2 L767.1,692.0 L766.6,693.8 L766.0,695.5 L765.3,697.3 L764.5,699.1 L763.8,700.9 L763.0,702.6 L762.3,704.4 L761.7,706.2 L761.2,708.0 L760.9,709.7 L760.7,711.5 L760.7,713.3 L760.8,715.0 L761.1,716.8 L761.6,718.6 L762.3,720.4 L763.0,722.1 L763.9,723.9 L764.8,725.7 L765.7,727.5 L766.7,729.2 L767.6,731.0 L768.4,732.8 L769.1,734.6 L769.7,736.4 L770.1,738.1 L770.4,739.9 L770.5,741.7 L770.4,743.5 L770.1,745.2 L769.7,747.0" fill="none" stroke="#ba7eca" stroke-width="8.9" stroke-linejoin="round" transform="translate(-0.5,0)"/><path d="M764.6,676.0 L765.5,677.8 L766.2,679.5 L766.8,681.3 L767.3,683.1 L767.6,684.9 L767.7,686.6 L767.7,688.4 L767.5,690.2 L767.1,692.0 L766.6,693.8 L766.0,695.5 L765.3,697.3 L764.5,699.1 L763.8,700.9 L763.0,702.6 L762.3,704.4 L761.7,706.2 L761.2,708.0 L760.9,709.7 L760.7,711.5 L760.7,713.3 L760.8,715.0 L761.1,716.8 L761.6,718.6 L762.3,720.4 L763.0,722.1 L763.9,723.9 L764.8,725.7 L765.7,727.5 L766.7,729.2 L767.6,731.0 L768.4,732.8 L769.1,734.6 L769.7,736.4 L770.1,738.1 L770.4,739.9 L770.5,741.7 L770.4,743.5 L770.1,745.2 L769.7,747.0" fill="none" stroke="#e2bdec" stroke-width="3.15" transform="translate(-2.1,0)" opacity="0.75" stroke-linejoin="round"/><ellipse cx="764.6" cy="676.0" rx="5.2" ry="2" fill="#e2bdec" stroke="#9a5eae" stroke-width="0.5"/>
<path d="M762.3,764.0 L763.2,765.8 L764.0,767.5 L764.7,769.3 L765.3,771.1 L765.7,772.9 L766.0,774.6 L766.1,776.4 L766.1,778.2 L765.9,780.0 L765.5,781.8 L765.0,783.5 L764.5,785.3 L763.8,787.1 L763.1,788.9 L762.3,790.6 L761.6,792.4 L761.0,794.2 L760.4,796.0 L760.0,797.7 L759.6,799.5 L759.5,801.3 L759.5,803.0 L759.6,804.8 L759.9,806.6 L760.4,808.4 L761.0,810.1 L761.7,811.9 L762.6,813.7 L763.4,815.5 L764.3,817.2 L765.2,819.0 L766.1,820.8 L766.9,822.6 L767.5,824.4 L768.1,826.1 L768.5,827.9 L768.8,829.7 L768.9,831.5 L768.8,833.2 L768.5,835.0" fill="none" stroke="#3ea468" stroke-width="10.5" stroke-linejoin="round"/><path d="M762.3,764.0 L763.2,765.8 L764.0,767.5 L764.7,769.3 L765.3,771.1 L765.7,772.9 L766.0,774.6 L766.1,776.4 L766.1,778.2 L765.9,780.0 L765.5,781.8 L765.0,783.5 L764.5,785.3 L763.8,787.1 L763.1,788.9 L762.3,790.6 L761.6,792.4 L761.0,794.2 L760.4,796.0 L760.0,797.7 L759.6,799.5 L759.5,801.3 L759.5,803.0 L759.6,804.8 L759.9,806.6 L760.4,808.4 L761.0,810.1 L761.7,811.9 L762.6,813.7 L763.4,815.5 L764.3,817.2 L765.2,819.0 L766.1,820.8 L766.9,822.6 L767.5,824.4 L768.1,826.1 L768.5,827.9 L768.8,829.7 L768.9,831.5 L768.8,833.2 L768.5,835.0" fill="none" stroke="#5ec486" stroke-width="8.9" stroke-linejoin="round" transform="translate(-0.5,0)"/><path d="M762.3,764.0 L763.2,765.8 L764.0,767.5 L764.7,769.3 L765.3,771.1 L765.7,772.9 L766.0,774.6 L766.1,776.4 L766.1,778.2 L765.9,780.0 L765.5,781.8 L765.0,783.5 L764.5,785.3 L763.8,787.1 L763.1,788.9 L762.3,790.6 L761.6,792.4 L761.0,794.2 L760.4,796.0 L760.0,797.7 L759.6,799.5 L759.5,801.3 L759.5,803.0 L759.6,804.8 L759.9,806.6 L760.4,808.4 L761.0,810.1 L761.7,811.9 L762.6,813.7 L763.4,815.5 L764.3,817.2 L765.2,819.0 L766.1,820.8 L766.9,822.6 L767.5,824.4 L768.1,826.1 L768.5,827.9 L768.8,829.7 L768.9,831.5 L768.8,833.2 L768.5,835.0" fill="none" stroke="#a8e8c0" stroke-width="3.15" transform="translate(-2.1,0)" opacity="0.75" stroke-linejoin="round"/><ellipse cx="762.3" cy="764.0" rx="5.2" ry="2" fill="#a8e8c0" stroke="#3ea468" stroke-width="0.5"/>
<line x1="769.0" y1="687.4" x2="780.0" y2="687.4" stroke="#444" stroke-width="0.9" />
<text x="781.0" y="689.8" font-size="7.4" fill="#4c3a86" textLength="16.5" lengthAdjust="spacingAndGlyphs">CTA⁺</text>
<line x1="798.5" y1="687.4" x2="810.0" y2="687.4" stroke="#666" stroke-width="0.7" stroke-dasharray="1.5 1"/>
<text x="817.0" y="689.8" font-size="7.4" font-weight="bold" fill="#4c3a86" text-anchor="middle">OH</text>
<line x1="823.5" y1="687.4" x2="830.3" y2="687.4" stroke="#444" stroke-width="0.9" />
<line x1="769.0" y1="699.3" x2="780.0" y2="699.3" stroke="#444" stroke-width="0.9" />
<text x="781.0" y="701.7" font-size="7.4" fill="#4c3a86" textLength="16.5" lengthAdjust="spacingAndGlyphs">CTA⁺</text>
<line x1="798.5" y1="699.3" x2="813.0" y2="699.3" stroke="#666" stroke-width="0.7" stroke-dasharray="1.5 1"/>
<text x="817.0" y="701.7" font-size="7.4" font-weight="bold" fill="#4c3a86" text-anchor="middle">F</text>
<line x1="823.5" y1="699.3" x2="830.3" y2="699.3" stroke="#444" stroke-width="0.9" />
<line x1="769.0" y1="712.1" x2="780.0" y2="712.1" stroke="#444" stroke-width="0.9" />
<text x="781.0" y="714.5" font-size="7.4" fill="#4c3a86" textLength="16.5" lengthAdjust="spacingAndGlyphs">CTA⁺</text>
<line x1="798.5" y1="712.1" x2="813.0" y2="712.1" stroke="#666" stroke-width="0.7" stroke-dasharray="1.5 1"/>
<text x="817.0" y="714.5" font-size="7.4" font-weight="bold" fill="#4c3a86" text-anchor="middle">O</text>
<line x1="823.5" y1="712.1" x2="830.3" y2="712.1" stroke="#444" stroke-width="0.9" />
<line x1="769.0" y1="723.8" x2="780.0" y2="723.8" stroke="#444" stroke-width="0.9" />
<text x="781.0" y="726.2" font-size="7.4" fill="#4c3a86" textLength="16.5" lengthAdjust="spacingAndGlyphs">CTA⁺</text>
<line x1="798.5" y1="723.8" x2="810.0" y2="723.8" stroke="#666" stroke-width="0.7" stroke-dasharray="1.5 1"/>
<text x="817.0" y="726.2" font-size="7.4" font-weight="bold" fill="#4c3a86" text-anchor="middle">OH</text>
<line x1="823.5" y1="723.8" x2="830.3" y2="723.8" stroke="#444" stroke-width="0.9" />
<rect x="830.3" y="683.8" width="10.4" height="49.2" fill="#c89aca" />
<text x="831.8" y="741.0" font-size="7" font-weight="bold" fill="#333" textLength="16.4" lengthAdjust="spacingAndGlyphs">Ti₃C₂</text>
<text x="847.6" y="691.4" font-size="8.8" fill="#3a3a44" textLength="69.0" lengthAdjust="spacingAndGlyphs">Room temperature</text>
<text x="847.6" y="701.8" font-size="8.8" fill="#3a3a44" textLength="49.0" lengthAdjust="spacingAndGlyphs">Dipping (6 h)</text>
<rect x="852.6" y="716.6" width="56.7" height="32.8" fill="#e8e4f2" stroke="#333" stroke-width="0.9" stroke-dasharray="1.4 1.2" rx="7"/>
<circle cx="861.0" cy="724.5" r="2.9" fill="#4fbcc4" /><circle cx="867.6" cy="723.7" r="2.9" fill="#4fbcc4" /><circle cx="874.2" cy="722.9" r="2.9" fill="#4fbcc4" /><circle cx="880.8" cy="722.1" r="2.9" fill="#4fbcc4" /><circle cx="887.4" cy="721.3" r="2.9" fill="#4fbcc4" /><circle cx="894.0" cy="720.5" r="2.9" fill="#4fbcc4" /><circle cx="900.6" cy="719.7" r="2.9" fill="#4fbcc4" /><circle cx="862.6" cy="730.8" r="2.9" fill="#4fbcc4" /><circle cx="869.2" cy="730.0" r="2.9" fill="#4fbcc4" /><circle cx="875.8" cy="729.2" r="2.9" fill="#4fbcc4" /><circle cx="882.4" cy="728.4" r="2.9" fill="#4fbcc4" /><circle cx="889.0" cy="727.6" r="2.9" fill="#4fbcc4" /><circle cx="895.6" cy="726.8" r="2.9" fill="#4fbcc4" /><circle cx="902.2" cy="726.0" r="2.9" fill="#4fbcc4" /><circle cx="864.2" cy="737.1" r="2.9" fill="#4fbcc4" /><circle cx="870.8" cy="736.3" r="2.9" fill="#4fbcc4" /><circle cx="877.4" cy="735.5" r="2.9" fill="#4fbcc4" /><circle cx="884.0" cy="734.7" r="2.9" fill="#4fbcc4" /><circle cx="890.6" cy="733.9" r="2.9" fill="#4fbcc4" /><circle cx="897.2" cy="733.1" r="2.9" fill="#4fbcc4" /><circle cx="903.8" cy="732.3" r="2.9" fill="#4fbcc4" /><circle cx="865.8" cy="743.4" r="2.9" fill="#4fbcc4" /><circle cx="872.4" cy="742.6" r="2.9" fill="#4fbcc4" /><circle cx="879.0" cy="741.8" r="2.9" fill="#4fbcc4" /><circle cx="885.6" cy="741.0" r="2.9" fill="#4fbcc4" /><circle cx="892.2" cy="740.2" r="2.9" fill="#4fbcc4" /><circle cx="898.8" cy="739.4" r="2.9" fill="#4fbcc4" /><circle cx="905.4" cy="738.6" r="2.9" fill="#4fbcc4" /><circle cx="864.5" cy="727.0" r="1.5" fill="#1c1c2a" /><circle cx="871.1" cy="726.2" r="1.5" fill="#1c1c2a" /><circle cx="877.7" cy="725.4" r="1.5" fill="#1c1c2a" /><circle cx="884.3" cy="724.6" r="1.5" fill="#1c1c2a" /><circle cx="890.9" cy="723.8" r="1.5" fill="#1c1c2a" /><circle cx="897.5" cy="723.0" r="1.5" fill="#1c1c2a" /><circle cx="866.1" cy="733.3" r="1.5" fill="#1c1c2a" /><circle cx="872.7" cy="732.5" r="1.5" fill="#1c1c2a" /><circle cx="879.3" cy="731.7" r="1.5" fill="#1c1c2a" /><circle cx="885.9" cy="730.9" r="1.5" fill="#1c1c2a" /><circle cx="892.5" cy="730.1" r="1.5" fill="#1c1c2a" /><circle cx="899.1" cy="729.3" r="1.5" fill="#1c1c2a" /><circle cx="867.7" cy="739.6" r="1.5" fill="#1c1c2a" /><circle cx="874.3" cy="738.8" r="1.5" fill="#1c1c2a" /><circle cx="880.9" cy="738.0" r="1.5" fill="#1c1c2a" /><circle cx="887.5" cy="737.2" r="1.5" fill="#1c1c2a" /><circle cx="894.1" cy="736.4" r="1.5" fill="#1c1c2a" /><circle cx="900.7" cy="735.6" r="1.5" fill="#1c1c2a" />
<line x1="841.0" y1="729.0" x2="850.2" y2="735.3" stroke="#333" stroke-width="0.8" stroke-dasharray="1.4 1.2"/><polygon points="853.5,737.5 849.2,736.7 851.2,733.8" fill="#333"/>
<path d="M928.4,677.5 L929.2,679.2 L929.8,680.8 L930.3,682.5 L930.7,684.1 L930.9,685.8 L931.0,687.5 L930.8,689.1 L930.5,690.8 L930.1,692.5 L929.6,694.1 L929.0,695.8 L928.3,697.5 L927.5,699.1 L926.8,700.8 L926.1,702.4 L925.5,704.1 L925.0,705.8 L924.6,707.4 L924.3,709.1 L924.2,710.8 L924.3,712.4 L924.5,714.1 L924.9,715.7 L925.4,717.4 L926.1,719.1 L926.8,720.7 L927.7,722.4 L928.6,724.0 L929.5,725.7 L930.3,727.4 L931.2,729.0 L931.9,730.7 L932.5,732.4 L933.0,734.0 L933.3,735.7 L933.5,737.4 L933.5,739.0 L933.3,740.7 L933.0,742.3 L932.6,744.0" fill="none" stroke="#a4c466" stroke-width="10.5" stroke-linejoin="round"/><path d="M928.4,677.5 L929.2,679.2 L929.8,680.8 L930.3,682.5 L930.7,684.1 L930.9,685.8 L931.0,687.5 L930.8,689.1 L930.5,690.8 L930.1,692.5 L929.6,694.1 L929.0,695.8 L928.3,697.5 L927.5,699.1 L926.8,700.8 L926.1,702.4 L925.5,704.1 L925.0,705.8 L924.6,707.4 L924.3,709.1 L924.2,710.8 L924.3,712.4 L924.5,714.1 L924.9,715.7 L925.4,717.4 L926.1,719.1 L926.8,720.7 L927.7,722.4 L928.6,724.0 L929.5,725.7 L930.3,727.4 L931.2,729.0 L931.9,730.7 L932.5,732.4 L933.0,734.0 L933.3,735.7 L933.5,737.4 L933.5,739.0 L933.3,740.7 L933.0,742.3 L932.6,744.0" fill="none" stroke="#c8e28e" stroke-width="8.9" stroke-linejoin="round" transform="translate(-0.5,0)"/><path d="M928.4,677.5 L929.2,679.2 L929.8,680.8 L930.3,682.5 L930.7,684.1 L930.9,685.8 L931.0,687.5 L930.8,689.1 L930.5,690.8 L930.1,692.5 L929.6,694.1 L929.0,695.8 L928.3,697.5 L927.5,699.1 L926.8,700.8 L926.1,702.4 L925.5,704.1 L925.0,705.8 L924.6,707.4 L924.3,709.1 L924.2,710.8 L924.3,712.4 L924.5,714.1 L924.9,715.7 L925.4,717.4 L926.1,719.1 L926.8,720.7 L927.7,722.4 L928.6,724.0 L929.5,725.7 L930.3,727.4 L931.2,729.0 L931.9,730.7 L932.5,732.4 L933.0,734.0 L933.3,735.7 L933.5,737.4 L933.5,739.0 L933.3,740.7 L933.0,742.3 L932.6,744.0" fill="none" stroke="#eaf6c6" stroke-width="3.15" transform="translate(-2.1,0)" opacity="0.75" stroke-linejoin="round"/><ellipse cx="928.4" cy="677.5" rx="5.2" ry="2" fill="#eaf6c6" stroke="#a4c466" stroke-width="0.5"/>
<polygon points="927.5,742.0 936.0,744.5 934.5,752.0 926.5,749.0" fill="#d48cc4" />
<circle cx="924.2" cy="688.3" r="4.8" fill="none" stroke="#222" stroke-width="0.9" stroke-dasharray="1.4 1.2"/>
<line x1="929.0" y1="690.5" x2="935.2" y2="695.0" stroke="#222" stroke-width="0.8" /><polygon points="938.0,697.0 934.3,696.2 936.0,693.7" fill="#222"/>
<rect x="937.6" y="672.5" width="70.0" height="79.9" fill="#e4dcf0" stroke="#333" stroke-width="0.9" stroke-dasharray="1.4 1.2" rx="9"/>
<polygon points="954.6,695.8 958.4,700.9 954.7,706.1 948.7,704.2 948.6,697.9" fill="none" stroke="#e2568e" stroke-width="0.7" /><polygon points="962.0,683.6 967.1,687.3 965.2,693.4 958.8,693.4 956.9,687.3" fill="none" stroke="#e2568e" stroke-width="0.7" /><polygon points="982.0,683.6 987.1,687.3 985.2,693.4 978.8,693.4 976.9,687.3" fill="none" stroke="#e2568e" stroke-width="0.7" /><polygon points="989.4,695.8 995.4,697.9 995.3,704.2 989.3,706.1 985.6,700.9" fill="none" stroke="#e2568e" stroke-width="0.7" /><polygon points="972.0,694.6 977.1,698.3 975.2,704.4 968.8,704.4 966.9,698.3" fill="none" stroke="#e2568e" stroke-width="0.7" /><polygon points="950.9,710.0 948.7,713.8 944.3,713.8 942.1,710.0 944.3,706.2 948.7,706.2" fill="none" stroke="#e2568e" stroke-width="0.7" /><polygon points="960.4,679.5 958.2,683.3 953.8,683.3 951.6,679.5 953.8,675.7 958.2,675.7" fill="none" stroke="#e2568e" stroke-width="0.7" /><polygon points="976.4,679.0 974.2,682.8 969.8,682.8 967.6,679.0 969.8,675.2 974.2,675.2" fill="none" stroke="#e2568e" stroke-width="0.7" /><polygon points="992.4,679.5 990.2,683.3 985.8,683.3 983.6,679.5 985.8,675.7 990.2,675.7" fill="none" stroke="#e2568e" stroke-width="0.7" /><polygon points="1001.9,710.0 999.7,713.8 995.3,713.8 993.1,710.0 995.3,706.2 999.7,706.2" fill="none" stroke="#e2568e" stroke-width="0.7" /><polygon points="956.4,690.0 954.2,693.8 949.8,693.8 947.6,690.0 949.8,686.2 954.2,686.2" fill="none" stroke="#e2568e" stroke-width="0.7" /><polygon points="996.4,690.0 994.2,693.8 989.8,693.8 987.6,690.0 989.8,686.2 994.2,686.2" fill="none" stroke="#e2568e" stroke-width="0.7" /><line x1="957.5" y1="703.0" x2="967.0" y2="702.0" stroke="#e2568e" stroke-width="0.7" /><line x1="977.0" y1="702.0" x2="986.5" y2="703.0" stroke="#e2568e" stroke-width="0.7" /><line x1="972.0" y1="705.0" x2="972.0" y2="742.0" stroke="#e2568e" stroke-width="0.8" /><line x1="972.0" y1="712.0" x2="978.0" y2="713.5" stroke="#e2568e" stroke-width="0.6" /><line x1="972.0" y1="715.0" x2="966.5" y2="716.5" stroke="#e2568e" stroke-width="0.6" /><circle cx="979.5" cy="713.8" r="1.0" fill="#e2568e" /><line x1="972.0" y1="719.0" x2="978.0" y2="720.5" stroke="#e2568e" stroke-width="0.6" /><line x1="972.0" y1="722.0" x2="966.5" y2="723.5" stroke="#e2568e" stroke-width="0.6" /><circle cx="979.5" cy="720.8" r="1.0" fill="#e2568e" /><line x1="972.0" y1="726.0" x2="978.0" y2="727.5" stroke="#e2568e" stroke-width="0.6" /><line x1="972.0" y1="729.0" x2="966.5" y2="730.5" stroke="#e2568e" stroke-width="0.6" /><circle cx="979.5" cy="727.8" r="1.0" fill="#e2568e" /><line x1="972.0" y1="733.0" x2="978.0" y2="734.5" stroke="#e2568e" stroke-width="0.6" /><line x1="972.0" y1="736.0" x2="966.5" y2="737.5" stroke="#e2568e" stroke-width="0.6" /><circle cx="979.5" cy="734.8" r="1.0" fill="#e2568e" /><line x1="972.0" y1="742.0" x2="1001.0" y2="742.0" stroke="#e2568e" stroke-width="0.8" /><circle cx="943.0" cy="700.0" r="1.1" fill="#e2568e" /><circle cx="1001.0" cy="700.0" r="1.1" fill="#e2568e" /><circle cx="962.0" cy="675.0" r="1.1" fill="#e2568e" /><circle cx="982.0" cy="675.0" r="1.1" fill="#e2568e" /><circle cx="972.0" cy="673.8" r="1.1" fill="#e2568e" /><circle cx="948.0" cy="684.0" r="1.1" fill="#e2568e" /><circle cx="996.0" cy="684.0" r="1.1" fill="#e2568e" />
<text x="937.6" y="764.4" font-size="9" fill="#3a3a44" textLength="40.2" lengthAdjust="spacingAndGlyphs">PEDOT:PF</text>
<text x="934.6" y="796.6" font-size="9" fill="#3a3a44" textLength="56.6" lengthAdjust="spacingAndGlyphs">Spiral Weaving</text>
<text x="781.0" y="751.9" font-size="8.8" fill="#3a3a44" textLength="22.5" lengthAdjust="spacingAndGlyphs">PBFD</text>
<rect x="791.5" y="756.0" width="108.8" height="39.6" fill="#e6e2f2" stroke="#333" stroke-width="0.9" stroke-dasharray="1.4 1.2" rx="8"/>
<polygon points="807.6,770.7 811.5,775.9 807.8,781.2 801.6,779.3 801.5,772.8" fill="none" stroke="#74b4d4" stroke-width="0.8" /><polygon points="821.0,776.0 818.2,780.8 812.8,780.8 810.0,776.0 812.8,771.2 818.2,771.2" fill="none" stroke="#74b4d4" stroke-width="0.8" /><polygon points="823.4,767.7 829.5,769.8 829.4,776.3 823.2,778.2 819.5,772.9" fill="none" stroke="#74b4d4" stroke-width="0.8" /><line x1="830.0" y1="771.0" x2="838.0" y2="780.0" stroke="#74b4d4" stroke-width="0.9" /><polygon points="844.6,776.7 848.5,781.9 844.8,787.2 838.6,785.3 838.5,778.8" fill="none" stroke="#74b4d4" stroke-width="0.8" /><polygon points="858.0,780.0 855.2,784.8 849.8,784.8 847.0,780.0 849.8,775.2 855.2,775.2" fill="none" stroke="#74b4d4" stroke-width="0.8" /><polygon points="860.4,771.7 866.5,773.8 866.4,780.3 860.2,782.2 856.5,776.9" fill="none" stroke="#74b4d4" stroke-width="0.8" /><polygon points="877.0,778.0 874.5,782.3 869.5,782.3 867.0,778.0 869.5,773.7 874.5,773.7" fill="none" stroke="#74b4d4" stroke-width="0.8" /><polygon points="882.5,771.1 886.5,775.4 883.6,780.5 877.8,779.4 877.1,773.5" fill="none" stroke="#74b4d4" stroke-width="0.8" /><circle cx="800.0" cy="784.0" r="1.2" fill="#74b4d4" /><circle cx="803.0" cy="768.0" r="1.2" fill="#74b4d4" /><circle cx="828.0" cy="765.0" r="1.2" fill="#74b4d4" /><circle cx="846.0" cy="790.0" r="1.2" fill="#74b4d4" /><circle cx="865.0" cy="769.0" r="1.2" fill="#74b4d4" /><circle cx="886.0" cy="769.0" r="1.2" fill="#74b4d4" /><circle cx="889.0" cy="783.0" r="1.2" fill="#74b4d4" /><line x1="797.0" y1="762.0" x2="797.0" y2="790.0" stroke="#74b4d4" stroke-width="0.5" />
<circle cx="763.5" cy="800.5" r="5.2" fill="none" stroke="#222" stroke-width="0.9" stroke-dasharray="1.4 1.2"/>
<line x1="768.5" y1="797.5" x2="787.1" y2="785.6" stroke="#222" stroke-width="0.8" stroke-dasharray="1.4 1.2"/><polygon points="790.5,783.5 788.1,787.1 786.2,784.2" fill="#222"/>
<line x1="872.0" y1="815.0" x2="990.0" y2="815.0" stroke="#58c274" stroke-width="15" stroke-linecap="round"/><ellipse cx="875.8" cy="812.4" rx="10.7" ry="3.6" fill="#dbe97a" stroke="#b9cc5a" stroke-width="0.4" transform="rotate(24 875.8 812.4)"/><ellipse cx="882.0" cy="817.8" rx="10.7" ry="3.7" fill="#5ec67a" stroke="#3fa45c" stroke-width="0.4" transform="rotate(-24 882.0 817.8)"/><ellipse cx="889.5" cy="812.4" rx="10.7" ry="3.6" fill="#dbe97a" stroke="#b9cc5a" stroke-width="0.4" transform="rotate(24 889.5 812.4)"/><ellipse cx="895.6" cy="817.8" rx="10.7" ry="3.7" fill="#5ec67a" stroke="#3fa45c" stroke-width="0.4" transform="rotate(-24 895.6 817.8)"/><ellipse cx="903.2" cy="812.4" rx="10.7" ry="3.6" fill="#dbe97a" stroke="#b9cc5a" stroke-width="0.4" transform="rotate(24 903.2 812.4)"/><ellipse cx="909.3" cy="817.8" rx="10.7" ry="3.7" fill="#5ec67a" stroke="#3fa45c" stroke-width="0.4" transform="rotate(-24 909.3 817.8)"/><ellipse cx="916.8" cy="812.4" rx="10.7" ry="3.6" fill="#dbe97a" stroke="#b9cc5a" stroke-width="0.4" transform="rotate(24 916.8 812.4)"/><ellipse cx="923.0" cy="817.8" rx="10.7" ry="3.7" fill="#5ec67a" stroke="#3fa45c" stroke-width="0.4" transform="rotate(-24 923.0 817.8)"/><ellipse cx="930.5" cy="812.4" rx="10.7" ry="3.6" fill="#dbe97a" stroke="#b9cc5a" stroke-width="0.4" transform="rotate(24 930.5 812.4)"/><ellipse cx="936.6" cy="817.8" rx="10.7" ry="3.7" fill="#5ec67a" stroke="#3fa45c" stroke-width="0.4" transform="rotate(-24 936.6 817.8)"/><ellipse cx="944.2" cy="812.4" rx="10.7" ry="3.6" fill="#dbe97a" stroke="#b9cc5a" stroke-width="0.4" transform="rotate(24 944.2 812.4)"/><ellipse cx="950.3" cy="817.8" rx="10.7" ry="3.7" fill="#5ec67a" stroke="#3fa45c" stroke-width="0.4" transform="rotate(-24 950.3 817.8)"/><ellipse cx="957.8" cy="812.4" rx="10.7" ry="3.6" fill="#dbe97a" stroke="#b9cc5a" stroke-width="0.4" transform="rotate(24 957.8 812.4)"/><ellipse cx="964.0" cy="817.8" rx="10.7" ry="3.7" fill="#5ec67a" stroke="#3fa45c" stroke-width="0.4" transform="rotate(-24 964.0 817.8)"/><ellipse cx="971.5" cy="812.4" rx="10.7" ry="3.6" fill="#dbe97a" stroke="#b9cc5a" stroke-width="0.4" transform="rotate(24 971.5 812.4)"/><ellipse cx="977.6" cy="817.8" rx="10.7" ry="3.7" fill="#5ec67a" stroke="#3fa45c" stroke-width="0.4" transform="rotate(-24 977.6 817.8)"/><ellipse cx="985.2" cy="812.4" rx="10.7" ry="3.6" fill="#dbe97a" stroke="#b9cc5a" stroke-width="0.4" transform="rotate(24 985.2 812.4)"/><ellipse cx="991.3" cy="817.8" rx="10.7" ry="3.7" fill="#5ec67a" stroke="#3fa45c" stroke-width="0.4" transform="rotate(-24 991.3 817.8)"/><polygon points="992.0,810.0 997.5,812.0 996.0,822.0 991.0,820.0" fill="#d9a0d0" />
<rect x="460.4" y="845.9" width="240.1" height="213.7" fill="#d3e9f5" />
<ellipse cx="612" cy="975" rx="70" ry="55" fill="#eef6fb" opacity="0.55" filter="url(#soft4)"/>
<rect x="460.4" y="845.9" width="240.1" height="213.7" fill="none" stroke="#3c3c44" stroke-width="1.4" stroke-dasharray="4.5 3"/>
<text x="546.6" y="870.0" font-size="13.2" fill="#3a3a3a" textLength="93.4" lengthAdjust="spacingAndGlyphs">DC Textile Power</text>
<ellipse cx="503.2" cy="1035" rx="36.5" ry="18" fill="#1b5a92"/>
<polygon points="484.0,952.0 516.0,952.0 514.0,985.0 506.0,1022.0 497.0,1022.0 499.0,985.0 494.0,1020.0 485.0,1020.0" fill="#2a80b4" /><polygon points="500.0,960.0 517.0,955.0 520.0,1000.0 524.0,1040.0 514.0,1042.0 508.0,1000.0" fill="#2a7fae" /><polygon points="508.0,1000.0 520.0,997.0 525.0,1040.0 514.0,1042.0" fill="#a6d8a0" /><polygon points="474.0,1030.0 484.0,1022.0 496.0,1024.0 497.0,1031.0 480.0,1037.0" fill="#e8386a" /><polygon points="504.0,1042.0 514.0,1038.0 526.0,1040.0 527.0,1047.0 508.0,1051.0" fill="#e8386a" /><polygon points="480.0,893.0 492.0,889.0 508.0,893.0 516.0,910.0 516.0,957.0 484.0,957.0 481.0,920.0" fill="#e3306c" /><polygon points="478.0,895.0 484.0,892.0 484.0,918.0 478.0,920.0" fill="#3a5a9c" /><polygon points="508.0,893.0 518.0,905.0 519.0,925.0 511.0,925.0 509.0,905.0" fill="#3a5a9c" /><polygon points="511.0,925.0 519.0,925.0 520.0,950.0 513.0,950.0" fill="#a6d8a0" /><polygon points="513.0,950.0 520.0,950.0 519.0,962.0 514.0,962.0" fill="#e8c8a8" /><polygon points="478.0,920.0 484.0,918.0 485.0,948.0 480.0,948.0" fill="#e8c8a8" /><rect x="486.0" y="931.0" width="16.0" height="13.0" fill="#a8d890" stroke="#fff" stroke-width="0.8" /><rect x="491.0" y="883.0" width="8.0" height="9.0" fill="#e0b898" /><ellipse cx="494.5" cy="877" rx="8.2" ry="10.5" fill="#ecccae"/><path d="M484.5,872 C484,860 500,857 506,864 C509,868 507,880 503.5,888 L501.5,878 C499,870 490,868 484.5,872 Z" fill="#16161c" />
<pattern id="pKnit" width="5" height="6" patternUnits="userSpaceOnUse" patternTransform="rotate(-14)"><rect width="5" height="6" fill="#79ae58"/><path d="M0.5,0.5 L2.5,5 L4.5,0.5" stroke="#cfe4a2" stroke-width="1.6" fill="none"/><circle cx="2.5" cy="1.3" r="1" fill="#ece2a4"/></pattern>
<ellipse cx="610" cy="1004" rx="50" ry="7" fill="#5a6a7a" opacity="0.25" filter="url(#soft2)" transform="rotate(-18 610 1004)"/>
<path d="M538.3,935.0 L552.0,929.0 L574.6,932.0 L588.0,925.0 L603.0,927.0 L616.1,923.3 L632.0,929.0 L647.3,938.8 L683.6,946.6 L678.0,962.0 L655.0,978.0 L631.7,990.8 L595.4,1006.3 L566.8,1011.5 L558.0,985.0 L548.0,958.0 Z" fill="url(#pKnit)" stroke="#4d8f3e" stroke-width="0.8" stroke-linejoin="round"/>
<circle cx="595.4" cy="905.1" r="13.2" fill="#fffdf2" stroke="#f0d48a" stroke-width="4"/>
<circle cx="595.4" cy="905.1" r="9.4" fill="#ffffff" />
<rect x="589.0" y="921.5" width="13.0" height="10.0" fill="#1e2a4a" rx="1.5"/>
<path d="M539.6,932 C541,921 552,922 566,922.5 C578,923 584,925 589.5,926.5" fill="none" stroke="#e0244e" stroke-width="1.8" />
<path d="M602,926 C608,924 612,920 616.1,915" fill="none" stroke="#1e1e28" stroke-width="2" />
<circle cx="673.3" cy="880.4" r="23.2" fill="none" stroke="#3c3c44" stroke-width="1.5" stroke-dasharray="5 3.4"/>
<circle cx="669.4" cy="945.3" r="23.2" fill="none" stroke="#3c3c44" stroke-width="1.5" stroke-dasharray="5 3.4"/>
<circle cx="666.8" cy="1008.9" r="23.2" fill="none" stroke="#3c3c44" stroke-width="1.5" stroke-dasharray="5 3.4"/>
<circle cx="607.8" cy="1028.4" r="23.2" fill="none" stroke="#3c3c44" stroke-width="1.5" stroke-dasharray="5 3.4"/>
<rect x="663.8" y="870.4" width="19.0" height="7.5" fill="#f2f2f6" stroke="#555" stroke-width="0.5" rx="3"/>
<rect x="666.3" y="872.6" width="6.0" height="2.8" fill="#8c3a3a" />
<rect x="663.8" y="878.9" width="19.0" height="7.5" fill="#f2f2f6" stroke="#555" stroke-width="0.5" rx="3"/>
<rect x="666.3" y="881.1" width="6.0" height="2.8" fill="#4a4a8c" />
<rect x="663.8" y="887.4" width="19.0" height="7.5" fill="#f2f2f6" stroke="#555" stroke-width="0.5" rx="3"/>
<rect x="666.3" y="889.6" width="6.0" height="2.8" fill="#4a4a8c" />
<ellipse cx="673.3" cy="869.9" rx="9.5" ry="3" fill="#b84a3a"/>
<path d="M659.4,946.3 a5.5,5.5 0 0 1 2,-10.5 a8,8 0 0 1 15,-1 a6,6 0 0 1 3.5,11.5 Z" fill="#4aa6d8" stroke="#fff" stroke-width="1.2"/>
<line x1="653.4" y1="951.3" x2="686.4" y2="951.3" stroke="#555" stroke-width="1" />
<circle cx="653.4" cy="951.3" r="1.6" fill="#fff" stroke="#555" stroke-width="0.8"/>
<circle cx="686.4" cy="951.3" r="1.6" fill="#fff" stroke="#555" stroke-width="0.8"/>
<line x1="665.4" y1="951.3" x2="665.4" y2="944.3" stroke="#fff" stroke-width="0.9" />
<line x1="669.4" y1="951.3" x2="669.4" y2="944.3" stroke="#fff" stroke-width="0.9" />
<line x1="673.4" y1="951.3" x2="673.4" y2="944.3" stroke="#fff" stroke-width="0.9" />
<path d="M650.3,1009.9 A17,17 0 0 1 676.7,1005.3" fill="none" stroke="#3a9ed0" stroke-width="3.4" stroke-linecap="round" transform="rotate(28 665.3 1017.9)"/>
<path d="M655.1,1012.5 A11.5,11.5 0 0 1 673.0,1009.4" fill="none" stroke="#3a9ed0" stroke-width="3.2" stroke-linecap="round" transform="rotate(28 665.3 1017.9)"/>
<path d="M659.8,1015.0 A6.2,6.2 0 0 1 669.4,1013.3" fill="none" stroke="#3a9ed0" stroke-width="3" stroke-linecap="round" transform="rotate(28 665.3 1017.9)"/>
<circle cx="665.3" cy="1017.9" r="2.6" fill="#3a9ed0" />
<rect x="600.0" y="1015.4" width="15.6" height="26.0" fill="#c8544a" stroke="#fff" stroke-width="1" rx="2.5"/>
<rect x="601.8" y="1018.4" width="12.0" height="18.0" fill="#58c0e8" />
<circle cx="607.8" cy="1038.9" r="1.4" fill="#f4d8d0" />
<line x1="521.0" y1="931.0" x2="526.9" y2="933.1" stroke="#6a4a9c" stroke-width="1.1" stroke-dasharray="2.5 2"/><polygon points="534.5,935.7 525.5,937.1 528.3,929.1" fill="#6a4a9c"/>
<line x1="521.0" y1="946.0" x2="526.9" y2="948.0" stroke="#6a4a9c" stroke-width="1.1" stroke-dasharray="2.5 2"/><polygon points="534.5,950.5 525.6,952.0 528.3,943.9" fill="#6a4a9c"/>
<line x1="522.0" y1="1003.0" x2="532.7" y2="994.5" stroke="#6a4a9c" stroke-width="1.1" stroke-dasharray="2.5 2"/><polygon points="539.0,989.5 535.4,997.8 530.1,991.1" fill="#6a4a9c"/>
<line x1="524.0" y1="1014.0" x2="534.6" y2="1007.8" stroke="#6a4a9c" stroke-width="1.1" stroke-dasharray="2.5 2"/><polygon points="541.5,1003.8 536.7,1011.5 532.4,1004.2" fill="#6a4a9c"/>
<rect x="702.0" y="847.0" width="302.4" height="214.0" fill="none" stroke="#3c3c44" stroke-width="1.4" stroke-dasharray="4.5 3"/>
<clipPath id="cpP1"><rect x="705" y="849" width="100" height="65.3"/></clipPath><clipPath id="cpP2"><rect x="705" y="917.3" width="100" height="68.7"/></clipPath><clipPath id="cpP3"><rect x="705" y="989.6" width="100" height="65.7"/></clipPath>
<linearGradient id="gPh1" x1="0" y1="0" x2="0" y2="1"><stop offset="0" stop-color="#dedede"/><stop offset="1" stop-color="#cfcfcf"/></linearGradient>
<g clip-path="url(#cpP1)"><rect x="705.0" y="849.0" width="100.0" height="65.3" fill="url(#gPh1)" /><polygon points="732.7,849.0 805.0,849.0 805.0,914.3 763.4,914.3 761.4,896.9 735.2,890.1 729.7,856.9" fill="#f3f3f3" /><polygon points="763.4,914.3 761.4,896.9 775.2,902.4 779.2,914.3" fill="#e3e3e3" /><path d="M300,120 L420,40 M330,200 L500,120" fill="none" stroke="#e2e2e2" stroke-width="6" transform="translate(700,845) scale(0.198)"/><path d="M730.1,856.5 L731.7,883.6 Q732.7,890.9 739.6,891.5 L773.7,894.9" fill="none" stroke="#4e5862" stroke-width="4.6" stroke-linejoin="round"/><path d="M730.1,856.5 L731.7,883.6 Q732.7,890.9 739.6,891.5 L773.7,894.9" fill="none" stroke="#98a2ac" stroke-width="1.2" stroke-dasharray="1.2 1.6"/></g>
<g clip-path="url(#cpP2)"><rect x="705.0" y="917.3" width="100.0" height="68.7" fill="#efefef" /><rect x="705.0" y="917.3" width="100.0" height="24.7" fill="#f6f6f6" /><polygon points="705.0,944.0 739.6,945.0 757.4,950.0 763.4,963.8 766.3,986.0 737.6,986.0 733.7,977.7 705.0,977.7" fill="#17171b" /><path d="M711.9,955.9 L749.5,971.7" fill="none" stroke="#2c2c32" stroke-width="5" /><path d="M708.9,943.0 L745.5,946.0 Q757.4,949.0 760.4,959.9 L766.9,982.0" fill="none" stroke="#6a727a" stroke-width="4.6" stroke-linejoin="round"/><path d="M708.9,943.0 L745.5,946.0 Q757.4,949.0 760.4,959.9 L766.9,982.0" fill="none" stroke="#a8b0b8" stroke-width="1.2" stroke-dasharray="1.2 1.6"/><rect x="802.6" y="917.3" width="2.4" height="68.7" fill="#7c7c7c" /><path d="M786,938 C792,934 801,936 802,940 L802,962 C796,966 788,962 786,954 Z" fill="#fbfbfb" stroke="#d0d0d0" stroke-width="0.6"/><rect x="795.0" y="934.5" width="7.0" height="5.5" fill="#555" /><path d="M788,946 H800 M789,953 H801" fill="none" stroke="#c4c4c4" stroke-width="1" /></g>
<g clip-path="url(#cpP3)"><rect x="705.0" y="989.6" width="100.0" height="65.7" fill="#2380b9" /><pattern id="pMat" width="4" height="4" patternUnits="userSpaceOnUse"><path d="M0,0 H4 M0,0 V4" stroke="#3f95cb" stroke-width="0.4"/></pattern><rect x="705.0" y="989.6" width="100.0" height="65.7" fill="url(#pMat)" /><rect x="705.0" y="989.6" width="100.0" height="4.7" fill="#e6e2d6" /><rect x="709.0" y="997.3" width="1.6" height="1.6" fill="#e4eef6" /><rect x="709.0" y="1000.3" width="1.6" height="1.6" fill="#e4eef6" /><rect x="711.6" y="997.3" width="1.6" height="1.6" fill="#e4eef6" /><rect x="711.6" y="1000.3" width="1.6" height="1.6" fill="#e4eef6" /><rect x="714.2" y="997.3" width="1.6" height="1.6" fill="#e4eef6" /><rect x="714.2" y="1000.3" width="1.6" height="1.6" fill="#e4eef6" /><rect x="716.8" y="997.3" width="1.6" height="1.6" fill="#e4eef6" /><rect x="716.8" y="1000.3" width="1.6" height="1.6" fill="#e4eef6" /><rect x="719.4" y="997.3" width="1.6" height="1.6" fill="#e4eef6" /><rect x="719.4" y="1000.3" width="1.6" height="1.6" fill="#e4eef6" /><rect x="722.0" y="997.3" width="1.6" height="1.6" fill="#e4eef6" /><rect x="722.0" y="1000.3" width="1.6" height="1.6" fill="#e4eef6" /><rect x="724.6" y="997.3" width="1.6" height="1.6" fill="#e4eef6" /><rect x="724.6" y="1000.3" width="1.6" height="1.6" fill="#e4eef6" /><path d="M735,991 C745,988 756,992 757,1004 C758,1022 757,1042 754,1056 L732,1056 C727,1040 729,1014 731,1002 Z" fill="#d9dbe0" stroke="#a8acb4" stroke-width="0.8"/><path d="M733,1034 C738,1028 750,1028 754,1036 L753,1056 L732,1056 Z" fill="#27323e" /><path d="M737,996 C742,993 750,994 753,999 L752,1026 C746,1022 740,1022 735,1026 Z" fill="#f2f2f4" /><line x1="736.0" y1="1000.0" x2="752.0" y2="1001.0" stroke="#ffffff" stroke-width="1.3" /><line x1="736.0" y1="1002.0" x2="752.0" y2="1000.5" stroke="#c8ccd2" stroke-width="0.6" /><line x1="736.0" y1="1004.4" x2="752.0" y2="1005.4" stroke="#ffffff" stroke-width="1.3" /><line x1="736.0" y1="1006.4" x2="752.0" y2="1004.9" stroke="#c8ccd2" stroke-width="0.6" /><line x1="736.0" y1="1008.8" x2="752.0" y2="1009.8" stroke="#ffffff" stroke-width="1.3" /><line x1="736.0" y1="1010.8" x2="752.0" y2="1009.3" stroke="#c8ccd2" stroke-width="0.6" /><line x1="736.0" y1="1013.2" x2="752.0" y2="1014.2" stroke="#ffffff" stroke-width="1.3" /><line x1="736.0" y1="1015.2" x2="752.0" y2="1013.7" stroke="#c8ccd2" stroke-width="0.6" /><line x1="736.0" y1="1017.6" x2="752.0" y2="1018.6" stroke="#ffffff" stroke-width="1.3" /><line x1="736.0" y1="1019.6" x2="752.0" y2="1018.1" stroke="#c8ccd2" stroke-width="0.6" /><line x1="736.0" y1="1022.0" x2="752.0" y2="1023.0" stroke="#ffffff" stroke-width="1.3" /><line x1="736.0" y1="1024.0" x2="752.0" y2="1022.5" stroke="#c8ccd2" stroke-width="0.6" /><path d="M735,1022 C722,1030 716,1040 724,1052 M752,1024 C760,1034 760,1046 756,1054" fill="none" stroke="#f4f4f4" stroke-width="1" /><path d="M768,1012 L776,1009 L785,1011 L789,1018 L787,1030 L791,1040 L786,1049 L776,1046 L769,1048 L766,1036 L769,1026 L766,1018 Z" fill="#0e1420" /><path d="M772,1006 L773,1012 M782,1046 L788,1052" fill="none" stroke="#0e1420" stroke-width="1" /></g>
<path d="M825.5,896.1V861.5M826.2,899.6V857.8M826.9,897.4V864.1M827.5,901.2V866.9M828.2,900.7V857.2M828.9,899.5V874.0M829.5,895.7V854.9M830.2,900.9V867.2M830.8,900.3V852.9M831.5,900.0V855.6M832.2,894.3V863.9M832.8,898.6V862.9M833.5,900.9V853.8M834.1,895.4V869.1M834.8,894.5V856.0M835.5,896.9V856.4M836.1,897.6V853.9M836.8,894.3V852.9M837.5,898.5V862.5M838.1,893.8V863.9M838.8,900.5V855.7M839.4,897.5V861.1M840.1,895.6V867.7M840.8,897.0V858.0M841.4,899.9V864.7M842.1,898.6V858.7M842.8,900.4V871.6M843.4,895.4V864.2M844.1,896.2V852.9M844.7,898.2V852.9M845.4,896.8V852.9M846.1,898.4V867.4M846.7,900.0V871.7M847.4,895.4V861.8M848.0,900.8V867.3M848.7,898.1V869.4M849.4,898.7V852.9M850.0,895.6V862.1M850.7,894.0V861.0M851.4,901.0V868.5M852.0,895.3V852.9M852.7,898.0V859.8M853.3,898.9V861.0M854.0,895.5V873.5M854.7,894.1V873.2M855.3,896.4V853.6M856.0,899.3V864.2M856.6,894.4V870.7M857.3,900.5V873.3M858.0,900.1V853.4M858.6,900.3V861.2M859.3,897.5V868.8M860.0,899.8V865.1M860.6,897.1V873.0M861.3,894.7V855.9M861.9,901.1V863.2M862.6,895.5V870.0M863.3,899.3V857.8M863.9,900.9V865.1M864.6,894.5V867.3M865.2,897.1V852.9M865.9,896.7V862.4M866.6,894.0V867.1M867.2,897.3V861.4M867.9,895.1V852.9M868.5,898.8V852.9M869.2,900.6V872.9M869.9,895.5V864.4M870.5,901.1V860.0M871.2,897.3V865.9M871.9,899.5V873.8M872.5,899.4V859.0M873.2,895.8V864.8M873.8,898.3V864.2M874.5,894.0V873.3M875.2,897.5V859.2M875.8,895.4V861.4M876.5,896.2V856.3M877.1,896.1V870.1M877.8,898.3V862.0M878.5,894.0V853.8M879.1,898.9V868.9M879.8,900.1V863.7M880.5,898.9V855.2M881.1,897.7V873.6M881.8,895.9V871.6M882.4,896.4V861.4M883.1,894.1V869.3M883.8,894.9V873.0M884.4,899.7V863.5M885.1,898.4V856.3M885.8,897.9V863.3M886.4,899.9V868.4M887.1,899.8V856.3M887.7,895.2V857.0M888.4,901.1V866.3M889.1,896.7V862.2M889.7,901.1V865.6M890.4,898.9V867.6M891.0,898.4V874.3M891.7,895.1V866.2M892.4,899.8V869.0M893.0,899.5V860.8M893.7,894.3V859.3M894.4,896.9V875.9" fill="none" stroke="#8fd4cc" stroke-width="0.6" />
<path d="M825.3,896.1V883.1M826.0,899.6V873.0M826.6,897.4V862.2M827.3,901.2V880.6M827.9,900.7V869.1M828.6,899.5V880.5M829.3,895.7V855.2M829.9,900.9V867.6M830.6,900.3V871.4M831.3,900.0V875.6M831.9,894.3V883.6M832.6,898.6V869.1M833.2,900.9V881.3M833.9,895.4V879.6M834.6,894.5V854.5M835.2,896.9V861.3M835.9,897.6V883.2M836.5,894.3V880.4M837.2,898.5V873.1M837.9,893.8V873.8M838.5,900.5V886.2M839.2,897.5V852.2M839.9,895.6V867.8M840.5,897.0V865.8M841.2,899.9V880.8M841.8,898.6V854.7M842.5,900.4V876.5M843.2,895.4V858.8M843.8,896.2V863.4M844.5,898.2V853.8M845.1,896.8V853.8M845.8,898.4V870.2M846.5,900.0V856.9M847.1,895.4V859.4M847.8,900.8V858.3M848.5,898.1V877.3M849.1,898.7V885.0M849.8,895.6V853.4M850.4,894.0V878.7M851.1,901.0V862.3M851.8,895.3V858.6M852.4,898.0V866.8M853.1,898.9V858.3M853.7,895.5V878.0M854.4,894.1V864.0M855.1,896.4V867.2M855.7,899.3V867.5M856.4,894.4V854.8M857.1,900.5V884.3M857.7,900.1V872.3M858.4,900.3V865.3M859.0,897.5V876.6M859.7,899.8V882.0M860.4,897.1V863.5M861.0,894.7V863.5M861.7,901.1V860.9M862.3,895.5V885.5M863.0,899.3V863.6M863.7,900.9V877.1M864.3,894.5V877.3M865.0,897.1V870.8M865.7,896.7V884.4M866.3,894.0V863.1M867.0,897.3V864.3M867.6,895.1V885.7M868.3,898.8V876.0M869.0,900.6V884.3M869.6,895.5V861.0M870.3,901.1V867.5M870.9,897.3V873.4M871.6,899.5V874.9M872.3,899.4V873.9M872.9,895.8V861.4M873.6,898.3V880.5M874.3,894.0V867.7M874.9,897.5V872.7M875.6,895.4V859.6M876.2,896.2V863.9M876.9,896.1V865.9M877.6,898.3V859.1M878.2,894.0V862.1M878.9,898.9V888.3M879.5,900.1V876.1M880.2,898.9V886.0M880.9,897.7V865.2M881.5,895.9V858.6M882.2,896.4V878.2M882.9,894.1V880.6M883.5,894.9V880.8M884.2,899.7V867.7M884.8,898.4V880.2M885.5,897.9V874.5M886.2,899.9V880.3M886.8,899.8V880.6M887.5,895.2V887.9M888.1,901.1V867.6M888.8,896.7V887.9M889.5,901.1V881.8M890.1,898.9V886.3M890.8,898.4V862.3M891.5,895.1V865.5M892.1,899.8V887.8M892.8,899.5V872.9M893.4,894.3V864.3M894.1,896.9V888.8" fill="none" stroke="#35a79c" stroke-width="0.65" />
<rect x="821.3" y="850.9" width="76.8" height="53.3" fill="none" stroke="#222" stroke-width="1" />
<line x1="825.3" y1="904.2" x2="825.3" y2="905.7" stroke="#222" stroke-width="0.6" />
<text x="825.3" y="910.6" font-size="4.6" fill="#333" text-anchor="middle">0</text>
<line x1="839.1" y1="904.2" x2="839.1" y2="905.7" stroke="#222" stroke-width="0.6" />
<text x="839.1" y="910.6" font-size="4.6" fill="#333" text-anchor="middle">2</text>
<line x1="852.8" y1="904.2" x2="852.8" y2="905.7" stroke="#222" stroke-width="0.6" />
<text x="852.8" y="910.6" font-size="4.6" fill="#333" text-anchor="middle">4</text>
<line x1="866.6" y1="904.2" x2="866.6" y2="905.7" stroke="#222" stroke-width="0.6" />
<text x="866.6" y="910.6" font-size="4.6" fill="#333" text-anchor="middle">6</text>
<line x1="880.3" y1="904.2" x2="880.3" y2="905.7" stroke="#222" stroke-width="0.6" />
<text x="880.3" y="910.6" font-size="4.6" fill="#333" text-anchor="middle">8</text>
<line x1="894.1" y1="904.2" x2="894.1" y2="905.7" stroke="#222" stroke-width="0.6" />
<text x="894.1" y="910.6" font-size="4.6" fill="#333" text-anchor="middle">10</text>
<text x="859.7" y="915.8" font-size="4.6" font-weight="bold" fill="#333" text-anchor="middle">Time (s)</text>
<line x1="819.8" y1="901.2" x2="821.3" y2="901.2" stroke="#222" stroke-width="0.6" />
<text x="819.1" y="902.8" font-size="4.4" fill="#333" text-anchor="end">0</text>
<line x1="819.8" y1="894.7" x2="821.3" y2="894.7" stroke="#222" stroke-width="0.6" />
<text x="819.1" y="896.3" font-size="4.4" fill="#333" text-anchor="end">2</text>
<line x1="819.8" y1="888.3" x2="821.3" y2="888.3" stroke="#222" stroke-width="0.6" />
<text x="819.1" y="889.9" font-size="4.4" fill="#333" text-anchor="end">4</text>
<line x1="819.8" y1="881.8" x2="821.3" y2="881.8" stroke="#222" stroke-width="0.6" />
<text x="819.1" y="883.4" font-size="4.4" fill="#333" text-anchor="end">6</text>
<line x1="819.8" y1="875.3" x2="821.3" y2="875.3" stroke="#222" stroke-width="0.6" />
<text x="819.1" y="876.9" font-size="4.4" fill="#333" text-anchor="end">8</text>
<line x1="819.8" y1="868.8" x2="821.3" y2="868.8" stroke="#222" stroke-width="0.6" />
<text x="819.1" y="870.4" font-size="4.4" fill="#333" text-anchor="end">10</text>
<line x1="819.8" y1="862.4" x2="821.3" y2="862.4" stroke="#222" stroke-width="0.6" />
<text x="819.1" y="864.0" font-size="4.4" fill="#333" text-anchor="end">12</text>
<line x1="819.8" y1="855.9" x2="821.3" y2="855.9" stroke="#222" stroke-width="0.6" />
<text x="819.1" y="857.5" font-size="4.4" fill="#333" text-anchor="end">14</text>
<text transform="translate(812.1,877.5) rotate(-90)" font-size="4.8" text-anchor="middle" fill="#333">Voltage (V)</text>
<path d="M924.0,895.6V859.8M924.6,900.8V858.7M925.3,896.6V866.2M926.0,898.7V870.6M926.6,899.0V863.0M927.3,900.7V875.0M928.0,896.1V872.5M928.6,900.8V875.8M929.3,896.1V862.7M930.0,900.4V856.9M930.6,898.2V862.1M931.3,897.3V875.1M932.0,899.6V876.0M932.6,897.2V863.6M933.3,895.9V866.5M934.0,894.9V860.0M934.6,896.1V872.4M935.3,894.5V865.9M936.0,894.0V868.9M936.6,894.2V860.6M937.3,898.6V864.4M938.0,895.6V863.8M938.6,894.3V866.1M939.3,899.7V856.7M940.0,895.4V862.1M940.6,898.5V875.7M941.3,899.9V866.3M942.0,898.5V874.8M942.6,898.0V865.6M943.3,896.2V873.3M944.0,894.3V867.0M944.6,897.4V875.2M945.3,898.0V864.7M946.0,895.6V864.6M946.6,898.0V870.2M947.3,899.2V867.0M948.0,900.9V861.3M948.6,895.2V863.1M949.3,893.8V870.4M950.0,901.2V864.7M950.6,896.9V858.1M951.3,899.5V863.5M952.0,897.6V876.6M952.6,895.0V866.0M953.3,898.3V861.5M954.0,896.0V854.3M954.6,898.4V867.2M955.3,895.3V852.9M956.0,894.9V854.8M956.6,898.9V863.9M957.3,895.0V874.3M958.0,899.0V877.7M958.7,897.5V872.7M959.3,896.1V878.5M960.0,898.5V880.7M960.7,900.8V873.1M961.3,900.3V870.4M962.0,901.0V872.8M962.7,897.9V876.2M963.3,898.4V874.2M964.0,898.5V878.7M964.7,896.5V877.0M965.3,899.5V872.1M966.0,896.4V877.1M966.7,896.8V875.3M967.3,897.5V881.6M968.0,898.8V879.2M968.7,900.8V881.3M969.3,896.5V871.5M970.0,900.4V876.2M970.7,898.2V872.9M971.3,896.0V876.3M972.0,899.4V875.4M972.7,899.7V875.8M973.3,897.3V874.6M974.0,898.9V879.7M974.7,898.5V872.9M975.3,897.5V871.4M976.0,896.9V881.8M976.7,900.6V870.4M977.3,895.8V876.8M978.0,898.7V874.9M978.7,898.3V873.0M979.3,899.1V883.3M980.0,895.3V873.8M980.7,898.9V883.0M981.3,897.9V881.3M982.0,894.7V878.6M982.7,896.5V878.0M983.3,898.5V881.9M984.0,898.9V880.1M984.7,894.4V878.8M985.3,901.0V881.8M986.0,898.7V875.4M986.7,896.3V878.5M987.3,897.3V879.6M988.0,896.8V873.3M988.7,897.6V880.4M989.3,894.9V883.0M990.0,895.4V875.6M990.7,894.6V881.7M991.3,898.8V879.8M992.0,900.0V879.6M992.7,899.2V881.5M993.4,896.6V874.9" fill="none" stroke="#8fd4cc" stroke-width="0.6" />
<path d="M923.7,895.6V860.7M924.4,900.8V882.9M925.0,896.6V869.9M925.7,898.7V864.0M926.4,899.0V877.9M927.0,900.7V861.3M927.7,896.1V873.1M928.4,900.8V880.6M929.0,896.1V873.7M929.7,900.4V884.1M930.4,898.2V872.5M931.0,897.3V866.7M931.7,899.6V863.8M932.4,897.2V878.3M933.0,895.9V883.8M933.7,894.9V884.2M934.4,896.1V861.7M935.0,894.5V865.6M935.7,894.0V861.8M936.4,894.2V860.8M937.0,898.6V888.9M937.7,895.6V871.0M938.4,894.3V884.4M939.0,899.7V862.9M939.7,895.4V872.7M940.4,898.5V863.1M941.1,899.9V877.3M941.7,898.5V865.2M942.4,898.0V888.6M943.1,896.2V888.6M943.7,894.3V886.3M944.4,897.4V863.1M945.1,898.0V882.4M945.7,895.6V866.9M946.4,898.0V882.1M947.1,899.2V875.3M947.7,900.9V876.2M948.4,895.2V872.5M949.1,893.8V868.4M949.7,901.2V878.2M950.4,896.9V872.9M951.1,899.5V884.0M951.7,897.6V865.6M952.4,895.0V877.5M953.1,898.3V873.5M953.7,896.0V867.8M954.4,898.4V861.1M955.1,895.3V859.3M955.7,894.9V881.6M956.4,898.9V886.9M957.1,895.0V886.3M957.7,899.0V874.5M958.4,897.5V887.9M959.1,896.1V887.6M959.7,898.5V878.2M960.4,900.8V889.4M961.1,900.3V883.4M961.7,901.0V878.2M962.4,897.9V879.6M963.1,898.4V871.6M963.7,898.5V878.7M964.4,896.5V876.2M965.1,899.5V881.5M965.7,896.4V892.1M966.4,896.8V887.8M967.1,897.5V890.7M967.7,898.8V875.5M968.4,900.8V888.0M969.1,896.5V889.4M969.7,900.4V888.0M970.4,898.2V890.2M971.1,896.0V888.4M971.7,899.4V890.9M972.4,899.7V890.7M973.1,897.3V875.4M973.7,898.9V892.6M974.4,898.5V873.5M975.1,897.5V892.1M975.8,896.9V876.6M976.4,900.6V873.4M977.1,895.8V876.6M977.8,898.7V889.4M978.4,898.3V879.2M979.1,899.1V891.8M979.8,895.3V886.2M980.4,898.9V889.8M981.1,897.9V879.2M981.8,894.7V885.2M982.4,896.5V878.7M983.1,898.5V881.5M983.8,898.9V882.8M984.4,894.4V889.2M985.1,901.0V888.9M985.8,898.7V875.3M986.4,896.3V888.4M987.1,897.3V878.1M987.8,896.8V887.4M988.4,897.6V879.1M989.1,894.9V875.1M989.8,895.4V879.4M990.4,894.6V873.7M991.1,898.8V873.1M991.8,900.0V873.6M992.4,899.2V880.7M993.1,896.6V877.3" fill="none" stroke="#35a79c" stroke-width="0.65" />
<rect x="919.7" y="850.9" width="77.4" height="53.3" fill="none" stroke="#222" stroke-width="1" />
<line x1="923.7" y1="904.2" x2="923.7" y2="905.7" stroke="#222" stroke-width="0.6" />
<text x="923.7" y="910.6" font-size="4.6" fill="#333" text-anchor="middle">0</text>
<line x1="937.6" y1="904.2" x2="937.6" y2="905.7" stroke="#222" stroke-width="0.6" />
<text x="937.6" y="910.6" font-size="4.6" fill="#333" text-anchor="middle">2</text>
<line x1="951.5" y1="904.2" x2="951.5" y2="905.7" stroke="#222" stroke-width="0.6" />
<text x="951.5" y="910.6" font-size="4.6" fill="#333" text-anchor="middle">4</text>
<line x1="965.3" y1="904.2" x2="965.3" y2="905.7" stroke="#222" stroke-width="0.6" />
<text x="965.3" y="910.6" font-size="4.6" fill="#333" text-anchor="middle">6</text>
<line x1="979.2" y1="904.2" x2="979.2" y2="905.7" stroke="#222" stroke-width="0.6" />
<text x="979.2" y="910.6" font-size="4.6" fill="#333" text-anchor="middle">8</text>
<line x1="993.1" y1="904.2" x2="993.1" y2="905.7" stroke="#222" stroke-width="0.6" />
<text x="993.1" y="910.6" font-size="4.6" fill="#333" text-anchor="middle">10</text>
<text x="958.4" y="915.8" font-size="4.6" font-weight="bold" fill="#333" text-anchor="middle">Time (s)</text>
<line x1="918.2" y1="901.2" x2="919.7" y2="901.2" stroke="#222" stroke-width="0.6" />
<text x="917.5" y="902.8" font-size="4.4" fill="#333" text-anchor="end">0.0</text>
<line x1="918.2" y1="893.7" x2="919.7" y2="893.7" stroke="#222" stroke-width="0.6" />
<text x="917.5" y="895.3" font-size="4.4" fill="#333" text-anchor="end">0.2</text>
<line x1="918.2" y1="886.1" x2="919.7" y2="886.1" stroke="#222" stroke-width="0.6" />
<text x="917.5" y="887.7" font-size="4.4" fill="#333" text-anchor="end">0.4</text>
<line x1="918.2" y1="878.5" x2="919.7" y2="878.5" stroke="#222" stroke-width="0.6" />
<text x="917.5" y="880.1" font-size="4.4" fill="#333" text-anchor="end">0.6</text>
<line x1="918.2" y1="871.0" x2="919.7" y2="871.0" stroke="#222" stroke-width="0.6" />
<text x="917.5" y="872.6" font-size="4.4" fill="#333" text-anchor="end">0.8</text>
<line x1="918.2" y1="863.5" x2="919.7" y2="863.5" stroke="#222" stroke-width="0.6" />
<text x="917.5" y="865.1" font-size="4.4" fill="#333" text-anchor="end">1.0</text>
<line x1="918.2" y1="855.9" x2="919.7" y2="855.9" stroke="#222" stroke-width="0.6" />
<text x="917.5" y="857.5" font-size="4.4" fill="#333" text-anchor="end">1.2</text>
<text transform="translate(907.7,877.5) rotate(-90)" font-size="4.8" text-anchor="middle" fill="#333">Current (mA)</text>
<path d="M825.5,965.2V937.1M826.2,964.4V943.6M826.9,967.8V935.6M827.5,968.4V940.7M828.2,970.7V945.3M828.9,971.6V950.3M829.5,966.0V950.9M830.2,970.8V942.9M830.8,968.3V939.4M831.5,968.7V939.0M832.2,969.0V939.3M832.8,964.4V947.0M833.5,969.3V939.1M834.1,970.6V945.3M834.8,969.0V940.2M835.5,969.6V937.4M836.1,969.1V948.2M836.8,970.0V950.7M837.5,970.3V940.9M838.1,965.4V935.9M838.8,970.4V937.3M839.4,964.8V945.3M840.1,970.0V943.7M840.8,965.3V937.3M841.4,969.8V944.9M842.1,968.4V934.7M842.8,971.0V933.0M843.4,968.2V937.9M844.1,970.2V939.2M844.7,965.2V933.6M845.4,966.4V941.4M846.1,970.4V940.1M846.7,965.7V936.8M847.4,969.3V947.5M848.0,967.0V948.9M848.7,964.5V941.8M849.4,968.9V938.6M850.0,968.4V935.8M850.7,969.4V935.5M851.4,971.1V932.6M852.0,968.6V943.8M852.7,969.0V939.5M853.3,967.7V948.6M854.0,970.1V945.0M854.7,969.5V933.5M855.3,968.1V934.6M856.0,969.3V937.5M856.6,967.7V934.8M857.3,964.8V944.1M858.0,964.4V938.9M858.6,970.9V935.0M859.3,966.1V940.8M860.0,969.8V944.0M860.6,966.9V936.6M861.3,969.5V929.9M861.9,967.7V935.1M862.6,967.5V929.7M863.3,969.9V940.3M863.9,966.6V935.3M864.6,966.5V940.1M865.2,969.5V941.1M865.9,966.7V928.8M866.6,967.0V931.4M867.2,967.3V930.6M867.9,968.9V940.9M868.5,968.5V947.2M869.2,964.6V943.6M869.9,969.1V932.2M870.5,966.0V944.7M871.2,966.3V934.5M871.9,964.6V930.9M872.5,965.3V935.8M873.2,968.7V931.3M873.8,971.3V944.6M874.5,967.3V934.7M875.2,968.6V928.1M875.8,966.7V943.6M876.5,970.3V945.5M877.1,970.8V939.9M877.8,967.6V931.2M878.5,971.0V932.6M879.1,966.1V927.3M879.8,969.8V940.1M880.5,969.3V945.4M881.1,966.8V930.4M881.8,965.1V930.6M882.4,966.9V946.2M883.1,966.4V941.7M883.8,969.6V930.5M884.4,965.9V927.7M885.1,968.8V939.9M885.8,965.0V943.1M886.4,965.8V931.0M887.1,968.3V926.5M887.7,969.6V932.8M888.4,964.7V936.9M889.1,964.5V939.8M889.7,969.7V930.0M890.4,967.6V926.8M891.0,967.0V935.3M891.7,967.8V936.1M892.4,966.1V943.5M893.0,968.7V925.6M893.7,968.0V937.5M894.4,969.6V942.0" fill="none" stroke="#c9a0d4" stroke-width="0.6" />
<path d="M825.3,965.2V942.7M826.0,964.4V941.8M826.6,967.8V944.6M827.3,968.4V945.7M827.9,970.7V954.5M828.6,971.6V958.3M829.3,966.0V950.4M829.9,970.8V945.8M830.6,968.3V954.3M831.3,968.7V951.3M831.9,969.0V958.7M832.6,964.4V940.5M833.2,969.3V945.7M833.9,970.6V940.1M834.6,969.0V937.7M835.2,969.6V940.6M835.9,969.1V961.3M836.5,970.0V952.5M837.2,970.3V940.7M837.9,965.4V947.0M838.5,970.4V945.2M839.2,964.8V958.7M839.9,970.0V954.6M840.5,965.3V940.6M841.2,969.8V942.1M841.8,968.4V953.1M842.5,971.0V934.9M843.2,968.2V936.9M843.8,970.2V940.3M844.5,965.2V935.0M845.1,966.4V958.7M845.8,970.4V936.7M846.5,965.7V957.7M847.1,969.3V960.0M847.8,967.0V943.8M848.5,964.5V935.2M849.1,968.9V945.3M849.8,968.4V950.0M850.4,969.4V955.7M851.1,971.1V954.6M851.8,968.6V956.3M852.4,969.0V953.5M853.1,967.7V957.4M853.7,970.1V958.4M854.4,969.5V951.1M855.1,968.1V942.3M855.7,969.3V941.4M856.4,967.7V939.7M857.1,964.8V942.7M857.7,964.4V941.6M858.4,970.9V934.9M859.0,966.1V952.9M859.7,969.8V945.2M860.4,966.9V935.8M861.0,969.5V957.0M861.7,967.7V954.5M862.3,967.5V945.7M863.0,969.9V937.9M863.7,966.6V948.2M864.3,966.5V952.7M865.0,969.5V959.7M865.7,966.7V954.4M866.3,967.0V933.2M867.0,967.3V945.8M867.6,968.9V958.3M868.3,968.5V950.1M869.0,964.6V940.2M869.6,969.1V954.5M870.3,966.0V953.3M870.9,966.3V942.5M871.6,964.6V957.4M872.3,965.3V945.7M872.9,968.7V954.9M873.6,971.3V946.1M874.3,967.3V954.3M874.9,968.6V946.5M875.6,966.7V949.5M876.2,970.3V944.4M876.9,970.8V949.6M877.6,967.6V940.1M878.2,971.0V945.3M878.9,966.1V947.5M879.5,969.8V943.8M880.2,969.3V944.5M880.9,966.8V947.5M881.5,965.1V936.5M882.2,966.9V947.0M882.9,966.4V935.4M883.5,969.6V945.1M884.2,965.9V946.4M884.8,968.8V935.6M885.5,965.0V930.4M886.2,965.8V948.2M886.8,968.3V950.6M887.5,969.6V956.5M888.1,964.7V931.3M888.8,964.5V934.8M889.5,969.7V952.2M890.1,967.6V954.9M890.8,967.0V952.9M891.5,967.8V929.1M892.1,966.1V930.9M892.8,968.7V934.0M893.4,968.0V928.9M894.1,969.6V951.9" fill="none" stroke="#8c4a9e" stroke-width="0.65" />
<rect x="821.3" y="922.3" width="76.8" height="52.3" fill="none" stroke="#222" stroke-width="1" />
<line x1="825.3" y1="974.6" x2="825.3" y2="976.1" stroke="#222" stroke-width="0.6" />
<text x="825.3" y="981.0" font-size="4.6" fill="#333" text-anchor="middle">0</text>
<line x1="839.1" y1="974.6" x2="839.1" y2="976.1" stroke="#222" stroke-width="0.6" />
<text x="839.1" y="981.0" font-size="4.6" fill="#333" text-anchor="middle">2</text>
<line x1="852.8" y1="974.6" x2="852.8" y2="976.1" stroke="#222" stroke-width="0.6" />
<text x="852.8" y="981.0" font-size="4.6" fill="#333" text-anchor="middle">4</text>
<line x1="866.6" y1="974.6" x2="866.6" y2="976.1" stroke="#222" stroke-width="0.6" />
<text x="866.6" y="981.0" font-size="4.6" fill="#333" text-anchor="middle">6</text>
<line x1="880.3" y1="974.6" x2="880.3" y2="976.1" stroke="#222" stroke-width="0.6" />
<text x="880.3" y="981.0" font-size="4.6" fill="#333" text-anchor="middle">8</text>
<line x1="894.1" y1="974.6" x2="894.1" y2="976.1" stroke="#222" stroke-width="0.6" />
<text x="894.1" y="981.0" font-size="4.6" fill="#333" text-anchor="middle">10</text>
<text x="859.7" y="986.2" font-size="4.6" font-weight="bold" fill="#333" text-anchor="middle">Time (s)</text>
<line x1="819.8" y1="971.6" x2="821.3" y2="971.6" stroke="#222" stroke-width="0.6" />
<text x="819.1" y="973.2" font-size="4.4" fill="#333" text-anchor="end">0</text>
<line x1="819.8" y1="962.7" x2="821.3" y2="962.7" stroke="#222" stroke-width="0.6" />
<text x="819.1" y="964.3" font-size="4.4" fill="#333" text-anchor="end">2</text>
<line x1="819.8" y1="953.9" x2="821.3" y2="953.9" stroke="#222" stroke-width="0.6" />
<text x="819.1" y="955.5" font-size="4.4" fill="#333" text-anchor="end">4</text>
<line x1="819.8" y1="945.0" x2="821.3" y2="945.0" stroke="#222" stroke-width="0.6" />
<text x="819.1" y="946.6" font-size="4.4" fill="#333" text-anchor="end">6</text>
<line x1="819.8" y1="936.2" x2="821.3" y2="936.2" stroke="#222" stroke-width="0.6" />
<text x="819.1" y="937.8" font-size="4.4" fill="#333" text-anchor="end">8</text>
<line x1="819.8" y1="927.3" x2="821.3" y2="927.3" stroke="#222" stroke-width="0.6" />
<text x="819.1" y="928.9" font-size="4.4" fill="#333" text-anchor="end">10</text>
<text transform="translate(812.1,948.5) rotate(-90)" font-size="4.8" text-anchor="middle" fill="#333">Voltage (V)</text>
<path d="M924.0,966.3V943.7M924.6,967.2V928.0M925.3,964.8V938.5M926.0,967.3V938.9M926.6,964.9V929.3M927.3,969.8V934.0M928.0,969.1V936.6M928.6,966.8V944.6M929.3,970.7V924.3M930.0,967.3V938.1M930.6,966.4V924.6M931.3,969.6V931.1M932.0,966.2V938.5M932.6,970.6V931.9M933.3,971.3V939.6M934.0,968.8V933.8M934.6,964.4V939.8M935.3,965.9V927.8M936.0,968.1V928.1M936.6,968.0V931.5M937.3,969.8V930.9M938.0,970.5V935.2M938.6,966.9V924.7M939.3,967.7V935.2M940.0,964.9V942.7M940.6,971.3V931.7M941.3,970.0V925.6M942.0,970.1V925.2M942.6,969.3V927.0M943.3,969.1V936.9M944.0,969.4V937.7M944.6,965.6V942.2M945.3,969.1V934.2M946.0,969.6V934.7M946.6,967.4V937.5M947.3,969.3V943.0M948.0,967.2V933.9M948.6,970.5V931.8M949.3,967.8V928.5M950.0,968.4V932.6M950.6,965.2V935.4M951.3,968.1V926.2M952.0,968.5V941.0M952.6,969.5V946.4M953.3,968.2V932.3M954.0,969.2V931.2M954.6,970.3V931.6M955.3,966.5V936.6M956.0,967.9V926.1M956.6,966.3V936.5M957.3,968.8V945.4M958.0,965.7V930.8M958.7,967.6V926.0M959.3,964.4V945.4M960.0,967.4V929.9M960.7,965.8V939.3M961.3,965.8V934.6M962.0,966.8V947.3M962.7,970.8V931.2M963.3,966.3V945.8M964.0,966.5V927.9M964.7,967.1V939.1M965.3,971.0V947.1M966.0,965.1V937.2M966.7,970.6V933.2M967.3,970.2V931.2M968.0,964.3V935.8M968.7,969.1V931.3M969.3,967.0V934.6M970.0,965.8V945.6M970.7,969.0V939.4M971.3,969.7V936.1M972.0,969.4V934.4M972.7,964.4V945.1M973.3,966.9V938.3M974.0,966.9V931.3M974.7,966.4V936.9M975.3,965.3V941.5M976.0,966.0V929.9M976.7,968.9V930.6M977.3,967.6V939.1M978.0,966.3V934.5M978.7,969.1V939.0M979.3,969.0V944.0M980.0,970.7V929.7M980.7,968.3V946.1M981.3,967.5V945.8M982.0,969.0V940.4M982.7,968.9V943.8M983.3,971.1V942.4M984.0,968.1V943.4M984.7,971.1V944.0M985.3,966.0V942.0M986.0,966.8V945.2M986.7,970.2V939.2M987.3,966.8V934.9M988.0,964.4V946.8M988.7,968.3V944.7M989.3,964.9V934.7M990.0,969.4V949.6M990.7,966.7V939.9M991.3,971.6V935.3M992.0,971.3V944.5M992.7,965.6V943.8M993.4,964.8V950.7" fill="none" stroke="#c9a0d4" stroke-width="0.6" />
<path d="M923.7,966.3V952.7M924.4,967.2V938.4M925.0,964.8V939.4M925.7,967.3V955.2M926.4,964.9V925.6M927.0,969.8V930.8M927.7,969.1V945.7M928.4,966.8V942.7M929.0,970.7V940.7M929.7,967.3V940.3M930.4,966.4V935.3M931.0,969.6V939.5M931.7,966.2V956.9M932.4,970.6V935.0M933.0,971.3V953.0M933.7,968.8V931.0M934.4,964.4V932.9M935.0,965.9V936.1M935.7,968.1V947.4M936.4,968.0V950.6M937.0,969.8V931.2M937.7,970.5V951.7M938.4,966.9V937.9M939.0,967.7V953.5M939.7,964.9V950.5M940.4,971.3V950.4M941.1,970.0V937.8M941.7,970.1V938.6M942.4,969.3V931.7M943.1,969.1V954.7M943.7,969.4V928.6M944.4,965.6V952.3M945.1,969.1V932.1M945.7,969.6V931.3M946.4,967.4V938.9M947.1,969.3V938.7M947.7,967.2V958.7M948.4,970.5V933.9M949.1,967.8V944.9M949.7,968.4V942.9M950.4,965.2V954.5M951.1,968.1V957.8M951.7,968.5V928.7M952.4,969.5V930.1M953.1,968.2V951.5M953.7,969.2V957.1M954.4,970.3V948.6M955.1,966.5V945.8M955.7,967.9V934.2M956.4,966.3V934.3M957.1,968.8V940.6M957.7,965.7V932.2M958.4,967.6V933.1M959.1,964.4V944.9M959.7,967.4V947.8M960.4,965.8V943.5M961.1,965.8V938.8M961.7,966.8V958.8M962.4,970.8V950.3M963.1,966.3V954.4M963.7,966.5V953.2M964.4,967.1V957.3M965.1,971.0V940.7M965.7,965.1V957.2M966.4,970.6V941.1M967.1,970.2V932.4M967.7,964.3V934.1M968.4,969.1V940.2M969.1,967.0V950.3M969.7,965.8V930.0M970.4,969.0V954.3M971.1,969.7V938.2M971.7,969.4V946.2M972.4,964.4V946.7M973.1,966.9V932.9M973.7,966.9V957.4M974.4,966.4V949.3M975.1,965.3V957.1M975.8,966.0V945.5M976.4,968.9V934.5M977.1,967.6V955.3M977.8,966.3V934.2M978.4,969.1V935.9M979.1,969.0V956.8M979.8,970.7V938.6M980.4,968.3V942.7M981.1,967.5V947.4M981.8,969.0V932.6M982.4,968.9V952.4M983.1,971.1V936.8M983.8,968.1V944.2M984.4,971.1V947.5M985.1,966.0V949.1M985.8,966.8V949.9M986.4,970.2V946.5M987.1,966.8V947.1M987.8,964.4V940.8M988.4,968.3V937.1M989.1,964.9V950.0M989.8,969.4V941.5M990.4,966.7V956.7M991.1,971.6V960.2M991.8,971.3V953.8M992.4,965.6V959.7M993.1,964.8V947.8" fill="none" stroke="#8c4a9e" stroke-width="0.65" />
<rect x="919.7" y="922.3" width="77.4" height="52.3" fill="none" stroke="#222" stroke-width="1" />
<line x1="923.7" y1="974.6" x2="923.7" y2="976.1" stroke="#222" stroke-width="0.6" />
<text x="923.7" y="981.0" font-size="4.6" fill="#333" text-anchor="middle">0</text>
<line x1="937.6" y1="974.6" x2="937.6" y2="976.1" stroke="#222" stroke-width="0.6" />
<text x="937.6" y="981.0" font-size="4.6" fill="#333" text-anchor="middle">2</text>
<line x1="951.5" y1="974.6" x2="951.5" y2="976.1" stroke="#222" stroke-width="0.6" />
<text x="951.5" y="981.0" font-size="4.6" fill="#333" text-anchor="middle">4</text>
<line x1="965.3" y1="974.6" x2="965.3" y2="976.1" stroke="#222" stroke-width="0.6" />
<text x="965.3" y="981.0" font-size="4.6" fill="#333" text-anchor="middle">6</text>
<line x1="979.2" y1="974.6" x2="979.2" y2="976.1" stroke="#222" stroke-width="0.6" />
<text x="979.2" y="981.0" font-size="4.6" fill="#333" text-anchor="middle">8</text>
<line x1="993.1" y1="974.6" x2="993.1" y2="976.1" stroke="#222" stroke-width="0.6" />
<text x="993.1" y="981.0" font-size="4.6" fill="#333" text-anchor="middle">10</text>
<text x="958.4" y="986.2" font-size="4.6" font-weight="bold" fill="#333" text-anchor="middle">Time (s)</text>
<line x1="918.2" y1="971.6" x2="919.7" y2="971.6" stroke="#222" stroke-width="0.6" />
<text x="917.5" y="973.2" font-size="4.4" fill="#333" text-anchor="end">0.0</text>
<line x1="918.2" y1="960.5" x2="919.7" y2="960.5" stroke="#222" stroke-width="0.6" />
<text x="917.5" y="962.1" font-size="4.4" fill="#333" text-anchor="end">0.2</text>
<line x1="918.2" y1="949.5" x2="919.7" y2="949.5" stroke="#222" stroke-width="0.6" />
<text x="917.5" y="951.1" font-size="4.4" fill="#333" text-anchor="end">0.4</text>
<line x1="918.2" y1="938.4" x2="919.7" y2="938.4" stroke="#222" stroke-width="0.6" />
<text x="917.5" y="940.0" font-size="4.4" fill="#333" text-anchor="end">0.6</text>
<line x1="918.2" y1="927.3" x2="919.7" y2="927.3" stroke="#222" stroke-width="0.6" />
<text x="917.5" y="928.9" font-size="4.4" fill="#333" text-anchor="end">0.8</text>
<text transform="translate(907.7,948.5) rotate(-90)" font-size="4.8" text-anchor="middle" fill="#333">Current (mA)</text>
<path d="M825.5,1035.6V1000.1M826.2,1038.8V1000.3M826.9,1034.4V994.0M827.5,1040.4V1014.7M828.2,1039.6V1004.0M828.9,1034.3V1006.2M829.5,1039.9V996.6M830.2,1040.4V995.9M830.8,1036.1V1005.0M831.5,1037.8V1016.6M832.2,1035.2V1009.1M832.8,1038.1V1010.6M833.5,1039.7V1008.2M834.1,1037.1V1003.4M834.8,1038.7V1007.5M835.5,1041.3V1002.5M836.1,1036.6V1001.0M836.8,1039.4V1013.7M837.5,1034.2V1017.6M838.1,1034.8V1015.6M838.8,1036.1V1021.0M839.4,1035.8V1005.4M840.1,1038.0V1020.0M840.8,1040.6V1016.6M841.4,1037.6V1014.8M842.1,1039.8V1021.7M842.8,1040.5V1007.6M843.4,1036.1V1016.5M844.1,1039.2V1009.0M844.7,1038.4V1017.8M845.4,1040.3V1011.9M846.1,1037.2V1017.4M846.7,1040.7V1021.9M847.4,1039.8V1024.5M848.0,1038.3V1016.2M848.7,1034.5V1023.3M849.4,1038.3V1016.8M850.0,1037.4V1021.6M850.7,1039.7V1021.0M851.4,1040.6V1016.5M852.0,1038.1V1027.3M852.7,1034.3V1028.6M853.3,1035.7V1027.5M854.0,1040.3V1027.5M854.7,1039.2V1021.0M855.3,1039.7V1017.7M856.0,1035.5V1024.8M856.6,1036.9V1022.5M857.3,1035.1V1017.5M858.0,1037.1V1016.3M858.6,1036.5V1023.2M859.3,1038.9V1017.0M860.0,1035.0V1015.8M860.6,1039.9V1022.5M861.3,1038.9V1024.6M861.9,1035.6V1024.8M862.6,1034.6V1016.1M863.3,1039.3V1019.9M863.9,1034.6V1025.6M864.6,1035.4V1025.4M865.2,1040.0V1012.0M865.9,1037.0V1013.8M866.6,1038.4V1018.6M867.2,1039.5V1020.8M867.9,1034.9V1013.5M868.5,1038.9V1023.7M869.2,1041.0V1022.7M869.9,1038.0V1011.4M870.5,1039.6V1021.6M871.2,1038.8V1023.0M871.9,1034.8V1023.2M872.5,1038.4V1012.6M873.2,1040.4V1016.7M873.8,1038.1V1025.0M874.5,1040.7V1024.7M875.2,1034.5V1024.3M875.8,1035.4V1023.1M876.5,1035.6V1018.2M877.1,1037.5V1012.5M877.8,1034.3V1025.6M878.5,1037.7V1025.8M879.1,1039.3V1018.7M879.8,1038.3V1015.9M880.5,1038.1V1016.5M881.1,1040.0V1014.9M881.8,1034.7V1022.1M882.4,1040.5V1017.5M883.1,1036.8V1021.0M883.8,1034.3V1015.7M884.4,1040.7V1018.5M885.1,1041.0V1019.3M885.8,1039.4V1016.0M886.4,1034.5V1025.6M887.1,1034.4V1014.3M887.7,1040.1V1017.7M888.4,1040.6V1024.7M889.1,1038.7V1016.2M889.7,1034.8V1017.0M890.4,1037.0V1018.5M891.0,1034.6V1021.5M891.7,1035.1V1026.8M892.4,1041.2V1018.0M893.0,1036.1V1018.3M893.7,1040.1V1022.1M894.4,1038.1V1025.1" fill="none" stroke="#f4cfa0" stroke-width="0.6" />
<path d="M825.3,1035.6V1020.6M826.0,1038.8V1013.4M826.6,1034.4V997.0M827.3,1040.4V996.5M827.9,1039.6V1001.8M828.6,1034.3V1013.8M829.3,1039.9V1024.6M829.9,1040.4V1003.7M830.6,1036.1V1017.8M831.3,1037.8V1003.4M831.9,1035.2V1012.9M832.6,1038.1V1005.4M833.2,1039.7V1019.4M833.9,1037.1V1002.6M834.6,1038.7V1025.1M835.2,1041.3V1019.6M835.9,1036.6V1026.9M836.5,1039.4V1022.9M837.2,1034.2V1016.5M837.9,1034.8V1024.7M838.5,1036.1V1014.2M839.2,1035.8V1030.7M839.9,1038.0V1014.5M840.5,1040.6V1019.0M841.2,1037.6V1031.1M841.8,1039.8V1025.5M842.5,1040.5V1031.6M843.2,1036.1V1031.7M843.8,1039.2V1019.8M844.5,1038.4V1015.5M845.1,1040.3V1013.7M845.8,1037.2V1020.5M846.5,1040.7V1021.5M847.1,1039.8V1026.6M847.8,1038.3V1020.1M848.5,1034.5V1026.6M849.1,1038.3V1024.7M849.8,1037.4V1031.9M850.4,1039.7V1023.6M851.1,1040.6V1018.0M851.8,1038.1V1018.9M852.4,1034.3V1027.1M853.1,1035.7V1023.2M853.7,1040.3V1025.3M854.4,1039.2V1026.4M855.1,1039.7V1026.1M855.7,1035.5V1034.6M856.4,1036.9V1019.4M857.1,1035.1V1030.8M857.7,1037.1V1017.7M858.4,1036.5V1018.6M859.0,1038.9V1023.5M859.7,1035.0V1024.2M860.4,1039.9V1020.3M861.0,1038.9V1032.4M861.7,1035.6V1028.3M862.3,1034.6V1016.4M863.0,1039.3V1029.1M863.7,1034.6V1021.6M864.3,1035.4V1031.8M865.0,1040.0V1015.7M865.7,1037.0V1023.9M866.3,1038.4V1016.5M867.0,1039.5V1017.2M867.6,1034.9V1015.6M868.3,1038.9V1026.3M869.0,1041.0V1016.5M869.6,1038.0V1032.9M870.3,1039.6V1032.0M870.9,1038.8V1019.4M871.6,1034.8V1019.6M872.3,1038.4V1032.2M872.9,1040.4V1032.3M873.6,1038.1V1018.5M874.3,1040.7V1022.7M874.9,1034.5V1032.4M875.6,1035.4V1024.3M876.2,1035.6V1026.0M876.9,1037.5V1029.9M877.6,1034.3V1017.8M878.2,1037.7V1032.6M878.9,1039.3V1015.2M879.5,1038.3V1017.0M880.2,1038.1V1030.8M880.9,1040.0V1024.9M881.5,1034.7V1027.0M882.2,1040.5V1018.2M882.9,1036.8V1016.0M883.5,1034.3V1015.5M884.2,1040.7V1029.8M884.8,1041.0V1031.5M885.5,1039.4V1016.5M886.2,1034.5V1016.3M886.8,1034.4V1031.6M887.5,1040.1V1030.9M888.1,1040.6V1032.3M888.8,1038.7V1023.6M889.5,1034.8V1031.4M890.1,1037.0V1027.4M890.8,1034.6V1032.0M891.5,1035.1V1025.0M892.1,1041.2V1029.5M892.8,1036.1V1030.4M893.4,1040.1V1016.6M894.1,1038.1V1020.4" fill="none" stroke="#e9a254" stroke-width="0.65" />
<rect x="821.3" y="992.0" width="76.8" height="52.4" fill="none" stroke="#222" stroke-width="1" />
<line x1="825.3" y1="1044.4" x2="825.3" y2="1045.9" stroke="#222" stroke-width="0.6" />
<text x="825.3" y="1050.8" font-size="4.6" fill="#333" text-anchor="middle">0</text>
<line x1="839.1" y1="1044.4" x2="839.1" y2="1045.9" stroke="#222" stroke-width="0.6" />
<text x="839.1" y="1050.8" font-size="4.6" fill="#333" text-anchor="middle">2</text>
<line x1="852.8" y1="1044.4" x2="852.8" y2="1045.9" stroke="#222" stroke-width="0.6" />
<text x="852.8" y="1050.8" font-size="4.6" fill="#333" text-anchor="middle">4</text>
<line x1="866.6" y1="1044.4" x2="866.6" y2="1045.9" stroke="#222" stroke-width="0.6" />
<text x="866.6" y="1050.8" font-size="4.6" fill="#333" text-anchor="middle">6</text>
<line x1="880.3" y1="1044.4" x2="880.3" y2="1045.9" stroke="#222" stroke-width="0.6" />
<text x="880.3" y="1050.8" font-size="4.6" fill="#333" text-anchor="middle">8</text>
<line x1="894.1" y1="1044.4" x2="894.1" y2="1045.9" stroke="#222" stroke-width="0.6" />
<text x="894.1" y="1050.8" font-size="4.6" fill="#333" text-anchor="middle">10</text>
<text x="859.7" y="1056.0" font-size="4.6" font-weight="bold" fill="#333" text-anchor="middle">Time (s)</text>
<line x1="819.8" y1="1041.4" x2="821.3" y2="1041.4" stroke="#222" stroke-width="0.6" />
<text x="819.1" y="1043.0" font-size="4.4" fill="#333" text-anchor="end">0</text>
<line x1="819.8" y1="1035.1" x2="821.3" y2="1035.1" stroke="#222" stroke-width="0.6" />
<text x="819.1" y="1036.7" font-size="4.4" fill="#333" text-anchor="end">1</text>
<line x1="819.8" y1="1028.7" x2="821.3" y2="1028.7" stroke="#222" stroke-width="0.6" />
<text x="819.1" y="1030.3" font-size="4.4" fill="#333" text-anchor="end">2</text>
<line x1="819.8" y1="1022.4" x2="821.3" y2="1022.4" stroke="#222" stroke-width="0.6" />
<text x="819.1" y="1024.0" font-size="4.4" fill="#333" text-anchor="end">3</text>
<line x1="819.8" y1="1016.0" x2="821.3" y2="1016.0" stroke="#222" stroke-width="0.6" />
<text x="819.1" y="1017.6" font-size="4.4" fill="#333" text-anchor="end">4</text>
<line x1="819.8" y1="1009.7" x2="821.3" y2="1009.7" stroke="#222" stroke-width="0.6" />
<text x="819.1" y="1011.3" font-size="4.4" fill="#333" text-anchor="end">5</text>
<line x1="819.8" y1="1003.3" x2="821.3" y2="1003.3" stroke="#222" stroke-width="0.6" />
<text x="819.1" y="1004.9" font-size="4.4" fill="#333" text-anchor="end">6</text>
<line x1="819.8" y1="997.0" x2="821.3" y2="997.0" stroke="#222" stroke-width="0.6" />
<text x="819.1" y="998.6" font-size="4.4" fill="#333" text-anchor="end">7</text>
<text transform="translate(812.1,1018.2) rotate(-90)" font-size="4.8" text-anchor="middle" fill="#333">Voltage (V)</text>
<path d="M924.0,1035.6V1017.4M924.6,1040.4V1018.0M925.3,1038.8V1009.8M926.0,1037.9V1012.4M926.6,1035.2V1017.8M927.3,1040.4V1016.0M928.0,1040.0V1019.4M928.6,1038.1V1016.9M929.3,1036.5V1010.4M930.0,1038.2V1013.6M930.6,1037.2V1014.7M931.3,1039.9V1012.4M932.0,1036.7V1017.8M932.6,1035.0V1018.2M933.3,1035.4V1015.8M934.0,1039.0V1009.8M934.6,1037.1V1021.1M935.3,1036.4V1010.8M936.0,1040.6V1012.2M936.6,1034.5V1016.3M937.3,1038.1V1015.7M938.0,1036.8V1011.2M938.6,1039.9V1011.2M939.3,1040.2V1017.2M940.0,1037.2V1022.3M940.6,1036.0V1021.2M941.3,1035.1V1015.5M942.0,1037.5V1025.5M942.6,1035.3V1015.9M943.3,1034.5V1020.0M944.0,1041.0V1028.7M944.6,1034.6V1025.2M945.3,1035.7V1030.3M946.0,1041.2V1034.1M946.6,1041.0V1035.1M947.3,1040.2V1035.8M948.0,1038.0V1031.8M948.6,1036.2V1031.3M949.3,1035.6V1031.4M950.0,1040.2V1031.9M950.6,1037.0V1029.5M951.3,1040.2V1026.6M952.0,1036.3V1030.3M952.6,1035.5V1025.3M953.3,1035.1V1024.3M954.0,1040.2V1018.6M954.6,1040.0V1019.3M955.3,1038.1V1021.8M956.0,1034.1V1011.1M956.6,1037.8V1018.0M957.3,1037.4V1018.0M958.0,1035.3V1012.0M958.7,1039.9V1017.1M959.3,1036.2V1013.9M960.0,1036.7V998.4M960.7,1034.4V997.5M961.3,1039.8V999.2M962.0,1040.9V1006.3M962.7,1036.8V1005.5M963.3,1040.1V1001.7M964.0,1037.4V999.1M964.7,1035.0V995.7M965.3,1038.8V1005.4M966.0,1040.1V1001.3M966.7,1041.2V1008.7M967.3,1041.0V1016.9M968.0,1035.5V1000.5M968.7,1039.7V1005.2M969.3,1039.7V1011.9M970.0,1040.6V999.4M970.7,1034.3V1005.8M971.3,1040.6V1006.5M972.0,1037.7V1011.3M972.7,1040.7V1020.0M973.3,1037.5V1008.8M974.0,1038.7V1008.2M974.7,1039.1V1021.1M975.3,1034.9V1016.8M976.0,1039.3V1018.3M976.7,1041.0V1013.1M977.3,1037.5V1012.4M978.0,1038.5V1010.3M978.7,1035.3V1019.7M979.3,1034.8V1012.3M980.0,1038.7V1018.7M980.7,1038.7V1010.2M981.3,1035.3V1015.3M982.0,1036.4V1017.1M982.7,1038.1V1021.1M983.3,1039.5V1009.9M984.0,1038.2V1015.8M984.7,1037.3V1020.8M985.3,1035.6V1018.4M986.0,1038.7V1014.0M986.7,1034.6V1023.7M987.3,1039.8V1023.9M988.0,1036.7V1024.0M988.7,1034.3V1015.3M989.3,1040.2V1021.5M990.0,1038.7V1014.6M990.7,1039.5V1019.1M991.3,1034.3V1020.9M992.0,1040.7V1025.0M992.7,1040.7V1018.4M993.4,1041.1V1018.4" fill="none" stroke="#f4cfa0" stroke-width="0.6" />
<path d="M923.7,1035.6V1018.2M924.4,1040.4V1024.5M925.0,1038.8V1014.6M925.7,1037.9V1025.0M926.4,1035.2V1013.0M927.0,1040.4V1023.0M927.7,1040.0V1015.1M928.4,1038.1V1031.3M929.0,1036.5V1011.4M929.7,1038.2V1028.4M930.4,1037.2V1031.2M931.0,1039.9V1032.2M931.7,1036.7V1029.3M932.4,1035.0V1024.3M933.0,1035.4V1013.7M933.7,1039.0V1030.6M934.4,1037.1V1027.0M935.0,1036.4V1016.9M935.7,1040.6V1019.9M936.4,1034.5V1020.3M937.0,1038.1V1025.7M937.7,1036.8V1017.7M938.4,1039.9V1021.2M939.0,1040.2V1017.4M939.7,1037.2V1014.4M940.4,1036.0V1014.0M941.1,1035.1V1017.7M941.7,1037.5V1014.9M942.4,1035.3V1022.6M943.1,1034.5V1023.1M943.7,1041.0V1029.3M944.4,1034.6V1036.0M945.1,1035.7V1028.3M945.7,1041.2V1033.6M946.4,1041.0V1036.5M947.1,1040.2V1035.8M947.7,1038.0V1038.0M948.4,1036.2V1034.8M949.1,1035.6V1031.0M949.7,1040.2V1037.1M950.4,1037.0V1033.7M951.1,1040.2V1033.6M951.7,1036.3V1024.2M952.4,1035.5V1026.4M953.1,1035.1V1025.8M953.7,1040.2V1023.1M954.4,1040.0V1024.0M955.1,1038.1V1017.8M955.7,1034.1V1018.5M956.4,1037.8V1025.8M957.1,1037.4V1028.7M957.7,1035.3V1019.6M958.4,1039.9V1005.0M959.1,1036.2V1028.6M959.7,1036.7V1023.5M960.4,1034.4V1006.4M961.1,1039.8V1012.0M961.7,1040.9V1020.9M962.4,1036.8V1003.8M963.1,1040.1V1024.2M963.7,1037.4V1012.6M964.4,1035.0V1010.5M965.1,1038.8V1012.6M965.7,1040.1V1021.3M966.4,1041.2V1015.8M967.1,1041.0V1019.7M967.7,1035.5V1011.4M968.4,1039.7V1012.3M969.1,1039.7V1022.2M969.7,1040.6V1026.3M970.4,1034.3V1027.9M971.1,1040.6V1010.1M971.7,1037.7V1025.2M972.4,1040.7V1006.9M973.1,1037.5V1015.7M973.7,1038.7V1028.9M974.4,1039.1V1016.4M975.1,1034.9V1030.4M975.8,1039.3V1029.9M976.4,1041.0V1018.7M977.1,1037.5V1016.4M977.8,1038.5V1026.3M978.4,1035.3V1025.4M979.1,1034.8V1021.1M979.8,1038.7V1026.0M980.4,1038.7V1015.4M981.1,1035.3V1017.0M981.8,1036.4V1026.4M982.4,1038.1V1031.6M983.1,1039.5V1031.2M983.8,1038.2V1018.6M984.4,1037.3V1024.9M985.1,1035.6V1015.3M985.8,1038.7V1021.8M986.4,1034.6V1016.4M987.1,1039.8V1015.3M987.8,1036.7V1025.3M988.4,1034.3V1021.1M989.1,1040.2V1017.8M989.8,1038.7V1029.1M990.4,1039.5V1015.3M991.1,1034.3V1022.8M991.8,1040.7V1032.0M992.4,1040.7V1025.7M993.1,1041.1V1030.9" fill="none" stroke="#e9a254" stroke-width="0.65" />
<rect x="919.7" y="992.0" width="77.4" height="52.4" fill="none" stroke="#222" stroke-width="1" />
<line x1="923.7" y1="1044.4" x2="923.7" y2="1045.9" stroke="#222" stroke-width="0.6" />
<text x="923.7" y="1050.8" font-size="4.6" fill="#333" text-anchor="middle">0</text>
<line x1="937.6" y1="1044.4" x2="937.6" y2="1045.9" stroke="#222" stroke-width="0.6" />
<text x="937.6" y="1050.8" font-size="4.6" fill="#333" text-anchor="middle">2</text>
<line x1="951.5" y1="1044.4" x2="951.5" y2="1045.9" stroke="#222" stroke-width="0.6" />
<text x="951.5" y="1050.8" font-size="4.6" fill="#333" text-anchor="middle">4</text>
<line x1="965.3" y1="1044.4" x2="965.3" y2="1045.9" stroke="#222" stroke-width="0.6" />
<text x="965.3" y="1050.8" font-size="4.6" fill="#333" text-anchor="middle">6</text>
<line x1="979.2" y1="1044.4" x2="979.2" y2="1045.9" stroke="#222" stroke-width="0.6" />
<text x="979.2" y="1050.8" font-size="4.6" fill="#333" text-anchor="middle">8</text>
<line x1="993.1" y1="1044.4" x2="993.1" y2="1045.9" stroke="#222" stroke-width="0.6" />
<text x="993.1" y="1050.8" font-size="4.6" fill="#333" text-anchor="middle">10</text>
<text x="958.4" y="1056.0" font-size="4.6" font-weight="bold" fill="#333" text-anchor="middle">Time (s)</text>
<line x1="918.2" y1="1041.4" x2="919.7" y2="1041.4" stroke="#222" stroke-width="0.6" />
<text x="917.5" y="1043.0" font-size="4.4" fill="#333" text-anchor="end">0.00</text>
<line x1="918.2" y1="1030.3" x2="919.7" y2="1030.3" stroke="#222" stroke-width="0.6" />
<text x="917.5" y="1031.9" font-size="4.4" fill="#333" text-anchor="end">0.05</text>
<line x1="918.2" y1="1019.2" x2="919.7" y2="1019.2" stroke="#222" stroke-width="0.6" />
<text x="917.5" y="1020.8" font-size="4.4" fill="#333" text-anchor="end">0.10</text>
<line x1="918.2" y1="1008.1" x2="919.7" y2="1008.1" stroke="#222" stroke-width="0.6" />
<text x="917.5" y="1009.7" font-size="4.4" fill="#333" text-anchor="end">0.15</text>
<line x1="918.2" y1="997.0" x2="919.7" y2="997.0" stroke="#222" stroke-width="0.6" />
<text x="917.5" y="998.6" font-size="4.4" fill="#333" text-anchor="end">0.20</text>
<text transform="translate(907.7,1018.2) rotate(-90)" font-size="4.8" text-anchor="middle" fill="#333">Current (mA)</text>
</svg>
</body></html>
